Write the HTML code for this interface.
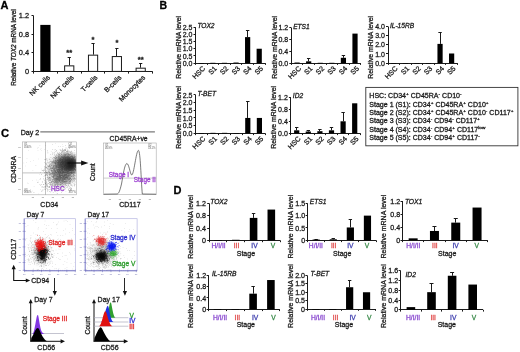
<!DOCTYPE html><html><head><meta charset="utf-8"><style>html,body{margin:0;padding:0;background:#fff;}svg{display:block;will-change:transform;filter:blur(0.3px);}</style></head><body><svg width="520" height="352" viewBox="0 0 520 352" font-family='"Liberation Sans", sans-serif'>
<style>text{stroke-width:0.28px;}</style>
<rect width="520" height="352" fill="#fff"/>
<text x="0.40" y="8.90" font-size="11.0" text-anchor="start" fill="#000" stroke="#000" font-weight="bold">A</text>
<text x="159.50" y="9.00" font-size="10.5" text-anchor="start" fill="#000" stroke="#000" font-weight="bold">B</text>
<text x="0.90" y="136.80" font-size="11.2" text-anchor="start" fill="#000" stroke="#000" font-weight="bold">C</text>
<text x="173.50" y="194.30" font-size="11.0" text-anchor="start" fill="#000" stroke="#000" font-weight="bold">D</text>
<line x1="33.50" y1="15.60" x2="33.50" y2="71.80" stroke="#1a1a1a" stroke-width="1.0"/>
<line x1="31.50" y1="15.50" x2="33.50" y2="15.50" stroke="#1a1a1a" stroke-width="1.0"/>
<text x="29.10" y="18.10" font-size="7.4" text-anchor="end" fill="#1a1a1a" stroke="#1a1a1a">1.2</text>
<line x1="31.50" y1="34.50" x2="33.50" y2="34.50" stroke="#1a1a1a" stroke-width="1.0"/>
<text x="29.10" y="36.70" font-size="7.4" text-anchor="end" fill="#1a1a1a" stroke="#1a1a1a">0.8</text>
<line x1="31.50" y1="52.50" x2="33.50" y2="52.50" stroke="#1a1a1a" stroke-width="1.0"/>
<text x="29.10" y="55.30" font-size="7.4" text-anchor="end" fill="#1a1a1a" stroke="#1a1a1a">0.4</text>
<line x1="31.50" y1="71.50" x2="33.50" y2="71.50" stroke="#1a1a1a" stroke-width="1.0"/>
<text x="29.10" y="73.90" font-size="7.4" text-anchor="end" fill="#1a1a1a" stroke="#1a1a1a">0</text>
<line x1="33.10" y1="71.50" x2="152.60" y2="71.50" stroke="#1a1a1a" stroke-width="1.0"/>
<line x1="33.50" y1="71.40" x2="33.50" y2="73.60" stroke="#1a1a1a" stroke-width="1.0"/>
<line x1="57.50" y1="71.40" x2="57.50" y2="73.60" stroke="#1a1a1a" stroke-width="1.0"/>
<line x1="81.50" y1="71.40" x2="81.50" y2="73.60" stroke="#1a1a1a" stroke-width="1.0"/>
<line x1="104.50" y1="71.40" x2="104.50" y2="73.60" stroke="#1a1a1a" stroke-width="1.0"/>
<line x1="128.50" y1="71.40" x2="128.50" y2="73.60" stroke="#1a1a1a" stroke-width="1.0"/>
<line x1="152.50" y1="71.40" x2="152.50" y2="73.60" stroke="#1a1a1a" stroke-width="1.0"/>
<rect x="40.31" y="24.90" width="10.20" height="46.50" fill="#000" stroke="none" stroke-width="0.8"/>
<line x1="69.50" y1="57.92" x2="69.50" y2="65.36" stroke="#1a1a1a" stroke-width="1.0"/>
<line x1="67.63" y1="57.50" x2="70.83" y2="57.50" stroke="#1a1a1a" stroke-width="1.0"/>
<rect x="64.63" y="65.86" width="9.20" height="5.55" fill="#fff" stroke="#1a1a1a" stroke-width="1.0"/>
<line x1="93.50" y1="43.50" x2="93.50" y2="54.66" stroke="#1a1a1a" stroke-width="1.0"/>
<line x1="91.45" y1="43.50" x2="94.65" y2="43.50" stroke="#1a1a1a" stroke-width="1.0"/>
<rect x="88.45" y="55.16" width="9.20" height="16.24" fill="#fff" stroke="#1a1a1a" stroke-width="1.0"/>
<line x1="116.50" y1="48.62" x2="116.50" y2="56.06" stroke="#1a1a1a" stroke-width="1.0"/>
<line x1="115.27" y1="48.50" x2="118.47" y2="48.50" stroke="#1a1a1a" stroke-width="1.0"/>
<rect x="112.27" y="56.56" width="9.20" height="14.85" fill="#fff" stroke="#1a1a1a" stroke-width="1.0"/>
<line x1="140.50" y1="63.03" x2="140.50" y2="67.68" stroke="#1a1a1a" stroke-width="1.0"/>
<line x1="139.09" y1="63.50" x2="142.29" y2="63.50" stroke="#1a1a1a" stroke-width="1.0"/>
<rect x="136.09" y="68.18" width="9.20" height="3.22" fill="#fff" stroke="#1a1a1a" stroke-width="1.0"/>
<text x="69.23" y="55.00" font-size="7.6" text-anchor="middle" fill="#1a1a1a" stroke="#1a1a1a" font-weight="bold">**</text>
<text x="93.05" y="42.30" font-size="7.6" text-anchor="middle" fill="#1a1a1a" stroke="#1a1a1a" font-weight="bold">*</text>
<text x="116.87" y="45.30" font-size="7.6" text-anchor="middle" fill="#1a1a1a" stroke="#1a1a1a" font-weight="bold">*</text>
<text x="140.69" y="61.60" font-size="7.6" text-anchor="middle" fill="#1a1a1a" stroke="#1a1a1a" font-weight="bold">**</text>
<text x="50.41" y="78.00" font-size="7.0" text-anchor="end" fill="#1a1a1a" stroke="#1a1a1a" transform="rotate(-45 50.41 78.00)">NK cells</text>
<text x="74.23" y="78.00" font-size="7.0" text-anchor="end" fill="#1a1a1a" stroke="#1a1a1a" transform="rotate(-45 74.23 78.00)">NKT cells</text>
<text x="98.05" y="78.00" font-size="7.0" text-anchor="end" fill="#1a1a1a" stroke="#1a1a1a" transform="rotate(-45 98.05 78.00)">T-cells</text>
<text x="121.87" y="78.00" font-size="7.0" text-anchor="end" fill="#1a1a1a" stroke="#1a1a1a" transform="rotate(-45 121.87 78.00)">B-cells</text>
<text x="145.69" y="78.00" font-size="7.0" text-anchor="end" fill="#1a1a1a" stroke="#1a1a1a" transform="rotate(-45 145.69 78.00)">Monocytes</text>
<text x="15.6" y="47.6" font-size="6.4" text-anchor="middle" fill="#1a1a1a" stroke="#1a1a1a" transform="translate(15.6 47.6) scale(1.15 1) rotate(-90) translate(-15.6 -47.6)">Relative <tspan font-style="italic">TOX2</tspan> mRNA level</text>
<line x1="195.50" y1="27.20" x2="195.50" y2="63.50" stroke="#1a1a1a" stroke-width="1.0"/>
<line x1="193.50" y1="27.50" x2="195.50" y2="27.50" stroke="#1a1a1a" stroke-width="1.0"/>
<text x="192.40" y="29.80" font-size="7.0" text-anchor="end" fill="#1a1a1a" stroke="#1a1a1a">2.5</text>
<line x1="193.50" y1="34.50" x2="195.50" y2="34.50" stroke="#1a1a1a" stroke-width="1.0"/>
<text x="192.40" y="36.98" font-size="7.0" text-anchor="end" fill="#1a1a1a" stroke="#1a1a1a">2.0</text>
<line x1="193.50" y1="41.50" x2="195.50" y2="41.50" stroke="#1a1a1a" stroke-width="1.0"/>
<text x="192.40" y="44.16" font-size="7.0" text-anchor="end" fill="#1a1a1a" stroke="#1a1a1a">1.5</text>
<line x1="193.50" y1="48.50" x2="195.50" y2="48.50" stroke="#1a1a1a" stroke-width="1.0"/>
<text x="192.40" y="51.34" font-size="7.0" text-anchor="end" fill="#1a1a1a" stroke="#1a1a1a">1.0</text>
<line x1="193.50" y1="55.50" x2="195.50" y2="55.50" stroke="#1a1a1a" stroke-width="1.0"/>
<text x="192.40" y="58.52" font-size="7.0" text-anchor="end" fill="#1a1a1a" stroke="#1a1a1a">0.5</text>
<line x1="193.50" y1="63.50" x2="195.50" y2="63.50" stroke="#1a1a1a" stroke-width="1.0"/>
<text x="192.40" y="65.70" font-size="7.0" text-anchor="end" fill="#1a1a1a" stroke="#1a1a1a">0.0</text>
<line x1="195.10" y1="63.50" x2="265.00" y2="63.50" stroke="#1a1a1a" stroke-width="1.0"/>
<line x1="195.50" y1="63.10" x2="195.50" y2="64.90" stroke="#1a1a1a" stroke-width="1.0"/>
<line x1="207.50" y1="63.10" x2="207.50" y2="64.90" stroke="#1a1a1a" stroke-width="1.0"/>
<line x1="218.50" y1="63.10" x2="218.50" y2="64.90" stroke="#1a1a1a" stroke-width="1.0"/>
<line x1="230.50" y1="63.10" x2="230.50" y2="64.90" stroke="#1a1a1a" stroke-width="1.0"/>
<line x1="241.50" y1="63.10" x2="241.50" y2="64.90" stroke="#1a1a1a" stroke-width="1.0"/>
<line x1="253.50" y1="63.10" x2="253.50" y2="64.90" stroke="#1a1a1a" stroke-width="1.0"/>
<line x1="265.50" y1="63.10" x2="265.50" y2="64.90" stroke="#1a1a1a" stroke-width="1.0"/>
<rect x="198.69" y="63.10" width="5.20" height="0.60" fill="#000" stroke="none" stroke-width="0.8"/>
<rect x="210.28" y="62.81" width="5.20" height="0.60" fill="#000" stroke="none" stroke-width="0.8"/>
<rect x="221.86" y="62.81" width="5.20" height="0.60" fill="#000" stroke="none" stroke-width="0.8"/>
<rect x="233.44" y="62.53" width="5.20" height="0.60" fill="#000" stroke="none" stroke-width="0.8"/>
<line x1="247.50" y1="30.22" x2="247.50" y2="37.11" stroke="#1a1a1a" stroke-width="1.0"/>
<line x1="245.93" y1="30.50" x2="249.32" y2="30.50" stroke="#1a1a1a" stroke-width="1.0"/>
<rect x="245.03" y="37.11" width="5.20" height="25.99" fill="#000" stroke="none" stroke-width="0.8"/>
<rect x="256.61" y="48.74" width="5.20" height="14.36" fill="#000" stroke="none" stroke-width="0.8"/>
<text x="197.40" y="28.30" font-size="6.6" text-anchor="start" fill="#1a1a1a" stroke="#1a1a1a" font-style="italic">TOX2</text>
<text x="205.69" y="69.00" font-size="7.0" text-anchor="end" fill="#1a1a1a" stroke="#1a1a1a" transform="rotate(-45 205.69 69.00)">HSC</text>
<text x="217.28" y="69.00" font-size="7.0" text-anchor="end" fill="#1a1a1a" stroke="#1a1a1a" transform="rotate(-45 217.28 69.00)">S1</text>
<text x="228.86" y="69.00" font-size="7.0" text-anchor="end" fill="#1a1a1a" stroke="#1a1a1a" transform="rotate(-45 228.86 69.00)">S2</text>
<text x="240.44" y="69.00" font-size="7.0" text-anchor="end" fill="#1a1a1a" stroke="#1a1a1a" transform="rotate(-45 240.44 69.00)">S3</text>
<text x="252.03" y="69.00" font-size="7.0" text-anchor="end" fill="#1a1a1a" stroke="#1a1a1a" transform="rotate(-45 252.03 69.00)">S4</text>
<text x="263.61" y="69.00" font-size="7.0" text-anchor="end" fill="#1a1a1a" stroke="#1a1a1a" transform="rotate(-45 263.61 69.00)">S5</text>
<text x="180.70" y="47.30" font-size="6.9" text-anchor="middle" fill="#1a1a1a" stroke="#1a1a1a" transform="rotate(-90 180.70 47.30)">Relative mRNA level</text>
<line x1="291.50" y1="27.70" x2="291.50" y2="63.50" stroke="#1a1a1a" stroke-width="1.0"/>
<line x1="289.30" y1="27.50" x2="291.30" y2="27.50" stroke="#1a1a1a" stroke-width="1.0"/>
<text x="288.20" y="30.30" font-size="7.0" text-anchor="end" fill="#1a1a1a" stroke="#1a1a1a">1.2</text>
<line x1="289.30" y1="39.50" x2="291.30" y2="39.50" stroke="#1a1a1a" stroke-width="1.0"/>
<text x="288.20" y="42.10" font-size="7.0" text-anchor="end" fill="#1a1a1a" stroke="#1a1a1a">0.8</text>
<line x1="289.30" y1="51.50" x2="291.30" y2="51.50" stroke="#1a1a1a" stroke-width="1.0"/>
<text x="288.20" y="53.90" font-size="7.0" text-anchor="end" fill="#1a1a1a" stroke="#1a1a1a">0.4</text>
<line x1="289.30" y1="63.50" x2="291.30" y2="63.50" stroke="#1a1a1a" stroke-width="1.0"/>
<text x="288.20" y="65.70" font-size="7.0" text-anchor="end" fill="#1a1a1a" stroke="#1a1a1a">0.0</text>
<line x1="290.90" y1="63.50" x2="360.80" y2="63.50" stroke="#1a1a1a" stroke-width="1.0"/>
<line x1="291.50" y1="63.10" x2="291.50" y2="64.90" stroke="#1a1a1a" stroke-width="1.0"/>
<line x1="302.50" y1="63.10" x2="302.50" y2="64.90" stroke="#1a1a1a" stroke-width="1.0"/>
<line x1="314.50" y1="63.10" x2="314.50" y2="64.90" stroke="#1a1a1a" stroke-width="1.0"/>
<line x1="326.50" y1="63.10" x2="326.50" y2="64.90" stroke="#1a1a1a" stroke-width="1.0"/>
<line x1="337.50" y1="63.10" x2="337.50" y2="64.90" stroke="#1a1a1a" stroke-width="1.0"/>
<line x1="349.50" y1="63.10" x2="349.50" y2="64.90" stroke="#1a1a1a" stroke-width="1.0"/>
<line x1="360.50" y1="63.10" x2="360.50" y2="64.90" stroke="#1a1a1a" stroke-width="1.0"/>
<rect x="294.49" y="62.51" width="5.20" height="0.60" fill="#000" stroke="none" stroke-width="0.8"/>
<line x1="308.50" y1="58.97" x2="308.50" y2="61.33" stroke="#1a1a1a" stroke-width="1.0"/>
<line x1="306.98" y1="58.50" x2="310.38" y2="58.50" stroke="#1a1a1a" stroke-width="1.0"/>
<rect x="306.07" y="61.33" width="5.20" height="1.77" fill="#000" stroke="none" stroke-width="0.8"/>
<rect x="317.66" y="62.80" width="5.20" height="0.60" fill="#000" stroke="none" stroke-width="0.8"/>
<rect x="329.24" y="62.80" width="5.20" height="0.60" fill="#000" stroke="none" stroke-width="0.8"/>
<line x1="343.50" y1="55.43" x2="343.50" y2="57.79" stroke="#1a1a1a" stroke-width="1.0"/>
<line x1="341.73" y1="55.50" x2="345.12" y2="55.50" stroke="#1a1a1a" stroke-width="1.0"/>
<rect x="340.82" y="57.79" width="5.20" height="5.31" fill="#000" stroke="none" stroke-width="0.8"/>
<rect x="352.41" y="33.60" width="5.20" height="29.50" fill="#000" stroke="none" stroke-width="0.8"/>
<text x="293.20" y="28.80" font-size="6.6" text-anchor="start" fill="#1a1a1a" stroke="#1a1a1a" font-style="italic">ETS1</text>
<text x="301.49" y="69.00" font-size="7.0" text-anchor="end" fill="#1a1a1a" stroke="#1a1a1a" transform="rotate(-45 301.49 69.00)">HSC</text>
<text x="313.07" y="69.00" font-size="7.0" text-anchor="end" fill="#1a1a1a" stroke="#1a1a1a" transform="rotate(-45 313.07 69.00)">S1</text>
<text x="324.66" y="69.00" font-size="7.0" text-anchor="end" fill="#1a1a1a" stroke="#1a1a1a" transform="rotate(-45 324.66 69.00)">S2</text>
<text x="336.24" y="69.00" font-size="7.0" text-anchor="end" fill="#1a1a1a" stroke="#1a1a1a" transform="rotate(-45 336.24 69.00)">S3</text>
<text x="347.82" y="69.00" font-size="7.0" text-anchor="end" fill="#1a1a1a" stroke="#1a1a1a" transform="rotate(-45 347.82 69.00)">S4</text>
<text x="359.41" y="69.00" font-size="7.0" text-anchor="end" fill="#1a1a1a" stroke="#1a1a1a" transform="rotate(-45 359.41 69.00)">S5</text>
<text x="276.60" y="47.30" font-size="6.9" text-anchor="middle" fill="#1a1a1a" stroke="#1a1a1a" transform="rotate(-90 276.60 47.30)">Relative mRNA level</text>
<line x1="388.50" y1="26.50" x2="388.50" y2="63.50" stroke="#1a1a1a" stroke-width="1.0"/>
<line x1="386.00" y1="26.50" x2="388.00" y2="26.50" stroke="#1a1a1a" stroke-width="1.0"/>
<text x="384.90" y="29.10" font-size="7.0" text-anchor="end" fill="#1a1a1a" stroke="#1a1a1a">4.0</text>
<line x1="386.00" y1="35.50" x2="388.00" y2="35.50" stroke="#1a1a1a" stroke-width="1.0"/>
<text x="384.90" y="38.25" font-size="7.0" text-anchor="end" fill="#1a1a1a" stroke="#1a1a1a">3.0</text>
<line x1="386.00" y1="44.50" x2="388.00" y2="44.50" stroke="#1a1a1a" stroke-width="1.0"/>
<text x="384.90" y="47.40" font-size="7.0" text-anchor="end" fill="#1a1a1a" stroke="#1a1a1a">2.0</text>
<line x1="386.00" y1="53.50" x2="388.00" y2="53.50" stroke="#1a1a1a" stroke-width="1.0"/>
<text x="384.90" y="56.55" font-size="7.0" text-anchor="end" fill="#1a1a1a" stroke="#1a1a1a">1.0</text>
<line x1="386.00" y1="63.50" x2="388.00" y2="63.50" stroke="#1a1a1a" stroke-width="1.0"/>
<text x="384.90" y="65.70" font-size="7.0" text-anchor="end" fill="#1a1a1a" stroke="#1a1a1a">0.0</text>
<line x1="387.60" y1="63.50" x2="457.40" y2="63.50" stroke="#1a1a1a" stroke-width="1.0"/>
<line x1="388.50" y1="63.10" x2="388.50" y2="64.90" stroke="#1a1a1a" stroke-width="1.0"/>
<line x1="399.50" y1="63.10" x2="399.50" y2="64.90" stroke="#1a1a1a" stroke-width="1.0"/>
<line x1="411.50" y1="63.10" x2="411.50" y2="64.90" stroke="#1a1a1a" stroke-width="1.0"/>
<line x1="422.50" y1="63.10" x2="422.50" y2="64.90" stroke="#1a1a1a" stroke-width="1.0"/>
<line x1="434.50" y1="63.10" x2="434.50" y2="64.90" stroke="#1a1a1a" stroke-width="1.0"/>
<line x1="445.50" y1="63.10" x2="445.50" y2="64.90" stroke="#1a1a1a" stroke-width="1.0"/>
<line x1="457.50" y1="63.10" x2="457.50" y2="64.90" stroke="#1a1a1a" stroke-width="1.0"/>
<rect x="391.18" y="63.10" width="5.20" height="0.60" fill="#000" stroke="none" stroke-width="0.8"/>
<rect x="402.75" y="63.10" width="5.20" height="0.60" fill="#000" stroke="none" stroke-width="0.8"/>
<rect x="414.32" y="63.10" width="5.20" height="0.60" fill="#000" stroke="none" stroke-width="0.8"/>
<rect x="425.88" y="63.10" width="5.20" height="0.60" fill="#000" stroke="none" stroke-width="0.8"/>
<line x1="440.50" y1="32.36" x2="440.50" y2="43.89" stroke="#1a1a1a" stroke-width="1.0"/>
<line x1="438.35" y1="32.50" x2="441.75" y2="32.50" stroke="#1a1a1a" stroke-width="1.0"/>
<rect x="437.45" y="43.89" width="5.20" height="19.21" fill="#000" stroke="none" stroke-width="0.8"/>
<rect x="449.02" y="53.49" width="5.20" height="9.61" fill="#000" stroke="none" stroke-width="0.8"/>
<text x="389.90" y="27.60" font-size="6.6" text-anchor="start" fill="#1a1a1a" stroke="#1a1a1a" font-style="italic">IL-15RB</text>
<text x="398.18" y="69.00" font-size="7.0" text-anchor="end" fill="#1a1a1a" stroke="#1a1a1a" transform="rotate(-45 398.18 69.00)">HSC</text>
<text x="409.75" y="69.00" font-size="7.0" text-anchor="end" fill="#1a1a1a" stroke="#1a1a1a" transform="rotate(-45 409.75 69.00)">S1</text>
<text x="421.32" y="69.00" font-size="7.0" text-anchor="end" fill="#1a1a1a" stroke="#1a1a1a" transform="rotate(-45 421.32 69.00)">S2</text>
<text x="432.88" y="69.00" font-size="7.0" text-anchor="end" fill="#1a1a1a" stroke="#1a1a1a" transform="rotate(-45 432.88 69.00)">S3</text>
<text x="444.45" y="69.00" font-size="7.0" text-anchor="end" fill="#1a1a1a" stroke="#1a1a1a" transform="rotate(-45 444.45 69.00)">S4</text>
<text x="456.02" y="69.00" font-size="7.0" text-anchor="end" fill="#1a1a1a" stroke="#1a1a1a" transform="rotate(-45 456.02 69.00)">S5</text>
<text x="373.30" y="47.30" font-size="6.9" text-anchor="middle" fill="#1a1a1a" stroke="#1a1a1a" transform="rotate(-90 373.30 47.30)">Relative mRNA level</text>
<line x1="195.50" y1="94.90" x2="195.50" y2="133.70" stroke="#1a1a1a" stroke-width="1.0"/>
<line x1="193.60" y1="94.50" x2="195.60" y2="94.50" stroke="#1a1a1a" stroke-width="1.0"/>
<text x="192.50" y="97.50" font-size="7.0" text-anchor="end" fill="#1a1a1a" stroke="#1a1a1a">2.5</text>
<line x1="193.60" y1="102.50" x2="195.60" y2="102.50" stroke="#1a1a1a" stroke-width="1.0"/>
<text x="192.50" y="105.18" font-size="7.0" text-anchor="end" fill="#1a1a1a" stroke="#1a1a1a">2.0</text>
<line x1="193.60" y1="110.50" x2="195.60" y2="110.50" stroke="#1a1a1a" stroke-width="1.0"/>
<text x="192.50" y="112.86" font-size="7.0" text-anchor="end" fill="#1a1a1a" stroke="#1a1a1a">1.5</text>
<line x1="193.60" y1="117.50" x2="195.60" y2="117.50" stroke="#1a1a1a" stroke-width="1.0"/>
<text x="192.50" y="120.54" font-size="7.0" text-anchor="end" fill="#1a1a1a" stroke="#1a1a1a">1.0</text>
<line x1="193.60" y1="125.50" x2="195.60" y2="125.50" stroke="#1a1a1a" stroke-width="1.0"/>
<text x="192.50" y="128.22" font-size="7.0" text-anchor="end" fill="#1a1a1a" stroke="#1a1a1a">0.5</text>
<line x1="193.60" y1="133.50" x2="195.60" y2="133.50" stroke="#1a1a1a" stroke-width="1.0"/>
<text x="192.50" y="135.90" font-size="7.0" text-anchor="end" fill="#1a1a1a" stroke="#1a1a1a">0.0</text>
<line x1="195.20" y1="133.50" x2="265.20" y2="133.50" stroke="#1a1a1a" stroke-width="1.0"/>
<line x1="195.50" y1="133.30" x2="195.50" y2="135.10" stroke="#1a1a1a" stroke-width="1.0"/>
<line x1="207.50" y1="133.30" x2="207.50" y2="135.10" stroke="#1a1a1a" stroke-width="1.0"/>
<line x1="218.50" y1="133.30" x2="218.50" y2="135.10" stroke="#1a1a1a" stroke-width="1.0"/>
<line x1="230.50" y1="133.30" x2="230.50" y2="135.10" stroke="#1a1a1a" stroke-width="1.0"/>
<line x1="242.50" y1="133.30" x2="242.50" y2="135.10" stroke="#1a1a1a" stroke-width="1.0"/>
<line x1="253.50" y1="133.30" x2="253.50" y2="135.10" stroke="#1a1a1a" stroke-width="1.0"/>
<line x1="265.50" y1="133.30" x2="265.50" y2="135.10" stroke="#1a1a1a" stroke-width="1.0"/>
<rect x="198.80" y="133.30" width="5.20" height="0.60" fill="#000" stroke="none" stroke-width="0.8"/>
<rect x="210.40" y="132.84" width="5.20" height="0.60" fill="#000" stroke="none" stroke-width="0.8"/>
<rect x="222.00" y="132.84" width="5.20" height="0.60" fill="#000" stroke="none" stroke-width="0.8"/>
<rect x="233.60" y="133.30" width="5.20" height="0.60" fill="#000" stroke="none" stroke-width="0.8"/>
<line x1="247.50" y1="101.04" x2="247.50" y2="117.94" stroke="#1a1a1a" stroke-width="1.0"/>
<line x1="246.10" y1="101.50" x2="249.50" y2="101.50" stroke="#1a1a1a" stroke-width="1.0"/>
<rect x="245.20" y="117.94" width="5.20" height="15.36" fill="#000" stroke="none" stroke-width="0.8"/>
<rect x="256.80" y="117.94" width="5.20" height="15.36" fill="#000" stroke="none" stroke-width="0.8"/>
<text x="197.50" y="96.00" font-size="6.6" text-anchor="start" fill="#1a1a1a" stroke="#1a1a1a" font-style="italic">T-BET</text>
<text x="205.80" y="139.20" font-size="7.0" text-anchor="end" fill="#1a1a1a" stroke="#1a1a1a" transform="rotate(-45 205.80 139.20)">HSC</text>
<text x="217.40" y="139.20" font-size="7.0" text-anchor="end" fill="#1a1a1a" stroke="#1a1a1a" transform="rotate(-45 217.40 139.20)">S1</text>
<text x="229.00" y="139.20" font-size="7.0" text-anchor="end" fill="#1a1a1a" stroke="#1a1a1a" transform="rotate(-45 229.00 139.20)">S2</text>
<text x="240.60" y="139.20" font-size="7.0" text-anchor="end" fill="#1a1a1a" stroke="#1a1a1a" transform="rotate(-45 240.60 139.20)">S3</text>
<text x="252.20" y="139.20" font-size="7.0" text-anchor="end" fill="#1a1a1a" stroke="#1a1a1a" transform="rotate(-45 252.20 139.20)">S4</text>
<text x="263.80" y="139.20" font-size="7.0" text-anchor="end" fill="#1a1a1a" stroke="#1a1a1a" transform="rotate(-45 263.80 139.20)">S5</text>
<text x="180.70" y="117.30" font-size="6.9" text-anchor="middle" fill="#1a1a1a" stroke="#1a1a1a" transform="rotate(-90 180.70 117.30)">Relative mRNA level</text>
<line x1="290.50" y1="97.30" x2="290.50" y2="133.70" stroke="#1a1a1a" stroke-width="1.0"/>
<line x1="288.90" y1="97.50" x2="290.90" y2="97.50" stroke="#1a1a1a" stroke-width="1.0"/>
<text x="287.80" y="99.90" font-size="7.0" text-anchor="end" fill="#1a1a1a" stroke="#1a1a1a">1.2</text>
<line x1="288.90" y1="109.50" x2="290.90" y2="109.50" stroke="#1a1a1a" stroke-width="1.0"/>
<text x="287.80" y="111.90" font-size="7.0" text-anchor="end" fill="#1a1a1a" stroke="#1a1a1a">0.8</text>
<line x1="288.90" y1="121.50" x2="290.90" y2="121.50" stroke="#1a1a1a" stroke-width="1.0"/>
<text x="287.80" y="123.90" font-size="7.0" text-anchor="end" fill="#1a1a1a" stroke="#1a1a1a">0.4</text>
<line x1="288.90" y1="133.50" x2="290.90" y2="133.50" stroke="#1a1a1a" stroke-width="1.0"/>
<text x="287.80" y="135.90" font-size="7.0" text-anchor="end" fill="#1a1a1a" stroke="#1a1a1a">0.0</text>
<line x1="290.50" y1="133.50" x2="360.50" y2="133.50" stroke="#1a1a1a" stroke-width="1.0"/>
<line x1="290.50" y1="133.30" x2="290.50" y2="135.10" stroke="#1a1a1a" stroke-width="1.0"/>
<line x1="302.50" y1="133.30" x2="302.50" y2="135.10" stroke="#1a1a1a" stroke-width="1.0"/>
<line x1="314.50" y1="133.30" x2="314.50" y2="135.10" stroke="#1a1a1a" stroke-width="1.0"/>
<line x1="325.50" y1="133.30" x2="325.50" y2="135.10" stroke="#1a1a1a" stroke-width="1.0"/>
<line x1="337.50" y1="133.30" x2="337.50" y2="135.10" stroke="#1a1a1a" stroke-width="1.0"/>
<line x1="348.50" y1="133.30" x2="348.50" y2="135.10" stroke="#1a1a1a" stroke-width="1.0"/>
<line x1="360.50" y1="133.30" x2="360.50" y2="135.10" stroke="#1a1a1a" stroke-width="1.0"/>
<line x1="296.50" y1="127.30" x2="296.50" y2="130.30" stroke="#1a1a1a" stroke-width="1.0"/>
<line x1="295.00" y1="127.50" x2="298.40" y2="127.50" stroke="#1a1a1a" stroke-width="1.0"/>
<rect x="294.10" y="130.30" width="5.20" height="3.00" fill="#000" stroke="none" stroke-width="0.8"/>
<line x1="308.50" y1="130.30" x2="308.50" y2="131.50" stroke="#1a1a1a" stroke-width="1.0"/>
<line x1="306.60" y1="130.50" x2="310.00" y2="130.50" stroke="#1a1a1a" stroke-width="1.0"/>
<rect x="305.70" y="131.50" width="5.20" height="1.80" fill="#000" stroke="none" stroke-width="0.8"/>
<line x1="319.50" y1="129.40" x2="319.50" y2="131.20" stroke="#1a1a1a" stroke-width="1.0"/>
<line x1="318.20" y1="129.50" x2="321.60" y2="129.50" stroke="#1a1a1a" stroke-width="1.0"/>
<rect x="317.30" y="131.20" width="5.20" height="2.10" fill="#000" stroke="none" stroke-width="0.8"/>
<line x1="331.50" y1="127.90" x2="331.50" y2="130.30" stroke="#1a1a1a" stroke-width="1.0"/>
<line x1="329.80" y1="127.50" x2="333.20" y2="127.50" stroke="#1a1a1a" stroke-width="1.0"/>
<rect x="328.90" y="130.30" width="5.20" height="3.00" fill="#000" stroke="none" stroke-width="0.8"/>
<line x1="343.50" y1="112.30" x2="343.50" y2="121.30" stroke="#1a1a1a" stroke-width="1.0"/>
<line x1="341.40" y1="112.50" x2="344.80" y2="112.50" stroke="#1a1a1a" stroke-width="1.0"/>
<rect x="340.50" y="121.30" width="5.20" height="12.00" fill="#000" stroke="none" stroke-width="0.8"/>
<rect x="352.10" y="103.30" width="5.20" height="30.00" fill="#000" stroke="none" stroke-width="0.8"/>
<text x="292.80" y="98.40" font-size="6.6" text-anchor="start" fill="#1a1a1a" stroke="#1a1a1a" font-style="italic">ID2</text>
<text x="301.10" y="139.20" font-size="7.0" text-anchor="end" fill="#1a1a1a" stroke="#1a1a1a" transform="rotate(-45 301.10 139.20)">HSC</text>
<text x="312.70" y="139.20" font-size="7.0" text-anchor="end" fill="#1a1a1a" stroke="#1a1a1a" transform="rotate(-45 312.70 139.20)">S1</text>
<text x="324.30" y="139.20" font-size="7.0" text-anchor="end" fill="#1a1a1a" stroke="#1a1a1a" transform="rotate(-45 324.30 139.20)">S2</text>
<text x="335.90" y="139.20" font-size="7.0" text-anchor="end" fill="#1a1a1a" stroke="#1a1a1a" transform="rotate(-45 335.90 139.20)">S3</text>
<text x="347.50" y="139.20" font-size="7.0" text-anchor="end" fill="#1a1a1a" stroke="#1a1a1a" transform="rotate(-45 347.50 139.20)">S4</text>
<text x="359.10" y="139.20" font-size="7.0" text-anchor="end" fill="#1a1a1a" stroke="#1a1a1a" transform="rotate(-45 359.10 139.20)">S5</text>
<text x="276.20" y="117.30" font-size="6.9" text-anchor="middle" fill="#1a1a1a" stroke="#1a1a1a" transform="rotate(-90 276.20 117.30)">Relative mRNA level</text>
<rect x="365.80" y="87.40" width="152.10" height="58.40" fill="none" stroke="#333" stroke-width="0.9"/>
<text x="369.3" y="98.00" font-size="6.41" fill="#1a1a1a" stroke="#1a1a1a" transform="translate(369.3 98.00) scale(1.1 1) translate(-369.3 -98.00)">HSC: CD34<tspan dy="-3" font-size="4.3">+</tspan><tspan dy="3"> CD45RA</tspan><tspan dy="-3" font-size="4.3">-</tspan><tspan dy="3"> CD10</tspan><tspan dy="-3" font-size="4.3">-</tspan></text>
<text x="369.3" y="107.00" font-size="6.41" fill="#1a1a1a" stroke="#1a1a1a" transform="translate(369.3 107.00) scale(1.1 1) translate(-369.3 -107.00)">Stage 1 (S1): CD34<tspan dy="-3" font-size="4.3">+</tspan><tspan dy="3"> CD45RA</tspan><tspan dy="-3" font-size="4.3">+</tspan><tspan dy="3"> CD10</tspan><tspan dy="-3" font-size="4.3">+</tspan></text>
<text x="369.3" y="115.00" font-size="6.41" fill="#1a1a1a" stroke="#1a1a1a" transform="translate(369.3 115.00) scale(1.1 1) translate(-369.3 -115.00)">Stage 2 (S2): CD34<tspan dy="-3" font-size="4.3">+</tspan><tspan dy="3"> CD45RA</tspan><tspan dy="-3" font-size="4.3">+</tspan><tspan dy="3"> CD10</tspan><tspan dy="-3" font-size="4.3">-</tspan><tspan dy="3"> CD117</tspan><tspan dy="-3" font-size="4.3">+</tspan></text>
<text x="369.3" y="123.00" font-size="6.41" fill="#1a1a1a" stroke="#1a1a1a" transform="translate(369.3 123.00) scale(1.1 1) translate(-369.3 -123.00)">Stage 3 (S3): CD34<tspan dy="-3" font-size="4.3">-</tspan><tspan dy="3"> CD94</tspan><tspan dy="-3" font-size="4.3">-</tspan><tspan dy="3"> CD117</tspan><tspan dy="-3" font-size="4.3">+</tspan></text>
<text x="369.3" y="132.00" font-size="6.41" fill="#1a1a1a" stroke="#1a1a1a" transform="translate(369.3 132.00) scale(1.1 1) translate(-369.3 -132.00)">Stage 4 (S4): CD34<tspan dy="-3" font-size="4.3">-</tspan><tspan dy="3"> CD94</tspan><tspan dy="-3" font-size="4.3">+</tspan><tspan dy="3"> CD117</tspan><tspan dy="-3" font-size="4.3">low</tspan></text>
<text x="369.3" y="140.00" font-size="6.41" fill="#1a1a1a" stroke="#1a1a1a" transform="translate(369.3 140.00) scale(1.1 1) translate(-369.3 -140.00)">Stage 5 (S5): CD34<tspan dy="-3" font-size="4.3">-</tspan><tspan dy="3"> CD94</tspan><tspan dy="-3" font-size="4.3">+</tspan><tspan dy="3"> CD117</tspan><tspan dy="-3" font-size="4.3">-</tspan></text>
<line x1="209.50" y1="203.40" x2="209.50" y2="240.80" stroke="#1a1a1a" stroke-width="1.0"/>
<line x1="207.20" y1="203.50" x2="209.20" y2="203.50" stroke="#1a1a1a" stroke-width="1.0"/>
<text x="205.90" y="206.00" font-size="7.1" text-anchor="end" fill="#1a1a1a" stroke="#1a1a1a">1.2</text>
<line x1="207.20" y1="215.50" x2="209.20" y2="215.50" stroke="#1a1a1a" stroke-width="1.0"/>
<text x="205.90" y="218.33" font-size="7.1" text-anchor="end" fill="#1a1a1a" stroke="#1a1a1a">0.8</text>
<line x1="207.20" y1="228.50" x2="209.20" y2="228.50" stroke="#1a1a1a" stroke-width="1.0"/>
<text x="205.90" y="230.67" font-size="7.1" text-anchor="end" fill="#1a1a1a" stroke="#1a1a1a">0.4</text>
<line x1="207.20" y1="240.50" x2="209.20" y2="240.50" stroke="#1a1a1a" stroke-width="1.0"/>
<text x="205.90" y="243.00" font-size="7.1" text-anchor="end" fill="#1a1a1a" stroke="#1a1a1a">0</text>
<line x1="208.80" y1="240.50" x2="280.20" y2="240.50" stroke="#1a1a1a" stroke-width="1.0"/>
<line x1="209.50" y1="240.40" x2="209.50" y2="242.20" stroke="#1a1a1a" stroke-width="1.0"/>
<line x1="226.50" y1="240.40" x2="226.50" y2="242.20" stroke="#1a1a1a" stroke-width="1.0"/>
<line x1="244.50" y1="240.40" x2="244.50" y2="242.20" stroke="#1a1a1a" stroke-width="1.0"/>
<line x1="262.50" y1="240.40" x2="262.50" y2="242.20" stroke="#1a1a1a" stroke-width="1.0"/>
<line x1="280.50" y1="240.40" x2="280.50" y2="242.20" stroke="#1a1a1a" stroke-width="1.0"/>
<rect x="214.27" y="240.40" width="7.60" height="0.60" fill="#000" stroke="none" stroke-width="0.8"/>
<rect x="232.02" y="239.78" width="7.60" height="0.62" fill="#000" stroke="none" stroke-width="0.8"/>
<line x1="253.50" y1="213.88" x2="253.50" y2="217.89" stroke="#1a1a1a" stroke-width="1.0"/>
<line x1="251.88" y1="213.50" x2="255.27" y2="213.50" stroke="#1a1a1a" stroke-width="1.0"/>
<rect x="249.77" y="217.89" width="7.60" height="22.51" fill="#000" stroke="none" stroke-width="0.8"/>
<rect x="267.52" y="209.57" width="7.60" height="30.83" fill="#000" stroke="none" stroke-width="0.8"/>
<text x="210.20" y="203.60" font-size="6.7" text-anchor="start" fill="#1a1a1a" stroke="#1a1a1a" font-style="italic">TOX2</text>
<text x="218.60" y="248.00" font-size="6.7" text-anchor="middle" fill="#8a4ad0" stroke="#8a4ad0">H/I/II</text>
<text x="236.55" y="248.00" font-size="6.7" text-anchor="middle" fill="#e04848" stroke="#e04848">III</text>
<text x="254.50" y="248.00" font-size="6.7" text-anchor="middle" fill="#4242b0" stroke="#4242b0">IV</text>
<text x="272.95" y="248.00" font-size="6.7" text-anchor="middle" fill="#3a8a4a" stroke="#3a8a4a">V</text>
<text x="245.90" y="256.20" font-size="7.0" text-anchor="middle" fill="#1a1a1a" stroke="#1a1a1a">Stage</text>
<text x="193.30" y="226.90" font-size="7.0" text-anchor="middle" fill="#1a1a1a" stroke="#1a1a1a" transform="rotate(-90 193.30 226.90)">Relative mRNA level</text>
<line x1="307.50" y1="203.30" x2="307.50" y2="240.70" stroke="#1a1a1a" stroke-width="1.0"/>
<line x1="305.60" y1="203.50" x2="307.60" y2="203.50" stroke="#1a1a1a" stroke-width="1.0"/>
<text x="305.20" y="205.90" font-size="7.1" text-anchor="end" fill="#1a1a1a" stroke="#1a1a1a">1.5</text>
<line x1="305.60" y1="215.50" x2="307.60" y2="215.50" stroke="#1a1a1a" stroke-width="1.0"/>
<text x="305.20" y="218.23" font-size="7.1" text-anchor="end" fill="#1a1a1a" stroke="#1a1a1a">1.0</text>
<line x1="305.60" y1="227.50" x2="307.60" y2="227.50" stroke="#1a1a1a" stroke-width="1.0"/>
<text x="305.20" y="230.57" font-size="7.1" text-anchor="end" fill="#1a1a1a" stroke="#1a1a1a">0.5</text>
<line x1="305.60" y1="240.50" x2="307.60" y2="240.50" stroke="#1a1a1a" stroke-width="1.0"/>
<text x="305.20" y="242.90" font-size="7.1" text-anchor="end" fill="#1a1a1a" stroke="#1a1a1a">0</text>
<line x1="307.20" y1="240.50" x2="376.00" y2="240.50" stroke="#1a1a1a" stroke-width="1.0"/>
<line x1="307.50" y1="240.30" x2="307.50" y2="242.10" stroke="#1a1a1a" stroke-width="1.0"/>
<line x1="324.50" y1="240.30" x2="324.50" y2="242.10" stroke="#1a1a1a" stroke-width="1.0"/>
<line x1="341.50" y1="240.30" x2="341.50" y2="242.10" stroke="#1a1a1a" stroke-width="1.0"/>
<line x1="358.50" y1="240.30" x2="358.50" y2="242.10" stroke="#1a1a1a" stroke-width="1.0"/>
<line x1="376.50" y1="240.30" x2="376.50" y2="242.10" stroke="#1a1a1a" stroke-width="1.0"/>
<line x1="316.50" y1="239.07" x2="316.50" y2="239.56" stroke="#1a1a1a" stroke-width="1.0"/>
<line x1="314.45" y1="239.50" x2="317.85" y2="239.50" stroke="#1a1a1a" stroke-width="1.0"/>
<rect x="312.55" y="239.56" width="7.20" height="0.74" fill="#000" stroke="none" stroke-width="0.8"/>
<line x1="333.50" y1="238.08" x2="333.50" y2="239.31" stroke="#1a1a1a" stroke-width="1.0"/>
<line x1="331.55" y1="238.50" x2="334.95" y2="238.50" stroke="#1a1a1a" stroke-width="1.0"/>
<rect x="329.65" y="239.31" width="7.20" height="0.99" fill="#000" stroke="none" stroke-width="0.8"/>
<line x1="350.50" y1="219.83" x2="350.50" y2="227.47" stroke="#1a1a1a" stroke-width="1.0"/>
<line x1="348.65" y1="219.50" x2="352.05" y2="219.50" stroke="#1a1a1a" stroke-width="1.0"/>
<rect x="346.75" y="227.47" width="7.20" height="12.83" fill="#000" stroke="none" stroke-width="0.8"/>
<rect x="363.85" y="215.63" width="7.20" height="24.67" fill="#000" stroke="none" stroke-width="0.8"/>
<text x="309.70" y="203.90" font-size="6.7" text-anchor="start" fill="#1a1a1a" stroke="#1a1a1a" font-style="italic">ETS1</text>
<text x="315.90" y="248.00" font-size="6.7" text-anchor="middle" fill="#8a4ad0" stroke="#8a4ad0">H/I/II</text>
<text x="333.70" y="248.00" font-size="6.7" text-anchor="middle" fill="#e04848" stroke="#e04848">III</text>
<text x="350.35" y="248.00" font-size="6.7" text-anchor="middle" fill="#4242b0" stroke="#4242b0">IV</text>
<text x="367.00" y="248.00" font-size="6.7" text-anchor="middle" fill="#3a8a4a" stroke="#3a8a4a">V</text>
<text x="342.20" y="256.20" font-size="7.0" text-anchor="middle" fill="#1a1a1a" stroke="#1a1a1a">Stage</text>
<text x="293.00" y="226.70" font-size="7.0" text-anchor="middle" fill="#1a1a1a" stroke="#1a1a1a" transform="rotate(-90 293.00 226.70)">Relative mRNA level</text>
<line x1="402.50" y1="201.00" x2="402.50" y2="240.70" stroke="#1a1a1a" stroke-width="1.0"/>
<line x1="400.50" y1="201.50" x2="402.50" y2="201.50" stroke="#1a1a1a" stroke-width="1.0"/>
<text x="400.10" y="203.60" font-size="7.1" text-anchor="end" fill="#1a1a1a" stroke="#1a1a1a">1.2</text>
<line x1="400.50" y1="214.50" x2="402.50" y2="214.50" stroke="#1a1a1a" stroke-width="1.0"/>
<text x="400.10" y="216.70" font-size="7.1" text-anchor="end" fill="#1a1a1a" stroke="#1a1a1a">0.8</text>
<line x1="400.50" y1="227.50" x2="402.50" y2="227.50" stroke="#1a1a1a" stroke-width="1.0"/>
<text x="400.10" y="229.80" font-size="7.1" text-anchor="end" fill="#1a1a1a" stroke="#1a1a1a">0.4</text>
<line x1="400.50" y1="240.50" x2="402.50" y2="240.50" stroke="#1a1a1a" stroke-width="1.0"/>
<text x="400.10" y="242.90" font-size="7.1" text-anchor="end" fill="#1a1a1a" stroke="#1a1a1a">0</text>
<line x1="402.10" y1="240.50" x2="487.70" y2="240.50" stroke="#1a1a1a" stroke-width="1.0"/>
<line x1="402.50" y1="240.30" x2="402.50" y2="242.10" stroke="#1a1a1a" stroke-width="1.0"/>
<line x1="423.50" y1="240.30" x2="423.50" y2="242.10" stroke="#1a1a1a" stroke-width="1.0"/>
<line x1="445.50" y1="240.30" x2="445.50" y2="242.10" stroke="#1a1a1a" stroke-width="1.0"/>
<line x1="466.50" y1="240.30" x2="466.50" y2="242.10" stroke="#1a1a1a" stroke-width="1.0"/>
<line x1="487.50" y1="240.30" x2="487.50" y2="242.10" stroke="#1a1a1a" stroke-width="1.0"/>
<rect x="408.65" y="238.34" width="9.00" height="1.97" fill="#000" stroke="none" stroke-width="0.8"/>
<line x1="434.50" y1="226.87" x2="434.50" y2="230.97" stroke="#1a1a1a" stroke-width="1.0"/>
<line x1="432.45" y1="226.50" x2="436.45" y2="226.50" stroke="#1a1a1a" stroke-width="1.0"/>
<rect x="429.95" y="230.97" width="9.00" height="9.33" fill="#000" stroke="none" stroke-width="0.8"/>
<line x1="455.50" y1="218.36" x2="455.50" y2="222.62" stroke="#1a1a1a" stroke-width="1.0"/>
<line x1="453.75" y1="218.50" x2="457.75" y2="218.50" stroke="#1a1a1a" stroke-width="1.0"/>
<rect x="451.25" y="222.62" width="9.00" height="17.69" fill="#000" stroke="none" stroke-width="0.8"/>
<rect x="472.55" y="207.55" width="9.00" height="32.75" fill="#000" stroke="none" stroke-width="0.8"/>
<text x="404.90" y="203.80" font-size="6.7" text-anchor="start" fill="#1a1a1a" stroke="#1a1a1a" font-style="italic">TOX1</text>
<text x="413.35" y="248.00" font-size="6.7" text-anchor="middle" fill="#8a4ad0" stroke="#8a4ad0">H/I/II</text>
<text x="434.85" y="248.00" font-size="6.7" text-anchor="middle" fill="#e04848" stroke="#e04848">III</text>
<text x="455.65" y="248.00" font-size="6.7" text-anchor="middle" fill="#4242b0" stroke="#4242b0">IV</text>
<text x="476.85" y="248.00" font-size="6.7" text-anchor="middle" fill="#3a8a4a" stroke="#3a8a4a">V</text>
<text x="447.20" y="256.20" font-size="7.0" text-anchor="middle" fill="#1a1a1a" stroke="#1a1a1a">Stage</text>
<text x="386.00" y="226.60" font-size="7.0" text-anchor="middle" fill="#1a1a1a" stroke="#1a1a1a" transform="rotate(-90 386.00 226.60)">Relative mRNA level</text>
<line x1="208.50" y1="275.20" x2="208.50" y2="309.70" stroke="#1a1a1a" stroke-width="1.0"/>
<line x1="206.60" y1="275.50" x2="208.60" y2="275.50" stroke="#1a1a1a" stroke-width="1.0"/>
<text x="206.20" y="277.80" font-size="7.1" text-anchor="end" fill="#1a1a1a" stroke="#1a1a1a">1.2</text>
<line x1="206.60" y1="286.50" x2="208.60" y2="286.50" stroke="#1a1a1a" stroke-width="1.0"/>
<text x="206.20" y="289.17" font-size="7.1" text-anchor="end" fill="#1a1a1a" stroke="#1a1a1a">0.8</text>
<line x1="206.60" y1="297.50" x2="208.60" y2="297.50" stroke="#1a1a1a" stroke-width="1.0"/>
<text x="206.20" y="300.53" font-size="7.1" text-anchor="end" fill="#1a1a1a" stroke="#1a1a1a">0.4</text>
<line x1="206.60" y1="309.50" x2="208.60" y2="309.50" stroke="#1a1a1a" stroke-width="1.0"/>
<text x="206.20" y="311.90" font-size="7.1" text-anchor="end" fill="#1a1a1a" stroke="#1a1a1a">0</text>
<line x1="208.20" y1="309.50" x2="279.80" y2="309.50" stroke="#1a1a1a" stroke-width="1.0"/>
<line x1="208.50" y1="309.30" x2="208.50" y2="311.10" stroke="#1a1a1a" stroke-width="1.0"/>
<line x1="226.50" y1="309.30" x2="226.50" y2="311.10" stroke="#1a1a1a" stroke-width="1.0"/>
<line x1="244.50" y1="309.30" x2="244.50" y2="311.10" stroke="#1a1a1a" stroke-width="1.0"/>
<line x1="262.50" y1="309.30" x2="262.50" y2="311.10" stroke="#1a1a1a" stroke-width="1.0"/>
<line x1="279.50" y1="309.30" x2="279.50" y2="311.10" stroke="#1a1a1a" stroke-width="1.0"/>
<rect x="213.70" y="309.30" width="7.60" height="0.60" fill="#000" stroke="none" stroke-width="0.8"/>
<rect x="231.50" y="309.30" width="7.60" height="0.60" fill="#000" stroke="none" stroke-width="0.8"/>
<line x1="253.50" y1="286.57" x2="253.50" y2="293.67" stroke="#1a1a1a" stroke-width="1.0"/>
<line x1="251.40" y1="286.50" x2="254.80" y2="286.50" stroke="#1a1a1a" stroke-width="1.0"/>
<rect x="249.30" y="293.67" width="7.60" height="15.63" fill="#000" stroke="none" stroke-width="0.8"/>
<rect x="267.10" y="280.03" width="7.60" height="29.27" fill="#000" stroke="none" stroke-width="0.8"/>
<text x="211.90" y="275.90" font-size="6.7" text-anchor="start" fill="#1a1a1a" stroke="#1a1a1a" font-style="italic">IL-15RB</text>
<text x="220.10" y="319.60" font-size="6.7" text-anchor="middle" fill="#8a4ad0" stroke="#8a4ad0">H/I/II</text>
<text x="237.40" y="319.60" font-size="6.7" text-anchor="middle" fill="#e04848" stroke="#e04848">III</text>
<text x="255.10" y="319.60" font-size="6.7" text-anchor="middle" fill="#4242b0" stroke="#4242b0">IV</text>
<text x="273.40" y="319.60" font-size="6.7" text-anchor="middle" fill="#3a8a4a" stroke="#3a8a4a">V</text>
<text x="245.80" y="327.40" font-size="7.0" text-anchor="middle" fill="#1a1a1a" stroke="#1a1a1a">Stage</text>
<text x="193.20" y="296.00" font-size="7.0" text-anchor="middle" fill="#1a1a1a" stroke="#1a1a1a" transform="rotate(-90 193.20 296.00)">Relative mRNA level</text>
<line x1="307.50" y1="275.50" x2="307.50" y2="309.40" stroke="#1a1a1a" stroke-width="1.0"/>
<line x1="305.40" y1="275.50" x2="307.40" y2="275.50" stroke="#1a1a1a" stroke-width="1.0"/>
<text x="305.00" y="278.10" font-size="7.1" text-anchor="end" fill="#1a1a1a" stroke="#1a1a1a">2.0</text>
<line x1="305.40" y1="283.50" x2="307.40" y2="283.50" stroke="#1a1a1a" stroke-width="1.0"/>
<text x="305.00" y="286.48" font-size="7.1" text-anchor="end" fill="#1a1a1a" stroke="#1a1a1a">1.5</text>
<line x1="305.40" y1="292.50" x2="307.40" y2="292.50" stroke="#1a1a1a" stroke-width="1.0"/>
<text x="305.00" y="294.85" font-size="7.1" text-anchor="end" fill="#1a1a1a" stroke="#1a1a1a">1.0</text>
<line x1="305.40" y1="300.50" x2="307.40" y2="300.50" stroke="#1a1a1a" stroke-width="1.0"/>
<text x="305.00" y="303.23" font-size="7.1" text-anchor="end" fill="#1a1a1a" stroke="#1a1a1a">0.5</text>
<line x1="305.40" y1="309.50" x2="307.40" y2="309.50" stroke="#1a1a1a" stroke-width="1.0"/>
<text x="305.00" y="311.60" font-size="7.1" text-anchor="end" fill="#1a1a1a" stroke="#1a1a1a">0</text>
<line x1="307.00" y1="309.50" x2="375.00" y2="309.50" stroke="#1a1a1a" stroke-width="1.0"/>
<line x1="307.50" y1="309.00" x2="307.50" y2="310.80" stroke="#1a1a1a" stroke-width="1.0"/>
<line x1="324.50" y1="309.00" x2="324.50" y2="310.80" stroke="#1a1a1a" stroke-width="1.0"/>
<line x1="341.50" y1="309.00" x2="341.50" y2="310.80" stroke="#1a1a1a" stroke-width="1.0"/>
<line x1="358.50" y1="309.00" x2="358.50" y2="310.80" stroke="#1a1a1a" stroke-width="1.0"/>
<line x1="375.50" y1="309.00" x2="375.50" y2="310.80" stroke="#1a1a1a" stroke-width="1.0"/>
<rect x="312.25" y="309.00" width="7.20" height="0.60" fill="#000" stroke="none" stroke-width="0.8"/>
<rect x="329.15" y="309.00" width="7.20" height="0.60" fill="#000" stroke="none" stroke-width="0.8"/>
<line x1="349.50" y1="280.52" x2="349.50" y2="287.23" stroke="#1a1a1a" stroke-width="1.0"/>
<line x1="347.95" y1="280.50" x2="351.35" y2="280.50" stroke="#1a1a1a" stroke-width="1.0"/>
<rect x="346.05" y="287.23" width="7.20" height="21.78" fill="#000" stroke="none" stroke-width="0.8"/>
<rect x="362.95" y="292.25" width="7.20" height="16.75" fill="#000" stroke="none" stroke-width="0.8"/>
<text x="310.50" y="275.90" font-size="6.7" text-anchor="start" fill="#1a1a1a" stroke="#1a1a1a" font-style="italic">T-BET</text>
<text x="317.95" y="319.60" font-size="6.7" text-anchor="middle" fill="#8a4ad0" stroke="#8a4ad0">H/I/II</text>
<text x="335.60" y="319.60" font-size="6.7" text-anchor="middle" fill="#e04848" stroke="#e04848">III</text>
<text x="352.55" y="319.60" font-size="6.7" text-anchor="middle" fill="#4242b0" stroke="#4242b0">IV</text>
<text x="369.35" y="319.60" font-size="6.7" text-anchor="middle" fill="#3a8a4a" stroke="#3a8a4a">V</text>
<text x="344.00" y="327.40" font-size="7.0" text-anchor="middle" fill="#1a1a1a" stroke="#1a1a1a">Stage</text>
<text x="292.60" y="296.00" font-size="7.0" text-anchor="middle" fill="#1a1a1a" stroke="#1a1a1a" transform="rotate(-90 292.60 296.00)">Relative mRNA level</text>
<line x1="400.50" y1="270.60" x2="400.50" y2="310.20" stroke="#1a1a1a" stroke-width="1.0"/>
<line x1="398.60" y1="270.50" x2="400.60" y2="270.50" stroke="#1a1a1a" stroke-width="1.0"/>
<text x="398.20" y="273.20" font-size="7.1" text-anchor="end" fill="#1a1a1a" stroke="#1a1a1a">1.6</text>
<line x1="398.60" y1="280.50" x2="400.60" y2="280.50" stroke="#1a1a1a" stroke-width="1.0"/>
<text x="398.20" y="283.00" font-size="7.1" text-anchor="end" fill="#1a1a1a" stroke="#1a1a1a">1.2</text>
<line x1="398.60" y1="290.50" x2="400.60" y2="290.50" stroke="#1a1a1a" stroke-width="1.0"/>
<text x="398.20" y="292.80" font-size="7.1" text-anchor="end" fill="#1a1a1a" stroke="#1a1a1a">0.8</text>
<line x1="398.60" y1="300.50" x2="400.60" y2="300.50" stroke="#1a1a1a" stroke-width="1.0"/>
<text x="398.20" y="302.60" font-size="7.1" text-anchor="end" fill="#1a1a1a" stroke="#1a1a1a">0.4</text>
<line x1="398.60" y1="309.50" x2="400.60" y2="309.50" stroke="#1a1a1a" stroke-width="1.0"/>
<text x="398.20" y="312.40" font-size="7.1" text-anchor="end" fill="#1a1a1a" stroke="#1a1a1a">0</text>
<line x1="400.20" y1="309.50" x2="483.00" y2="309.50" stroke="#1a1a1a" stroke-width="1.0"/>
<line x1="400.50" y1="309.80" x2="400.50" y2="311.60" stroke="#1a1a1a" stroke-width="1.0"/>
<line x1="421.50" y1="309.80" x2="421.50" y2="311.60" stroke="#1a1a1a" stroke-width="1.0"/>
<line x1="441.50" y1="309.80" x2="441.50" y2="311.60" stroke="#1a1a1a" stroke-width="1.0"/>
<line x1="462.50" y1="309.80" x2="462.50" y2="311.60" stroke="#1a1a1a" stroke-width="1.0"/>
<line x1="483.50" y1="309.80" x2="483.50" y2="311.60" stroke="#1a1a1a" stroke-width="1.0"/>
<rect x="406.60" y="307.11" width="8.60" height="2.69" fill="#000" stroke="none" stroke-width="0.8"/>
<line x1="431.50" y1="283.59" x2="431.50" y2="292.16" stroke="#1a1a1a" stroke-width="1.0"/>
<line x1="429.50" y1="283.50" x2="433.50" y2="283.50" stroke="#1a1a1a" stroke-width="1.0"/>
<rect x="427.20" y="292.16" width="8.60" height="17.64" fill="#000" stroke="none" stroke-width="0.8"/>
<line x1="452.50" y1="272.56" x2="452.50" y2="275.75" stroke="#1a1a1a" stroke-width="1.0"/>
<line x1="450.10" y1="272.50" x2="454.10" y2="272.50" stroke="#1a1a1a" stroke-width="1.0"/>
<rect x="447.80" y="275.75" width="8.60" height="34.05" fill="#000" stroke="none" stroke-width="0.8"/>
<rect x="468.40" y="284.56" width="8.60" height="25.23" fill="#000" stroke="none" stroke-width="0.8"/>
<text x="405.50" y="276.80" font-size="6.7" text-anchor="start" fill="#1a1a1a" stroke="#1a1a1a" font-style="italic">ID2</text>
<text x="413.10" y="319.60" font-size="6.7" text-anchor="middle" fill="#8a4ad0" stroke="#8a4ad0">H/I/II</text>
<text x="433.20" y="319.60" font-size="6.7" text-anchor="middle" fill="#e04848" stroke="#e04848">III</text>
<text x="453.20" y="319.60" font-size="6.7" text-anchor="middle" fill="#4242b0" stroke="#4242b0">IV</text>
<text x="473.90" y="319.60" font-size="6.7" text-anchor="middle" fill="#3a8a4a" stroke="#3a8a4a">V</text>
<text x="446.80" y="327.40" font-size="7.0" text-anchor="middle" fill="#1a1a1a" stroke="#1a1a1a">Stage</text>
<text x="386.20" y="296.10" font-size="7.0" text-anchor="middle" fill="#1a1a1a" stroke="#1a1a1a" transform="rotate(-90 386.20 296.10)">Relative mRNA level</text>
<defs><filter id="b0p5" x="-100%" y="-100%" width="300%" height="300%"><feGaussianBlur stdDeviation="0.5"/></filter><filter id="b1" x="-100%" y="-100%" width="300%" height="300%"><feGaussianBlur stdDeviation="1"/></filter><filter id="b1p2" x="-100%" y="-100%" width="300%" height="300%"><feGaussianBlur stdDeviation="1.2"/></filter><filter id="b1p5" x="-100%" y="-100%" width="300%" height="300%"><feGaussianBlur stdDeviation="1.5"/></filter><filter id="b2" x="-100%" y="-100%" width="300%" height="300%"><feGaussianBlur stdDeviation="2"/></filter><filter id="b2p5" x="-100%" y="-100%" width="300%" height="300%"><feGaussianBlur stdDeviation="2.5"/></filter><filter id="b3" x="-100%" y="-100%" width="300%" height="300%"><feGaussianBlur stdDeviation="3"/></filter><filter id="b4" x="-100%" y="-100%" width="300%" height="300%"><feGaussianBlur stdDeviation="4"/></filter><clipPath id="cp1"><rect x="22.9" y="142.2" width="53.1" height="52.3"/></clipPath><clipPath id="cp7"><rect x="24.3" y="219" width="50.5" height="52"/></clipPath><clipPath id="cp17"><rect x="85.4" y="219" width="51.5" height="52"/></clipPath></defs>
<text x="20.70" y="134.60" font-size="7.1" text-anchor="start" fill="#1a1a1a" stroke="#1a1a1a">Day 2</text>
<line x1="40.30" y1="131.80" x2="154.90" y2="131.80" stroke="#7a7a7a" stroke-width="1.3"/>
<rect x="22.60" y="141.90" width="53.70" height="52.90" fill="none" stroke="#aaa" stroke-width="0.6"/>
<line x1="45.50" y1="141.90" x2="45.50" y2="194.80" stroke="#999" stroke-width="0.6"/>
<line x1="22.60" y1="172.90" x2="76.30" y2="172.90" stroke="#999" stroke-width="0.6"/>
<g clip-path="url(#cp1)"><ellipse cx="63" cy="169" rx="12" ry="13" fill="#555" fill-opacity="0.5" filter="url(#b3)"/></g>
<g clip-path="url(#cp1)"><ellipse cx="67" cy="164" rx="10" ry="8" fill="#222" fill-opacity="0.6" filter="url(#b2p5)"/></g>
<g clip-path="url(#cp1)"><ellipse cx="71.5" cy="164" rx="5" ry="5.5" fill="#000" fill-opacity="0.6" filter="url(#b2)"/></g>
<g clip-path="url(#cp1)"><ellipse cx="62" cy="179" rx="9" ry="5" fill="#555" fill-opacity="0.35" filter="url(#b2p5)"/></g>
<path d="M67.0 164.8h0.56v0.56h-0.56zM65.2 157.7h0.56v0.56h-0.56zM64.0 157.1h0.56v0.56h-0.56zM67.4 171.0h0.56v0.56h-0.56zM63.8 159.3h0.56v0.56h-0.56zM70.2 165.1h0.56v0.56h-0.56zM67.7 157.4h0.56v0.56h-0.56zM66.8 167.2h0.56v0.56h-0.56zM58.3 160.3h0.56v0.56h-0.56zM54.6 155.3h0.56v0.56h-0.56zM55.0 161.6h0.56v0.56h-0.56zM58.8 164.6h0.56v0.56h-0.56zM68.0 161.9h0.56v0.56h-0.56zM50.6 159.8h0.56v0.56h-0.56zM66.7 163.7h0.56v0.56h-0.56zM57.1 160.1h0.56v0.56h-0.56zM60.6 158.1h0.56v0.56h-0.56zM73.9 158.2h0.56v0.56h-0.56zM66.8 168.3h0.56v0.56h-0.56zM63.2 162.3h0.56v0.56h-0.56zM67.7 163.4h0.56v0.56h-0.56zM59.0 163.5h0.56v0.56h-0.56zM75.8 153.7h0.56v0.56h-0.56zM72.6 163.7h0.56v0.56h-0.56zM62.8 175.0h0.56v0.56h-0.56zM72.0 155.8h0.56v0.56h-0.56zM67.5 166.5h0.56v0.56h-0.56zM65.8 167.1h0.56v0.56h-0.56zM66.6 167.0h0.56v0.56h-0.56zM76.4 158.9h0.56v0.56h-0.56zM68.3 160.2h0.56v0.56h-0.56zM67.8 155.9h0.56v0.56h-0.56zM63.2 161.8h0.56v0.56h-0.56zM72.8 169.9h0.56v0.56h-0.56zM58.4 158.2h0.56v0.56h-0.56zM71.2 151.0h0.56v0.56h-0.56zM64.0 162.4h0.56v0.56h-0.56zM75.2 167.1h0.56v0.56h-0.56zM64.9 160.8h0.56v0.56h-0.56zM65.4 172.1h0.56v0.56h-0.56zM64.2 161.2h0.56v0.56h-0.56zM69.3 162.3h0.56v0.56h-0.56zM65.7 156.3h0.56v0.56h-0.56zM66.9 160.3h0.56v0.56h-0.56zM74.6 166.9h0.56v0.56h-0.56zM66.8 167.0h0.56v0.56h-0.56zM64.8 169.3h0.56v0.56h-0.56zM67.0 166.5h0.56v0.56h-0.56zM58.6 165.1h0.56v0.56h-0.56zM56.0 150.8h0.56v0.56h-0.56zM65.0 157.6h0.56v0.56h-0.56zM68.1 176.5h0.56v0.56h-0.56zM61.6 159.3h0.56v0.56h-0.56zM68.3 166.0h0.56v0.56h-0.56zM65.9 161.8h0.56v0.56h-0.56zM71.6 166.1h0.56v0.56h-0.56zM60.3 162.5h0.56v0.56h-0.56zM67.2 156.7h0.56v0.56h-0.56zM68.7 157.9h0.56v0.56h-0.56zM73.3 164.2h0.56v0.56h-0.56zM67.6 159.5h0.56v0.56h-0.56zM66.2 151.0h0.56v0.56h-0.56zM59.6 165.2h0.56v0.56h-0.56zM53.2 168.1h0.56v0.56h-0.56zM55.7 167.5h0.56v0.56h-0.56zM61.5 167.7h0.56v0.56h-0.56zM67.9 153.8h0.56v0.56h-0.56zM75.1 171.7h0.56v0.56h-0.56zM66.6 161.4h0.56v0.56h-0.56zM66.0 157.1h0.56v0.56h-0.56zM74.1 159.7h0.56v0.56h-0.56zM66.7 158.2h0.56v0.56h-0.56zM62.9 155.3h0.56v0.56h-0.56zM75.2 162.1h0.56v0.56h-0.56zM73.3 163.1h0.56v0.56h-0.56zM62.5 161.0h0.56v0.56h-0.56zM63.4 163.0h0.56v0.56h-0.56zM64.6 161.2h0.56v0.56h-0.56zM58.0 158.2h0.56v0.56h-0.56zM77.8 159.0h0.56v0.56h-0.56zM60.1 165.0h0.56v0.56h-0.56zM76.1 154.3h0.56v0.56h-0.56zM65.6 159.2h0.56v0.56h-0.56zM55.6 167.4h0.56v0.56h-0.56zM66.8 163.4h0.56v0.56h-0.56zM62.1 165.7h0.56v0.56h-0.56zM63.5 162.1h0.56v0.56h-0.56zM59.8 155.7h0.56v0.56h-0.56zM75.7 160.0h0.56v0.56h-0.56zM68.9 162.8h0.56v0.56h-0.56zM64.1 160.0h0.56v0.56h-0.56zM71.1 161.2h0.56v0.56h-0.56zM66.0 163.1h0.56v0.56h-0.56zM74.6 167.1h0.56v0.56h-0.56zM69.5 159.6h0.56v0.56h-0.56zM58.0 168.7h0.56v0.56h-0.56zM73.3 162.2h0.56v0.56h-0.56zM70.5 167.7h0.56v0.56h-0.56zM72.4 168.5h0.56v0.56h-0.56zM64.0 172.1h0.56v0.56h-0.56zM58.9 168.2h0.56v0.56h-0.56zM70.2 168.2h0.56v0.56h-0.56zM79.2 171.9h0.56v0.56h-0.56zM59.6 152.9h0.56v0.56h-0.56zM72.3 156.9h0.56v0.56h-0.56zM66.9 168.0h0.56v0.56h-0.56zM56.3 150.3h0.56v0.56h-0.56zM68.7 163.3h0.56v0.56h-0.56zM65.4 163.2h0.56v0.56h-0.56zM61.4 153.9h0.56v0.56h-0.56zM65.9 157.2h0.56v0.56h-0.56zM56.3 166.0h0.56v0.56h-0.56zM66.6 165.4h0.56v0.56h-0.56zM60.6 159.1h0.56v0.56h-0.56zM60.5 157.7h0.56v0.56h-0.56zM68.3 158.3h0.56v0.56h-0.56zM69.3 165.0h0.56v0.56h-0.56zM80.2 154.6h0.56v0.56h-0.56zM72.8 162.5h0.56v0.56h-0.56zM66.9 154.3h0.56v0.56h-0.56zM64.0 167.5h0.56v0.56h-0.56zM66.5 163.5h0.56v0.56h-0.56zM65.1 169.9h0.56v0.56h-0.56zM66.9 149.8h0.56v0.56h-0.56zM62.5 151.2h0.56v0.56h-0.56zM45.9 159.8h0.56v0.56h-0.56zM75.7 163.3h0.56v0.56h-0.56zM59.4 157.4h0.56v0.56h-0.56zM74.3 163.9h0.56v0.56h-0.56zM67.3 162.7h0.56v0.56h-0.56zM67.2 167.8h0.56v0.56h-0.56zM70.6 164.3h0.56v0.56h-0.56zM60.2 166.1h0.56v0.56h-0.56zM62.6 169.6h0.56v0.56h-0.56zM58.7 162.2h0.56v0.56h-0.56zM67.0 155.1h0.56v0.56h-0.56zM78.2 171.8h0.56v0.56h-0.56zM64.0 167.6h0.56v0.56h-0.56zM69.5 147.3h0.56v0.56h-0.56zM68.6 162.6h0.56v0.56h-0.56zM67.5 156.5h0.56v0.56h-0.56zM65.2 161.9h0.56v0.56h-0.56zM74.7 165.0h0.56v0.56h-0.56zM67.0 172.2h0.56v0.56h-0.56zM63.4 160.7h0.56v0.56h-0.56zM55.2 172.4h0.56v0.56h-0.56zM73.3 168.5h0.56v0.56h-0.56zM71.3 163.7h0.56v0.56h-0.56zM68.4 161.5h0.56v0.56h-0.56zM65.7 163.3h0.56v0.56h-0.56zM76.8 166.3h0.56v0.56h-0.56zM66.6 159.5h0.56v0.56h-0.56zM62.9 172.6h0.56v0.56h-0.56zM70.3 163.4h0.56v0.56h-0.56zM64.7 156.3h0.56v0.56h-0.56zM66.6 168.2h0.56v0.56h-0.56zM64.4 161.6h0.56v0.56h-0.56zM65.6 163.7h0.56v0.56h-0.56zM56.6 161.6h0.56v0.56h-0.56zM61.4 168.3h0.56v0.56h-0.56zM62.0 166.5h0.56v0.56h-0.56zM76.9 161.1h0.56v0.56h-0.56zM63.1 164.1h0.56v0.56h-0.56zM67.0 157.0h0.56v0.56h-0.56zM70.0 175.1h0.56v0.56h-0.56zM65.3 161.8h0.56v0.56h-0.56zM60.2 164.9h0.56v0.56h-0.56zM58.9 156.4h0.56v0.56h-0.56zM75.3 157.6h0.56v0.56h-0.56zM74.0 172.1h0.56v0.56h-0.56zM68.7 166.3h0.56v0.56h-0.56zM79.7 161.8h0.56v0.56h-0.56zM63.1 154.9h0.56v0.56h-0.56zM67.3 171.9h0.56v0.56h-0.56zM73.2 157.3h0.56v0.56h-0.56zM61.4 160.0h0.56v0.56h-0.56zM68.9 161.8h0.56v0.56h-0.56zM68.4 164.8h0.56v0.56h-0.56zM65.1 162.8h0.56v0.56h-0.56zM68.3 162.5h0.56v0.56h-0.56zM70.3 174.2h0.56v0.56h-0.56zM70.8 163.3h0.56v0.56h-0.56zM56.0 165.3h0.56v0.56h-0.56zM54.3 154.5h0.56v0.56h-0.56zM72.6 167.2h0.56v0.56h-0.56zM66.0 152.7h0.56v0.56h-0.56zM64.6 158.9h0.56v0.56h-0.56zM71.1 176.5h0.56v0.56h-0.56zM68.4 158.3h0.56v0.56h-0.56zM59.4 162.7h0.56v0.56h-0.56zM65.9 156.1h0.56v0.56h-0.56zM67.8 156.1h0.56v0.56h-0.56zM74.2 169.4h0.56v0.56h-0.56zM74.1 160.2h0.56v0.56h-0.56zM70.3 162.2h0.56v0.56h-0.56zM64.5 161.0h0.56v0.56h-0.56zM58.6 154.3h0.56v0.56h-0.56zM72.2 161.9h0.56v0.56h-0.56zM68.4 169.0h0.56v0.56h-0.56zM55.7 158.3h0.56v0.56h-0.56zM68.1 165.4h0.56v0.56h-0.56zM64.5 169.2h0.56v0.56h-0.56zM68.4 155.7h0.56v0.56h-0.56zM61.0 167.8h0.56v0.56h-0.56zM70.0 151.6h0.56v0.56h-0.56zM75.8 166.6h0.56v0.56h-0.56zM75.7 160.7h0.56v0.56h-0.56zM65.1 156.2h0.56v0.56h-0.56zM83.5 161.9h0.56v0.56h-0.56zM77.3 159.1h0.56v0.56h-0.56zM68.1 153.0h0.56v0.56h-0.56zM64.5 168.9h0.56v0.56h-0.56zM58.9 169.4h0.56v0.56h-0.56zM69.2 156.7h0.56v0.56h-0.56zM63.7 160.2h0.56v0.56h-0.56zM66.7 159.8h0.56v0.56h-0.56zM61.6 161.2h0.56v0.56h-0.56zM60.3 155.3h0.56v0.56h-0.56zM66.7 168.3h0.56v0.56h-0.56zM57.1 163.0h0.56v0.56h-0.56zM62.8 157.1h0.56v0.56h-0.56zM72.5 159.9h0.56v0.56h-0.56zM76.7 158.3h0.56v0.56h-0.56zM69.5 161.6h0.56v0.56h-0.56zM62.1 166.5h0.56v0.56h-0.56zM66.0 166.6h0.56v0.56h-0.56zM66.7 156.5h0.56v0.56h-0.56zM66.3 163.3h0.56v0.56h-0.56zM73.2 157.6h0.56v0.56h-0.56zM66.7 152.7h0.56v0.56h-0.56zM71.2 156.5h0.56v0.56h-0.56zM55.3 162.6h0.56v0.56h-0.56zM74.2 153.9h0.56v0.56h-0.56zM59.9 158.5h0.56v0.56h-0.56zM59.7 165.3h0.56v0.56h-0.56zM61.8 158.7h0.56v0.56h-0.56zM70.8 158.5h0.56v0.56h-0.56zM69.8 157.2h0.56v0.56h-0.56zM59.1 152.0h0.56v0.56h-0.56zM79.1 161.1h0.56v0.56h-0.56zM68.6 162.8h0.56v0.56h-0.56zM68.0 163.3h0.56v0.56h-0.56zM79.4 156.8h0.56v0.56h-0.56zM56.9 156.9h0.56v0.56h-0.56zM58.3 167.5h0.56v0.56h-0.56zM72.3 157.2h0.56v0.56h-0.56zM58.0 160.9h0.56v0.56h-0.56zM76.0 146.1h0.56v0.56h-0.56zM70.4 156.5h0.56v0.56h-0.56zM73.8 156.5h0.56v0.56h-0.56zM65.1 154.0h0.56v0.56h-0.56zM60.6 171.3h0.56v0.56h-0.56zM72.3 160.6h0.56v0.56h-0.56zM61.3 151.6h0.56v0.56h-0.56zM64.4 162.8h0.56v0.56h-0.56zM66.5 162.4h0.56v0.56h-0.56zM59.7 162.6h0.56v0.56h-0.56zM66.7 170.7h0.56v0.56h-0.56zM79.1 162.2h0.56v0.56h-0.56zM62.0 162.6h0.56v0.56h-0.56zM63.1 158.5h0.56v0.56h-0.56zM66.6 156.7h0.56v0.56h-0.56zM70.9 162.4h0.56v0.56h-0.56zM68.6 161.9h0.56v0.56h-0.56zM62.3 157.3h0.56v0.56h-0.56zM65.5 159.7h0.56v0.56h-0.56zM68.5 163.0h0.56v0.56h-0.56zM58.1 163.4h0.56v0.56h-0.56zM58.3 159.3h0.56v0.56h-0.56zM65.1 150.5h0.56v0.56h-0.56zM67.6 163.9h0.56v0.56h-0.56zM66.0 160.5h0.56v0.56h-0.56zM64.6 157.1h0.56v0.56h-0.56zM65.2 159.7h0.56v0.56h-0.56zM67.6 155.8h0.56v0.56h-0.56zM68.5 163.9h0.56v0.56h-0.56zM66.1 160.4h0.56v0.56h-0.56zM70.6 153.0h0.56v0.56h-0.56zM70.0 164.5h0.56v0.56h-0.56zM68.8 165.3h0.56v0.56h-0.56zM62.8 161.4h0.56v0.56h-0.56zM71.1 165.6h0.56v0.56h-0.56zM68.3 153.9h0.56v0.56h-0.56zM70.5 170.0h0.56v0.56h-0.56zM73.6 164.4h0.56v0.56h-0.56zM56.9 168.7h0.56v0.56h-0.56zM66.0 147.8h0.56v0.56h-0.56zM69.5 154.0h0.56v0.56h-0.56zM58.6 159.2h0.56v0.56h-0.56zM75.3 160.8h0.56v0.56h-0.56zM68.8 173.5h0.56v0.56h-0.56zM77.4 162.4h0.56v0.56h-0.56zM65.4 155.4h0.56v0.56h-0.56zM62.5 165.6h0.56v0.56h-0.56zM69.6 163.7h0.56v0.56h-0.56zM73.5 158.4h0.56v0.56h-0.56zM66.6 167.4h0.56v0.56h-0.56zM70.8 169.4h0.56v0.56h-0.56zM69.6 161.1h0.56v0.56h-0.56zM69.4 157.0h0.56v0.56h-0.56zM56.3 166.5h0.56v0.56h-0.56zM66.6 164.9h0.56v0.56h-0.56zM56.0 160.8h0.56v0.56h-0.56zM63.1 157.8h0.56v0.56h-0.56zM52.3 161.0h0.56v0.56h-0.56zM72.8 165.3h0.56v0.56h-0.56zM63.1 162.9h0.56v0.56h-0.56zM71.9 146.4h0.56v0.56h-0.56zM66.2 166.3h0.56v0.56h-0.56zM71.4 173.2h0.56v0.56h-0.56zM74.4 164.9h0.56v0.56h-0.56zM69.0 167.7h0.56v0.56h-0.56zM63.5 162.8h0.56v0.56h-0.56zM72.9 174.7h0.56v0.56h-0.56zM66.0 162.7h0.56v0.56h-0.56zM68.3 171.1h0.56v0.56h-0.56zM66.8 171.8h0.56v0.56h-0.56zM60.7 161.9h0.56v0.56h-0.56zM65.7 167.7h0.56v0.56h-0.56zM73.8 153.9h0.56v0.56h-0.56zM61.1 165.0h0.56v0.56h-0.56zM62.7 153.9h0.56v0.56h-0.56zM73.8 166.0h0.56v0.56h-0.56zM70.2 160.1h0.56v0.56h-0.56zM73.7 161.6h0.56v0.56h-0.56zM74.1 157.5h0.56v0.56h-0.56zM61.4 164.2h0.56v0.56h-0.56zM62.4 167.1h0.56v0.56h-0.56zM68.7 157.5h0.56v0.56h-0.56zM67.5 160.9h0.56v0.56h-0.56zM73.0 159.2h0.56v0.56h-0.56zM64.1 170.3h0.56v0.56h-0.56zM81.6 175.0h0.56v0.56h-0.56zM67.4 164.3h0.56v0.56h-0.56zM77.0 162.3h0.56v0.56h-0.56zM60.7 163.7h0.56v0.56h-0.56zM69.9 158.0h0.56v0.56h-0.56zM56.3 154.4h0.56v0.56h-0.56zM71.3 158.4h0.56v0.56h-0.56zM66.1 164.3h0.56v0.56h-0.56zM71.0 161.0h0.56v0.56h-0.56zM70.2 157.7h0.56v0.56h-0.56zM64.6 156.9h0.56v0.56h-0.56zM74.4 162.8h0.56v0.56h-0.56zM62.2 160.9h0.56v0.56h-0.56zM65.6 167.2h0.56v0.56h-0.56zM56.6 156.8h0.56v0.56h-0.56zM64.5 178.2h0.56v0.56h-0.56zM73.2 162.3h0.56v0.56h-0.56zM71.6 175.3h0.56v0.56h-0.56zM65.5 160.8h0.56v0.56h-0.56zM74.9 166.0h0.56v0.56h-0.56zM71.4 160.0h0.56v0.56h-0.56zM79.5 173.3h0.56v0.56h-0.56zM70.7 167.1h0.56v0.56h-0.56zM53.8 166.8h0.56v0.56h-0.56zM65.7 165.6h0.56v0.56h-0.56zM71.4 161.0h0.56v0.56h-0.56zM56.0 165.2h0.56v0.56h-0.56zM62.2 161.0h0.56v0.56h-0.56zM63.1 161.0h0.56v0.56h-0.56zM52.0 170.3h0.56v0.56h-0.56zM68.6 169.7h0.56v0.56h-0.56zM79.9 163.1h0.56v0.56h-0.56zM55.3 157.6h0.56v0.56h-0.56zM59.2 160.0h0.56v0.56h-0.56zM67.5 151.0h0.56v0.56h-0.56zM69.2 153.9h0.56v0.56h-0.56zM68.9 162.3h0.56v0.56h-0.56zM65.0 162.6h0.56v0.56h-0.56zM63.5 159.3h0.56v0.56h-0.56zM56.1 162.8h0.56v0.56h-0.56zM79.0 174.9h0.56v0.56h-0.56zM75.6 167.2h0.56v0.56h-0.56zM62.6 171.7h0.56v0.56h-0.56zM66.6 162.6h0.56v0.56h-0.56zM65.1 163.6h0.56v0.56h-0.56zM64.2 162.5h0.56v0.56h-0.56zM60.0 160.8h0.56v0.56h-0.56zM81.8 162.6h0.56v0.56h-0.56zM65.4 166.2h0.56v0.56h-0.56zM71.6 156.3h0.56v0.56h-0.56zM65.7 168.5h0.56v0.56h-0.56zM68.8 163.7h0.56v0.56h-0.56zM77.1 158.9h0.56v0.56h-0.56zM67.5 159.9h0.56v0.56h-0.56zM76.7 151.3h0.56v0.56h-0.56zM62.6 159.8h0.56v0.56h-0.56zM71.3 166.6h0.56v0.56h-0.56zM76.1 153.6h0.56v0.56h-0.56zM71.9 161.2h0.56v0.56h-0.56zM62.7 166.2h0.56v0.56h-0.56zM61.0 150.5h0.56v0.56h-0.56zM64.6 154.0h0.56v0.56h-0.56zM62.8 165.2h0.56v0.56h-0.56zM69.0 172.5h0.56v0.56h-0.56zM65.7 153.8h0.56v0.56h-0.56zM62.1 157.5h0.56v0.56h-0.56zM59.1 165.6h0.56v0.56h-0.56zM62.8 151.1h0.56v0.56h-0.56zM71.5 162.3h0.56v0.56h-0.56zM69.3 163.6h0.56v0.56h-0.56zM71.1 163.2h0.56v0.56h-0.56zM75.0 165.5h0.56v0.56h-0.56zM69.5 165.5h0.56v0.56h-0.56zM57.5 162.0h0.56v0.56h-0.56zM65.3 164.2h0.56v0.56h-0.56zM58.2 172.8h0.56v0.56h-0.56zM67.7 155.7h0.56v0.56h-0.56zM55.9 161.3h0.56v0.56h-0.56zM66.4 158.7h0.56v0.56h-0.56zM67.6 159.2h0.56v0.56h-0.56zM70.6 158.7h0.56v0.56h-0.56zM66.7 168.9h0.56v0.56h-0.56zM83.7 157.0h0.56v0.56h-0.56zM64.0 158.0h0.56v0.56h-0.56zM72.1 156.1h0.56v0.56h-0.56zM63.9 162.8h0.56v0.56h-0.56zM60.6 157.3h0.56v0.56h-0.56zM63.9 150.4h0.56v0.56h-0.56zM57.6 160.5h0.56v0.56h-0.56zM68.0 161.9h0.56v0.56h-0.56zM55.5 160.2h0.56v0.56h-0.56zM72.2 166.3h0.56v0.56h-0.56zM66.5 157.7h0.56v0.56h-0.56zM71.1 159.5h0.56v0.56h-0.56zM59.4 158.2h0.56v0.56h-0.56zM76.4 164.3h0.56v0.56h-0.56zM74.5 160.1h0.56v0.56h-0.56zM73.1 159.4h0.56v0.56h-0.56zM66.0 177.9h0.56v0.56h-0.56zM72.0 160.0h0.56v0.56h-0.56zM66.4 165.0h0.56v0.56h-0.56zM74.9 160.1h0.56v0.56h-0.56zM55.7 161.3h0.56v0.56h-0.56zM67.1 163.7h0.56v0.56h-0.56zM75.6 164.9h0.56v0.56h-0.56zM72.3 156.4h0.56v0.56h-0.56zM72.6 175.6h0.56v0.56h-0.56zM72.0 164.5h0.56v0.56h-0.56zM68.0 173.7h0.56v0.56h-0.56zM61.0 162.3h0.56v0.56h-0.56zM70.0 167.5h0.56v0.56h-0.56zM64.2 164.8h0.56v0.56h-0.56zM65.2 163.7h0.56v0.56h-0.56zM66.1 156.2h0.56v0.56h-0.56zM66.9 168.3h0.56v0.56h-0.56zM60.7 161.6h0.56v0.56h-0.56zM71.3 156.6h0.56v0.56h-0.56zM68.2 156.6h0.56v0.56h-0.56zM74.4 176.9h0.56v0.56h-0.56zM80.1 161.7h0.56v0.56h-0.56zM71.8 163.7h0.56v0.56h-0.56zM67.7 172.3h0.56v0.56h-0.56zM58.4 169.3h0.56v0.56h-0.56zM66.7 171.5h0.56v0.56h-0.56zM68.2 159.0h0.56v0.56h-0.56zM68.8 167.4h0.56v0.56h-0.56zM67.2 165.9h0.56v0.56h-0.56zM63.6 150.2h0.56v0.56h-0.56zM72.9 167.2h0.56v0.56h-0.56zM68.0 163.4h0.56v0.56h-0.56zM73.7 160.3h0.56v0.56h-0.56zM62.4 161.9h0.56v0.56h-0.56zM74.7 154.7h0.56v0.56h-0.56zM74.7 159.2h0.56v0.56h-0.56zM59.8 170.6h0.56v0.56h-0.56zM66.4 155.2h0.56v0.56h-0.56zM64.7 168.6h0.56v0.56h-0.56zM74.7 160.4h0.56v0.56h-0.56zM69.6 167.3h0.56v0.56h-0.56zM62.8 165.1h0.56v0.56h-0.56zM66.8 159.8h0.56v0.56h-0.56zM63.8 163.4h0.56v0.56h-0.56zM67.2 159.6h0.56v0.56h-0.56zM64.2 169.7h0.56v0.56h-0.56zM68.4 168.3h0.56v0.56h-0.56zM74.8 166.5h0.56v0.56h-0.56zM81.8 158.0h0.56v0.56h-0.56zM72.3 161.1h0.56v0.56h-0.56zM79.1 173.2h0.56v0.56h-0.56zM54.3 157.2h0.56v0.56h-0.56zM71.3 167.7h0.56v0.56h-0.56zM71.8 162.6h0.56v0.56h-0.56zM70.0 166.9h0.56v0.56h-0.56zM66.5 169.2h0.56v0.56h-0.56zM52.3 166.8h0.56v0.56h-0.56zM60.3 168.8h0.56v0.56h-0.56zM65.5 157.7h0.56v0.56h-0.56zM69.4 157.5h0.56v0.56h-0.56zM61.1 153.6h0.56v0.56h-0.56zM66.8 166.0h0.56v0.56h-0.56zM73.6 162.1h0.56v0.56h-0.56zM73.8 163.1h0.56v0.56h-0.56zM66.4 166.4h0.56v0.56h-0.56zM73.9 161.0h0.56v0.56h-0.56zM65.4 162.0h0.56v0.56h-0.56zM67.5 157.6h0.56v0.56h-0.56zM73.7 160.6h0.56v0.56h-0.56zM70.0 158.0h0.56v0.56h-0.56zM69.3 165.3h0.56v0.56h-0.56zM64.3 175.1h0.56v0.56h-0.56zM69.4 173.7h0.56v0.56h-0.56zM73.2 159.0h0.56v0.56h-0.56zM64.5 165.6h0.56v0.56h-0.56zM67.4 163.3h0.56v0.56h-0.56zM65.1 152.1h0.56v0.56h-0.56zM65.5 149.7h0.56v0.56h-0.56zM69.4 158.6h0.56v0.56h-0.56zM62.3 161.7h0.56v0.56h-0.56zM68.8 154.4h0.56v0.56h-0.56zM55.6 156.6h0.56v0.56h-0.56zM53.7 157.2h0.56v0.56h-0.56zM77.3 156.7h0.56v0.56h-0.56zM71.2 154.8h0.56v0.56h-0.56zM68.9 161.1h0.56v0.56h-0.56zM66.6 166.4h0.56v0.56h-0.56zM78.4 164.2h0.56v0.56h-0.56zM67.8 157.2h0.56v0.56h-0.56zM70.8 161.5h0.56v0.56h-0.56zM72.4 162.7h0.56v0.56h-0.56zM78.3 151.1h0.56v0.56h-0.56zM65.1 168.3h0.56v0.56h-0.56zM64.7 158.2h0.56v0.56h-0.56zM65.3 154.7h0.56v0.56h-0.56zM67.8 177.6h0.56v0.56h-0.56zM74.4 156.3h0.56v0.56h-0.56zM61.3 160.6h0.56v0.56h-0.56zM73.5 158.1h0.56v0.56h-0.56zM62.5 168.3h0.56v0.56h-0.56zM72.6 160.8h0.56v0.56h-0.56zM59.7 153.7h0.56v0.56h-0.56zM62.5 149.6h0.56v0.56h-0.56zM71.9 159.2h0.56v0.56h-0.56zM70.1 174.2h0.56v0.56h-0.56zM74.6 156.1h0.56v0.56h-0.56zM72.7 169.9h0.56v0.56h-0.56zM62.1 157.3h0.56v0.56h-0.56zM66.3 153.4h0.56v0.56h-0.56zM76.6 148.6h0.56v0.56h-0.56zM59.8 161.4h0.56v0.56h-0.56zM65.5 164.0h0.56v0.56h-0.56zM68.8 161.7h0.56v0.56h-0.56zM74.4 150.2h0.56v0.56h-0.56zM67.0 158.7h0.56v0.56h-0.56zM67.9 164.3h0.56v0.56h-0.56zM61.1 159.2h0.56v0.56h-0.56zM72.2 165.1h0.56v0.56h-0.56zM62.6 175.2h0.56v0.56h-0.56zM82.0 154.2h0.56v0.56h-0.56zM69.0 178.1h0.56v0.56h-0.56zM72.1 164.3h0.56v0.56h-0.56zM65.6 159.8h0.56v0.56h-0.56zM65.6 159.7h0.56v0.56h-0.56zM71.8 160.6h0.56v0.56h-0.56zM64.1 155.8h0.56v0.56h-0.56zM66.7 157.6h0.56v0.56h-0.56zM65.8 169.3h0.56v0.56h-0.56zM69.4 166.0h0.56v0.56h-0.56zM69.3 163.4h0.56v0.56h-0.56zM66.2 161.2h0.56v0.56h-0.56zM71.9 156.5h0.56v0.56h-0.56zM75.7 163.2h0.56v0.56h-0.56zM62.1 160.1h0.56v0.56h-0.56zM62.6 164.0h0.56v0.56h-0.56zM62.3 169.9h0.56v0.56h-0.56zM61.9 149.4h0.56v0.56h-0.56zM62.2 150.9h0.56v0.56h-0.56zM66.7 169.4h0.56v0.56h-0.56zM71.2 155.0h0.56v0.56h-0.56zM62.0 173.7h0.56v0.56h-0.56zM69.1 163.0h0.56v0.56h-0.56zM73.9 177.7h0.56v0.56h-0.56zM75.4 163.8h0.56v0.56h-0.56zM69.3 166.7h0.56v0.56h-0.56zM63.0 156.6h0.56v0.56h-0.56zM67.3 157.3h0.56v0.56h-0.56zM66.6 163.6h0.56v0.56h-0.56zM82.2 157.9h0.56v0.56h-0.56zM66.2 162.0h0.56v0.56h-0.56zM69.8 169.3h0.56v0.56h-0.56zM63.8 158.1h0.56v0.56h-0.56zM56.3 157.4h0.56v0.56h-0.56zM70.5 163.3h0.56v0.56h-0.56zM60.4 160.8h0.56v0.56h-0.56zM67.2 166.0h0.56v0.56h-0.56zM63.1 161.5h0.56v0.56h-0.56zM55.2 156.1h0.56v0.56h-0.56zM77.5 149.9h0.56v0.56h-0.56zM64.8 164.3h0.56v0.56h-0.56zM64.6 158.2h0.56v0.56h-0.56zM66.6 163.0h0.56v0.56h-0.56zM66.5 151.7h0.56v0.56h-0.56zM66.0 157.9h0.56v0.56h-0.56zM63.4 164.4h0.56v0.56h-0.56zM71.2 168.4h0.56v0.56h-0.56zM63.8 168.5h0.56v0.56h-0.56zM74.6 169.8h0.56v0.56h-0.56zM76.0 162.1h0.56v0.56h-0.56zM65.9 168.0h0.56v0.56h-0.56zM58.1 164.3h0.56v0.56h-0.56zM63.6 160.8h0.56v0.56h-0.56zM55.7 157.7h0.56v0.56h-0.56zM66.9 168.3h0.56v0.56h-0.56zM73.4 162.5h0.56v0.56h-0.56zM65.8 158.0h0.56v0.56h-0.56zM69.6 161.5h0.56v0.56h-0.56zM70.9 173.5h0.56v0.56h-0.56zM66.8 154.0h0.56v0.56h-0.56zM61.4 154.3h0.56v0.56h-0.56zM59.2 170.8h0.56v0.56h-0.56zM68.5 153.9h0.56v0.56h-0.56zM71.2 170.6h0.56v0.56h-0.56zM64.7 158.9h0.56v0.56h-0.56zM64.8 164.7h0.56v0.56h-0.56zM71.2 170.1h0.56v0.56h-0.56zM74.9 170.1h0.56v0.56h-0.56zM75.9 167.0h0.56v0.56h-0.56zM57.0 162.2h0.56v0.56h-0.56zM69.0 160.7h0.56v0.56h-0.56zM72.9 160.8h0.56v0.56h-0.56zM61.0 171.7h0.56v0.56h-0.56zM71.3 164.3h0.56v0.56h-0.56zM73.0 169.4h0.56v0.56h-0.56zM69.2 148.3h0.56v0.56h-0.56zM62.6 160.3h0.56v0.56h-0.56zM60.6 164.2h0.56v0.56h-0.56zM74.7 160.1h0.56v0.56h-0.56zM59.6 175.2h0.56v0.56h-0.56zM64.1 155.6h0.56v0.56h-0.56zM68.5 165.6h0.56v0.56h-0.56zM62.4 167.7h0.56v0.56h-0.56zM63.8 157.5h0.56v0.56h-0.56zM68.2 167.6h0.56v0.56h-0.56zM62.9 165.0h0.56v0.56h-0.56zM66.4 179.9h0.56v0.56h-0.56zM62.4 171.3h0.56v0.56h-0.56zM66.7 162.2h0.56v0.56h-0.56zM71.7 168.4h0.56v0.56h-0.56zM75.2 165.0h0.56v0.56h-0.56zM63.1 159.8h0.56v0.56h-0.56zM70.3 166.5h0.56v0.56h-0.56zM76.1 165.5h0.56v0.56h-0.56zM73.9 172.1h0.56v0.56h-0.56zM68.1 154.1h0.56v0.56h-0.56zM59.3 154.4h0.56v0.56h-0.56zM77.3 157.9h0.56v0.56h-0.56zM75.0 166.5h0.56v0.56h-0.56zM78.1 169.0h0.56v0.56h-0.56zM66.3 161.8h0.56v0.56h-0.56zM67.6 164.1h0.56v0.56h-0.56zM63.6 162.8h0.56v0.56h-0.56zM77.5 152.8h0.56v0.56h-0.56zM68.7 157.6h0.56v0.56h-0.56zM68.2 168.0h0.56v0.56h-0.56zM66.6 167.6h0.56v0.56h-0.56zM56.7 169.6h0.56v0.56h-0.56zM63.1 166.7h0.56v0.56h-0.56zM68.2 147.5h0.56v0.56h-0.56zM62.1 164.3h0.56v0.56h-0.56zM77.1 164.7h0.56v0.56h-0.56zM68.7 154.5h0.56v0.56h-0.56zM76.3 173.8h0.56v0.56h-0.56zM67.2 161.7h0.56v0.56h-0.56zM56.5 168.3h0.56v0.56h-0.56zM84.6 167.3h0.56v0.56h-0.56zM75.2 166.3h0.56v0.56h-0.56zM60.6 171.0h0.56v0.56h-0.56zM59.0 161.7h0.56v0.56h-0.56zM68.8 168.3h0.56v0.56h-0.56zM69.7 165.3h0.56v0.56h-0.56zM62.1 155.3h0.56v0.56h-0.56zM67.4 158.7h0.56v0.56h-0.56zM58.5 155.4h0.56v0.56h-0.56zM63.8 151.9h0.56v0.56h-0.56zM58.2 153.2h0.56v0.56h-0.56zM68.2 165.4h0.56v0.56h-0.56zM80.0 154.0h0.56v0.56h-0.56zM62.6 168.5h0.56v0.56h-0.56zM65.6 161.0h0.56v0.56h-0.56zM78.1 161.0h0.56v0.56h-0.56zM59.5 155.1h0.56v0.56h-0.56zM69.2 164.8h0.56v0.56h-0.56zM58.1 157.1h0.56v0.56h-0.56zM70.5 166.5h0.56v0.56h-0.56zM62.8 166.7h0.56v0.56h-0.56zM70.7 152.3h0.56v0.56h-0.56zM65.0 165.5h0.56v0.56h-0.56zM63.3 150.2h0.56v0.56h-0.56zM65.2 167.5h0.56v0.56h-0.56zM77.3 149.9h0.56v0.56h-0.56zM84.0 156.2h0.56v0.56h-0.56zM73.2 170.4h0.56v0.56h-0.56zM73.4 163.9h0.56v0.56h-0.56zM59.5 166.8h0.56v0.56h-0.56zM62.4 147.9h0.56v0.56h-0.56zM85.4 167.2h0.56v0.56h-0.56zM78.8 157.5h0.56v0.56h-0.56zM76.5 172.5h0.56v0.56h-0.56zM77.1 162.9h0.56v0.56h-0.56zM59.2 161.9h0.56v0.56h-0.56zM52.7 152.8h0.56v0.56h-0.56zM67.6 157.1h0.56v0.56h-0.56zM65.9 162.3h0.56v0.56h-0.56zM79.5 170.8h0.56v0.56h-0.56zM66.7 170.3h0.56v0.56h-0.56zM61.9 161.0h0.56v0.56h-0.56zM72.9 155.6h0.56v0.56h-0.56zM65.2 155.1h0.56v0.56h-0.56zM67.8 172.8h0.56v0.56h-0.56zM62.1 164.4h0.56v0.56h-0.56zM61.2 156.1h0.56v0.56h-0.56zM59.0 171.7h0.56v0.56h-0.56zM82.4 165.9h0.56v0.56h-0.56zM62.3 167.2h0.56v0.56h-0.56zM64.8 167.8h0.56v0.56h-0.56zM68.9 164.7h0.56v0.56h-0.56zM70.9 159.5h0.56v0.56h-0.56zM64.4 152.7h0.56v0.56h-0.56zM64.1 154.5h0.56v0.56h-0.56zM66.1 157.3h0.56v0.56h-0.56zM67.7 165.7h0.56v0.56h-0.56zM57.8 158.1h0.56v0.56h-0.56zM60.9 167.5h0.56v0.56h-0.56zM78.1 168.1h0.56v0.56h-0.56zM64.7 171.8h0.56v0.56h-0.56zM57.2 172.0h0.56v0.56h-0.56zM62.7 146.3h0.56v0.56h-0.56zM84.2 172.5h0.56v0.56h-0.56zM60.3 164.0h0.56v0.56h-0.56zM65.6 163.6h0.56v0.56h-0.56zM57.4 158.9h0.56v0.56h-0.56zM70.0 164.3h0.56v0.56h-0.56zM74.8 163.5h0.56v0.56h-0.56zM82.3 158.7h0.56v0.56h-0.56zM68.7 151.5h0.56v0.56h-0.56zM58.9 171.0h0.56v0.56h-0.56zM60.9 166.2h0.56v0.56h-0.56zM66.6 156.7h0.56v0.56h-0.56zM64.7 159.9h0.56v0.56h-0.56zM63.8 167.5h0.56v0.56h-0.56zM71.2 159.5h0.56v0.56h-0.56zM61.1 164.7h0.56v0.56h-0.56zM66.3 169.2h0.56v0.56h-0.56zM84.3 168.1h0.56v0.56h-0.56zM66.8 162.0h0.56v0.56h-0.56zM61.4 157.6h0.56v0.56h-0.56zM60.5 160.6h0.56v0.56h-0.56zM64.2 167.5h0.56v0.56h-0.56zM64.4 161.8h0.56v0.56h-0.56zM59.1 172.9h0.56v0.56h-0.56zM70.3 173.7h0.56v0.56h-0.56zM72.2 171.9h0.56v0.56h-0.56zM65.4 167.3h0.56v0.56h-0.56zM84.6 155.7h0.56v0.56h-0.56zM74.6 173.2h0.56v0.56h-0.56zM69.7 167.6h0.56v0.56h-0.56zM75.3 159.0h0.56v0.56h-0.56zM69.7 157.7h0.56v0.56h-0.56zM62.5 159.2h0.56v0.56h-0.56zM66.0 163.9h0.56v0.56h-0.56zM70.0 154.3h0.56v0.56h-0.56zM80.2 170.1h0.56v0.56h-0.56zM71.8 160.8h0.56v0.56h-0.56zM66.4 166.4h0.56v0.56h-0.56zM69.7 152.7h0.56v0.56h-0.56zM71.9 180.9h0.56v0.56h-0.56zM54.7 169.1h0.56v0.56h-0.56zM69.5 162.3h0.56v0.56h-0.56zM76.1 155.7h0.56v0.56h-0.56zM68.1 172.0h0.56v0.56h-0.56zM65.7 160.4h0.56v0.56h-0.56zM67.8 160.3h0.56v0.56h-0.56zM77.3 157.4h0.56v0.56h-0.56zM72.8 155.3h0.56v0.56h-0.56zM71.5 162.4h0.56v0.56h-0.56zM49.7 163.0h0.56v0.56h-0.56zM59.9 160.3h0.56v0.56h-0.56zM77.3 156.1h0.56v0.56h-0.56zM59.9 171.9h0.56v0.56h-0.56zM67.8 172.5h0.56v0.56h-0.56zM69.2 157.6h0.56v0.56h-0.56zM66.6 170.6h0.56v0.56h-0.56zM73.3 163.0h0.56v0.56h-0.56zM67.3 162.3h0.56v0.56h-0.56zM63.1 174.9h0.56v0.56h-0.56zM67.0 156.0h0.56v0.56h-0.56zM63.8 167.5h0.56v0.56h-0.56zM71.3 162.2h0.56v0.56h-0.56zM62.5 163.1h0.56v0.56h-0.56zM55.8 155.0h0.56v0.56h-0.56zM72.3 160.0h0.56v0.56h-0.56zM69.5 170.5h0.56v0.56h-0.56zM71.3 163.1h0.56v0.56h-0.56zM81.2 167.1h0.56v0.56h-0.56zM64.6 167.5h0.56v0.56h-0.56zM69.7 157.7h0.56v0.56h-0.56zM67.5 162.0h0.56v0.56h-0.56zM53.9 161.9h0.56v0.56h-0.56zM65.1 160.3h0.56v0.56h-0.56zM56.0 160.8h0.56v0.56h-0.56zM66.7 163.6h0.56v0.56h-0.56zM59.4 166.9h0.56v0.56h-0.56zM58.9 161.6h0.56v0.56h-0.56zM75.7 158.7h0.56v0.56h-0.56zM63.6 169.6h0.56v0.56h-0.56zM64.4 161.2h0.56v0.56h-0.56zM68.5 169.5h0.56v0.56h-0.56zM52.3 157.9h0.56v0.56h-0.56zM60.3 156.3h0.56v0.56h-0.56zM61.3 157.8h0.56v0.56h-0.56zM69.0 157.5h0.56v0.56h-0.56zM67.8 165.5h0.56v0.56h-0.56zM62.1 163.8h0.56v0.56h-0.56zM77.9 165.0h0.56v0.56h-0.56zM62.8 162.6h0.56v0.56h-0.56zM60.9 164.7h0.56v0.56h-0.56zM72.7 158.0h0.56v0.56h-0.56zM65.6 169.8h0.56v0.56h-0.56zM63.7 164.2h0.56v0.56h-0.56zM60.2 158.0h0.56v0.56h-0.56zM63.6 176.1h0.56v0.56h-0.56zM64.3 159.8h0.56v0.56h-0.56zM63.3 162.0h0.56v0.56h-0.56zM71.3 164.1h0.56v0.56h-0.56zM80.4 164.3h0.56v0.56h-0.56zM76.4 164.7h0.56v0.56h-0.56zM70.9 154.3h0.56v0.56h-0.56zM66.2 162.6h0.56v0.56h-0.56zM65.4 150.1h0.56v0.56h-0.56zM72.7 160.7h0.56v0.56h-0.56zM64.2 161.5h0.56v0.56h-0.56zM65.5 165.4h0.56v0.56h-0.56zM58.7 157.4h0.56v0.56h-0.56zM68.9 163.9h0.56v0.56h-0.56zM64.6 159.6h0.56v0.56h-0.56zM61.6 162.6h0.56v0.56h-0.56zM74.7 156.7h0.56v0.56h-0.56zM76.9 168.1h0.56v0.56h-0.56zM64.1 167.7h0.56v0.56h-0.56zM57.5 152.6h0.56v0.56h-0.56zM58.6 160.5h0.56v0.56h-0.56zM64.9 159.9h0.56v0.56h-0.56zM67.6 150.2h0.56v0.56h-0.56zM70.2 154.5h0.56v0.56h-0.56zM62.7 160.5h0.56v0.56h-0.56zM59.5 154.8h0.56v0.56h-0.56zM60.5 162.9h0.56v0.56h-0.56zM70.8 166.4h0.56v0.56h-0.56zM60.5 158.3h0.56v0.56h-0.56zM61.0 165.7h0.56v0.56h-0.56zM53.8 170.4h0.56v0.56h-0.56zM63.8 158.3h0.56v0.56h-0.56zM69.2 169.2h0.56v0.56h-0.56zM69.2 169.3h0.56v0.56h-0.56zM67.9 170.4h0.56v0.56h-0.56zM75.1 162.4h0.56v0.56h-0.56zM76.4 164.0h0.56v0.56h-0.56zM67.6 157.5h0.56v0.56h-0.56zM65.1 167.7h0.56v0.56h-0.56zM58.5 166.9h0.56v0.56h-0.56zM69.3 164.7h0.56v0.56h-0.56zM52.7 162.4h0.56v0.56h-0.56zM71.2 158.4h0.56v0.56h-0.56zM67.6 148.7h0.56v0.56h-0.56zM71.4 159.0h0.56v0.56h-0.56zM72.7 151.9h0.56v0.56h-0.56zM71.5 161.6h0.56v0.56h-0.56zM72.2 157.4h0.56v0.56h-0.56zM63.0 176.5h0.56v0.56h-0.56zM61.6 158.8h0.56v0.56h-0.56zM65.2 156.9h0.56v0.56h-0.56zM74.7 173.4h0.56v0.56h-0.56zM62.4 152.6h0.56v0.56h-0.56zM74.6 169.7h0.56v0.56h-0.56zM72.3 169.9h0.56v0.56h-0.56zM61.4 162.0h0.56v0.56h-0.56zM58.0 154.5h0.56v0.56h-0.56zM73.4 159.0h0.56v0.56h-0.56zM81.8 163.4h0.56v0.56h-0.56zM62.8 167.8h0.56v0.56h-0.56zM78.7 165.9h0.56v0.56h-0.56zM59.1 165.2h0.56v0.56h-0.56zM75.9 160.0h0.56v0.56h-0.56zM62.0 169.1h0.56v0.56h-0.56zM67.9 156.4h0.56v0.56h-0.56zM64.5 158.5h0.56v0.56h-0.56zM68.9 163.7h0.56v0.56h-0.56zM74.5 167.3h0.56v0.56h-0.56zM56.8 165.4h0.56v0.56h-0.56zM72.8 165.7h0.56v0.56h-0.56zM73.7 159.7h0.56v0.56h-0.56zM60.8 168.6h0.56v0.56h-0.56zM60.1 150.0h0.56v0.56h-0.56zM73.7 158.7h0.56v0.56h-0.56zM65.0 154.6h0.56v0.56h-0.56zM58.4 156.1h0.56v0.56h-0.56zM64.7 165.2h0.56v0.56h-0.56zM52.1 167.5h0.56v0.56h-0.56zM59.3 156.6h0.56v0.56h-0.56zM71.4 162.6h0.56v0.56h-0.56zM57.0 174.1h0.56v0.56h-0.56zM61.4 164.5h0.56v0.56h-0.56zM68.3 171.5h0.56v0.56h-0.56zM64.0 169.0h0.56v0.56h-0.56zM62.2 169.7h0.56v0.56h-0.56zM62.0 160.8h0.56v0.56h-0.56zM79.3 164.9h0.56v0.56h-0.56zM67.7 176.5h0.56v0.56h-0.56zM69.3 158.1h0.56v0.56h-0.56zM71.8 155.9h0.56v0.56h-0.56zM74.3 170.2h0.56v0.56h-0.56zM63.3 159.2h0.56v0.56h-0.56zM68.1 163.1h0.56v0.56h-0.56zM60.6 166.4h0.56v0.56h-0.56zM53.7 160.4h0.56v0.56h-0.56zM64.4 161.4h0.56v0.56h-0.56zM69.0 155.6h0.56v0.56h-0.56zM70.8 161.9h0.56v0.56h-0.56zM62.8 154.8h0.56v0.56h-0.56zM59.3 165.2h0.56v0.56h-0.56zM60.7 163.4h0.56v0.56h-0.56zM73.9 169.2h0.56v0.56h-0.56zM77.1 161.2h0.56v0.56h-0.56zM59.9 169.1h0.56v0.56h-0.56zM69.0 169.7h0.56v0.56h-0.56zM67.1 170.2h0.56v0.56h-0.56zM72.5 167.3h0.56v0.56h-0.56zM70.3 165.4h0.56v0.56h-0.56zM68.5 164.4h0.56v0.56h-0.56zM73.4 159.9h0.56v0.56h-0.56zM78.3 162.4h0.56v0.56h-0.56zM73.4 162.5h0.56v0.56h-0.56zM65.4 175.2h0.56v0.56h-0.56zM65.0 155.3h0.56v0.56h-0.56zM62.4 161.1h0.56v0.56h-0.56zM81.0 164.2h0.56v0.56h-0.56zM73.1 157.0h0.56v0.56h-0.56zM69.3 167.0h0.56v0.56h-0.56zM78.7 158.8h0.56v0.56h-0.56zM70.9 164.8h0.56v0.56h-0.56zM60.4 162.9h0.56v0.56h-0.56zM65.3 149.0h0.56v0.56h-0.56zM70.9 166.2h0.56v0.56h-0.56zM64.1 155.0h0.56v0.56h-0.56zM76.6 164.6h0.56v0.56h-0.56zM73.6 171.5h0.56v0.56h-0.56zM63.6 167.9h0.56v0.56h-0.56zM65.4 162.6h0.56v0.56h-0.56zM66.4 163.0h0.56v0.56h-0.56zM74.2 163.7h0.56v0.56h-0.56zM66.0 161.3h0.56v0.56h-0.56zM69.2 157.6h0.56v0.56h-0.56zM63.7 162.7h0.56v0.56h-0.56zM63.3 162.3h0.56v0.56h-0.56zM63.0 175.0h0.56v0.56h-0.56zM75.6 165.7h0.56v0.56h-0.56zM66.7 176.1h0.56v0.56h-0.56zM69.1 162.5h0.56v0.56h-0.56zM69.0 164.8h0.56v0.56h-0.56zM76.2 162.9h0.56v0.56h-0.56zM80.6 157.7h0.56v0.56h-0.56zM71.5 157.0h0.56v0.56h-0.56zM78.8 161.0h0.56v0.56h-0.56zM66.6 168.5h0.56v0.56h-0.56zM75.2 156.3h0.56v0.56h-0.56zM64.7 154.6h0.56v0.56h-0.56zM67.9 162.4h0.56v0.56h-0.56zM64.7 158.9h0.56v0.56h-0.56zM64.5 158.5h0.56v0.56h-0.56zM70.4 172.1h0.56v0.56h-0.56zM54.5 162.3h0.56v0.56h-0.56zM64.3 166.0h0.56v0.56h-0.56zM60.8 162.1h0.56v0.56h-0.56zM60.2 167.2h0.56v0.56h-0.56zM67.6 162.0h0.56v0.56h-0.56zM69.4 161.5h0.56v0.56h-0.56zM56.9 166.6h0.56v0.56h-0.56zM68.9 162.1h0.56v0.56h-0.56zM73.4 170.3h0.56v0.56h-0.56zM59.9 158.3h0.56v0.56h-0.56zM77.1 171.5h0.56v0.56h-0.56zM62.2 155.9h0.56v0.56h-0.56zM62.9 160.0h0.56v0.56h-0.56zM56.7 163.2h0.56v0.56h-0.56zM58.7 155.7h0.56v0.56h-0.56zM73.0 158.9h0.56v0.56h-0.56zM66.5 166.8h0.56v0.56h-0.56zM72.3 161.0h0.56v0.56h-0.56zM67.3 158.0h0.56v0.56h-0.56zM78.4 166.9h0.56v0.56h-0.56zM59.8 163.0h0.56v0.56h-0.56zM71.6 165.9h0.56v0.56h-0.56zM78.9 171.2h0.56v0.56h-0.56zM63.5 162.5h0.56v0.56h-0.56zM58.7 164.5h0.56v0.56h-0.56zM68.0 179.2h0.56v0.56h-0.56zM67.6 150.4h0.56v0.56h-0.56zM62.6 163.7h0.56v0.56h-0.56zM58.8 157.8h0.56v0.56h-0.56zM64.6 165.1h0.56v0.56h-0.56zM65.9 157.7h0.56v0.56h-0.56zM72.1 159.8h0.56v0.56h-0.56zM63.8 154.7h0.56v0.56h-0.56zM61.9 166.9h0.56v0.56h-0.56zM56.5 162.6h0.56v0.56h-0.56zM71.7 160.7h0.56v0.56h-0.56zM68.6 156.3h0.56v0.56h-0.56zM75.5 169.6h0.56v0.56h-0.56zM68.5 152.5h0.56v0.56h-0.56zM60.2 168.9h0.56v0.56h-0.56zM78.1 164.8h0.56v0.56h-0.56zM75.1 159.4h0.56v0.56h-0.56zM65.8 163.0h0.56v0.56h-0.56zM69.8 153.8h0.56v0.56h-0.56zM73.1 170.9h0.56v0.56h-0.56zM59.5 154.9h0.56v0.56h-0.56zM69.3 159.1h0.56v0.56h-0.56zM51.6 167.9h0.56v0.56h-0.56zM68.0 160.1h0.56v0.56h-0.56zM80.7 163.8h0.56v0.56h-0.56zM62.1 163.6h0.56v0.56h-0.56zM60.2 158.4h0.56v0.56h-0.56zM69.5 159.7h0.56v0.56h-0.56zM64.1 173.0h0.56v0.56h-0.56zM72.6 167.8h0.56v0.56h-0.56zM70.4 165.9h0.56v0.56h-0.56zM76.5 162.9h0.56v0.56h-0.56zM79.1 157.3h0.56v0.56h-0.56zM65.3 154.7h0.56v0.56h-0.56zM64.8 166.1h0.56v0.56h-0.56zM76.4 159.0h0.56v0.56h-0.56zM67.0 160.8h0.56v0.56h-0.56zM62.2 155.9h0.56v0.56h-0.56zM67.4 152.6h0.56v0.56h-0.56zM67.7 163.1h0.56v0.56h-0.56zM62.7 156.9h0.56v0.56h-0.56zM58.0 174.2h0.56v0.56h-0.56zM58.3 172.3h0.56v0.56h-0.56zM70.9 160.8h0.56v0.56h-0.56zM59.5 169.3h0.56v0.56h-0.56zM78.2 157.4h0.56v0.56h-0.56zM65.1 169.3h0.56v0.56h-0.56zM69.2 175.0h0.56v0.56h-0.56zM63.3 166.3h0.56v0.56h-0.56zM58.9 175.6h0.56v0.56h-0.56zM62.3 149.8h0.56v0.56h-0.56zM66.2 162.2h0.56v0.56h-0.56zM79.5 161.0h0.56v0.56h-0.56zM66.9 166.6h0.56v0.56h-0.56zM77.3 162.6h0.56v0.56h-0.56zM73.8 166.1h0.56v0.56h-0.56zM65.1 163.5h0.56v0.56h-0.56zM67.2 157.5h0.56v0.56h-0.56zM74.9 154.7h0.56v0.56h-0.56zM74.6 168.7h0.56v0.56h-0.56zM66.4 158.4h0.56v0.56h-0.56zM65.5 165.8h0.56v0.56h-0.56zM71.8 164.7h0.56v0.56h-0.56zM73.4 159.7h0.56v0.56h-0.56zM68.5 153.6h0.56v0.56h-0.56zM72.0 163.9h0.56v0.56h-0.56zM64.3 170.0h0.56v0.56h-0.56zM71.5 146.1h0.56v0.56h-0.56zM67.3 154.3h0.56v0.56h-0.56zM73.9 177.9h0.56v0.56h-0.56zM63.6 163.4h0.56v0.56h-0.56zM65.4 165.1h0.56v0.56h-0.56zM71.2 170.7h0.56v0.56h-0.56zM60.6 172.4h0.56v0.56h-0.56zM60.9 164.7h0.56v0.56h-0.56zM74.5 167.3h0.56v0.56h-0.56zM60.9 158.8h0.56v0.56h-0.56zM64.0 162.7h0.56v0.56h-0.56zM74.5 155.2h0.56v0.56h-0.56zM70.0 166.7h0.56v0.56h-0.56zM70.6 165.8h0.56v0.56h-0.56zM76.9 165.9h0.56v0.56h-0.56zM72.6 166.4h0.56v0.56h-0.56zM78.7 151.6h0.56v0.56h-0.56zM75.3 161.4h0.56v0.56h-0.56zM65.2 157.2h0.56v0.56h-0.56zM54.9 160.7h0.56v0.56h-0.56zM62.5 166.0h0.56v0.56h-0.56zM57.4 171.6h0.56v0.56h-0.56zM68.8 161.5h0.56v0.56h-0.56zM62.4 158.3h0.56v0.56h-0.56zM59.7 159.7h0.56v0.56h-0.56zM67.0 161.9h0.56v0.56h-0.56zM57.8 161.4h0.56v0.56h-0.56zM61.2 164.0h0.56v0.56h-0.56zM79.1 166.8h0.56v0.56h-0.56zM65.0 153.3h0.56v0.56h-0.56zM57.8 152.9h0.56v0.56h-0.56zM71.7 158.4h0.56v0.56h-0.56zM67.4 159.3h0.56v0.56h-0.56zM67.6 171.4h0.56v0.56h-0.56zM62.5 161.0h0.56v0.56h-0.56zM61.8 168.2h0.56v0.56h-0.56zM60.3 156.2h0.56v0.56h-0.56zM58.0 154.5h0.56v0.56h-0.56zM70.1 178.4h0.56v0.56h-0.56zM60.5 168.7h0.56v0.56h-0.56zM68.6 156.4h0.56v0.56h-0.56zM65.2 161.6h0.56v0.56h-0.56zM62.5 174.6h0.56v0.56h-0.56zM54.6 165.3h0.56v0.56h-0.56zM69.2 159.5h0.56v0.56h-0.56zM68.0 168.3h0.56v0.56h-0.56zM68.0 165.5h0.56v0.56h-0.56zM71.5 150.8h0.56v0.56h-0.56zM76.6 176.7h0.56v0.56h-0.56zM73.4 169.1h0.56v0.56h-0.56zM57.8 162.3h0.56v0.56h-0.56zM61.7 159.5h0.56v0.56h-0.56zM73.3 158.2h0.56v0.56h-0.56zM66.2 151.5h0.56v0.56h-0.56zM66.0 163.5h0.56v0.56h-0.56zM62.4 158.7h0.56v0.56h-0.56zM79.3 155.7h0.56v0.56h-0.56zM60.2 158.1h0.56v0.56h-0.56zM74.8 175.6h0.56v0.56h-0.56zM69.2 158.7h0.56v0.56h-0.56zM64.2 169.4h0.56v0.56h-0.56zM61.1 171.7h0.56v0.56h-0.56zM76.2 163.4h0.56v0.56h-0.56zM71.2 167.5h0.56v0.56h-0.56zM77.1 156.7h0.56v0.56h-0.56zM74.7 160.7h0.56v0.56h-0.56zM62.0 163.6h0.56v0.56h-0.56zM65.6 157.1h0.56v0.56h-0.56zM56.6 157.3h0.56v0.56h-0.56zM76.4 174.8h0.56v0.56h-0.56zM71.2 170.1h0.56v0.56h-0.56zM63.6 162.5h0.56v0.56h-0.56zM68.8 156.5h0.56v0.56h-0.56zM60.6 163.6h0.56v0.56h-0.56zM64.9 156.6h0.56v0.56h-0.56zM69.5 161.4h0.56v0.56h-0.56zM73.6 163.0h0.56v0.56h-0.56zM65.0 163.8h0.56v0.56h-0.56zM65.9 159.0h0.56v0.56h-0.56zM64.4 167.5h0.56v0.56h-0.56zM71.2 170.7h0.56v0.56h-0.56zM56.0 160.6h0.56v0.56h-0.56zM64.3 164.0h0.56v0.56h-0.56zM64.1 159.9h0.56v0.56h-0.56zM72.1 164.1h0.56v0.56h-0.56zM59.4 171.0h0.56v0.56h-0.56zM73.5 159.6h0.56v0.56h-0.56zM72.4 158.6h0.56v0.56h-0.56zM74.3 161.7h0.56v0.56h-0.56zM61.8 160.8h0.56v0.56h-0.56zM62.0 164.2h0.56v0.56h-0.56zM68.1 163.2h0.56v0.56h-0.56zM63.4 141.0h0.56v0.56h-0.56zM67.6 151.6h0.56v0.56h-0.56zM68.6 169.8h0.56v0.56h-0.56zM68.8 160.7h0.56v0.56h-0.56zM65.8 162.2h0.56v0.56h-0.56zM63.4 159.5h0.56v0.56h-0.56zM61.0 170.1h0.56v0.56h-0.56zM66.9 168.7h0.56v0.56h-0.56zM65.4 163.4h0.56v0.56h-0.56zM65.9 165.8h0.56v0.56h-0.56zM72.4 164.4h0.56v0.56h-0.56zM62.6 158.3h0.56v0.56h-0.56zM77.8 161.3h0.56v0.56h-0.56zM65.1 171.8h0.56v0.56h-0.56zM74.1 166.2h0.56v0.56h-0.56zM64.4 177.1h0.56v0.56h-0.56zM69.6 166.3h0.56v0.56h-0.56zM65.9 154.5h0.56v0.56h-0.56zM58.3 165.4h0.56v0.56h-0.56zM69.5 161.6h0.56v0.56h-0.56zM59.4 154.4h0.56v0.56h-0.56zM64.9 154.3h0.56v0.56h-0.56zM72.8 169.9h0.56v0.56h-0.56zM85.4 168.3h0.56v0.56h-0.56zM63.1 157.8h0.56v0.56h-0.56zM44.6 159.4h0.56v0.56h-0.56zM65.8 168.8h0.56v0.56h-0.56zM71.0 166.5h0.56v0.56h-0.56zM68.4 167.0h0.56v0.56h-0.56zM76.4 156.6h0.56v0.56h-0.56zM64.0 154.7h0.56v0.56h-0.56zM77.5 170.8h0.56v0.56h-0.56zM71.9 155.8h0.56v0.56h-0.56zM68.1 161.6h0.56v0.56h-0.56zM67.5 161.9h0.56v0.56h-0.56zM70.4 160.6h0.56v0.56h-0.56zM72.6 164.4h0.56v0.56h-0.56zM65.1 162.3h0.56v0.56h-0.56zM64.1 167.9h0.56v0.56h-0.56zM65.2 164.8h0.56v0.56h-0.56zM64.4 154.1h0.56v0.56h-0.56zM72.9 156.7h0.56v0.56h-0.56zM71.4 165.5h0.56v0.56h-0.56zM56.2 157.3h0.56v0.56h-0.56zM63.7 158.1h0.56v0.56h-0.56zM59.3 167.4h0.56v0.56h-0.56zM65.4 165.3h0.56v0.56h-0.56zM64.2 164.8h0.56v0.56h-0.56zM62.1 162.8h0.56v0.56h-0.56zM70.8 163.3h0.56v0.56h-0.56zM64.0 156.5h0.56v0.56h-0.56zM68.1 165.1h0.56v0.56h-0.56zM65.3 158.4h0.56v0.56h-0.56zM70.5 177.9h0.56v0.56h-0.56zM65.0 165.0h0.56v0.56h-0.56zM69.5 147.6h0.56v0.56h-0.56zM67.8 158.8h0.56v0.56h-0.56zM76.0 161.5h0.56v0.56h-0.56zM61.9 161.7h0.56v0.56h-0.56zM68.1 159.6h0.56v0.56h-0.56zM66.7 154.9h0.56v0.56h-0.56zM65.5 167.7h0.56v0.56h-0.56zM79.8 167.2h0.56v0.56h-0.56zM68.8 170.1h0.56v0.56h-0.56zM73.6 173.0h0.56v0.56h-0.56zM74.0 162.3h0.56v0.56h-0.56zM68.7 164.1h0.56v0.56h-0.56zM69.0 164.2h0.56v0.56h-0.56zM61.9 150.4h0.56v0.56h-0.56zM62.6 150.8h0.56v0.56h-0.56zM67.4 163.0h0.56v0.56h-0.56zM56.1 167.1h0.56v0.56h-0.56zM72.6 163.6h0.56v0.56h-0.56zM77.8 174.2h0.56v0.56h-0.56zM59.2 169.2h0.56v0.56h-0.56zM69.9 165.5h0.56v0.56h-0.56zM73.1 158.7h0.56v0.56h-0.56zM63.1 158.0h0.56v0.56h-0.56zM62.1 162.4h0.56v0.56h-0.56zM57.6 156.7h0.56v0.56h-0.56zM70.8 162.6h0.56v0.56h-0.56zM69.5 151.7h0.56v0.56h-0.56zM61.9 159.7h0.56v0.56h-0.56zM67.2 159.5h0.56v0.56h-0.56zM73.1 162.7h0.56v0.56h-0.56zM67.1 163.1h0.56v0.56h-0.56zM71.6 160.2h0.56v0.56h-0.56zM74.3 165.8h0.56v0.56h-0.56zM68.0 163.3h0.56v0.56h-0.56zM70.4 169.1h0.56v0.56h-0.56zM73.1 165.3h0.56v0.56h-0.56zM72.7 163.7h0.56v0.56h-0.56zM75.1 162.8h0.56v0.56h-0.56zM53.5 171.0h0.56v0.56h-0.56zM67.7 156.0h0.56v0.56h-0.56zM65.7 157.7h0.56v0.56h-0.56zM80.7 166.0h0.56v0.56h-0.56zM56.8 166.3h0.56v0.56h-0.56zM64.4 174.5h0.56v0.56h-0.56zM60.2 149.5h0.56v0.56h-0.56zM67.4 160.9h0.56v0.56h-0.56zM64.3 150.2h0.56v0.56h-0.56zM69.8 173.0h0.56v0.56h-0.56zM54.6 170.0h0.56v0.56h-0.56zM63.3 177.1h0.56v0.56h-0.56zM69.8 161.9h0.56v0.56h-0.56zM74.2 166.2h0.56v0.56h-0.56zM63.1 167.3h0.56v0.56h-0.56zM63.7 152.3h0.56v0.56h-0.56zM80.2 160.9h0.56v0.56h-0.56zM63.0 165.0h0.56v0.56h-0.56zM56.9 154.9h0.56v0.56h-0.56zM63.8 159.9h0.56v0.56h-0.56zM67.5 169.7h0.56v0.56h-0.56zM63.9 166.0h0.56v0.56h-0.56zM70.9 156.5h0.56v0.56h-0.56zM68.5 157.3h0.56v0.56h-0.56zM73.9 165.7h0.56v0.56h-0.56zM67.1 155.0h0.56v0.56h-0.56zM67.8 158.4h0.56v0.56h-0.56zM71.6 162.3h0.56v0.56h-0.56zM61.7 168.6h0.56v0.56h-0.56zM71.7 159.4h0.56v0.56h-0.56zM74.6 161.2h0.56v0.56h-0.56zM65.0 163.7h0.56v0.56h-0.56zM62.1 160.4h0.56v0.56h-0.56zM66.0 172.2h0.56v0.56h-0.56zM76.7 161.4h0.56v0.56h-0.56zM77.5 162.7h0.56v0.56h-0.56zM69.5 168.3h0.56v0.56h-0.56zM68.9 177.5h0.56v0.56h-0.56zM68.6 155.8h0.56v0.56h-0.56zM75.5 160.5h0.56v0.56h-0.56zM65.0 145.0h0.56v0.56h-0.56zM73.5 167.9h0.56v0.56h-0.56zM72.2 168.9h0.56v0.56h-0.56zM78.0 162.7h0.56v0.56h-0.56zM73.1 158.5h0.56v0.56h-0.56zM64.7 169.3h0.56v0.56h-0.56zM69.5 155.0h0.56v0.56h-0.56zM69.3 161.9h0.56v0.56h-0.56zM61.7 165.6h0.56v0.56h-0.56zM64.4 153.6h0.56v0.56h-0.56zM59.8 173.6h0.56v0.56h-0.56zM57.2 164.3h0.56v0.56h-0.56zM71.0 166.8h0.56v0.56h-0.56zM59.0 161.1h0.56v0.56h-0.56zM67.9 167.8h0.56v0.56h-0.56zM62.8 156.0h0.56v0.56h-0.56zM73.5 169.6h0.56v0.56h-0.56zM69.4 159.3h0.56v0.56h-0.56zM69.6 163.7h0.56v0.56h-0.56zM72.4 155.5h0.56v0.56h-0.56zM67.8 162.0h0.56v0.56h-0.56zM59.8 164.3h0.56v0.56h-0.56zM67.2 160.5h0.56v0.56h-0.56zM69.6 154.5h0.56v0.56h-0.56zM66.7 165.6h0.56v0.56h-0.56zM68.8 169.5h0.56v0.56h-0.56zM59.2 154.0h0.56v0.56h-0.56zM68.6 165.7h0.56v0.56h-0.56zM80.8 166.7h0.56v0.56h-0.56zM61.3 167.8h0.56v0.56h-0.56zM61.5 154.1h0.56v0.56h-0.56zM84.0 165.0h0.56v0.56h-0.56zM71.6 166.4h0.56v0.56h-0.56zM78.8 164.7h0.56v0.56h-0.56zM74.9 156.8h0.56v0.56h-0.56zM58.0 171.6h0.56v0.56h-0.56zM76.6 166.1h0.56v0.56h-0.56zM68.5 164.0h0.56v0.56h-0.56zM62.5 172.2h0.56v0.56h-0.56zM71.3 166.0h0.56v0.56h-0.56zM69.4 169.3h0.56v0.56h-0.56zM70.3 167.5h0.56v0.56h-0.56zM59.4 166.1h0.56v0.56h-0.56zM81.2 159.9h0.56v0.56h-0.56zM66.2 168.4h0.56v0.56h-0.56zM73.2 166.7h0.56v0.56h-0.56zM56.5 166.0h0.56v0.56h-0.56zM59.3 158.1h0.56v0.56h-0.56zM70.6 161.2h0.56v0.56h-0.56zM72.3 181.9h0.56v0.56h-0.56zM72.1 167.3h0.56v0.56h-0.56zM61.2 159.1h0.56v0.56h-0.56zM60.1 159.8h0.56v0.56h-0.56zM59.9 159.0h0.56v0.56h-0.56zM65.6 157.0h0.56v0.56h-0.56zM57.8 154.8h0.56v0.56h-0.56zM70.0 163.4h0.56v0.56h-0.56zM73.7 169.3h0.56v0.56h-0.56zM64.8 167.0h0.56v0.56h-0.56zM57.6 176.7h0.56v0.56h-0.56zM74.8 161.7h0.56v0.56h-0.56zM59.4 165.3h0.56v0.56h-0.56zM54.8 158.3h0.56v0.56h-0.56zM71.9 163.5h0.56v0.56h-0.56zM63.8 168.7h0.56v0.56h-0.56zM60.2 164.7h0.56v0.56h-0.56zM63.8 157.9h0.56v0.56h-0.56zM70.0 157.0h0.56v0.56h-0.56zM79.4 159.5h0.56v0.56h-0.56zM79.9 156.4h0.56v0.56h-0.56zM70.9 155.8h0.56v0.56h-0.56zM58.3 164.0h0.56v0.56h-0.56zM71.4 155.4h0.56v0.56h-0.56zM74.7 158.2h0.56v0.56h-0.56zM67.9 165.3h0.56v0.56h-0.56zM70.9 152.2h0.56v0.56h-0.56zM77.5 166.4h0.56v0.56h-0.56zM64.2 156.9h0.56v0.56h-0.56zM56.0 154.8h0.56v0.56h-0.56zM70.5 161.0h0.56v0.56h-0.56zM59.6 159.8h0.56v0.56h-0.56zM77.2 161.0h0.56v0.56h-0.56zM63.2 171.1h0.56v0.56h-0.56zM70.0 163.3h0.56v0.56h-0.56zM63.0 153.7h0.56v0.56h-0.56zM59.4 160.1h0.56v0.56h-0.56zM65.6 165.1h0.56v0.56h-0.56zM70.6 164.3h0.56v0.56h-0.56zM68.4 157.0h0.56v0.56h-0.56zM53.0 159.9h0.56v0.56h-0.56zM60.8 159.1h0.56v0.56h-0.56zM65.2 155.5h0.56v0.56h-0.56zM59.8 162.4h0.56v0.56h-0.56zM67.8 159.1h0.56v0.56h-0.56zM70.2 161.7h0.56v0.56h-0.56zM60.4 163.2h0.56v0.56h-0.56zM79.2 159.0h0.56v0.56h-0.56zM74.6 171.3h0.56v0.56h-0.56zM76.7 158.1h0.56v0.56h-0.56zM80.1 163.7h0.56v0.56h-0.56zM65.4 161.6h0.56v0.56h-0.56zM70.9 163.3h0.56v0.56h-0.56zM65.9 170.7h0.56v0.56h-0.56zM62.3 156.7h0.56v0.56h-0.56zM72.2 167.2h0.56v0.56h-0.56zM74.1 156.6h0.56v0.56h-0.56zM74.0 165.9h0.56v0.56h-0.56zM78.5 155.5h0.56v0.56h-0.56zM68.4 161.3h0.56v0.56h-0.56zM56.7 158.7h0.56v0.56h-0.56zM74.3 160.2h0.56v0.56h-0.56zM62.3 168.2h0.56v0.56h-0.56zM73.4 168.9h0.56v0.56h-0.56zM61.9 162.7h0.56v0.56h-0.56zM73.7 159.1h0.56v0.56h-0.56zM62.1 168.0h0.56v0.56h-0.56zM77.2 156.1h0.56v0.56h-0.56zM50.1 154.3h0.56v0.56h-0.56zM60.4 162.2h0.56v0.56h-0.56zM71.0 162.1h0.56v0.56h-0.56zM62.4 163.9h0.56v0.56h-0.56zM60.7 162.7h0.56v0.56h-0.56zM62.8 179.1h0.56v0.56h-0.56zM72.3 158.0h0.56v0.56h-0.56zM60.5 160.4h0.56v0.56h-0.56zM56.3 158.6h0.56v0.56h-0.56zM62.2 168.3h0.56v0.56h-0.56zM64.2 158.3h0.56v0.56h-0.56zM58.3 155.9h0.56v0.56h-0.56zM66.6 161.7h0.56v0.56h-0.56zM74.4 159.2h0.56v0.56h-0.56zM73.9 164.5h0.56v0.56h-0.56zM67.0 151.0h0.56v0.56h-0.56zM58.6 167.4h0.56v0.56h-0.56zM76.1 164.2h0.56v0.56h-0.56zM72.0 160.6h0.56v0.56h-0.56zM64.6 159.0h0.56v0.56h-0.56zM73.3 165.1h0.56v0.56h-0.56zM65.5 161.0h0.56v0.56h-0.56zM70.6 164.9h0.56v0.56h-0.56zM61.6 173.3h0.56v0.56h-0.56zM68.7 163.1h0.56v0.56h-0.56zM76.6 169.1h0.56v0.56h-0.56zM66.4 166.2h0.56v0.56h-0.56zM60.0 159.2h0.56v0.56h-0.56zM52.3 170.3h0.56v0.56h-0.56zM54.7 167.1h0.56v0.56h-0.56zM61.6 157.1h0.56v0.56h-0.56zM65.7 164.6h0.56v0.56h-0.56zM71.0 173.6h0.56v0.56h-0.56zM69.3 168.3h0.56v0.56h-0.56zM63.1 167.3h0.56v0.56h-0.56zM68.0 160.2h0.56v0.56h-0.56zM66.4 162.6h0.56v0.56h-0.56zM68.2 165.4h0.56v0.56h-0.56zM63.7 158.6h0.56v0.56h-0.56zM71.9 152.8h0.56v0.56h-0.56zM63.0 172.3h0.56v0.56h-0.56zM49.4 158.8h0.56v0.56h-0.56zM71.5 153.1h0.56v0.56h-0.56zM83.9 147.5h0.56v0.56h-0.56zM76.3 172.3h0.56v0.56h-0.56zM73.0 161.7h0.56v0.56h-0.56zM69.3 157.6h0.56v0.56h-0.56zM72.3 156.3h0.56v0.56h-0.56zM65.2 169.0h0.56v0.56h-0.56zM59.8 160.8h0.56v0.56h-0.56zM68.1 154.9h0.56v0.56h-0.56zM74.6 165.0h0.56v0.56h-0.56zM57.1 162.7h0.56v0.56h-0.56zM62.0 159.1h0.56v0.56h-0.56zM67.5 158.7h0.56v0.56h-0.56zM73.3 158.8h0.56v0.56h-0.56zM73.4 162.7h0.56v0.56h-0.56zM72.6 159.8h0.56v0.56h-0.56zM63.7 156.1h0.56v0.56h-0.56zM70.8 168.6h0.56v0.56h-0.56zM80.8 170.7h0.56v0.56h-0.56zM68.6 161.7h0.56v0.56h-0.56zM69.5 162.8h0.56v0.56h-0.56zM76.5 168.7h0.56v0.56h-0.56zM61.6 158.9h0.56v0.56h-0.56zM75.9 164.8h0.56v0.56h-0.56zM65.5 170.1h0.56v0.56h-0.56zM64.5 161.3h0.56v0.56h-0.56zM64.0 151.2h0.56v0.56h-0.56zM72.6 155.7h0.56v0.56h-0.56zM63.3 158.5h0.56v0.56h-0.56zM71.7 162.6h0.56v0.56h-0.56zM67.1 152.9h0.56v0.56h-0.56zM66.4 154.1h0.56v0.56h-0.56zM69.0 165.2h0.56v0.56h-0.56zM66.9 175.3h0.56v0.56h-0.56zM70.4 166.6h0.56v0.56h-0.56zM67.9 161.8h0.56v0.56h-0.56zM73.3 169.6h0.56v0.56h-0.56zM58.5 169.3h0.56v0.56h-0.56zM70.3 168.8h0.56v0.56h-0.56zM70.0 155.5h0.56v0.56h-0.56zM59.4 173.9h0.56v0.56h-0.56zM68.6 154.5h0.56v0.56h-0.56zM69.3 160.8h0.56v0.56h-0.56zM55.0 149.3h0.56v0.56h-0.56zM56.6 164.6h0.56v0.56h-0.56zM66.7 161.5h0.56v0.56h-0.56zM68.9 166.6h0.56v0.56h-0.56zM53.3 161.2h0.56v0.56h-0.56zM61.6 155.6h0.56v0.56h-0.56zM63.4 162.3h0.56v0.56h-0.56zM65.3 154.3h0.56v0.56h-0.56zM63.9 175.1h0.56v0.56h-0.56zM60.1 152.9h0.56v0.56h-0.56zM68.8 166.6h0.56v0.56h-0.56zM70.0 156.3h0.56v0.56h-0.56zM73.5 158.3h0.56v0.56h-0.56zM59.6 159.3h0.56v0.56h-0.56zM66.3 167.3h0.56v0.56h-0.56zM71.1 162.9h0.56v0.56h-0.56zM73.1 163.5h0.56v0.56h-0.56zM72.8 154.6h0.56v0.56h-0.56zM56.8 167.7h0.56v0.56h-0.56zM58.0 161.2h0.56v0.56h-0.56zM66.4 160.1h0.56v0.56h-0.56zM64.1 171.4h0.56v0.56h-0.56zM50.6 168.3h0.56v0.56h-0.56zM81.9 163.1h0.56v0.56h-0.56zM66.9 167.4h0.56v0.56h-0.56zM78.9 155.9h0.56v0.56h-0.56zM67.6 161.9h0.56v0.56h-0.56zM70.6 164.0h0.56v0.56h-0.56zM71.3 160.5h0.56v0.56h-0.56zM67.3 159.0h0.56v0.56h-0.56zM62.7 162.2h0.56v0.56h-0.56zM66.1 156.0h0.56v0.56h-0.56zM77.2 162.2h0.56v0.56h-0.56zM58.0 169.6h0.56v0.56h-0.56zM62.1 166.0h0.56v0.56h-0.56zM66.9 164.5h0.56v0.56h-0.56zM68.1 159.5h0.56v0.56h-0.56zM67.3 175.2h0.56v0.56h-0.56zM52.5 163.4h0.56v0.56h-0.56zM69.8 156.7h0.56v0.56h-0.56zM58.1 176.0h0.56v0.56h-0.56zM64.6 175.5h0.56v0.56h-0.56zM70.5 163.5h0.56v0.56h-0.56zM70.1 166.8h0.56v0.56h-0.56zM74.7 165.6h0.56v0.56h-0.56zM67.9 164.1h0.56v0.56h-0.56zM75.8 167.9h0.56v0.56h-0.56zM60.5 159.2h0.56v0.56h-0.56zM69.1 159.3h0.56v0.56h-0.56zM64.6 157.3h0.56v0.56h-0.56zM65.3 165.5h0.56v0.56h-0.56zM73.5 163.1h0.56v0.56h-0.56zM80.5 162.5h0.56v0.56h-0.56zM87.8 169.0h0.56v0.56h-0.56zM70.2 160.0h0.56v0.56h-0.56zM48.6 162.1h0.56v0.56h-0.56zM68.2 174.5h0.56v0.56h-0.56zM58.0 174.4h0.56v0.56h-0.56zM65.4 167.3h0.56v0.56h-0.56zM50.5 163.8h0.56v0.56h-0.56zM64.8 167.1h0.56v0.56h-0.56zM67.6 156.1h0.56v0.56h-0.56zM73.2 167.2h0.56v0.56h-0.56zM70.9 169.1h0.56v0.56h-0.56zM74.2 162.9h0.56v0.56h-0.56zM58.2 154.7h0.56v0.56h-0.56zM75.8 167.3h0.56v0.56h-0.56zM67.7 160.4h0.56v0.56h-0.56zM67.2 163.1h0.56v0.56h-0.56zM64.8 158.8h0.56v0.56h-0.56zM81.1 164.4h0.56v0.56h-0.56zM63.1 155.2h0.56v0.56h-0.56zM62.3 167.3h0.56v0.56h-0.56zM71.9 161.7h0.56v0.56h-0.56zM67.3 161.2h0.56v0.56h-0.56zM59.8 170.8h0.56v0.56h-0.56zM69.4 177.9h0.56v0.56h-0.56zM62.1 162.2h0.56v0.56h-0.56zM72.7 161.5h0.56v0.56h-0.56zM58.0 157.3h0.56v0.56h-0.56zM67.7 165.1h0.56v0.56h-0.56zM66.4 169.0h0.56v0.56h-0.56zM73.5 164.9h0.56v0.56h-0.56zM67.2 161.5h0.56v0.56h-0.56zM70.6 168.5h0.56v0.56h-0.56zM67.4 165.7h0.56v0.56h-0.56zM64.9 154.5h0.56v0.56h-0.56zM60.5 167.6h0.56v0.56h-0.56zM69.9 172.5h0.56v0.56h-0.56zM67.4 168.2h0.56v0.56h-0.56zM75.6 169.0h0.56v0.56h-0.56zM63.0 161.9h0.56v0.56h-0.56zM67.8 157.1h0.56v0.56h-0.56zM70.1 169.1h0.56v0.56h-0.56zM63.9 174.8h0.56v0.56h-0.56zM65.1 161.8h0.56v0.56h-0.56zM65.5 158.8h0.56v0.56h-0.56zM69.7 163.1h0.56v0.56h-0.56zM77.8 166.6h0.56v0.56h-0.56zM70.5 161.7h0.56v0.56h-0.56zM57.8 162.5h0.56v0.56h-0.56zM61.5 168.7h0.56v0.56h-0.56zM66.8 173.0h0.56v0.56h-0.56zM71.8 168.0h0.56v0.56h-0.56zM68.5 164.3h0.56v0.56h-0.56zM71.2 168.5h0.56v0.56h-0.56zM62.4 166.0h0.56v0.56h-0.56zM84.0 162.5h0.56v0.56h-0.56zM65.3 158.8h0.56v0.56h-0.56zM57.6 170.1h0.56v0.56h-0.56zM67.4 164.8h0.56v0.56h-0.56zM79.0 178.1h0.56v0.56h-0.56zM61.2 169.3h0.56v0.56h-0.56zM71.1 165.4h0.56v0.56h-0.56zM70.1 162.9h0.56v0.56h-0.56zM77.3 166.7h0.56v0.56h-0.56zM69.3 170.5h0.56v0.56h-0.56zM72.8 165.8h0.56v0.56h-0.56zM69.1 173.6h0.56v0.56h-0.56zM70.3 162.5h0.56v0.56h-0.56zM61.4 161.0h0.56v0.56h-0.56zM60.2 163.7h0.56v0.56h-0.56zM68.7 150.7h0.56v0.56h-0.56zM67.1 166.9h0.56v0.56h-0.56zM68.1 157.3h0.56v0.56h-0.56zM75.3 158.8h0.56v0.56h-0.56zM59.0 156.5h0.56v0.56h-0.56zM66.9 168.9h0.56v0.56h-0.56zM74.6 164.3h0.56v0.56h-0.56zM59.3 159.1h0.56v0.56h-0.56zM61.2 161.9h0.56v0.56h-0.56zM55.5 163.7h0.56v0.56h-0.56zM71.2 162.1h0.56v0.56h-0.56zM70.0 157.4h0.56v0.56h-0.56zM57.6 159.2h0.56v0.56h-0.56zM74.5 169.2h0.56v0.56h-0.56zM64.0 170.2h0.56v0.56h-0.56zM64.9 172.1h0.56v0.56h-0.56zM70.1 160.3h0.56v0.56h-0.56zM72.2 158.4h0.56v0.56h-0.56zM60.9 154.3h0.56v0.56h-0.56zM68.7 162.7h0.56v0.56h-0.56zM66.5 160.5h0.56v0.56h-0.56zM76.3 160.5h0.56v0.56h-0.56zM62.3 170.5h0.56v0.56h-0.56zM76.2 165.0h0.56v0.56h-0.56zM55.7 159.4h0.56v0.56h-0.56zM71.0 163.1h0.56v0.56h-0.56zM77.1 154.8h0.56v0.56h-0.56zM71.4 159.2h0.56v0.56h-0.56zM75.6 162.5h0.56v0.56h-0.56zM73.7 159.1h0.56v0.56h-0.56zM57.8 156.3h0.56v0.56h-0.56zM63.1 156.9h0.56v0.56h-0.56zM74.8 171.0h0.56v0.56h-0.56zM68.8 156.8h0.56v0.56h-0.56zM66.2 158.9h0.56v0.56h-0.56zM76.5 164.9h0.56v0.56h-0.56zM70.2 160.6h0.56v0.56h-0.56zM53.9 158.4h0.56v0.56h-0.56zM59.7 165.2h0.56v0.56h-0.56zM67.6 158.2h0.56v0.56h-0.56zM64.5 172.4h0.56v0.56h-0.56zM60.8 157.5h0.56v0.56h-0.56zM65.5 158.8h0.56v0.56h-0.56zM64.2 166.2h0.56v0.56h-0.56zM78.3 152.3h0.56v0.56h-0.56zM66.9 163.2h0.56v0.56h-0.56zM66.5 161.9h0.56v0.56h-0.56zM64.8 169.0h0.56v0.56h-0.56zM64.0 162.2h0.56v0.56h-0.56zM67.0 163.6h0.56v0.56h-0.56zM65.9 169.0h0.56v0.56h-0.56zM66.9 164.0h0.56v0.56h-0.56zM66.7 157.0h0.56v0.56h-0.56zM61.6 156.7h0.56v0.56h-0.56zM68.3 158.7h0.56v0.56h-0.56zM60.1 164.4h0.56v0.56h-0.56zM70.4 152.4h0.56v0.56h-0.56zM78.0 163.2h0.56v0.56h-0.56zM66.3 169.4h0.56v0.56h-0.56zM67.5 159.4h0.56v0.56h-0.56zM81.3 156.6h0.56v0.56h-0.56zM66.4 168.1h0.56v0.56h-0.56zM60.0 162.4h0.56v0.56h-0.56zM69.5 177.4h0.56v0.56h-0.56zM61.2 162.7h0.56v0.56h-0.56zM71.3 163.5h0.56v0.56h-0.56zM59.2 165.4h0.56v0.56h-0.56zM67.7 165.7h0.56v0.56h-0.56zM74.4 169.1h0.56v0.56h-0.56zM69.7 164.9h0.56v0.56h-0.56zM59.9 162.2h0.56v0.56h-0.56zM68.4 160.6h0.56v0.56h-0.56zM67.6 158.0h0.56v0.56h-0.56zM77.0 175.9h0.56v0.56h-0.56zM64.5 165.4h0.56v0.56h-0.56zM65.5 170.6h0.56v0.56h-0.56zM69.8 163.5h0.56v0.56h-0.56zM65.5 163.8h0.56v0.56h-0.56zM60.5 167.1h0.56v0.56h-0.56zM62.4 166.2h0.56v0.56h-0.56zM67.8 169.6h0.56v0.56h-0.56zM66.9 169.1h0.56v0.56h-0.56zM61.0 166.7h0.56v0.56h-0.56zM65.5 164.2h0.56v0.56h-0.56zM67.5 168.6h0.56v0.56h-0.56zM53.9 164.9h0.56v0.56h-0.56zM57.3 170.2h0.56v0.56h-0.56zM54.2 157.0h0.56v0.56h-0.56zM56.1 172.8h0.56v0.56h-0.56zM58.6 163.7h0.56v0.56h-0.56zM63.5 152.2h0.56v0.56h-0.56zM64.8 167.0h0.56v0.56h-0.56zM65.8 168.6h0.56v0.56h-0.56zM64.6 163.0h0.56v0.56h-0.56zM64.5 165.1h0.56v0.56h-0.56zM79.3 165.2h0.56v0.56h-0.56zM68.3 159.3h0.56v0.56h-0.56zM62.1 171.8h0.56v0.56h-0.56zM59.8 157.5h0.56v0.56h-0.56zM66.4 160.4h0.56v0.56h-0.56zM79.7 148.8h0.56v0.56h-0.56zM69.3 167.3h0.56v0.56h-0.56zM59.7 159.1h0.56v0.56h-0.56zM69.8 172.8h0.56v0.56h-0.56zM61.0 153.5h0.56v0.56h-0.56zM73.3 172.1h0.56v0.56h-0.56zM64.8 149.7h0.56v0.56h-0.56zM76.4 161.8h0.56v0.56h-0.56zM74.3 162.7h0.56v0.56h-0.56zM64.6 160.3h0.56v0.56h-0.56zM76.6 171.6h0.56v0.56h-0.56zM53.1 157.4h0.56v0.56h-0.56zM78.6 160.8h0.56v0.56h-0.56zM58.2 163.0h0.56v0.56h-0.56zM66.3 162.4h0.56v0.56h-0.56zM63.9 161.1h0.56v0.56h-0.56zM64.0 165.0h0.56v0.56h-0.56zM61.7 161.3h0.56v0.56h-0.56zM66.1 170.8h0.56v0.56h-0.56zM69.4 162.3h0.56v0.56h-0.56zM70.5 165.4h0.56v0.56h-0.56zM74.1 166.0h0.56v0.56h-0.56zM78.7 171.1h0.56v0.56h-0.56zM66.7 160.5h0.56v0.56h-0.56zM72.7 166.1h0.56v0.56h-0.56zM66.4 154.1h0.56v0.56h-0.56zM55.1 165.1h0.56v0.56h-0.56zM72.0 167.8h0.56v0.56h-0.56zM58.6 169.2h0.56v0.56h-0.56zM63.5 165.3h0.56v0.56h-0.56zM69.7 158.2h0.56v0.56h-0.56zM63.2 150.6h0.56v0.56h-0.56zM61.0 152.2h0.56v0.56h-0.56zM69.8 163.4h0.56v0.56h-0.56zM72.9 165.1h0.56v0.56h-0.56zM62.9 165.1h0.56v0.56h-0.56zM64.5 166.7h0.56v0.56h-0.56zM69.0 157.1h0.56v0.56h-0.56zM67.0 163.3h0.56v0.56h-0.56zM65.0 168.4h0.56v0.56h-0.56zM78.1 160.8h0.56v0.56h-0.56zM64.7 149.5h0.56v0.56h-0.56zM66.2 160.4h0.56v0.56h-0.56zM53.0 164.7h0.56v0.56h-0.56zM70.8 158.6h0.56v0.56h-0.56zM64.6 157.2h0.56v0.56h-0.56zM72.0 153.9h0.56v0.56h-0.56zM65.0 174.7h0.56v0.56h-0.56zM67.3 165.8h0.56v0.56h-0.56zM66.0 156.0h0.56v0.56h-0.56zM66.8 165.4h0.56v0.56h-0.56zM60.4 165.0h0.56v0.56h-0.56zM75.1 169.4h0.56v0.56h-0.56zM56.7 157.1h0.56v0.56h-0.56zM56.5 169.4h0.56v0.56h-0.56zM71.0 167.2h0.56v0.56h-0.56zM61.3 156.0h0.56v0.56h-0.56zM67.5 163.6h0.56v0.56h-0.56zM61.4 163.9h0.56v0.56h-0.56zM71.2 164.4h0.56v0.56h-0.56zM60.2 150.3h0.56v0.56h-0.56zM65.3 164.0h0.56v0.56h-0.56zM65.3 160.4h0.56v0.56h-0.56zM62.5 167.3h0.56v0.56h-0.56zM66.7 163.7h0.56v0.56h-0.56zM60.7 159.3h0.56v0.56h-0.56zM68.1 157.0h0.56v0.56h-0.56zM58.8 161.0h0.56v0.56h-0.56zM74.8 164.1h0.56v0.56h-0.56zM76.5 162.2h0.56v0.56h-0.56zM65.0 154.6h0.56v0.56h-0.56zM63.3 171.6h0.56v0.56h-0.56zM69.1 167.4h0.56v0.56h-0.56zM71.6 162.9h0.56v0.56h-0.56zM65.7 163.7h0.56v0.56h-0.56zM71.4 165.7h0.56v0.56h-0.56zM70.2 163.9h0.56v0.56h-0.56zM62.0 161.4h0.56v0.56h-0.56zM60.9 169.0h0.56v0.56h-0.56zM53.3 161.7h0.56v0.56h-0.56zM82.5 161.0h0.56v0.56h-0.56zM59.6 162.9h0.56v0.56h-0.56zM75.4 162.0h0.56v0.56h-0.56zM71.0 163.6h0.56v0.56h-0.56zM64.6 181.9h0.56v0.56h-0.56zM67.5 159.8h0.56v0.56h-0.56zM63.8 165.3h0.56v0.56h-0.56zM69.7 167.6h0.56v0.56h-0.56zM67.9 154.4h0.56v0.56h-0.56zM70.5 161.1h0.56v0.56h-0.56zM65.1 154.1h0.56v0.56h-0.56zM63.3 158.6h0.56v0.56h-0.56zM66.8 154.3h0.56v0.56h-0.56zM67.3 163.7h0.56v0.56h-0.56zM59.7 159.3h0.56v0.56h-0.56zM61.4 168.4h0.56v0.56h-0.56zM50.6 160.9h0.56v0.56h-0.56zM56.2 160.4h0.56v0.56h-0.56zM72.5 159.2h0.56v0.56h-0.56zM67.9 157.9h0.56v0.56h-0.56zM79.6 168.5h0.56v0.56h-0.56zM74.3 155.0h0.56v0.56h-0.56zM59.8 169.5h0.56v0.56h-0.56zM65.7 161.5h0.56v0.56h-0.56zM69.2 155.5h0.56v0.56h-0.56zM72.0 163.1h0.56v0.56h-0.56zM70.1 159.0h0.56v0.56h-0.56zM70.3 158.8h0.56v0.56h-0.56zM73.2 169.8h0.56v0.56h-0.56zM72.9 166.1h0.56v0.56h-0.56zM71.1 146.8h0.56v0.56h-0.56zM72.4 161.4h0.56v0.56h-0.56zM67.6 161.3h0.56v0.56h-0.56zM58.0 159.8h0.56v0.56h-0.56zM71.3 171.5h0.56v0.56h-0.56zM63.0 157.6h0.56v0.56h-0.56zM76.4 157.7h0.56v0.56h-0.56zM80.5 163.3h0.56v0.56h-0.56zM61.3 168.9h0.56v0.56h-0.56zM78.0 154.4h0.56v0.56h-0.56zM77.1 161.3h0.56v0.56h-0.56zM76.7 160.7h0.56v0.56h-0.56zM56.7 166.0h0.56v0.56h-0.56zM73.0 175.6h0.56v0.56h-0.56zM78.2 167.2h0.56v0.56h-0.56zM65.5 159.9h0.56v0.56h-0.56zM65.1 158.0h0.56v0.56h-0.56zM65.2 147.7h0.56v0.56h-0.56zM68.2 162.8h0.56v0.56h-0.56zM83.7 167.6h0.56v0.56h-0.56zM63.9 166.4h0.56v0.56h-0.56zM59.0 159.4h0.56v0.56h-0.56zM54.9 171.6h0.56v0.56h-0.56zM70.9 155.9h0.56v0.56h-0.56zM66.6 168.7h0.56v0.56h-0.56zM70.2 165.3h0.56v0.56h-0.56zM61.4 159.2h0.56v0.56h-0.56zM67.6 168.5h0.56v0.56h-0.56zM61.6 156.3h0.56v0.56h-0.56zM74.4 157.4h0.56v0.56h-0.56zM74.0 164.5h0.56v0.56h-0.56zM72.7 173.5h0.56v0.56h-0.56zM71.5 167.7h0.56v0.56h-0.56zM61.0 158.8h0.56v0.56h-0.56zM71.2 172.2h0.56v0.56h-0.56zM76.0 176.9h0.56v0.56h-0.56zM69.0 164.2h0.56v0.56h-0.56zM73.5 163.1h0.56v0.56h-0.56zM66.6 156.7h0.56v0.56h-0.56zM73.4 156.6h0.56v0.56h-0.56zM70.3 154.5h0.56v0.56h-0.56zM74.1 156.8h0.56v0.56h-0.56zM72.5 153.5h0.56v0.56h-0.56zM64.1 170.1h0.56v0.56h-0.56zM61.8 163.4h0.56v0.56h-0.56zM63.9 149.1h0.56v0.56h-0.56zM69.0 165.6h0.56v0.56h-0.56zM59.8 166.4h0.56v0.56h-0.56zM61.8 157.0h0.56v0.56h-0.56zM67.0 158.9h0.56v0.56h-0.56zM81.9 153.7h0.56v0.56h-0.56zM71.8 168.9h0.56v0.56h-0.56zM54.1 152.6h0.56v0.56h-0.56zM70.7 160.1h0.56v0.56h-0.56zM69.5 169.8h0.56v0.56h-0.56zM64.6 156.6h0.56v0.56h-0.56zM49.3 164.2h0.56v0.56h-0.56zM61.0 164.9h0.56v0.56h-0.56zM68.5 154.7h0.56v0.56h-0.56zM78.2 169.5h0.56v0.56h-0.56zM72.5 155.9h0.56v0.56h-0.56zM64.4 159.7h0.56v0.56h-0.56zM64.3 156.3h0.56v0.56h-0.56zM69.8 164.4h0.56v0.56h-0.56zM69.4 160.0h0.56v0.56h-0.56zM75.4 164.1h0.56v0.56h-0.56zM49.2 159.2h0.56v0.56h-0.56zM66.6 168.8h0.56v0.56h-0.56zM65.0 161.5h0.56v0.56h-0.56zM62.7 167.0h0.56v0.56h-0.56zM64.1 159.4h0.56v0.56h-0.56zM62.2 166.3h0.56v0.56h-0.56zM63.5 152.9h0.56v0.56h-0.56zM71.0 158.8h0.56v0.56h-0.56zM69.3 165.2h0.56v0.56h-0.56zM74.8 169.3h0.56v0.56h-0.56zM63.3 162.0h0.56v0.56h-0.56zM58.6 173.1h0.56v0.56h-0.56zM72.5 168.9h0.56v0.56h-0.56zM69.9 156.8h0.56v0.56h-0.56zM76.4 164.3h0.56v0.56h-0.56zM71.5 164.2h0.56v0.56h-0.56zM73.3 165.9h0.56v0.56h-0.56zM65.4 167.8h0.56v0.56h-0.56zM69.1 162.4h0.56v0.56h-0.56zM77.0 167.2h0.56v0.56h-0.56zM69.8 157.5h0.56v0.56h-0.56zM71.6 165.9h0.56v0.56h-0.56zM70.7 159.6h0.56v0.56h-0.56zM68.2 159.6h0.56v0.56h-0.56zM71.8 166.9h0.56v0.56h-0.56zM74.6 161.4h0.56v0.56h-0.56zM71.8 165.9h0.56v0.56h-0.56zM69.2 163.5h0.56v0.56h-0.56zM78.4 164.7h0.56v0.56h-0.56zM74.1 162.5h0.56v0.56h-0.56zM71.1 158.0h0.56v0.56h-0.56zM70.9 168.2h0.56v0.56h-0.56zM78.3 168.2h0.56v0.56h-0.56zM73.4 164.2h0.56v0.56h-0.56zM68.9 163.4h0.56v0.56h-0.56zM73.1 161.3h0.56v0.56h-0.56zM74.3 160.6h0.56v0.56h-0.56zM64.8 160.5h0.56v0.56h-0.56zM65.2 159.2h0.56v0.56h-0.56zM75.0 163.3h0.56v0.56h-0.56zM71.8 168.1h0.56v0.56h-0.56zM75.4 162.2h0.56v0.56h-0.56zM75.6 165.3h0.56v0.56h-0.56zM71.0 165.5h0.56v0.56h-0.56zM66.0 161.2h0.56v0.56h-0.56zM70.6 166.1h0.56v0.56h-0.56zM69.7 163.6h0.56v0.56h-0.56zM74.4 168.9h0.56v0.56h-0.56zM73.7 168.4h0.56v0.56h-0.56zM69.6 162.9h0.56v0.56h-0.56zM72.1 162.9h0.56v0.56h-0.56zM69.2 169.8h0.56v0.56h-0.56zM70.3 160.6h0.56v0.56h-0.56zM72.7 170.4h0.56v0.56h-0.56zM71.3 168.3h0.56v0.56h-0.56zM69.5 162.3h0.56v0.56h-0.56zM68.6 163.5h0.56v0.56h-0.56zM77.4 160.0h0.56v0.56h-0.56zM76.7 160.5h0.56v0.56h-0.56zM70.2 166.9h0.56v0.56h-0.56zM73.2 165.0h0.56v0.56h-0.56zM65.2 165.3h0.56v0.56h-0.56zM67.4 173.0h0.56v0.56h-0.56zM70.3 164.7h0.56v0.56h-0.56zM67.0 162.3h0.56v0.56h-0.56zM66.5 167.4h0.56v0.56h-0.56zM70.1 166.0h0.56v0.56h-0.56zM68.6 162.2h0.56v0.56h-0.56zM75.5 160.6h0.56v0.56h-0.56zM64.7 165.4h0.56v0.56h-0.56zM67.0 162.5h0.56v0.56h-0.56zM74.2 161.1h0.56v0.56h-0.56zM74.1 161.6h0.56v0.56h-0.56zM76.2 168.6h0.56v0.56h-0.56zM69.4 163.3h0.56v0.56h-0.56zM68.1 164.7h0.56v0.56h-0.56zM75.0 158.9h0.56v0.56h-0.56zM74.2 159.4h0.56v0.56h-0.56zM68.0 157.7h0.56v0.56h-0.56zM78.4 164.2h0.56v0.56h-0.56zM71.9 161.6h0.56v0.56h-0.56zM74.7 156.6h0.56v0.56h-0.56zM71.1 171.7h0.56v0.56h-0.56zM69.7 164.1h0.56v0.56h-0.56zM73.4 161.2h0.56v0.56h-0.56zM71.1 167.4h0.56v0.56h-0.56zM71.7 165.3h0.56v0.56h-0.56zM69.8 165.1h0.56v0.56h-0.56zM71.2 169.1h0.56v0.56h-0.56zM73.5 163.1h0.56v0.56h-0.56zM62.4 166.5h0.56v0.56h-0.56zM73.6 160.8h0.56v0.56h-0.56zM64.0 160.0h0.56v0.56h-0.56zM74.2 160.3h0.56v0.56h-0.56zM69.4 164.8h0.56v0.56h-0.56zM75.3 163.9h0.56v0.56h-0.56zM70.6 162.1h0.56v0.56h-0.56zM76.7 167.7h0.56v0.56h-0.56zM70.7 159.1h0.56v0.56h-0.56zM68.2 166.0h0.56v0.56h-0.56zM68.5 167.1h0.56v0.56h-0.56zM72.3 165.0h0.56v0.56h-0.56zM73.3 165.7h0.56v0.56h-0.56zM68.0 162.9h0.56v0.56h-0.56zM79.2 159.8h0.56v0.56h-0.56zM69.3 167.7h0.56v0.56h-0.56zM70.4 161.2h0.56v0.56h-0.56zM66.4 165.9h0.56v0.56h-0.56zM74.6 168.9h0.56v0.56h-0.56zM71.2 167.7h0.56v0.56h-0.56zM67.4 164.6h0.56v0.56h-0.56zM68.6 164.6h0.56v0.56h-0.56zM73.6 167.7h0.56v0.56h-0.56zM67.5 168.4h0.56v0.56h-0.56zM69.3 160.4h0.56v0.56h-0.56zM70.4 158.9h0.56v0.56h-0.56zM71.0 165.0h0.56v0.56h-0.56zM70.3 165.9h0.56v0.56h-0.56zM69.9 164.0h0.56v0.56h-0.56zM66.0 164.1h0.56v0.56h-0.56zM68.0 162.4h0.56v0.56h-0.56zM70.7 164.7h0.56v0.56h-0.56zM65.2 158.5h0.56v0.56h-0.56zM69.9 165.7h0.56v0.56h-0.56zM72.3 167.1h0.56v0.56h-0.56zM75.6 165.7h0.56v0.56h-0.56zM70.9 160.4h0.56v0.56h-0.56zM67.7 162.4h0.56v0.56h-0.56zM71.9 164.8h0.56v0.56h-0.56zM71.0 163.5h0.56v0.56h-0.56zM73.2 164.7h0.56v0.56h-0.56zM72.0 165.1h0.56v0.56h-0.56zM69.1 160.4h0.56v0.56h-0.56zM72.7 165.5h0.56v0.56h-0.56zM70.2 162.5h0.56v0.56h-0.56zM79.0 161.3h0.56v0.56h-0.56zM70.2 164.9h0.56v0.56h-0.56zM67.0 164.4h0.56v0.56h-0.56zM77.3 167.3h0.56v0.56h-0.56zM73.2 166.1h0.56v0.56h-0.56zM71.4 167.4h0.56v0.56h-0.56zM70.5 162.5h0.56v0.56h-0.56zM71.4 167.2h0.56v0.56h-0.56zM72.2 166.4h0.56v0.56h-0.56zM63.9 168.2h0.56v0.56h-0.56zM79.2 168.7h0.56v0.56h-0.56zM69.9 161.0h0.56v0.56h-0.56zM72.0 160.5h0.56v0.56h-0.56zM73.5 162.2h0.56v0.56h-0.56zM74.4 168.8h0.56v0.56h-0.56zM63.9 165.0h0.56v0.56h-0.56zM68.6 159.1h0.56v0.56h-0.56zM68.8 163.2h0.56v0.56h-0.56zM74.6 158.7h0.56v0.56h-0.56zM74.7 171.1h0.56v0.56h-0.56zM73.1 165.9h0.56v0.56h-0.56zM71.0 159.9h0.56v0.56h-0.56zM72.9 165.3h0.56v0.56h-0.56zM73.6 173.0h0.56v0.56h-0.56zM73.5 165.5h0.56v0.56h-0.56zM76.5 159.3h0.56v0.56h-0.56zM67.0 162.7h0.56v0.56h-0.56zM68.7 166.4h0.56v0.56h-0.56zM69.9 170.1h0.56v0.56h-0.56zM76.3 166.7h0.56v0.56h-0.56zM69.6 166.2h0.56v0.56h-0.56zM73.8 160.3h0.56v0.56h-0.56zM72.2 166.5h0.56v0.56h-0.56zM71.8 169.5h0.56v0.56h-0.56zM75.2 161.1h0.56v0.56h-0.56zM71.4 161.1h0.56v0.56h-0.56zM73.0 161.0h0.56v0.56h-0.56zM74.2 165.4h0.56v0.56h-0.56zM74.4 163.5h0.56v0.56h-0.56zM65.9 170.2h0.56v0.56h-0.56zM70.4 168.8h0.56v0.56h-0.56zM72.5 166.4h0.56v0.56h-0.56zM77.4 165.2h0.56v0.56h-0.56zM75.9 158.8h0.56v0.56h-0.56zM74.0 163.2h0.56v0.56h-0.56zM70.5 164.0h0.56v0.56h-0.56zM72.2 169.8h0.56v0.56h-0.56zM64.5 164.2h0.56v0.56h-0.56zM68.5 168.1h0.56v0.56h-0.56zM69.5 165.6h0.56v0.56h-0.56zM69.6 166.3h0.56v0.56h-0.56zM74.6 162.6h0.56v0.56h-0.56zM71.2 159.0h0.56v0.56h-0.56zM72.1 167.0h0.56v0.56h-0.56zM69.1 167.9h0.56v0.56h-0.56zM63.7 157.5h0.56v0.56h-0.56zM66.1 162.3h0.56v0.56h-0.56zM71.1 163.7h0.56v0.56h-0.56zM70.8 166.5h0.56v0.56h-0.56zM69.3 159.6h0.56v0.56h-0.56zM66.6 171.4h0.56v0.56h-0.56zM62.8 163.4h0.56v0.56h-0.56zM76.1 165.7h0.56v0.56h-0.56zM68.1 164.0h0.56v0.56h-0.56zM74.0 168.2h0.56v0.56h-0.56zM67.9 166.7h0.56v0.56h-0.56zM71.9 167.9h0.56v0.56h-0.56zM75.9 162.8h0.56v0.56h-0.56zM65.9 165.4h0.56v0.56h-0.56zM77.2 166.4h0.56v0.56h-0.56zM71.8 172.4h0.56v0.56h-0.56zM67.4 167.2h0.56v0.56h-0.56zM69.0 164.2h0.56v0.56h-0.56zM71.3 169.3h0.56v0.56h-0.56zM67.7 162.1h0.56v0.56h-0.56zM65.4 165.7h0.56v0.56h-0.56zM69.4 165.5h0.56v0.56h-0.56zM67.2 162.7h0.56v0.56h-0.56zM74.6 163.4h0.56v0.56h-0.56zM73.2 165.8h0.56v0.56h-0.56zM69.8 158.5h0.56v0.56h-0.56zM74.4 164.6h0.56v0.56h-0.56zM74.4 157.0h0.56v0.56h-0.56zM65.2 156.5h0.56v0.56h-0.56zM67.9 167.6h0.56v0.56h-0.56zM73.0 163.9h0.56v0.56h-0.56zM71.5 166.7h0.56v0.56h-0.56zM69.9 165.4h0.56v0.56h-0.56zM71.5 156.3h0.56v0.56h-0.56zM69.7 168.8h0.56v0.56h-0.56zM69.6 163.5h0.56v0.56h-0.56zM68.9 162.3h0.56v0.56h-0.56zM74.9 163.1h0.56v0.56h-0.56zM67.4 153.1h0.56v0.56h-0.56zM69.0 157.1h0.56v0.56h-0.56zM64.6 166.8h0.56v0.56h-0.56zM73.5 157.3h0.56v0.56h-0.56zM74.0 165.6h0.56v0.56h-0.56zM68.3 166.6h0.56v0.56h-0.56zM65.3 159.8h0.56v0.56h-0.56zM66.0 160.1h0.56v0.56h-0.56zM74.1 159.3h0.56v0.56h-0.56zM67.0 160.7h0.56v0.56h-0.56zM71.7 162.8h0.56v0.56h-0.56zM74.0 161.5h0.56v0.56h-0.56zM66.5 162.2h0.56v0.56h-0.56zM71.1 160.7h0.56v0.56h-0.56zM72.0 170.3h0.56v0.56h-0.56zM68.9 164.1h0.56v0.56h-0.56zM75.7 161.7h0.56v0.56h-0.56zM68.0 160.1h0.56v0.56h-0.56zM72.3 165.8h0.56v0.56h-0.56zM70.4 164.1h0.56v0.56h-0.56zM75.4 167.0h0.56v0.56h-0.56zM66.0 163.9h0.56v0.56h-0.56zM71.3 166.4h0.56v0.56h-0.56zM70.1 161.7h0.56v0.56h-0.56zM69.3 157.7h0.56v0.56h-0.56zM70.8 161.8h0.56v0.56h-0.56zM72.5 160.3h0.56v0.56h-0.56zM69.4 160.5h0.56v0.56h-0.56zM67.2 166.3h0.56v0.56h-0.56zM69.3 165.4h0.56v0.56h-0.56zM67.0 164.2h0.56v0.56h-0.56zM65.0 162.2h0.56v0.56h-0.56zM69.1 165.9h0.56v0.56h-0.56zM71.5 163.2h0.56v0.56h-0.56zM73.8 164.5h0.56v0.56h-0.56zM72.7 166.5h0.56v0.56h-0.56zM70.6 162.8h0.56v0.56h-0.56zM72.0 162.4h0.56v0.56h-0.56zM72.2 167.7h0.56v0.56h-0.56zM73.8 162.5h0.56v0.56h-0.56zM66.4 163.6h0.56v0.56h-0.56zM70.4 167.7h0.56v0.56h-0.56zM69.5 163.1h0.56v0.56h-0.56zM73.4 162.2h0.56v0.56h-0.56zM70.3 169.8h0.56v0.56h-0.56zM76.0 166.0h0.56v0.56h-0.56zM71.8 160.5h0.56v0.56h-0.56zM72.8 164.0h0.56v0.56h-0.56zM71.6 162.0h0.56v0.56h-0.56zM70.8 163.2h0.56v0.56h-0.56zM71.9 168.8h0.56v0.56h-0.56zM72.1 158.0h0.56v0.56h-0.56zM67.4 158.3h0.56v0.56h-0.56zM68.1 165.8h0.56v0.56h-0.56zM72.2 161.7h0.56v0.56h-0.56zM71.8 161.2h0.56v0.56h-0.56zM65.9 158.9h0.56v0.56h-0.56zM67.8 168.8h0.56v0.56h-0.56zM66.1 168.2h0.56v0.56h-0.56zM75.5 163.2h0.56v0.56h-0.56zM70.7 161.7h0.56v0.56h-0.56zM70.7 166.1h0.56v0.56h-0.56zM70.9 167.3h0.56v0.56h-0.56zM75.0 165.0h0.56v0.56h-0.56zM72.0 163.6h0.56v0.56h-0.56zM72.0 159.9h0.56v0.56h-0.56zM72.2 164.5h0.56v0.56h-0.56zM67.8 171.3h0.56v0.56h-0.56zM67.4 160.8h0.56v0.56h-0.56zM71.8 157.1h0.56v0.56h-0.56zM68.1 158.5h0.56v0.56h-0.56zM67.4 163.4h0.56v0.56h-0.56zM71.9 167.7h0.56v0.56h-0.56zM73.6 168.0h0.56v0.56h-0.56zM72.9 162.2h0.56v0.56h-0.56zM74.7 162.1h0.56v0.56h-0.56zM68.7 169.2h0.56v0.56h-0.56zM73.6 164.6h0.56v0.56h-0.56zM73.4 166.9h0.56v0.56h-0.56zM66.0 163.5h0.56v0.56h-0.56zM66.7 164.2h0.56v0.56h-0.56zM68.5 168.6h0.56v0.56h-0.56zM72.6 161.0h0.56v0.56h-0.56zM70.7 159.6h0.56v0.56h-0.56zM70.9 165.7h0.56v0.56h-0.56zM71.7 157.1h0.56v0.56h-0.56zM69.6 165.6h0.56v0.56h-0.56zM71.9 167.9h0.56v0.56h-0.56zM66.3 165.6h0.56v0.56h-0.56zM68.5 164.5h0.56v0.56h-0.56zM72.2 166.2h0.56v0.56h-0.56zM68.8 164.4h0.56v0.56h-0.56zM66.7 158.9h0.56v0.56h-0.56zM72.7 163.6h0.56v0.56h-0.56zM65.1 160.8h0.56v0.56h-0.56zM70.9 169.2h0.56v0.56h-0.56zM74.5 166.6h0.56v0.56h-0.56zM64.6 163.5h0.56v0.56h-0.56zM72.5 165.2h0.56v0.56h-0.56zM72.3 163.0h0.56v0.56h-0.56zM76.9 169.0h0.56v0.56h-0.56zM70.5 160.4h0.56v0.56h-0.56zM78.0 161.9h0.56v0.56h-0.56zM75.0 170.5h0.56v0.56h-0.56zM67.5 164.8h0.56v0.56h-0.56zM69.6 165.6h0.56v0.56h-0.56zM71.9 170.6h0.56v0.56h-0.56zM72.9 163.8h0.56v0.56h-0.56zM74.7 162.8h0.56v0.56h-0.56zM69.5 171.6h0.56v0.56h-0.56zM67.9 162.1h0.56v0.56h-0.56zM70.9 160.1h0.56v0.56h-0.56zM63.4 167.5h0.56v0.56h-0.56zM68.0 161.9h0.56v0.56h-0.56zM69.5 160.4h0.56v0.56h-0.56zM67.0 164.4h0.56v0.56h-0.56zM79.2 166.4h0.56v0.56h-0.56zM73.4 158.5h0.56v0.56h-0.56zM70.7 159.7h0.56v0.56h-0.56zM73.5 163.0h0.56v0.56h-0.56zM70.9 163.5h0.56v0.56h-0.56zM68.8 158.5h0.56v0.56h-0.56zM72.8 159.0h0.56v0.56h-0.56zM66.7 162.8h0.56v0.56h-0.56zM68.3 164.7h0.56v0.56h-0.56zM74.3 164.7h0.56v0.56h-0.56zM71.5 163.9h0.56v0.56h-0.56zM73.8 157.3h0.56v0.56h-0.56zM72.1 160.5h0.56v0.56h-0.56zM66.5 163.8h0.56v0.56h-0.56zM69.4 165.8h0.56v0.56h-0.56zM74.6 155.7h0.56v0.56h-0.56zM70.5 170.6h0.56v0.56h-0.56zM73.8 168.9h0.56v0.56h-0.56zM71.1 158.8h0.56v0.56h-0.56zM66.9 166.3h0.56v0.56h-0.56zM74.1 161.2h0.56v0.56h-0.56zM69.9 164.7h0.56v0.56h-0.56zM64.7 162.6h0.56v0.56h-0.56zM76.5 171.4h0.56v0.56h-0.56zM70.4 170.2h0.56v0.56h-0.56zM69.0 161.0h0.56v0.56h-0.56zM63.0 167.1h0.56v0.56h-0.56zM69.5 172.0h0.56v0.56h-0.56zM72.0 164.5h0.56v0.56h-0.56zM64.5 169.0h0.56v0.56h-0.56zM69.5 163.2h0.56v0.56h-0.56zM63.1 167.0h0.56v0.56h-0.56zM74.3 161.7h0.56v0.56h-0.56zM71.1 165.2h0.56v0.56h-0.56zM74.2 164.2h0.56v0.56h-0.56zM76.8 163.0h0.56v0.56h-0.56zM68.7 162.2h0.56v0.56h-0.56zM61.9 161.0h0.56v0.56h-0.56zM74.3 164.7h0.56v0.56h-0.56zM67.9 165.0h0.56v0.56h-0.56zM63.7 162.8h0.56v0.56h-0.56zM72.6 166.3h0.56v0.56h-0.56zM68.1 167.0h0.56v0.56h-0.56zM77.4 162.3h0.56v0.56h-0.56zM73.4 158.4h0.56v0.56h-0.56zM63.9 166.0h0.56v0.56h-0.56zM71.0 164.5h0.56v0.56h-0.56zM68.8 162.8h0.56v0.56h-0.56zM73.7 169.8h0.56v0.56h-0.56zM70.1 158.0h0.56v0.56h-0.56zM75.3 165.9h0.56v0.56h-0.56zM73.2 164.5h0.56v0.56h-0.56zM79.0 164.1h0.56v0.56h-0.56zM72.6 157.3h0.56v0.56h-0.56zM68.8 161.4h0.56v0.56h-0.56zM70.7 165.0h0.56v0.56h-0.56zM68.2 169.9h0.56v0.56h-0.56zM67.1 162.2h0.56v0.56h-0.56zM71.7 159.4h0.56v0.56h-0.56zM72.8 166.0h0.56v0.56h-0.56zM69.8 170.5h0.56v0.56h-0.56zM71.1 164.8h0.56v0.56h-0.56zM67.5 158.0h0.56v0.56h-0.56zM68.6 162.7h0.56v0.56h-0.56zM69.2 166.5h0.56v0.56h-0.56zM62.5 159.8h0.56v0.56h-0.56zM64.4 168.5h0.56v0.56h-0.56zM68.8 162.0h0.56v0.56h-0.56zM67.0 167.0h0.56v0.56h-0.56zM69.4 164.6h0.56v0.56h-0.56zM63.7 167.9h0.56v0.56h-0.56zM72.2 165.8h0.56v0.56h-0.56zM75.2 163.1h0.56v0.56h-0.56zM70.2 166.3h0.56v0.56h-0.56zM72.3 163.0h0.56v0.56h-0.56zM71.0 162.1h0.56v0.56h-0.56zM73.3 167.1h0.56v0.56h-0.56zM70.8 170.4h0.56v0.56h-0.56zM65.4 163.0h0.56v0.56h-0.56zM76.8 162.4h0.56v0.56h-0.56zM65.2 168.7h0.56v0.56h-0.56zM72.7 159.6h0.56v0.56h-0.56zM73.5 160.2h0.56v0.56h-0.56zM66.1 163.3h0.56v0.56h-0.56zM69.1 160.0h0.56v0.56h-0.56zM69.6 160.3h0.56v0.56h-0.56zM71.0 163.8h0.56v0.56h-0.56zM73.4 162.2h0.56v0.56h-0.56zM66.2 159.2h0.56v0.56h-0.56zM70.0 169.2h0.56v0.56h-0.56zM73.8 161.6h0.56v0.56h-0.56zM74.1 159.8h0.56v0.56h-0.56zM74.4 162.5h0.56v0.56h-0.56zM73.5 166.0h0.56v0.56h-0.56zM69.9 165.0h0.56v0.56h-0.56zM67.1 163.6h0.56v0.56h-0.56zM74.6 178.2h0.56v0.56h-0.56zM73.3 164.1h0.56v0.56h-0.56zM67.3 167.6h0.56v0.56h-0.56zM65.0 161.0h0.56v0.56h-0.56zM72.1 159.6h0.56v0.56h-0.56zM76.2 167.7h0.56v0.56h-0.56zM68.8 161.9h0.56v0.56h-0.56zM66.2 158.9h0.56v0.56h-0.56zM72.4 166.0h0.56v0.56h-0.56zM72.1 164.8h0.56v0.56h-0.56zM68.9 165.1h0.56v0.56h-0.56zM65.7 163.9h0.56v0.56h-0.56zM76.0 168.5h0.56v0.56h-0.56zM69.2 162.7h0.56v0.56h-0.56zM75.7 170.1h0.56v0.56h-0.56zM65.6 162.3h0.56v0.56h-0.56zM71.7 168.1h0.56v0.56h-0.56zM67.9 166.1h0.56v0.56h-0.56zM69.8 172.2h0.56v0.56h-0.56zM72.4 163.4h0.56v0.56h-0.56zM69.7 167.6h0.56v0.56h-0.56zM73.2 160.0h0.56v0.56h-0.56zM71.6 159.1h0.56v0.56h-0.56zM68.2 159.3h0.56v0.56h-0.56zM66.2 161.4h0.56v0.56h-0.56zM67.4 165.7h0.56v0.56h-0.56zM73.6 163.0h0.56v0.56h-0.56zM66.9 166.7h0.56v0.56h-0.56zM63.7 157.1h0.56v0.56h-0.56zM73.4 166.1h0.56v0.56h-0.56zM74.3 163.1h0.56v0.56h-0.56zM66.4 162.1h0.56v0.56h-0.56zM72.8 161.1h0.56v0.56h-0.56zM68.4 158.9h0.56v0.56h-0.56zM66.8 166.8h0.56v0.56h-0.56zM72.4 159.8h0.56v0.56h-0.56zM67.0 161.9h0.56v0.56h-0.56zM72.8 159.7h0.56v0.56h-0.56zM70.3 156.3h0.56v0.56h-0.56zM66.4 165.3h0.56v0.56h-0.56zM74.0 159.8h0.56v0.56h-0.56zM68.1 166.6h0.56v0.56h-0.56zM69.5 161.9h0.56v0.56h-0.56zM72.7 164.5h0.56v0.56h-0.56zM74.8 166.6h0.56v0.56h-0.56zM68.8 163.4h0.56v0.56h-0.56zM70.6 159.1h0.56v0.56h-0.56zM67.4 167.3h0.56v0.56h-0.56zM65.3 167.3h0.56v0.56h-0.56zM71.9 163.4h0.56v0.56h-0.56zM72.7 165.5h0.56v0.56h-0.56zM75.1 162.4h0.56v0.56h-0.56zM70.0 163.0h0.56v0.56h-0.56zM77.5 167.2h0.56v0.56h-0.56zM67.6 162.7h0.56v0.56h-0.56zM68.4 163.9h0.56v0.56h-0.56zM71.6 171.9h0.56v0.56h-0.56zM64.4 167.5h0.56v0.56h-0.56zM72.4 161.4h0.56v0.56h-0.56zM70.3 162.1h0.56v0.56h-0.56zM71.0 167.4h0.56v0.56h-0.56zM65.5 168.5h0.56v0.56h-0.56zM69.6 169.1h0.56v0.56h-0.56zM72.3 168.2h0.56v0.56h-0.56zM72.9 167.7h0.56v0.56h-0.56zM71.1 161.0h0.56v0.56h-0.56zM73.2 166.4h0.56v0.56h-0.56zM78.2 156.8h0.56v0.56h-0.56zM70.2 167.6h0.56v0.56h-0.56zM66.5 163.1h0.56v0.56h-0.56zM78.3 168.9h0.56v0.56h-0.56zM67.8 168.9h0.56v0.56h-0.56zM70.1 180.7h0.56v0.56h-0.56zM64.4 178.0h0.56v0.56h-0.56zM55.7 174.3h0.56v0.56h-0.56zM66.9 177.5h0.56v0.56h-0.56zM74.8 175.2h0.56v0.56h-0.56zM45.0 175.2h0.56v0.56h-0.56zM63.7 178.8h0.56v0.56h-0.56zM62.3 172.7h0.56v0.56h-0.56zM72.3 173.5h0.56v0.56h-0.56zM66.8 175.4h0.56v0.56h-0.56zM53.4 183.9h0.56v0.56h-0.56zM44.2 172.6h0.56v0.56h-0.56zM64.8 175.1h0.56v0.56h-0.56zM67.1 176.4h0.56v0.56h-0.56zM58.7 187.7h0.56v0.56h-0.56zM60.3 176.1h0.56v0.56h-0.56zM54.2 173.1h0.56v0.56h-0.56zM66.4 179.7h0.56v0.56h-0.56zM61.9 173.4h0.56v0.56h-0.56zM66.7 168.4h0.56v0.56h-0.56zM59.5 175.6h0.56v0.56h-0.56zM55.9 177.7h0.56v0.56h-0.56zM57.2 172.9h0.56v0.56h-0.56zM74.5 180.6h0.56v0.56h-0.56zM70.3 177.2h0.56v0.56h-0.56zM68.7 180.8h0.56v0.56h-0.56zM70.4 188.8h0.56v0.56h-0.56zM60.3 178.2h0.56v0.56h-0.56zM61.6 159.4h0.56v0.56h-0.56zM52.2 177.0h0.56v0.56h-0.56zM66.4 174.1h0.56v0.56h-0.56zM69.9 183.4h0.56v0.56h-0.56zM59.1 184.1h0.56v0.56h-0.56zM74.2 179.3h0.56v0.56h-0.56zM55.1 184.3h0.56v0.56h-0.56zM60.8 175.1h0.56v0.56h-0.56zM62.8 174.3h0.56v0.56h-0.56zM69.5 180.9h0.56v0.56h-0.56zM70.5 179.9h0.56v0.56h-0.56zM56.4 176.2h0.56v0.56h-0.56zM68.1 175.0h0.56v0.56h-0.56zM82.4 175.8h0.56v0.56h-0.56zM57.9 182.7h0.56v0.56h-0.56zM67.2 176.9h0.56v0.56h-0.56zM60.4 179.1h0.56v0.56h-0.56zM67.8 180.8h0.56v0.56h-0.56zM59.9 179.2h0.56v0.56h-0.56zM67.9 180.8h0.56v0.56h-0.56zM40.4 172.5h0.56v0.56h-0.56zM56.6 175.8h0.56v0.56h-0.56zM63.3 181.6h0.56v0.56h-0.56zM66.3 176.4h0.56v0.56h-0.56zM62.2 185.8h0.56v0.56h-0.56zM57.7 178.5h0.56v0.56h-0.56zM73.0 178.7h0.56v0.56h-0.56zM47.7 178.9h0.56v0.56h-0.56zM59.3 176.4h0.56v0.56h-0.56zM69.4 179.3h0.56v0.56h-0.56zM60.2 181.5h0.56v0.56h-0.56zM65.0 177.5h0.56v0.56h-0.56zM64.1 178.3h0.56v0.56h-0.56zM59.6 174.7h0.56v0.56h-0.56zM62.2 172.2h0.56v0.56h-0.56zM53.2 183.5h0.56v0.56h-0.56zM60.3 176.9h0.56v0.56h-0.56zM61.1 177.1h0.56v0.56h-0.56zM62.2 177.3h0.56v0.56h-0.56zM56.4 181.7h0.56v0.56h-0.56zM57.2 182.2h0.56v0.56h-0.56zM48.6 171.7h0.56v0.56h-0.56zM68.9 176.3h0.56v0.56h-0.56zM57.3 178.9h0.56v0.56h-0.56zM54.7 177.4h0.56v0.56h-0.56zM46.5 174.7h0.56v0.56h-0.56zM57.5 179.7h0.56v0.56h-0.56zM68.1 172.7h0.56v0.56h-0.56zM73.3 174.0h0.56v0.56h-0.56zM47.6 165.1h0.56v0.56h-0.56zM72.8 176.6h0.56v0.56h-0.56zM57.5 173.3h0.56v0.56h-0.56zM54.4 183.8h0.56v0.56h-0.56zM61.4 186.0h0.56v0.56h-0.56zM60.6 165.2h0.56v0.56h-0.56zM67.9 175.2h0.56v0.56h-0.56zM60.3 184.8h0.56v0.56h-0.56zM60.2 182.8h0.56v0.56h-0.56zM62.0 173.2h0.56v0.56h-0.56zM65.6 174.0h0.56v0.56h-0.56zM70.6 181.8h0.56v0.56h-0.56zM62.4 180.0h0.56v0.56h-0.56zM66.0 175.6h0.56v0.56h-0.56zM68.3 175.9h0.56v0.56h-0.56zM66.3 172.2h0.56v0.56h-0.56zM62.7 179.1h0.56v0.56h-0.56zM56.5 174.9h0.56v0.56h-0.56zM58.3 180.7h0.56v0.56h-0.56zM57.0 179.2h0.56v0.56h-0.56zM72.7 178.8h0.56v0.56h-0.56zM50.8 177.7h0.56v0.56h-0.56zM69.3 175.6h0.56v0.56h-0.56zM69.8 180.1h0.56v0.56h-0.56zM65.0 175.7h0.56v0.56h-0.56zM58.5 175.8h0.56v0.56h-0.56zM62.5 179.7h0.56v0.56h-0.56zM65.0 175.5h0.56v0.56h-0.56zM62.5 179.0h0.56v0.56h-0.56zM50.7 173.2h0.56v0.56h-0.56zM56.5 176.0h0.56v0.56h-0.56zM60.2 175.8h0.56v0.56h-0.56zM56.0 180.4h0.56v0.56h-0.56zM64.0 168.9h0.56v0.56h-0.56zM62.2 171.4h0.56v0.56h-0.56zM74.0 174.8h0.56v0.56h-0.56zM59.3 177.5h0.56v0.56h-0.56zM60.7 176.8h0.56v0.56h-0.56zM72.9 178.2h0.56v0.56h-0.56zM68.0 182.7h0.56v0.56h-0.56zM55.3 185.5h0.56v0.56h-0.56zM66.9 181.9h0.56v0.56h-0.56zM56.1 181.2h0.56v0.56h-0.56zM65.0 174.4h0.56v0.56h-0.56zM78.1 179.9h0.56v0.56h-0.56zM60.5 178.1h0.56v0.56h-0.56zM68.5 182.7h0.56v0.56h-0.56zM66.2 183.2h0.56v0.56h-0.56zM72.4 170.9h0.56v0.56h-0.56zM58.7 172.4h0.56v0.56h-0.56zM62.8 184.3h0.56v0.56h-0.56zM66.7 171.9h0.56v0.56h-0.56zM60.1 182.2h0.56v0.56h-0.56zM58.4 176.6h0.56v0.56h-0.56zM64.3 168.0h0.56v0.56h-0.56zM67.6 178.8h0.56v0.56h-0.56zM66.1 172.2h0.56v0.56h-0.56zM56.8 174.1h0.56v0.56h-0.56zM63.9 177.5h0.56v0.56h-0.56zM63.0 186.1h0.56v0.56h-0.56zM71.3 173.5h0.56v0.56h-0.56zM57.6 185.7h0.56v0.56h-0.56zM59.9 184.0h0.56v0.56h-0.56zM73.3 174.4h0.56v0.56h-0.56zM60.3 177.5h0.56v0.56h-0.56zM56.1 172.2h0.56v0.56h-0.56zM59.3 181.4h0.56v0.56h-0.56zM59.0 176.1h0.56v0.56h-0.56zM58.9 170.3h0.56v0.56h-0.56zM72.5 165.4h0.56v0.56h-0.56zM57.6 179.9h0.56v0.56h-0.56zM52.4 180.1h0.56v0.56h-0.56zM70.9 172.8h0.56v0.56h-0.56zM63.6 171.5h0.56v0.56h-0.56zM65.7 177.5h0.56v0.56h-0.56zM63.6 183.9h0.56v0.56h-0.56zM65.4 183.8h0.56v0.56h-0.56zM66.6 171.1h0.56v0.56h-0.56zM64.0 179.5h0.56v0.56h-0.56zM52.0 183.8h0.56v0.56h-0.56zM62.6 178.9h0.56v0.56h-0.56zM55.9 177.5h0.56v0.56h-0.56zM64.2 175.5h0.56v0.56h-0.56zM62.7 166.5h0.56v0.56h-0.56zM71.7 171.5h0.56v0.56h-0.56zM46.9 172.3h0.56v0.56h-0.56zM56.3 179.8h0.56v0.56h-0.56zM55.7 178.5h0.56v0.56h-0.56zM55.4 188.1h0.56v0.56h-0.56zM65.9 186.9h0.56v0.56h-0.56zM55.0 180.4h0.56v0.56h-0.56zM55.4 180.0h0.56v0.56h-0.56zM66.9 169.1h0.56v0.56h-0.56zM54.2 171.3h0.56v0.56h-0.56zM51.6 173.4h0.56v0.56h-0.56zM55.4 169.9h0.56v0.56h-0.56zM62.8 179.8h0.56v0.56h-0.56zM52.9 174.3h0.56v0.56h-0.56zM62.2 175.9h0.56v0.56h-0.56zM57.2 181.1h0.56v0.56h-0.56zM68.0 180.5h0.56v0.56h-0.56zM60.6 187.0h0.56v0.56h-0.56zM74.3 175.1h0.56v0.56h-0.56zM61.2 183.0h0.56v0.56h-0.56zM56.5 179.0h0.56v0.56h-0.56zM62.4 173.5h0.56v0.56h-0.56zM60.5 169.2h0.56v0.56h-0.56zM58.3 167.1h0.56v0.56h-0.56zM78.0 184.6h0.56v0.56h-0.56zM70.7 178.6h0.56v0.56h-0.56zM69.1 183.4h0.56v0.56h-0.56zM69.2 181.6h0.56v0.56h-0.56zM55.7 179.2h0.56v0.56h-0.56zM58.3 171.1h0.56v0.56h-0.56zM54.1 179.2h0.56v0.56h-0.56zM69.4 170.2h0.56v0.56h-0.56zM74.3 184.4h0.56v0.56h-0.56zM59.4 174.7h0.56v0.56h-0.56zM61.5 181.9h0.56v0.56h-0.56zM59.3 171.5h0.56v0.56h-0.56zM64.4 166.7h0.56v0.56h-0.56zM63.0 182.8h0.56v0.56h-0.56zM64.1 180.9h0.56v0.56h-0.56zM65.5 180.6h0.56v0.56h-0.56zM63.0 172.9h0.56v0.56h-0.56zM60.4 176.6h0.56v0.56h-0.56zM70.8 185.1h0.56v0.56h-0.56zM64.9 173.2h0.56v0.56h-0.56zM56.9 176.1h0.56v0.56h-0.56zM71.7 178.7h0.56v0.56h-0.56zM61.6 173.2h0.56v0.56h-0.56zM68.2 178.4h0.56v0.56h-0.56zM61.6 177.5h0.56v0.56h-0.56zM73.8 176.2h0.56v0.56h-0.56zM73.8 183.2h0.56v0.56h-0.56zM62.4 181.4h0.56v0.56h-0.56zM61.1 172.9h0.56v0.56h-0.56zM60.1 172.5h0.56v0.56h-0.56zM65.6 177.1h0.56v0.56h-0.56zM66.0 181.1h0.56v0.56h-0.56zM40.2 178.6h0.56v0.56h-0.56zM49.4 177.8h0.56v0.56h-0.56zM55.9 177.5h0.56v0.56h-0.56zM71.6 168.5h0.56v0.56h-0.56zM63.3 176.6h0.56v0.56h-0.56zM48.8 180.2h0.56v0.56h-0.56zM62.2 174.5h0.56v0.56h-0.56zM56.9 193.1h0.56v0.56h-0.56zM59.2 168.0h0.56v0.56h-0.56zM55.5 175.2h0.56v0.56h-0.56zM59.3 176.6h0.56v0.56h-0.56zM54.7 179.7h0.56v0.56h-0.56zM58.6 170.2h0.56v0.56h-0.56zM56.3 175.1h0.56v0.56h-0.56zM67.9 179.4h0.56v0.56h-0.56zM59.6 177.1h0.56v0.56h-0.56zM63.5 187.2h0.56v0.56h-0.56zM57.7 179.3h0.56v0.56h-0.56zM67.1 172.2h0.56v0.56h-0.56zM63.3 177.8h0.56v0.56h-0.56zM58.7 179.8h0.56v0.56h-0.56zM69.2 182.7h0.56v0.56h-0.56zM60.7 177.9h0.56v0.56h-0.56zM78.5 171.5h0.56v0.56h-0.56zM63.6 181.4h0.56v0.56h-0.56zM63.1 180.3h0.56v0.56h-0.56zM63.2 180.8h0.56v0.56h-0.56zM71.0 175.9h0.56v0.56h-0.56zM63.4 176.7h0.56v0.56h-0.56zM59.2 176.9h0.56v0.56h-0.56zM54.1 180.7h0.56v0.56h-0.56zM73.9 185.5h0.56v0.56h-0.56zM70.9 172.2h0.56v0.56h-0.56zM72.6 173.4h0.56v0.56h-0.56zM61.6 186.2h0.56v0.56h-0.56zM54.5 181.2h0.56v0.56h-0.56zM64.0 176.2h0.56v0.56h-0.56zM55.9 179.1h0.56v0.56h-0.56zM58.8 182.2h0.56v0.56h-0.56zM70.6 170.1h0.56v0.56h-0.56zM58.5 175.4h0.56v0.56h-0.56zM53.7 171.4h0.56v0.56h-0.56zM62.6 176.0h0.56v0.56h-0.56zM50.4 174.3h0.56v0.56h-0.56zM65.6 171.0h0.56v0.56h-0.56zM55.5 184.9h0.56v0.56h-0.56zM71.2 168.9h0.56v0.56h-0.56zM52.5 178.9h0.56v0.56h-0.56zM53.7 175.7h0.56v0.56h-0.56zM58.8 179.8h0.56v0.56h-0.56zM44.3 166.0h0.56v0.56h-0.56zM53.4 182.1h0.56v0.56h-0.56zM60.9 168.5h0.56v0.56h-0.56zM65.5 180.5h0.56v0.56h-0.56zM60.3 175.3h0.56v0.56h-0.56zM65.1 183.0h0.56v0.56h-0.56zM63.1 179.7h0.56v0.56h-0.56zM61.7 175.1h0.56v0.56h-0.56zM55.6 178.3h0.56v0.56h-0.56zM59.9 175.8h0.56v0.56h-0.56zM68.5 179.4h0.56v0.56h-0.56zM68.1 169.1h0.56v0.56h-0.56zM65.9 174.1h0.56v0.56h-0.56zM56.3 172.7h0.56v0.56h-0.56zM70.5 181.1h0.56v0.56h-0.56zM57.0 171.3h0.56v0.56h-0.56zM62.1 174.7h0.56v0.56h-0.56zM73.6 169.7h0.56v0.56h-0.56zM49.2 175.7h0.56v0.56h-0.56zM62.1 177.7h0.56v0.56h-0.56zM67.3 187.4h0.56v0.56h-0.56zM59.6 174.3h0.56v0.56h-0.56zM49.7 178.2h0.56v0.56h-0.56zM68.0 175.7h0.56v0.56h-0.56zM70.3 177.2h0.56v0.56h-0.56zM72.6 178.7h0.56v0.56h-0.56zM54.6 173.8h0.56v0.56h-0.56zM51.3 168.3h0.56v0.56h-0.56zM63.9 181.3h0.56v0.56h-0.56zM75.7 176.7h0.56v0.56h-0.56zM60.3 171.5h0.56v0.56h-0.56zM68.9 178.9h0.56v0.56h-0.56zM57.8 180.4h0.56v0.56h-0.56zM65.9 167.7h0.56v0.56h-0.56zM67.2 177.7h0.56v0.56h-0.56zM59.3 174.9h0.56v0.56h-0.56zM74.2 184.7h0.56v0.56h-0.56zM74.8 171.3h0.56v0.56h-0.56zM57.4 181.5h0.56v0.56h-0.56zM53.5 173.4h0.56v0.56h-0.56zM49.4 186.3h0.56v0.56h-0.56zM69.4 179.3h0.56v0.56h-0.56zM63.5 174.9h0.56v0.56h-0.56zM59.2 180.1h0.56v0.56h-0.56zM57.0 183.1h0.56v0.56h-0.56zM58.6 172.6h0.56v0.56h-0.56zM71.1 176.3h0.56v0.56h-0.56zM65.9 174.9h0.56v0.56h-0.56zM46.2 179.7h0.56v0.56h-0.56zM52.6 182.4h0.56v0.56h-0.56zM51.1 167.7h0.56v0.56h-0.56zM64.2 179.1h0.56v0.56h-0.56zM62.7 170.9h0.56v0.56h-0.56zM68.2 169.7h0.56v0.56h-0.56zM58.8 173.1h0.56v0.56h-0.56zM59.4 181.3h0.56v0.56h-0.56zM57.6 179.8h0.56v0.56h-0.56zM66.9 168.4h0.56v0.56h-0.56zM53.8 175.1h0.56v0.56h-0.56zM57.9 178.5h0.56v0.56h-0.56zM48.5 180.6h0.56v0.56h-0.56zM67.2 176.2h0.56v0.56h-0.56zM52.3 177.0h0.56v0.56h-0.56zM58.2 179.8h0.56v0.56h-0.56zM61.4 180.6h0.56v0.56h-0.56zM59.0 184.2h0.56v0.56h-0.56zM45.9 171.9h0.56v0.56h-0.56zM65.4 169.4h0.56v0.56h-0.56zM67.2 170.9h0.56v0.56h-0.56zM62.7 172.4h0.56v0.56h-0.56zM58.9 177.9h0.56v0.56h-0.56zM61.3 175.1h0.56v0.56h-0.56zM77.1 177.0h0.56v0.56h-0.56zM55.2 181.6h0.56v0.56h-0.56zM67.7 183.1h0.56v0.56h-0.56zM74.5 172.3h0.56v0.56h-0.56zM69.4 182.7h0.56v0.56h-0.56zM62.0 178.2h0.56v0.56h-0.56zM41.0 174.1h0.56v0.56h-0.56zM74.5 168.1h0.56v0.56h-0.56zM58.3 178.4h0.56v0.56h-0.56zM66.0 185.2h0.56v0.56h-0.56zM49.7 177.2h0.56v0.56h-0.56zM68.0 170.4h0.56v0.56h-0.56zM61.7 186.4h0.56v0.56h-0.56zM71.2 179.7h0.56v0.56h-0.56zM43.7 176.3h0.56v0.56h-0.56zM64.7 175.5h0.56v0.56h-0.56zM61.5 192.4h0.56v0.56h-0.56zM60.5 172.2h0.56v0.56h-0.56zM63.7 175.4h0.56v0.56h-0.56zM59.8 176.6h0.56v0.56h-0.56zM67.4 178.2h0.56v0.56h-0.56zM53.6 176.3h0.56v0.56h-0.56zM65.3 174.7h0.56v0.56h-0.56zM70.0 180.9h0.56v0.56h-0.56zM55.1 178.6h0.56v0.56h-0.56zM75.9 184.8h0.56v0.56h-0.56zM61.6 181.5h0.56v0.56h-0.56zM57.3 169.8h0.56v0.56h-0.56zM65.9 178.2h0.56v0.56h-0.56zM65.6 176.9h0.56v0.56h-0.56zM64.3 174.4h0.56v0.56h-0.56zM65.3 181.2h0.56v0.56h-0.56zM61.6 181.1h0.56v0.56h-0.56zM49.6 173.1h0.56v0.56h-0.56zM72.1 185.8h0.56v0.56h-0.56zM63.8 176.5h0.56v0.56h-0.56zM53.1 178.8h0.56v0.56h-0.56zM67.4 169.6h0.56v0.56h-0.56zM65.9 179.5h0.56v0.56h-0.56zM65.1 171.4h0.56v0.56h-0.56zM65.8 169.5h0.56v0.56h-0.56zM72.4 177.7h0.56v0.56h-0.56zM53.9 183.7h0.56v0.56h-0.56zM70.1 173.7h0.56v0.56h-0.56zM77.4 172.0h0.56v0.56h-0.56zM64.2 182.9h0.56v0.56h-0.56zM46.1 182.0h0.56v0.56h-0.56zM61.5 176.9h0.56v0.56h-0.56zM54.5 178.7h0.56v0.56h-0.56zM54.2 172.2h0.56v0.56h-0.56zM58.9 170.9h0.56v0.56h-0.56zM73.0 170.4h0.56v0.56h-0.56zM56.7 175.4h0.56v0.56h-0.56zM62.0 181.0h0.56v0.56h-0.56zM67.7 175.5h0.56v0.56h-0.56zM59.3 177.2h0.56v0.56h-0.56zM67.8 180.5h0.56v0.56h-0.56zM58.4 166.7h0.56v0.56h-0.56zM77.0 181.8h0.56v0.56h-0.56zM63.8 178.7h0.56v0.56h-0.56zM58.3 172.0h0.56v0.56h-0.56zM59.7 175.9h0.56v0.56h-0.56zM57.6 169.7h0.56v0.56h-0.56zM59.8 179.9h0.56v0.56h-0.56zM58.5 177.1h0.56v0.56h-0.56zM47.5 176.0h0.56v0.56h-0.56zM61.1 170.9h0.56v0.56h-0.56zM49.9 179.1h0.56v0.56h-0.56zM56.3 179.4h0.56v0.56h-0.56zM59.1 180.1h0.56v0.56h-0.56zM59.6 169.5h0.56v0.56h-0.56zM61.4 175.4h0.56v0.56h-0.56zM66.6 174.7h0.56v0.56h-0.56zM59.2 181.3h0.56v0.56h-0.56zM70.2 180.8h0.56v0.56h-0.56zM69.3 179.3h0.56v0.56h-0.56zM67.4 181.4h0.56v0.56h-0.56zM64.8 177.3h0.56v0.56h-0.56zM63.0 189.0h0.56v0.56h-0.56zM62.1 175.8h0.56v0.56h-0.56zM59.5 176.8h0.56v0.56h-0.56zM63.7 171.3h0.56v0.56h-0.56zM48.1 178.5h0.56v0.56h-0.56zM50.8 178.3h0.56v0.56h-0.56zM63.0 182.8h0.56v0.56h-0.56zM73.7 178.8h0.56v0.56h-0.56zM58.1 171.1h0.56v0.56h-0.56zM56.5 177.2h0.56v0.56h-0.56zM47.5 177.4h0.56v0.56h-0.56zM61.9 180.2h0.56v0.56h-0.56zM59.7 177.5h0.56v0.56h-0.56zM56.8 174.7h0.56v0.56h-0.56zM49.6 177.6h0.56v0.56h-0.56zM72.8 177.8h0.56v0.56h-0.56zM64.6 172.1h0.56v0.56h-0.56zM72.0 173.2h0.56v0.56h-0.56zM67.6 177.5h0.56v0.56h-0.56zM55.3 182.1h0.56v0.56h-0.56zM62.1 177.9h0.56v0.56h-0.56zM65.2 176.9h0.56v0.56h-0.56zM59.3 179.3h0.56v0.56h-0.56zM59.2 177.3h0.56v0.56h-0.56zM57.3 169.5h0.56v0.56h-0.56zM57.3 174.5h0.56v0.56h-0.56zM62.1 182.9h0.56v0.56h-0.56zM50.2 177.6h0.56v0.56h-0.56zM46.5 171.8h0.56v0.56h-0.56zM58.5 165.7h0.56v0.56h-0.56zM49.0 177.8h0.56v0.56h-0.56zM62.5 176.4h0.56v0.56h-0.56zM56.4 187.8h0.56v0.56h-0.56zM60.9 172.7h0.56v0.56h-0.56zM73.7 180.1h0.56v0.56h-0.56zM59.4 183.0h0.56v0.56h-0.56zM63.1 180.2h0.56v0.56h-0.56zM63.6 171.9h0.56v0.56h-0.56zM68.8 177.8h0.56v0.56h-0.56zM54.9 173.2h0.56v0.56h-0.56zM68.7 175.2h0.56v0.56h-0.56zM62.3 180.3h0.56v0.56h-0.56zM62.9 169.4h0.56v0.56h-0.56zM66.5 181.7h0.56v0.56h-0.56zM68.1 185.1h0.56v0.56h-0.56zM64.5 180.9h0.56v0.56h-0.56zM73.1 175.5h0.56v0.56h-0.56zM74.2 185.7h0.56v0.56h-0.56zM67.5 186.2h0.56v0.56h-0.56zM68.0 172.6h0.56v0.56h-0.56zM70.0 178.6h0.56v0.56h-0.56zM64.9 177.8h0.56v0.56h-0.56zM71.5 179.8h0.56v0.56h-0.56zM57.1 179.4h0.56v0.56h-0.56zM67.1 173.4h0.56v0.56h-0.56zM59.0 175.1h0.56v0.56h-0.56zM57.7 178.7h0.56v0.56h-0.56zM69.1 186.5h0.56v0.56h-0.56zM70.4 182.1h0.56v0.56h-0.56zM70.0 183.7h0.56v0.56h-0.56zM59.4 180.5h0.56v0.56h-0.56zM64.3 176.4h0.56v0.56h-0.56zM58.8 174.5h0.56v0.56h-0.56zM60.1 170.8h0.56v0.56h-0.56zM65.7 176.9h0.56v0.56h-0.56zM62.7 178.7h0.56v0.56h-0.56zM67.1 174.0h0.56v0.56h-0.56zM61.3 169.0h0.56v0.56h-0.56zM46.5 167.3h0.56v0.56h-0.56zM72.8 167.9h0.56v0.56h-0.56zM65.3 184.4h0.56v0.56h-0.56zM58.8 185.1h0.56v0.56h-0.56zM74.9 181.7h0.56v0.56h-0.56zM78.6 180.1h0.56v0.56h-0.56zM56.9 179.6h0.56v0.56h-0.56zM58.9 170.5h0.56v0.56h-0.56zM53.1 188.6h0.56v0.56h-0.56zM58.2 176.9h0.56v0.56h-0.56zM57.4 177.7h0.56v0.56h-0.56zM60.4 175.0h0.56v0.56h-0.56zM53.6 170.0h0.56v0.56h-0.56zM56.9 178.5h0.56v0.56h-0.56zM76.6 182.3h0.56v0.56h-0.56zM74.9 179.5h0.56v0.56h-0.56zM61.5 170.5h0.56v0.56h-0.56zM62.1 166.4h0.56v0.56h-0.56zM60.0 185.2h0.56v0.56h-0.56zM64.4 182.7h0.56v0.56h-0.56zM59.5 170.2h0.56v0.56h-0.56zM58.8 175.1h0.56v0.56h-0.56zM70.6 187.0h0.56v0.56h-0.56zM57.0 175.3h0.56v0.56h-0.56zM61.1 175.4h0.56v0.56h-0.56zM53.5 177.6h0.56v0.56h-0.56zM64.7 179.1h0.56v0.56h-0.56zM53.7 176.6h0.56v0.56h-0.56zM50.0 181.7h0.56v0.56h-0.56zM55.0 175.8h0.56v0.56h-0.56zM59.0 174.2h0.56v0.56h-0.56zM54.8 168.3h0.56v0.56h-0.56zM74.3 178.4h0.56v0.56h-0.56zM64.1 187.6h0.56v0.56h-0.56zM61.5 179.9h0.56v0.56h-0.56zM62.4 183.1h0.56v0.56h-0.56zM65.7 178.7h0.56v0.56h-0.56zM60.4 178.6h0.56v0.56h-0.56zM70.4 166.8h0.56v0.56h-0.56zM61.3 175.1h0.56v0.56h-0.56zM60.1 167.3h0.56v0.56h-0.56zM67.3 172.9h0.56v0.56h-0.56zM60.6 174.6h0.56v0.56h-0.56zM50.5 174.9h0.56v0.56h-0.56zM49.3 172.5h0.56v0.56h-0.56zM60.0 177.1h0.56v0.56h-0.56zM62.6 176.5h0.56v0.56h-0.56zM77.2 179.3h0.56v0.56h-0.56zM53.7 174.1h0.56v0.56h-0.56zM57.6 176.3h0.56v0.56h-0.56zM58.0 172.9h0.56v0.56h-0.56zM73.8 177.4h0.56v0.56h-0.56zM59.9 175.9h0.56v0.56h-0.56zM60.7 184.1h0.56v0.56h-0.56zM65.6 182.8h0.56v0.56h-0.56zM40.4 178.8h0.56v0.56h-0.56zM69.7 187.0h0.56v0.56h-0.56zM62.4 168.6h0.56v0.56h-0.56zM66.4 174.2h0.56v0.56h-0.56zM49.7 174.1h0.56v0.56h-0.56zM69.6 183.2h0.56v0.56h-0.56zM67.3 171.9h0.56v0.56h-0.56zM79.9 171.3h0.56v0.56h-0.56zM61.7 170.0h0.56v0.56h-0.56zM71.5 179.4h0.56v0.56h-0.56zM68.5 177.6h0.56v0.56h-0.56zM61.8 178.1h0.56v0.56h-0.56zM49.1 182.2h0.56v0.56h-0.56zM68.7 175.2h0.56v0.56h-0.56zM62.2 178.7h0.56v0.56h-0.56zM73.3 179.4h0.56v0.56h-0.56zM62.6 174.7h0.56v0.56h-0.56zM51.8 174.2h0.56v0.56h-0.56zM62.8 176.0h0.56v0.56h-0.56zM62.8 180.9h0.56v0.56h-0.56zM65.4 178.6h0.56v0.56h-0.56zM66.9 178.2h0.56v0.56h-0.56zM62.1 179.6h0.56v0.56h-0.56zM50.2 183.5h0.56v0.56h-0.56zM53.3 181.4h0.56v0.56h-0.56zM62.4 182.8h0.56v0.56h-0.56zM62.6 172.5h0.56v0.56h-0.56zM69.9 178.2h0.56v0.56h-0.56zM63.2 177.7h0.56v0.56h-0.56zM69.4 181.3h0.56v0.56h-0.56zM64.0 169.5h0.56v0.56h-0.56zM59.5 177.8h0.56v0.56h-0.56zM74.9 179.2h0.56v0.56h-0.56zM61.7 183.2h0.56v0.56h-0.56zM61.6 177.1h0.56v0.56h-0.56zM63.5 169.8h0.56v0.56h-0.56zM69.1 179.4h0.56v0.56h-0.56zM60.4 171.6h0.56v0.56h-0.56zM63.9 184.3h0.56v0.56h-0.56zM57.9 172.0h0.56v0.56h-0.56zM65.3 169.3h0.56v0.56h-0.56zM46.8 175.1h0.56v0.56h-0.56zM57.6 175.9h0.56v0.56h-0.56zM58.5 178.9h0.56v0.56h-0.56zM60.9 174.3h0.56v0.56h-0.56zM59.2 180.4h0.56v0.56h-0.56zM69.1 181.8h0.56v0.56h-0.56zM67.3 160.8h0.56v0.56h-0.56zM55.4 175.7h0.56v0.56h-0.56zM63.8 169.2h0.56v0.56h-0.56zM72.4 178.8h0.56v0.56h-0.56zM58.1 178.1h0.56v0.56h-0.56zM60.0 173.5h0.56v0.56h-0.56zM66.0 175.0h0.56v0.56h-0.56zM52.5 174.1h0.56v0.56h-0.56zM61.6 171.9h0.56v0.56h-0.56zM71.3 171.9h0.56v0.56h-0.56zM74.7 181.8h0.56v0.56h-0.56zM55.8 178.0h0.56v0.56h-0.56zM70.7 176.4h0.56v0.56h-0.56zM54.1 177.9h0.56v0.56h-0.56zM76.4 169.9h0.56v0.56h-0.56zM66.3 177.4h0.56v0.56h-0.56zM61.6 175.4h0.56v0.56h-0.56zM60.2 182.5h0.56v0.56h-0.56zM66.6 172.3h0.56v0.56h-0.56zM73.4 170.9h0.56v0.56h-0.56zM67.1 178.3h0.56v0.56h-0.56zM70.9 179.1h0.56v0.56h-0.56zM69.9 177.2h0.56v0.56h-0.56zM69.3 179.1h0.56v0.56h-0.56zM77.5 173.9h0.56v0.56h-0.56zM70.9 179.7h0.56v0.56h-0.56zM63.7 174.5h0.56v0.56h-0.56zM65.6 170.0h0.56v0.56h-0.56zM52.9 180.9h0.56v0.56h-0.56zM51.6 184.6h0.56v0.56h-0.56zM60.6 178.6h0.56v0.56h-0.56zM63.0 179.5h0.56v0.56h-0.56zM60.6 175.5h0.56v0.56h-0.56zM61.6 182.6h0.56v0.56h-0.56zM70.5 183.7h0.56v0.56h-0.56zM65.1 176.4h0.56v0.56h-0.56zM50.8 180.6h0.56v0.56h-0.56zM68.4 175.4h0.56v0.56h-0.56zM68.2 183.8h0.56v0.56h-0.56zM63.2 182.7h0.56v0.56h-0.56zM64.7 168.7h0.56v0.56h-0.56zM59.2 175.3h0.56v0.56h-0.56zM66.2 173.1h0.56v0.56h-0.56zM59.5 172.6h0.56v0.56h-0.56zM62.3 177.7h0.56v0.56h-0.56zM69.4 181.4h0.56v0.56h-0.56zM63.7 178.6h0.56v0.56h-0.56zM63.3 177.9h0.56v0.56h-0.56zM73.4 165.0h0.56v0.56h-0.56zM61.3 178.9h0.56v0.56h-0.56zM70.4 171.9h0.56v0.56h-0.56zM65.0 181.7h0.56v0.56h-0.56zM59.4 167.8h0.56v0.56h-0.56zM60.0 171.4h0.56v0.56h-0.56zM67.1 173.1h0.56v0.56h-0.56zM75.0 178.1h0.56v0.56h-0.56zM56.9 174.9h0.56v0.56h-0.56zM54.9 179.3h0.56v0.56h-0.56zM73.0 176.3h0.56v0.56h-0.56zM69.0 172.7h0.56v0.56h-0.56zM64.7 188.9h0.56v0.56h-0.56zM52.7 183.5h0.56v0.56h-0.56zM70.8 168.0h0.56v0.56h-0.56zM52.5 172.5h0.56v0.56h-0.56zM69.3 175.2h0.56v0.56h-0.56zM61.4 180.9h0.56v0.56h-0.56zM63.4 178.5h0.56v0.56h-0.56zM60.3 183.0h0.56v0.56h-0.56zM57.1 185.8h0.56v0.56h-0.56zM60.2 173.4h0.56v0.56h-0.56zM67.1 179.6h0.56v0.56h-0.56zM48.7 178.5h0.56v0.56h-0.56zM53.1 173.2h0.56v0.56h-0.56zM68.0 173.1h0.56v0.56h-0.56zM65.0 175.5h0.56v0.56h-0.56zM76.0 176.9h0.56v0.56h-0.56zM54.3 171.8h0.56v0.56h-0.56zM56.2 178.0h0.56v0.56h-0.56zM62.5 182.2h0.56v0.56h-0.56zM63.7 178.0h0.56v0.56h-0.56zM64.7 176.7h0.56v0.56h-0.56zM64.5 181.3h0.56v0.56h-0.56zM68.0 174.6h0.56v0.56h-0.56zM50.1 173.3h0.56v0.56h-0.56zM64.4 164.9h0.56v0.56h-0.56zM59.1 179.6h0.56v0.56h-0.56zM58.5 171.7h0.56v0.56h-0.56zM74.7 184.2h0.56v0.56h-0.56zM60.6 183.9h0.56v0.56h-0.56zM71.5 171.7h0.56v0.56h-0.56zM81.2 172.6h0.56v0.56h-0.56zM60.6 171.8h0.56v0.56h-0.56zM63.0 170.7h0.56v0.56h-0.56zM62.4 182.7h0.56v0.56h-0.56zM63.9 176.0h0.56v0.56h-0.56zM73.2 172.8h0.56v0.56h-0.56zM69.2 175.8h0.56v0.56h-0.56zM63.9 177.4h0.56v0.56h-0.56zM63.3 177.0h0.56v0.56h-0.56zM56.9 174.4h0.56v0.56h-0.56zM65.4 176.7h0.56v0.56h-0.56zM54.2 173.7h0.56v0.56h-0.56zM57.5 177.0h0.56v0.56h-0.56zM63.6 177.7h0.56v0.56h-0.56zM57.7 177.3h0.56v0.56h-0.56zM52.7 162.8h0.56v0.56h-0.56zM61.9 168.9h0.56v0.56h-0.56zM55.7 171.2h0.56v0.56h-0.56zM66.7 171.1h0.56v0.56h-0.56zM64.2 174.7h0.56v0.56h-0.56zM53.6 169.3h0.56v0.56h-0.56zM65.4 179.1h0.56v0.56h-0.56zM67.6 186.3h0.56v0.56h-0.56zM64.1 178.5h0.56v0.56h-0.56zM61.3 177.6h0.56v0.56h-0.56zM59.7 172.6h0.56v0.56h-0.56zM76.1 167.8h0.56v0.56h-0.56zM63.9 179.3h0.56v0.56h-0.56zM63.2 172.3h0.56v0.56h-0.56zM60.8 174.8h0.56v0.56h-0.56zM54.6 176.8h0.56v0.56h-0.56zM59.2 174.3h0.56v0.56h-0.56zM66.8 171.7h0.56v0.56h-0.56zM65.1 174.0h0.56v0.56h-0.56zM65.0 177.4h0.56v0.56h-0.56zM63.7 172.1h0.56v0.56h-0.56zM56.6 172.7h0.56v0.56h-0.56zM63.2 180.7h0.56v0.56h-0.56zM69.5 174.5h0.56v0.56h-0.56zM62.6 168.9h0.56v0.56h-0.56zM46.5 172.6h0.56v0.56h-0.56zM57.3 169.2h0.56v0.56h-0.56zM49.5 179.6h0.56v0.56h-0.56zM56.3 168.6h0.56v0.56h-0.56zM78.1 177.8h0.56v0.56h-0.56zM59.7 180.3h0.56v0.56h-0.56zM56.6 184.8h0.56v0.56h-0.56zM51.1 170.4h0.56v0.56h-0.56zM60.9 173.1h0.56v0.56h-0.56zM71.7 168.9h0.56v0.56h-0.56zM56.7 178.1h0.56v0.56h-0.56zM65.8 181.9h0.56v0.56h-0.56zM64.2 187.8h0.56v0.56h-0.56zM58.5 177.7h0.56v0.56h-0.56zM67.8 175.3h0.56v0.56h-0.56zM59.7 174.5h0.56v0.56h-0.56zM57.3 171.2h0.56v0.56h-0.56zM57.9 169.1h0.56v0.56h-0.56zM64.4 168.9h0.56v0.56h-0.56zM76.1 185.3h0.56v0.56h-0.56zM69.4 175.7h0.56v0.56h-0.56zM57.6 182.9h0.56v0.56h-0.56zM63.0 179.6h0.56v0.56h-0.56zM56.7 182.1h0.56v0.56h-0.56zM56.1 177.3h0.56v0.56h-0.56zM49.6 173.5h0.56v0.56h-0.56zM65.2 174.5h0.56v0.56h-0.56zM58.6 180.7h0.56v0.56h-0.56zM61.2 182.9h0.56v0.56h-0.56zM44.8 179.6h0.56v0.56h-0.56zM65.2 169.1h0.56v0.56h-0.56zM52.6 181.1h0.56v0.56h-0.56zM54.2 173.6h0.56v0.56h-0.56zM65.8 175.1h0.56v0.56h-0.56zM65.0 172.4h0.56v0.56h-0.56zM63.7 182.1h0.56v0.56h-0.56zM63.9 165.8h0.56v0.56h-0.56zM66.2 177.0h0.56v0.56h-0.56zM55.3 183.7h0.56v0.56h-0.56zM49.5 186.1h0.56v0.56h-0.56zM57.2 184.6h0.56v0.56h-0.56zM61.3 170.1h0.56v0.56h-0.56zM62.3 178.4h0.56v0.56h-0.56zM65.4 182.0h0.56v0.56h-0.56zM55.4 179.2h0.56v0.56h-0.56zM66.8 175.4h0.56v0.56h-0.56zM55.1 172.0h0.56v0.56h-0.56zM66.8 180.7h0.56v0.56h-0.56zM55.8 170.1h0.56v0.56h-0.56zM70.3 169.0h0.56v0.56h-0.56zM62.7 172.7h0.56v0.56h-0.56zM49.4 177.3h0.56v0.56h-0.56zM60.3 183.9h0.56v0.56h-0.56zM77.4 175.8h0.56v0.56h-0.56zM68.8 181.9h0.56v0.56h-0.56zM58.0 172.4h0.56v0.56h-0.56zM72.8 174.9h0.56v0.56h-0.56zM61.4 175.3h0.56v0.56h-0.56zM60.7 173.7h0.56v0.56h-0.56zM66.8 183.0h0.56v0.56h-0.56zM59.0 169.9h0.56v0.56h-0.56zM62.0 169.3h0.56v0.56h-0.56zM57.2 182.8h0.56v0.56h-0.56zM77.8 178.6h0.56v0.56h-0.56zM54.2 180.6h0.56v0.56h-0.56zM46.0 173.3h0.56v0.56h-0.56zM72.2 180.4h0.56v0.56h-0.56zM52.0 168.4h0.56v0.56h-0.56zM67.6 176.5h0.56v0.56h-0.56zM57.5 178.8h0.56v0.56h-0.56zM57.6 167.2h0.56v0.56h-0.56zM67.2 173.5h0.56v0.56h-0.56zM54.6 170.1h0.56v0.56h-0.56zM63.3 172.7h0.56v0.56h-0.56zM66.0 175.4h0.56v0.56h-0.56zM69.1 174.8h0.56v0.56h-0.56zM57.1 166.9h0.56v0.56h-0.56zM54.0 180.3h0.56v0.56h-0.56zM82.9 170.5h0.56v0.56h-0.56zM54.4 178.4h0.56v0.56h-0.56zM64.9 173.4h0.56v0.56h-0.56zM62.2 168.7h0.56v0.56h-0.56zM59.5 181.2h0.56v0.56h-0.56zM73.0 175.9h0.56v0.56h-0.56zM59.8 179.0h0.56v0.56h-0.56zM69.3 179.1h0.56v0.56h-0.56zM56.4 178.5h0.56v0.56h-0.56zM68.4 173.2h0.56v0.56h-0.56zM52.3 179.3h0.56v0.56h-0.56zM64.2 181.5h0.56v0.56h-0.56zM62.2 173.5h0.56v0.56h-0.56zM58.6 171.6h0.56v0.56h-0.56zM55.0 173.9h0.56v0.56h-0.56zM58.3 182.3h0.56v0.56h-0.56zM53.1 176.5h0.56v0.56h-0.56zM57.5 184.1h0.56v0.56h-0.56zM63.5 174.9h0.56v0.56h-0.56zM67.3 177.1h0.56v0.56h-0.56zM58.3 184.4h0.56v0.56h-0.56zM66.6 185.4h0.56v0.56h-0.56zM69.7 180.6h0.56v0.56h-0.56zM62.6 171.4h0.56v0.56h-0.56zM66.6 177.1h0.56v0.56h-0.56zM66.4 176.7h0.56v0.56h-0.56zM56.9 171.8h0.56v0.56h-0.56zM66.6 183.2h0.56v0.56h-0.56zM59.7 179.0h0.56v0.56h-0.56zM71.3 172.6h0.56v0.56h-0.56zM59.3 171.2h0.56v0.56h-0.56zM69.9 178.1h0.56v0.56h-0.56zM58.5 168.6h0.56v0.56h-0.56zM60.5 181.7h0.56v0.56h-0.56zM59.7 174.7h0.56v0.56h-0.56zM66.2 170.7h0.56v0.56h-0.56zM62.1 179.8h0.56v0.56h-0.56zM56.3 172.7h0.56v0.56h-0.56zM63.4 176.3h0.56v0.56h-0.56zM60.1 177.8h0.56v0.56h-0.56zM63.3 172.2h0.56v0.56h-0.56zM57.1 179.0h0.56v0.56h-0.56zM69.5 183.5h0.56v0.56h-0.56zM55.9 182.2h0.56v0.56h-0.56zM67.0 176.7h0.56v0.56h-0.56zM65.1 180.9h0.56v0.56h-0.56zM74.2 171.6h0.56v0.56h-0.56zM65.9 176.1h0.56v0.56h-0.56zM60.3 182.5h0.56v0.56h-0.56zM67.4 171.8h0.56v0.56h-0.56zM59.8 178.0h0.56v0.56h-0.56zM52.0 181.1h0.56v0.56h-0.56zM61.3 177.6h0.56v0.56h-0.56zM64.1 185.8h0.56v0.56h-0.56zM62.0 175.1h0.56v0.56h-0.56zM73.8 174.4h0.56v0.56h-0.56zM58.1 170.0h0.56v0.56h-0.56zM69.3 178.2h0.56v0.56h-0.56zM65.1 177.7h0.56v0.56h-0.56zM60.9 173.0h0.56v0.56h-0.56zM56.4 179.0h0.56v0.56h-0.56zM62.7 184.9h0.56v0.56h-0.56zM56.5 174.4h0.56v0.56h-0.56zM54.7 183.7h0.56v0.56h-0.56zM53.3 180.7h0.56v0.56h-0.56zM71.8 176.2h0.56v0.56h-0.56zM66.8 166.3h0.56v0.56h-0.56zM59.1 168.7h0.56v0.56h-0.56zM63.0 176.9h0.56v0.56h-0.56zM56.5 181.5h0.56v0.56h-0.56zM64.3 174.3h0.56v0.56h-0.56zM58.3 169.6h0.56v0.56h-0.56zM60.5 187.3h0.56v0.56h-0.56zM56.9 178.9h0.56v0.56h-0.56zM58.0 180.8h0.56v0.56h-0.56zM64.9 175.7h0.56v0.56h-0.56zM49.5 174.3h0.56v0.56h-0.56zM70.1 175.7h0.56v0.56h-0.56zM66.2 174.5h0.56v0.56h-0.56zM48.9 179.0h0.56v0.56h-0.56zM64.0 174.0h0.56v0.56h-0.56zM59.3 178.3h0.56v0.56h-0.56zM57.7 178.6h0.56v0.56h-0.56zM60.4 165.2h0.56v0.56h-0.56zM60.8 173.9h0.56v0.56h-0.56zM56.0 178.9h0.56v0.56h-0.56zM58.5 179.5h0.56v0.56h-0.56zM69.4 177.6h0.56v0.56h-0.56zM51.1 173.3h0.56v0.56h-0.56zM68.2 175.6h0.56v0.56h-0.56zM56.3 176.4h0.56v0.56h-0.56zM65.3 178.2h0.56v0.56h-0.56zM66.3 172.8h0.56v0.56h-0.56zM59.9 175.6h0.56v0.56h-0.56zM61.7 166.5h0.56v0.56h-0.56zM60.2 170.3h0.56v0.56h-0.56zM71.5 184.6h0.56v0.56h-0.56zM73.5 180.9h0.56v0.56h-0.56zM58.5 181.6h0.56v0.56h-0.56zM60.5 179.9h0.56v0.56h-0.56zM55.6 174.0h0.56v0.56h-0.56zM65.1 185.7h0.56v0.56h-0.56zM61.7 188.0h0.56v0.56h-0.56zM80.9 170.6h0.56v0.56h-0.56zM61.7 172.2h0.56v0.56h-0.56zM53.2 166.2h0.56v0.56h-0.56zM53.6 176.6h0.56v0.56h-0.56zM58.6 171.7h0.56v0.56h-0.56zM53.9 170.7h0.56v0.56h-0.56zM54.5 173.9h0.56v0.56h-0.56zM53.9 173.4h0.56v0.56h-0.56zM47.4 175.4h0.56v0.56h-0.56zM62.6 171.2h0.56v0.56h-0.56zM46.9 179.2h0.56v0.56h-0.56zM52.3 149.2h0.56v0.56h-0.56zM52.8 174.1h0.56v0.56h-0.56zM55.8 178.5h0.56v0.56h-0.56zM57.0 170.8h0.56v0.56h-0.56zM44.2 162.2h0.56v0.56h-0.56zM54.8 174.6h0.56v0.56h-0.56zM48.9 165.7h0.56v0.56h-0.56zM56.3 156.7h0.56v0.56h-0.56zM44.3 168.3h0.56v0.56h-0.56zM55.2 166.6h0.56v0.56h-0.56zM42.6 170.1h0.56v0.56h-0.56zM47.4 174.4h0.56v0.56h-0.56zM53.4 171.7h0.56v0.56h-0.56zM57.1 166.3h0.56v0.56h-0.56zM58.0 178.5h0.56v0.56h-0.56zM55.9 179.1h0.56v0.56h-0.56zM50.8 176.3h0.56v0.56h-0.56zM55.3 163.1h0.56v0.56h-0.56zM53.6 166.2h0.56v0.56h-0.56zM51.2 170.5h0.56v0.56h-0.56zM59.2 167.7h0.56v0.56h-0.56zM54.6 159.7h0.56v0.56h-0.56zM54.5 177.9h0.56v0.56h-0.56zM58.0 173.2h0.56v0.56h-0.56zM51.3 163.2h0.56v0.56h-0.56zM53.5 160.6h0.56v0.56h-0.56zM47.8 176.5h0.56v0.56h-0.56zM49.4 182.4h0.56v0.56h-0.56zM46.9 172.9h0.56v0.56h-0.56zM48.1 171.1h0.56v0.56h-0.56zM48.8 170.2h0.56v0.56h-0.56zM53.2 166.8h0.56v0.56h-0.56zM56.5 180.4h0.56v0.56h-0.56zM51.0 176.1h0.56v0.56h-0.56zM54.4 169.7h0.56v0.56h-0.56zM64.8 154.9h0.56v0.56h-0.56zM50.6 157.4h0.56v0.56h-0.56zM52.4 168.3h0.56v0.56h-0.56zM72.8 172.3h0.56v0.56h-0.56zM62.8 178.9h0.56v0.56h-0.56zM51.8 173.2h0.56v0.56h-0.56zM62.2 171.1h0.56v0.56h-0.56zM55.0 173.4h0.56v0.56h-0.56zM46.5 164.3h0.56v0.56h-0.56zM55.6 173.7h0.56v0.56h-0.56zM49.4 167.7h0.56v0.56h-0.56zM53.3 168.9h0.56v0.56h-0.56zM57.4 170.7h0.56v0.56h-0.56zM54.8 160.1h0.56v0.56h-0.56zM48.7 172.1h0.56v0.56h-0.56zM46.0 171.8h0.56v0.56h-0.56zM50.7 164.3h0.56v0.56h-0.56zM57.1 165.2h0.56v0.56h-0.56zM49.7 165.2h0.56v0.56h-0.56zM54.2 189.0h0.56v0.56h-0.56zM43.4 169.7h0.56v0.56h-0.56zM52.7 176.5h0.56v0.56h-0.56zM52.1 152.7h0.56v0.56h-0.56zM60.5 162.3h0.56v0.56h-0.56zM53.6 160.4h0.56v0.56h-0.56zM48.5 166.4h0.56v0.56h-0.56zM58.2 175.7h0.56v0.56h-0.56zM50.9 173.3h0.56v0.56h-0.56zM52.0 170.6h0.56v0.56h-0.56zM54.6 174.1h0.56v0.56h-0.56zM50.8 168.9h0.56v0.56h-0.56zM55.0 170.4h0.56v0.56h-0.56zM49.9 181.8h0.56v0.56h-0.56zM51.6 175.1h0.56v0.56h-0.56zM54.9 178.3h0.56v0.56h-0.56zM43.0 184.1h0.56v0.56h-0.56zM52.8 161.2h0.56v0.56h-0.56zM54.5 185.5h0.56v0.56h-0.56zM56.4 161.2h0.56v0.56h-0.56zM51.6 179.1h0.56v0.56h-0.56zM46.9 168.5h0.56v0.56h-0.56zM52.4 184.9h0.56v0.56h-0.56zM52.4 178.9h0.56v0.56h-0.56zM50.5 164.2h0.56v0.56h-0.56zM58.8 174.1h0.56v0.56h-0.56zM45.3 174.2h0.56v0.56h-0.56zM57.0 165.5h0.56v0.56h-0.56zM54.9 171.7h0.56v0.56h-0.56zM51.4 165.7h0.56v0.56h-0.56zM50.5 167.9h0.56v0.56h-0.56zM47.2 169.5h0.56v0.56h-0.56zM46.4 170.3h0.56v0.56h-0.56zM53.4 162.6h0.56v0.56h-0.56zM58.1 183.2h0.56v0.56h-0.56zM60.4 160.3h0.56v0.56h-0.56zM60.2 171.3h0.56v0.56h-0.56zM53.6 165.6h0.56v0.56h-0.56zM53.8 179.4h0.56v0.56h-0.56zM56.5 166.9h0.56v0.56h-0.56zM50.5 166.9h0.56v0.56h-0.56zM56.7 182.7h0.56v0.56h-0.56zM48.6 169.7h0.56v0.56h-0.56zM51.9 164.5h0.56v0.56h-0.56zM55.8 173.6h0.56v0.56h-0.56zM46.8 162.6h0.56v0.56h-0.56zM59.8 172.0h0.56v0.56h-0.56zM56.4 166.3h0.56v0.56h-0.56zM51.9 172.9h0.56v0.56h-0.56zM51.4 162.1h0.56v0.56h-0.56zM53.8 176.0h0.56v0.56h-0.56zM48.7 177.1h0.56v0.56h-0.56zM57.3 163.8h0.56v0.56h-0.56zM53.9 169.5h0.56v0.56h-0.56zM57.0 174.4h0.56v0.56h-0.56zM47.4 160.4h0.56v0.56h-0.56zM58.9 170.5h0.56v0.56h-0.56zM55.9 172.1h0.56v0.56h-0.56zM61.4 161.4h0.56v0.56h-0.56zM59.2 164.1h0.56v0.56h-0.56zM57.4 179.1h0.56v0.56h-0.56zM47.0 172.6h0.56v0.56h-0.56zM52.5 167.7h0.56v0.56h-0.56zM54.0 162.5h0.56v0.56h-0.56zM49.1 174.3h0.56v0.56h-0.56zM58.0 165.8h0.56v0.56h-0.56zM46.6 185.8h0.56v0.56h-0.56zM59.3 172.3h0.56v0.56h-0.56zM48.7 165.7h0.56v0.56h-0.56zM55.0 163.1h0.56v0.56h-0.56zM61.7 170.7h0.56v0.56h-0.56zM55.8 162.6h0.56v0.56h-0.56zM49.3 164.3h0.56v0.56h-0.56zM55.2 167.9h0.56v0.56h-0.56zM52.4 171.9h0.56v0.56h-0.56zM54.9 180.0h0.56v0.56h-0.56zM52.9 162.8h0.56v0.56h-0.56zM53.8 179.9h0.56v0.56h-0.56zM51.1 170.1h0.56v0.56h-0.56zM52.1 172.6h0.56v0.56h-0.56zM55.1 164.2h0.56v0.56h-0.56zM52.7 176.3h0.56v0.56h-0.56zM59.2 176.1h0.56v0.56h-0.56zM58.1 167.5h0.56v0.56h-0.56zM52.0 176.2h0.56v0.56h-0.56zM48.1 169.4h0.56v0.56h-0.56zM44.7 167.2h0.56v0.56h-0.56zM50.4 161.5h0.56v0.56h-0.56zM56.7 164.7h0.56v0.56h-0.56zM52.0 168.0h0.56v0.56h-0.56zM50.2 179.6h0.56v0.56h-0.56zM51.4 171.1h0.56v0.56h-0.56zM47.4 166.5h0.56v0.56h-0.56zM52.2 167.7h0.56v0.56h-0.56zM51.0 170.8h0.56v0.56h-0.56zM61.5 168.9h0.56v0.56h-0.56zM53.2 167.1h0.56v0.56h-0.56zM66.3 180.9h0.56v0.56h-0.56zM56.6 174.6h0.56v0.56h-0.56zM50.4 168.7h0.56v0.56h-0.56zM54.9 170.6h0.56v0.56h-0.56zM49.6 164.4h0.56v0.56h-0.56zM56.4 171.9h0.56v0.56h-0.56zM43.5 170.4h0.56v0.56h-0.56zM60.1 165.3h0.56v0.56h-0.56zM55.0 159.8h0.56v0.56h-0.56zM57.9 162.1h0.56v0.56h-0.56zM47.7 167.6h0.56v0.56h-0.56zM65.5 165.6h0.56v0.56h-0.56zM47.7 173.0h0.56v0.56h-0.56zM55.0 181.2h0.56v0.56h-0.56zM47.6 158.8h0.56v0.56h-0.56zM52.3 172.4h0.56v0.56h-0.56zM55.6 177.2h0.56v0.56h-0.56zM46.5 164.1h0.56v0.56h-0.56zM53.2 175.6h0.56v0.56h-0.56zM56.2 166.9h0.56v0.56h-0.56zM48.8 175.8h0.56v0.56h-0.56zM58.5 188.4h0.56v0.56h-0.56zM53.0 180.9h0.56v0.56h-0.56zM47.9 166.1h0.56v0.56h-0.56zM50.5 166.6h0.56v0.56h-0.56zM49.6 166.1h0.56v0.56h-0.56zM53.6 166.7h0.56v0.56h-0.56zM57.1 169.2h0.56v0.56h-0.56zM53.8 179.9h0.56v0.56h-0.56zM55.4 170.9h0.56v0.56h-0.56zM53.8 170.2h0.56v0.56h-0.56zM56.7 164.3h0.56v0.56h-0.56zM59.5 180.6h0.56v0.56h-0.56zM59.5 166.4h0.56v0.56h-0.56zM46.1 166.8h0.56v0.56h-0.56zM54.6 175.5h0.56v0.56h-0.56zM53.0 167.7h0.56v0.56h-0.56zM61.3 165.2h0.56v0.56h-0.56zM59.1 176.0h0.56v0.56h-0.56zM47.3 171.7h0.56v0.56h-0.56zM51.1 163.3h0.56v0.56h-0.56zM44.8 159.1h0.56v0.56h-0.56zM55.9 167.1h0.56v0.56h-0.56zM55.2 162.5h0.56v0.56h-0.56zM52.3 167.9h0.56v0.56h-0.56zM46.3 158.4h0.56v0.56h-0.56zM56.0 170.8h0.56v0.56h-0.56zM49.3 169.1h0.56v0.56h-0.56zM57.1 182.4h0.56v0.56h-0.56zM49.5 174.0h0.56v0.56h-0.56zM64.2 170.2h0.56v0.56h-0.56zM61.0 152.1h0.56v0.56h-0.56zM61.0 169.7h0.56v0.56h-0.56zM44.7 175.1h0.56v0.56h-0.56zM59.0 178.1h0.56v0.56h-0.56zM59.7 169.6h0.56v0.56h-0.56zM50.2 166.6h0.56v0.56h-0.56zM53.7 172.6h0.56v0.56h-0.56zM51.5 170.1h0.56v0.56h-0.56zM58.2 172.0h0.56v0.56h-0.56zM65.1 184.6h0.56v0.56h-0.56zM48.2 165.9h0.56v0.56h-0.56zM47.4 161.8h0.56v0.56h-0.56zM56.5 163.0h0.56v0.56h-0.56zM48.7 167.9h0.56v0.56h-0.56zM57.8 167.4h0.56v0.56h-0.56zM52.1 176.1h0.56v0.56h-0.56zM56.2 172.9h0.56v0.56h-0.56zM58.5 162.8h0.56v0.56h-0.56zM54.9 165.4h0.56v0.56h-0.56zM58.9 175.4h0.56v0.56h-0.56zM48.7 179.0h0.56v0.56h-0.56zM48.1 177.8h0.56v0.56h-0.56zM54.9 163.8h0.56v0.56h-0.56zM48.4 167.7h0.56v0.56h-0.56zM53.7 164.9h0.56v0.56h-0.56zM56.6 160.2h0.56v0.56h-0.56zM53.8 169.8h0.56v0.56h-0.56zM44.6 171.9h0.56v0.56h-0.56zM47.6 152.6h0.56v0.56h-0.56zM50.8 168.2h0.56v0.56h-0.56zM58.3 166.4h0.56v0.56h-0.56zM61.1 179.7h0.56v0.56h-0.56zM59.2 178.9h0.56v0.56h-0.56zM55.6 166.0h0.56v0.56h-0.56zM57.0 176.5h0.56v0.56h-0.56zM55.0 168.1h0.56v0.56h-0.56zM46.1 174.5h0.56v0.56h-0.56zM55.6 160.8h0.56v0.56h-0.56zM54.3 174.8h0.56v0.56h-0.56zM53.3 175.2h0.56v0.56h-0.56zM57.6 159.6h0.56v0.56h-0.56zM52.4 173.1h0.56v0.56h-0.56zM58.4 179.5h0.56v0.56h-0.56zM44.4 169.3h0.56v0.56h-0.56zM57.4 178.2h0.56v0.56h-0.56zM62.2 163.3h0.56v0.56h-0.56zM52.0 162.5h0.56v0.56h-0.56zM57.9 160.6h0.56v0.56h-0.56zM59.7 176.3h0.56v0.56h-0.56zM56.3 154.8h0.56v0.56h-0.56zM50.5 175.0h0.56v0.56h-0.56zM46.9 168.1h0.56v0.56h-0.56zM53.3 175.9h0.56v0.56h-0.56zM55.2 171.7h0.56v0.56h-0.56zM51.7 169.8h0.56v0.56h-0.56zM53.2 174.8h0.56v0.56h-0.56zM53.0 176.9h0.56v0.56h-0.56zM45.5 178.1h0.56v0.56h-0.56zM53.0 177.6h0.56v0.56h-0.56zM54.3 175.7h0.56v0.56h-0.56zM61.2 165.9h0.56v0.56h-0.56zM54.2 168.6h0.56v0.56h-0.56zM54.9 158.6h0.56v0.56h-0.56zM53.0 168.1h0.56v0.56h-0.56zM50.0 168.4h0.56v0.56h-0.56zM46.2 179.4h0.56v0.56h-0.56zM56.0 182.8h0.56v0.56h-0.56zM49.5 161.7h0.56v0.56h-0.56zM55.2 158.2h0.56v0.56h-0.56zM55.0 164.9h0.56v0.56h-0.56zM52.2 171.5h0.56v0.56h-0.56zM54.1 182.6h0.56v0.56h-0.56zM57.0 160.8h0.56v0.56h-0.56zM58.7 160.5h0.56v0.56h-0.56zM54.3 161.1h0.56v0.56h-0.56zM49.7 178.8h0.56v0.56h-0.56zM51.1 165.3h0.56v0.56h-0.56zM51.0 167.6h0.56v0.56h-0.56zM60.9 161.6h0.56v0.56h-0.56zM47.7 173.8h0.56v0.56h-0.56zM45.9 167.2h0.56v0.56h-0.56zM59.4 169.7h0.56v0.56h-0.56zM51.4 164.8h0.56v0.56h-0.56zM49.3 165.6h0.56v0.56h-0.56zM54.5 178.3h0.56v0.56h-0.56zM58.6 165.8h0.56v0.56h-0.56zM50.2 174.5h0.56v0.56h-0.56zM44.8 166.7h0.56v0.56h-0.56zM52.2 162.0h0.56v0.56h-0.56zM48.9 172.1h0.56v0.56h-0.56zM45.6 163.3h0.56v0.56h-0.56zM50.5 170.2h0.56v0.56h-0.56zM47.0 177.1h0.56v0.56h-0.56zM52.2 167.8h0.56v0.56h-0.56zM51.9 165.0h0.56v0.56h-0.56zM48.9 177.5h0.56v0.56h-0.56zM54.7 168.8h0.56v0.56h-0.56zM58.6 164.7h0.56v0.56h-0.56zM56.8 169.7h0.56v0.56h-0.56zM49.3 174.8h0.56v0.56h-0.56zM46.3 174.0h0.56v0.56h-0.56zM49.3 172.4h0.56v0.56h-0.56zM60.5 173.4h0.56v0.56h-0.56zM50.7 169.3h0.56v0.56h-0.56zM51.8 161.4h0.56v0.56h-0.56zM48.2 169.8h0.56v0.56h-0.56zM56.3 157.3h0.56v0.56h-0.56zM53.3 173.0h0.56v0.56h-0.56zM54.2 162.5h0.56v0.56h-0.56zM58.7 161.1h0.56v0.56h-0.56zM56.8 180.5h0.56v0.56h-0.56zM43.5 171.2h0.56v0.56h-0.56zM55.1 171.0h0.56v0.56h-0.56zM49.8 167.3h0.56v0.56h-0.56zM46.7 170.3h0.56v0.56h-0.56zM56.2 164.8h0.56v0.56h-0.56zM49.0 166.1h0.56v0.56h-0.56zM53.5 169.8h0.56v0.56h-0.56zM53.0 169.8h0.56v0.56h-0.56zM47.1 150.6h0.56v0.56h-0.56zM56.6 179.1h0.56v0.56h-0.56zM46.6 164.8h0.56v0.56h-0.56zM55.0 175.9h0.56v0.56h-0.56zM56.7 178.1h0.56v0.56h-0.56zM53.3 172.2h0.56v0.56h-0.56zM55.5 166.4h0.56v0.56h-0.56zM59.4 173.6h0.56v0.56h-0.56zM58.3 166.6h0.56v0.56h-0.56zM58.6 162.1h0.56v0.56h-0.56zM55.4 151.4h0.56v0.56h-0.56zM48.6 174.4h0.56v0.56h-0.56zM51.3 170.5h0.56v0.56h-0.56zM45.6 179.9h0.56v0.56h-0.56zM56.4 169.1h0.56v0.56h-0.56zM55.5 171.6h0.56v0.56h-0.56zM60.4 170.8h0.56v0.56h-0.56zM46.3 167.6h0.56v0.56h-0.56zM59.8 173.2h0.56v0.56h-0.56zM51.4 173.5h0.56v0.56h-0.56zM54.1 173.5h0.56v0.56h-0.56zM45.7 163.2h0.56v0.56h-0.56zM56.8 167.8h0.56v0.56h-0.56zM55.2 182.7h0.56v0.56h-0.56zM52.0 171.0h0.56v0.56h-0.56zM50.8 165.0h0.56v0.56h-0.56zM53.1 159.4h0.56v0.56h-0.56zM43.2 178.6h0.56v0.56h-0.56zM53.0 177.0h0.56v0.56h-0.56zM54.1 170.3h0.56v0.56h-0.56zM56.8 174.2h0.56v0.56h-0.56zM47.6 177.6h0.56v0.56h-0.56zM48.8 170.7h0.56v0.56h-0.56zM66.0 169.9h0.56v0.56h-0.56zM61.6 166.9h0.56v0.56h-0.56zM56.5 169.7h0.56v0.56h-0.56zM55.5 163.5h0.56v0.56h-0.56zM49.0 171.6h0.56v0.56h-0.56zM45.9 163.5h0.56v0.56h-0.56zM56.6 165.1h0.56v0.56h-0.56zM49.2 161.7h0.56v0.56h-0.56zM54.2 166.8h0.56v0.56h-0.56zM54.2 168.0h0.56v0.56h-0.56zM62.5 166.3h0.56v0.56h-0.56zM44.0 170.1h0.56v0.56h-0.56zM53.5 170.4h0.56v0.56h-0.56zM45.7 177.0h0.56v0.56h-0.56zM53.4 169.0h0.56v0.56h-0.56zM45.8 172.5h0.56v0.56h-0.56zM53.2 178.5h0.56v0.56h-0.56zM51.5 160.9h0.56v0.56h-0.56zM54.1 163.1h0.56v0.56h-0.56zM55.5 161.9h0.56v0.56h-0.56zM52.9 167.8h0.56v0.56h-0.56zM53.3 165.8h0.56v0.56h-0.56zM49.6 168.9h0.56v0.56h-0.56zM50.7 170.4h0.56v0.56h-0.56zM52.2 154.0h0.56v0.56h-0.56zM53.2 178.8h0.56v0.56h-0.56zM55.0 173.4h0.56v0.56h-0.56zM55.7 166.1h0.56v0.56h-0.56zM47.0 174.8h0.56v0.56h-0.56zM58.6 173.2h0.56v0.56h-0.56zM55.6 172.0h0.56v0.56h-0.56zM53.4 171.2h0.56v0.56h-0.56zM53.6 171.5h0.56v0.56h-0.56zM48.9 165.1h0.56v0.56h-0.56zM56.3 167.0h0.56v0.56h-0.56zM41.8 170.2h0.56v0.56h-0.56zM42.5 182.2h0.56v0.56h-0.56zM55.6 186.2h0.56v0.56h-0.56zM47.6 179.3h0.56v0.56h-0.56zM50.2 183.7h0.56v0.56h-0.56zM47.0 184.2h0.56v0.56h-0.56zM55.4 185.9h0.56v0.56h-0.56zM45.4 175.3h0.56v0.56h-0.56zM51.5 181.1h0.56v0.56h-0.56zM54.0 189.9h0.56v0.56h-0.56zM60.9 184.7h0.56v0.56h-0.56zM57.8 189.9h0.56v0.56h-0.56zM51.7 184.7h0.56v0.56h-0.56zM56.4 183.5h0.56v0.56h-0.56zM48.6 180.8h0.56v0.56h-0.56zM51.5 181.3h0.56v0.56h-0.56zM56.1 182.4h0.56v0.56h-0.56zM59.9 188.3h0.56v0.56h-0.56zM44.4 187.8h0.56v0.56h-0.56zM49.2 188.9h0.56v0.56h-0.56zM54.5 183.5h0.56v0.56h-0.56zM55.4 181.6h0.56v0.56h-0.56zM53.4 185.2h0.56v0.56h-0.56zM50.7 185.2h0.56v0.56h-0.56zM45.8 185.8h0.56v0.56h-0.56zM44.6 186.1h0.56v0.56h-0.56zM54.3 186.4h0.56v0.56h-0.56zM48.4 195.3h0.56v0.56h-0.56zM50.3 184.3h0.56v0.56h-0.56zM47.3 189.2h0.56v0.56h-0.56zM48.9 187.5h0.56v0.56h-0.56zM46.2 184.9h0.56v0.56h-0.56zM49.5 187.3h0.56v0.56h-0.56zM50.0 180.5h0.56v0.56h-0.56zM54.2 179.2h0.56v0.56h-0.56zM46.2 186.7h0.56v0.56h-0.56zM41.0 186.7h0.56v0.56h-0.56zM49.4 180.3h0.56v0.56h-0.56zM53.1 186.2h0.56v0.56h-0.56zM48.4 183.1h0.56v0.56h-0.56zM56.3 186.7h0.56v0.56h-0.56zM51.4 180.9h0.56v0.56h-0.56zM46.3 181.6h0.56v0.56h-0.56zM55.6 186.0h0.56v0.56h-0.56zM53.5 189.1h0.56v0.56h-0.56zM50.1 182.4h0.56v0.56h-0.56zM49.6 191.1h0.56v0.56h-0.56zM40.1 185.0h0.56v0.56h-0.56zM54.3 184.1h0.56v0.56h-0.56zM65.0 188.3h0.56v0.56h-0.56zM56.2 180.5h0.56v0.56h-0.56zM54.6 182.5h0.56v0.56h-0.56zM52.1 184.6h0.56v0.56h-0.56zM49.1 186.3h0.56v0.56h-0.56zM61.1 187.8h0.56v0.56h-0.56zM53.1 176.6h0.56v0.56h-0.56zM58.0 188.0h0.56v0.56h-0.56zM50.8 182.1h0.56v0.56h-0.56zM55.6 180.9h0.56v0.56h-0.56zM56.4 179.9h0.56v0.56h-0.56zM46.7 184.0h0.56v0.56h-0.56zM43.7 183.9h0.56v0.56h-0.56zM54.9 179.0h0.56v0.56h-0.56zM57.1 181.8h0.56v0.56h-0.56zM55.0 184.8h0.56v0.56h-0.56zM49.4 182.0h0.56v0.56h-0.56zM42.3 181.3h0.56v0.56h-0.56zM47.6 190.1h0.56v0.56h-0.56zM57.7 178.8h0.56v0.56h-0.56zM56.5 184.8h0.56v0.56h-0.56zM49.8 185.7h0.56v0.56h-0.56zM56.4 181.8h0.56v0.56h-0.56zM50.4 184.6h0.56v0.56h-0.56zM46.4 184.7h0.56v0.56h-0.56zM51.5 181.4h0.56v0.56h-0.56zM47.2 185.1h0.56v0.56h-0.56zM56.9 185.2h0.56v0.56h-0.56zM47.2 186.8h0.56v0.56h-0.56zM52.9 186.2h0.56v0.56h-0.56zM58.5 180.6h0.56v0.56h-0.56zM51.2 181.7h0.56v0.56h-0.56zM47.1 191.5h0.56v0.56h-0.56zM57.3 177.4h0.56v0.56h-0.56zM54.4 181.9h0.56v0.56h-0.56zM58.4 184.3h0.56v0.56h-0.56zM51.0 184.5h0.56v0.56h-0.56zM54.1 184.1h0.56v0.56h-0.56zM50.8 183.5h0.56v0.56h-0.56zM54.9 179.8h0.56v0.56h-0.56zM52.0 183.5h0.56v0.56h-0.56zM49.3 186.7h0.56v0.56h-0.56zM44.8 182.6h0.56v0.56h-0.56zM47.2 186.0h0.56v0.56h-0.56zM49.4 184.2h0.56v0.56h-0.56zM54.2 178.0h0.56v0.56h-0.56zM54.5 181.2h0.56v0.56h-0.56zM50.6 183.6h0.56v0.56h-0.56zM56.5 186.8h0.56v0.56h-0.56zM61.9 184.7h0.56v0.56h-0.56zM49.3 182.1h0.56v0.56h-0.56zM55.7 190.0h0.56v0.56h-0.56zM53.9 181.8h0.56v0.56h-0.56zM53.5 185.0h0.56v0.56h-0.56zM52.2 181.2h0.56v0.56h-0.56zM37.8 182.0h0.56v0.56h-0.56zM57.9 184.8h0.56v0.56h-0.56zM39.6 184.0h0.56v0.56h-0.56zM41.6 191.4h0.56v0.56h-0.56zM53.1 179.5h0.56v0.56h-0.56zM56.5 181.1h0.56v0.56h-0.56zM55.1 184.1h0.56v0.56h-0.56zM45.4 186.5h0.56v0.56h-0.56zM44.5 189.0h0.56v0.56h-0.56zM52.3 180.2h0.56v0.56h-0.56zM41.8 190.0h0.56v0.56h-0.56zM60.1 179.3h0.56v0.56h-0.56zM61.2 184.6h0.56v0.56h-0.56zM50.8 183.7h0.56v0.56h-0.56zM50.5 189.3h0.56v0.56h-0.56zM52.8 177.1h0.56v0.56h-0.56zM63.7 187.3h0.56v0.56h-0.56zM45.9 182.7h0.56v0.56h-0.56zM46.9 184.2h0.56v0.56h-0.56zM54.2 184.9h0.56v0.56h-0.56zM48.6 181.0h0.56v0.56h-0.56zM56.7 183.6h0.56v0.56h-0.56zM64.6 181.0h0.56v0.56h-0.56zM56.4 184.2h0.56v0.56h-0.56zM47.7 189.1h0.56v0.56h-0.56zM52.7 180.7h0.56v0.56h-0.56zM50.2 187.8h0.56v0.56h-0.56zM45.1 189.2h0.56v0.56h-0.56zM55.8 183.0h0.56v0.56h-0.56zM59.6 190.5h0.56v0.56h-0.56zM55.4 184.6h0.56v0.56h-0.56zM62.4 189.6h0.56v0.56h-0.56zM46.8 183.2h0.56v0.56h-0.56zM50.8 182.5h0.56v0.56h-0.56zM43.6 187.4h0.56v0.56h-0.56zM52.5 184.4h0.56v0.56h-0.56zM59.9 181.9h0.56v0.56h-0.56zM51.7 185.0h0.56v0.56h-0.56zM49.6 183.6h0.56v0.56h-0.56zM56.3 184.0h0.56v0.56h-0.56zM59.5 181.2h0.56v0.56h-0.56zM53.1 178.6h0.56v0.56h-0.56zM51.3 181.4h0.56v0.56h-0.56zM59.7 186.8h0.56v0.56h-0.56zM54.9 190.9h0.56v0.56h-0.56zM60.1 186.7h0.56v0.56h-0.56zM48.1 178.6h0.56v0.56h-0.56zM51.8 182.7h0.56v0.56h-0.56zM48.3 182.9h0.56v0.56h-0.56zM42.7 189.6h0.56v0.56h-0.56zM45.6 181.5h0.56v0.56h-0.56zM55.2 177.9h0.56v0.56h-0.56zM57.2 187.5h0.56v0.56h-0.56zM50.2 179.9h0.56v0.56h-0.56zM49.3 177.0h0.56v0.56h-0.56zM59.9 184.2h0.56v0.56h-0.56zM47.8 180.6h0.56v0.56h-0.56zM55.2 189.7h0.56v0.56h-0.56zM44.8 181.8h0.56v0.56h-0.56zM42.0 186.6h0.56v0.56h-0.56zM52.9 192.5h0.56v0.56h-0.56zM51.3 182.4h0.56v0.56h-0.56zM48.0 187.2h0.56v0.56h-0.56zM42.8 186.8h0.56v0.56h-0.56zM53.4 182.1h0.56v0.56h-0.56zM46.9 188.0h0.56v0.56h-0.56zM62.6 182.3h0.56v0.56h-0.56zM55.0 190.6h0.56v0.56h-0.56zM48.5 183.0h0.56v0.56h-0.56zM45.1 183.4h0.56v0.56h-0.56zM51.5 182.4h0.56v0.56h-0.56zM47.8 178.0h0.56v0.56h-0.56zM44.3 180.3h0.56v0.56h-0.56zM55.7 182.1h0.56v0.56h-0.56zM47.1 186.5h0.56v0.56h-0.56zM55.2 181.1h0.56v0.56h-0.56zM48.4 186.5h0.56v0.56h-0.56zM54.1 180.8h0.56v0.56h-0.56zM53.4 183.9h0.56v0.56h-0.56zM58.4 180.7h0.56v0.56h-0.56zM57.0 185.6h0.56v0.56h-0.56zM46.2 188.0h0.56v0.56h-0.56zM57.2 179.0h0.56v0.56h-0.56zM63.3 179.6h0.56v0.56h-0.56zM46.7 182.8h0.56v0.56h-0.56zM56.4 186.2h0.56v0.56h-0.56zM51.5 189.2h0.56v0.56h-0.56zM54.3 189.3h0.56v0.56h-0.56zM68.2 184.7h0.56v0.56h-0.56zM37.2 182.3h0.56v0.56h-0.56zM45.8 184.4h0.56v0.56h-0.56zM52.6 179.3h0.56v0.56h-0.56zM45.4 183.0h0.56v0.56h-0.56zM50.9 174.0h0.56v0.56h-0.56zM57.6 184.1h0.56v0.56h-0.56zM51.9 185.1h0.56v0.56h-0.56zM46.1 183.8h0.56v0.56h-0.56zM58.0 188.2h0.56v0.56h-0.56z" fill="#111" fill-opacity="0.45" clip-path="url(#cp1)"/>
<path d="M38.3 158.8h0.56v0.56h-0.56zM24.9 165.7h0.56v0.56h-0.56zM71.4 160.2h0.56v0.56h-0.56zM26.3 162.3h0.56v0.56h-0.56zM51.7 176.2h0.56v0.56h-0.56zM58.7 160.1h0.56v0.56h-0.56zM33.8 186.4h0.56v0.56h-0.56zM74.9 161.4h0.56v0.56h-0.56zM75.0 165.2h0.56v0.56h-0.56zM35.6 165.1h0.56v0.56h-0.56zM30.4 189.1h0.56v0.56h-0.56zM57.4 173.8h0.56v0.56h-0.56zM50.3 192.2h0.56v0.56h-0.56zM55.0 143.2h0.56v0.56h-0.56zM55.8 191.7h0.56v0.56h-0.56zM73.7 152.9h0.56v0.56h-0.56zM63.7 188.8h0.56v0.56h-0.56zM39.6 145.2h0.56v0.56h-0.56zM62.6 186.7h0.56v0.56h-0.56zM46.8 175.3h0.56v0.56h-0.56zM74.7 178.0h0.56v0.56h-0.56zM48.3 163.0h0.56v0.56h-0.56zM23.6 162.8h0.56v0.56h-0.56zM71.6 151.0h0.56v0.56h-0.56zM37.7 150.2h0.56v0.56h-0.56zM66.5 174.8h0.56v0.56h-0.56zM55.4 160.4h0.56v0.56h-0.56zM62.4 144.5h0.56v0.56h-0.56zM62.2 151.6h0.56v0.56h-0.56zM71.0 151.7h0.56v0.56h-0.56zM67.2 152.9h0.56v0.56h-0.56zM57.2 166.2h0.56v0.56h-0.56zM40.3 189.4h0.56v0.56h-0.56zM49.2 172.7h0.56v0.56h-0.56zM37.8 180.8h0.56v0.56h-0.56zM40.8 148.4h0.56v0.56h-0.56zM47.4 178.3h0.56v0.56h-0.56zM45.4 187.1h0.56v0.56h-0.56zM38.3 193.7h0.56v0.56h-0.56zM39.1 179.3h0.56v0.56h-0.56zM39.5 174.0h0.56v0.56h-0.56zM33.1 192.1h0.56v0.56h-0.56zM53.9 149.6h0.56v0.56h-0.56zM27.9 183.4h0.56v0.56h-0.56zM36.2 179.7h0.56v0.56h-0.56zM32.0 180.0h0.56v0.56h-0.56zM60.5 161.1h0.56v0.56h-0.56zM37.8 147.1h0.56v0.56h-0.56zM28.3 150.2h0.56v0.56h-0.56zM66.5 177.5h0.56v0.56h-0.56zM46.2 158.9h0.56v0.56h-0.56zM65.6 191.4h0.56v0.56h-0.56zM40.0 149.2h0.56v0.56h-0.56zM41.4 184.5h0.56v0.56h-0.56zM52.6 167.3h0.56v0.56h-0.56zM26.7 158.0h0.56v0.56h-0.56zM74.8 156.0h0.56v0.56h-0.56zM30.1 161.0h0.56v0.56h-0.56zM71.4 161.8h0.56v0.56h-0.56zM57.9 154.5h0.56v0.56h-0.56zM63.5 154.2h0.56v0.56h-0.56zM34.1 192.5h0.56v0.56h-0.56zM70.3 164.5h0.56v0.56h-0.56zM51.4 174.8h0.56v0.56h-0.56zM44.9 178.8h0.56v0.56h-0.56zM33.2 159.9h0.56v0.56h-0.56zM32.1 190.7h0.56v0.56h-0.56zM68.7 158.0h0.56v0.56h-0.56zM74.4 152.8h0.56v0.56h-0.56zM45.2 145.3h0.56v0.56h-0.56zM61.3 156.4h0.56v0.56h-0.56zM60.0 146.1h0.56v0.56h-0.56zM49.2 175.0h0.56v0.56h-0.56zM48.5 172.3h0.56v0.56h-0.56zM52.3 144.1h0.56v0.56h-0.56zM41.4 191.4h0.56v0.56h-0.56zM62.5 180.2h0.56v0.56h-0.56zM45.2 171.1h0.56v0.56h-0.56zM49.7 191.2h0.56v0.56h-0.56zM32.6 170.0h0.56v0.56h-0.56zM74.7 152.0h0.56v0.56h-0.56zM27.1 182.8h0.56v0.56h-0.56zM61.0 191.7h0.56v0.56h-0.56zM58.0 146.1h0.56v0.56h-0.56zM41.3 168.7h0.56v0.56h-0.56zM74.8 154.5h0.56v0.56h-0.56zM24.9 189.1h0.56v0.56h-0.56zM37.5 147.9h0.56v0.56h-0.56zM40.9 184.1h0.56v0.56h-0.56zM57.0 153.5h0.56v0.56h-0.56zM54.3 175.7h0.56v0.56h-0.56zM60.7 178.3h0.56v0.56h-0.56zM68.6 181.8h0.56v0.56h-0.56zM24.0 145.7h0.56v0.56h-0.56zM52.7 167.6h0.56v0.56h-0.56zM44.3 149.4h0.56v0.56h-0.56zM59.5 149.5h0.56v0.56h-0.56zM50.9 151.3h0.56v0.56h-0.56zM41.5 150.5h0.56v0.56h-0.56zM23.4 190.7h0.56v0.56h-0.56z" fill="#555" fill-opacity="0.35" clip-path="url(#cp1)"/>
<text x="24.0" y="145.0" font-size="2.6" fill="#555" stroke="none">Q1</text>
<text x="24.0" y="147.8" font-size="2.6" fill="#555" stroke="none">0.00%</text>
<text x="68.5" y="145.0" font-size="2.6" fill="#555" stroke="none">Q2</text>
<text x="68.5" y="147.8" font-size="2.6" fill="#555" stroke="none">86.0%</text>
<text x="24.0" y="190.5" font-size="2.6" fill="#555" stroke="none">Q3</text>
<text x="24.0" y="193.3" font-size="2.6" fill="#555" stroke="none">0.00%</text>
<text x="68.5" y="190.5" font-size="2.6" fill="#555" stroke="none">Q4</text>
<text x="68.5" y="193.3" font-size="2.6" fill="#555" stroke="none">13.7%</text>
<text x="18.2" y="147.5" font-size="2.4" fill="#666" stroke="none">10</text>
<text x="18.2" y="158.0" font-size="2.4" fill="#666" stroke="none">10</text>
<text x="18.2" y="168.5" font-size="2.4" fill="#666" stroke="none">10</text>
<text x="18.2" y="179.0" font-size="2.4" fill="#666" stroke="none">10</text>
<text x="18.2" y="189.5" font-size="2.4" fill="#666" stroke="none">10</text>
<text x="31.5" y="198.2" font-size="2.4" fill="#666" stroke="none">10</text>
<text x="41.5" y="198.2" font-size="2.4" fill="#666" stroke="none">10</text>
<text x="51.5" y="198.2" font-size="2.4" fill="#666" stroke="none">10</text>
<text x="61.5" y="198.2" font-size="2.4" fill="#666" stroke="none">10</text>
<text x="71.5" y="198.2" font-size="2.4" fill="#666" stroke="none">10</text>
<text x="51.00" y="191.20" font-size="6.4" text-anchor="start" fill="#9b3fd0" stroke="#9b3fd0">HSC</text>
<text x="15.80" y="169.40" font-size="6.8" text-anchor="middle" fill="#1a1a1a" stroke="#1a1a1a" transform="rotate(-90 15.80 169.40)">CD45RA</text>
<text x="49.30" y="206.80" font-size="7.0" text-anchor="middle" fill="#1a1a1a" stroke="#1a1a1a">CD34</text>
<line x1="67.50" y1="163.00" x2="82.50" y2="163.00" stroke="#111" stroke-width="1.2"/>
<path d="M88.4 163.0 L81.1 160.6 L81.1 165.4 Z" fill="#111"/>
<text x="128.60" y="140.80" font-size="6.8" text-anchor="middle" fill="#1a1a1a" stroke="#1a1a1a">CD45RA+ve</text>
<rect x="103.50" y="143.00" width="52.70" height="51.70" fill="none" stroke="#aaa" stroke-width="0.6"/>
<line x1="103.50" y1="178.10" x2="156.20" y2="178.10" stroke="#aaa" stroke-width="0.6"/>
<path d="M104 194.2 L117 194 C119 193.8 120 190 121.5 184 C123 176 124.5 164 126.8 163.5 C129 163.5 130 174 131.7 175 C134 175 136 151 138.4 150.3 C140.5 151 141 180 142.3 194 L156 194.2" fill="none" stroke="#444" stroke-width="0.7"/>
<text x="105.0" y="146.0" font-size="2.6" fill="#555" stroke="none">Q1</text>
<text x="105.0" y="148.8" font-size="2.6" fill="#555" stroke="none">46.9%</text>
<text x="148.0" y="146.0" font-size="2.6" fill="#555" stroke="none">Q2</text>
<text x="148.0" y="148.8" font-size="2.6" fill="#555" stroke="none">53.1%</text>
<text x="100.2" y="152.0" font-size="2.4" fill="#666" stroke="none">-</text>
<text x="100.2" y="162.0" font-size="2.4" fill="#666" stroke="none">-</text>
<text x="100.2" y="172.0" font-size="2.4" fill="#666" stroke="none">-</text>
<text x="100.2" y="182.0" font-size="2.4" fill="#666" stroke="none">-</text>
<text x="100.2" y="192.0" font-size="2.4" fill="#666" stroke="none">-</text>
<text x="108.5" y="199.5" font-size="2.4" fill="#666" stroke="none">10</text>
<text x="118.5" y="199.5" font-size="2.4" fill="#666" stroke="none">10</text>
<text x="128.5" y="199.5" font-size="2.4" fill="#666" stroke="none">10</text>
<text x="138.5" y="199.5" font-size="2.4" fill="#666" stroke="none">10</text>
<text x="148.5" y="199.5" font-size="2.4" fill="#666" stroke="none">10</text>
<text x="108.80" y="176.60" font-size="6.4" text-anchor="start" fill="#9b3fd0" stroke="#9b3fd0">Stage I</text>
<text x="133.80" y="182.30" font-size="6.4" text-anchor="start" fill="#9b3fd0" stroke="#9b3fd0">Stage II</text>
<text x="95.40" y="172.10" font-size="6.6" text-anchor="middle" fill="#1a1a1a" stroke="#1a1a1a" transform="rotate(-90 95.40 172.10)">Count</text>
<text x="129.90" y="207.40" font-size="7.0" text-anchor="middle" fill="#1a1a1a" stroke="#1a1a1a">CD117</text>
<rect x="24.20" y="218.70" width="51.40" height="52.10" fill="none" stroke="#b4b4e0" stroke-width="0.7"/>
<text x="26.50" y="217.00" font-size="6.8" text-anchor="start" fill="#1a1a1a" stroke="#1a1a1a">Day 7</text>
<line x1="24.20" y1="270.80" x2="75.60" y2="270.80" stroke="#8080c8" stroke-width="1.1"/>
<line x1="24.20" y1="218.70" x2="24.20" y2="270.80" stroke="#8c8cd0" stroke-width="1.0"/>
<line x1="24.60" y1="269.60" x2="24.60" y2="272.20" stroke="#6a6ab8" stroke-width="0.5"/>
<text x="23.0" y="274.8" font-size="2.3" fill="#7070b0" stroke="none">10</text>
<line x1="26.70" y1="269.90" x2="26.70" y2="270.80" stroke="#7a7ac0" stroke-width="0.35"/>
<line x1="28.80" y1="269.90" x2="28.80" y2="270.80" stroke="#7a7ac0" stroke-width="0.35"/>
<line x1="30.90" y1="269.90" x2="30.90" y2="270.80" stroke="#7a7ac0" stroke-width="0.35"/>
<line x1="33.05" y1="269.60" x2="33.05" y2="272.20" stroke="#6a6ab8" stroke-width="0.5"/>
<text x="31.4" y="274.8" font-size="2.3" fill="#7070b0" stroke="none">10</text>
<line x1="35.15" y1="269.90" x2="35.15" y2="270.80" stroke="#7a7ac0" stroke-width="0.35"/>
<line x1="37.25" y1="269.90" x2="37.25" y2="270.80" stroke="#7a7ac0" stroke-width="0.35"/>
<line x1="39.35" y1="269.90" x2="39.35" y2="270.80" stroke="#7a7ac0" stroke-width="0.35"/>
<line x1="41.50" y1="269.60" x2="41.50" y2="272.20" stroke="#6a6ab8" stroke-width="0.5"/>
<text x="39.9" y="274.8" font-size="2.3" fill="#7070b0" stroke="none">10</text>
<line x1="43.60" y1="269.90" x2="43.60" y2="270.80" stroke="#7a7ac0" stroke-width="0.35"/>
<line x1="45.70" y1="269.90" x2="45.70" y2="270.80" stroke="#7a7ac0" stroke-width="0.35"/>
<line x1="47.80" y1="269.90" x2="47.80" y2="270.80" stroke="#7a7ac0" stroke-width="0.35"/>
<line x1="49.95" y1="269.60" x2="49.95" y2="272.20" stroke="#6a6ab8" stroke-width="0.5"/>
<text x="48.3" y="274.8" font-size="2.3" fill="#7070b0" stroke="none">10</text>
<line x1="52.05" y1="269.90" x2="52.05" y2="270.80" stroke="#7a7ac0" stroke-width="0.35"/>
<line x1="54.15" y1="269.90" x2="54.15" y2="270.80" stroke="#7a7ac0" stroke-width="0.35"/>
<line x1="56.25" y1="269.90" x2="56.25" y2="270.80" stroke="#7a7ac0" stroke-width="0.35"/>
<line x1="58.40" y1="269.60" x2="58.40" y2="272.20" stroke="#6a6ab8" stroke-width="0.5"/>
<text x="56.8" y="274.8" font-size="2.3" fill="#7070b0" stroke="none">10</text>
<line x1="60.50" y1="269.90" x2="60.50" y2="270.80" stroke="#7a7ac0" stroke-width="0.35"/>
<line x1="62.60" y1="269.90" x2="62.60" y2="270.80" stroke="#7a7ac0" stroke-width="0.35"/>
<line x1="64.70" y1="269.90" x2="64.70" y2="270.80" stroke="#7a7ac0" stroke-width="0.35"/>
<line x1="66.85" y1="269.60" x2="66.85" y2="272.20" stroke="#6a6ab8" stroke-width="0.5"/>
<text x="65.2" y="274.8" font-size="2.3" fill="#7070b0" stroke="none">10</text>
<line x1="68.95" y1="269.90" x2="68.95" y2="270.80" stroke="#7a7ac0" stroke-width="0.35"/>
<line x1="71.05" y1="269.90" x2="71.05" y2="270.80" stroke="#7a7ac0" stroke-width="0.35"/>
<line x1="73.15" y1="269.90" x2="73.15" y2="270.80" stroke="#7a7ac0" stroke-width="0.35"/>
<line x1="75.30" y1="269.60" x2="75.30" y2="272.20" stroke="#6a6ab8" stroke-width="0.5"/>
<text x="73.7" y="274.8" font-size="2.3" fill="#7070b0" stroke="none">10</text>
<line x1="22.60" y1="270.30" x2="25.40" y2="270.30" stroke="#6a6ab8" stroke-width="0.5"/>
<text x="18.6" y="271.2" font-size="2.3" fill="#7070b0" stroke="none">10</text>
<line x1="22.60" y1="262.50" x2="25.40" y2="262.50" stroke="#6a6ab8" stroke-width="0.5"/>
<text x="18.6" y="263.4" font-size="2.3" fill="#7070b0" stroke="none">10</text>
<line x1="22.60" y1="254.70" x2="25.40" y2="254.70" stroke="#6a6ab8" stroke-width="0.5"/>
<text x="18.6" y="255.6" font-size="2.3" fill="#7070b0" stroke="none">10</text>
<line x1="22.60" y1="246.90" x2="25.40" y2="246.90" stroke="#6a6ab8" stroke-width="0.5"/>
<text x="18.6" y="247.8" font-size="2.3" fill="#7070b0" stroke="none">10</text>
<line x1="22.60" y1="239.10" x2="25.40" y2="239.10" stroke="#6a6ab8" stroke-width="0.5"/>
<text x="18.6" y="240.0" font-size="2.3" fill="#7070b0" stroke="none">10</text>
<line x1="22.60" y1="231.30" x2="25.40" y2="231.30" stroke="#6a6ab8" stroke-width="0.5"/>
<text x="18.6" y="232.2" font-size="2.3" fill="#7070b0" stroke="none">10</text>
<line x1="22.60" y1="223.50" x2="25.40" y2="223.50" stroke="#6a6ab8" stroke-width="0.5"/>
<text x="18.6" y="224.4" font-size="2.3" fill="#7070b0" stroke="none">10</text>
<rect x="85.20" y="218.70" width="51.90" height="52.10" fill="none" stroke="#b4b4e0" stroke-width="0.7"/>
<text x="87.50" y="217.00" font-size="6.8" text-anchor="start" fill="#1a1a1a" stroke="#1a1a1a">Day 17</text>
<line x1="85.20" y1="270.80" x2="137.10" y2="270.80" stroke="#8080c8" stroke-width="1.1"/>
<line x1="85.20" y1="218.70" x2="85.20" y2="270.80" stroke="#8c8cd0" stroke-width="1.0"/>
<line x1="85.60" y1="269.60" x2="85.60" y2="272.20" stroke="#6a6ab8" stroke-width="0.5"/>
<text x="84.0" y="274.8" font-size="2.3" fill="#7070b0" stroke="none">10</text>
<line x1="87.70" y1="269.90" x2="87.70" y2="270.80" stroke="#7a7ac0" stroke-width="0.35"/>
<line x1="89.80" y1="269.90" x2="89.80" y2="270.80" stroke="#7a7ac0" stroke-width="0.35"/>
<line x1="91.90" y1="269.90" x2="91.90" y2="270.80" stroke="#7a7ac0" stroke-width="0.35"/>
<line x1="94.05" y1="269.60" x2="94.05" y2="272.20" stroke="#6a6ab8" stroke-width="0.5"/>
<text x="92.5" y="274.8" font-size="2.3" fill="#7070b0" stroke="none">10</text>
<line x1="96.15" y1="269.90" x2="96.15" y2="270.80" stroke="#7a7ac0" stroke-width="0.35"/>
<line x1="98.25" y1="269.90" x2="98.25" y2="270.80" stroke="#7a7ac0" stroke-width="0.35"/>
<line x1="100.35" y1="269.90" x2="100.35" y2="270.80" stroke="#7a7ac0" stroke-width="0.35"/>
<line x1="102.50" y1="269.60" x2="102.50" y2="272.20" stroke="#6a6ab8" stroke-width="0.5"/>
<text x="100.9" y="274.8" font-size="2.3" fill="#7070b0" stroke="none">10</text>
<line x1="104.60" y1="269.90" x2="104.60" y2="270.80" stroke="#7a7ac0" stroke-width="0.35"/>
<line x1="106.70" y1="269.90" x2="106.70" y2="270.80" stroke="#7a7ac0" stroke-width="0.35"/>
<line x1="108.80" y1="269.90" x2="108.80" y2="270.80" stroke="#7a7ac0" stroke-width="0.35"/>
<line x1="110.95" y1="269.60" x2="110.95" y2="272.20" stroke="#6a6ab8" stroke-width="0.5"/>
<text x="109.4" y="274.8" font-size="2.3" fill="#7070b0" stroke="none">10</text>
<line x1="113.05" y1="269.90" x2="113.05" y2="270.80" stroke="#7a7ac0" stroke-width="0.35"/>
<line x1="115.15" y1="269.90" x2="115.15" y2="270.80" stroke="#7a7ac0" stroke-width="0.35"/>
<line x1="117.25" y1="269.90" x2="117.25" y2="270.80" stroke="#7a7ac0" stroke-width="0.35"/>
<line x1="119.40" y1="269.60" x2="119.40" y2="272.20" stroke="#6a6ab8" stroke-width="0.5"/>
<text x="117.8" y="274.8" font-size="2.3" fill="#7070b0" stroke="none">10</text>
<line x1="121.50" y1="269.90" x2="121.50" y2="270.80" stroke="#7a7ac0" stroke-width="0.35"/>
<line x1="123.60" y1="269.90" x2="123.60" y2="270.80" stroke="#7a7ac0" stroke-width="0.35"/>
<line x1="125.70" y1="269.90" x2="125.70" y2="270.80" stroke="#7a7ac0" stroke-width="0.35"/>
<line x1="127.85" y1="269.60" x2="127.85" y2="272.20" stroke="#6a6ab8" stroke-width="0.5"/>
<text x="126.3" y="274.8" font-size="2.3" fill="#7070b0" stroke="none">10</text>
<line x1="129.95" y1="269.90" x2="129.95" y2="270.80" stroke="#7a7ac0" stroke-width="0.35"/>
<line x1="132.05" y1="269.90" x2="132.05" y2="270.80" stroke="#7a7ac0" stroke-width="0.35"/>
<line x1="134.15" y1="269.90" x2="134.15" y2="270.80" stroke="#7a7ac0" stroke-width="0.35"/>
<line x1="136.30" y1="269.60" x2="136.30" y2="272.20" stroke="#6a6ab8" stroke-width="0.5"/>
<text x="134.7" y="274.8" font-size="2.3" fill="#7070b0" stroke="none">10</text>
<line x1="83.60" y1="270.30" x2="86.40" y2="270.30" stroke="#6a6ab8" stroke-width="0.5"/>
<text x="79.6" y="271.2" font-size="2.3" fill="#7070b0" stroke="none">10</text>
<line x1="83.60" y1="262.50" x2="86.40" y2="262.50" stroke="#6a6ab8" stroke-width="0.5"/>
<text x="79.6" y="263.4" font-size="2.3" fill="#7070b0" stroke="none">10</text>
<line x1="83.60" y1="254.70" x2="86.40" y2="254.70" stroke="#6a6ab8" stroke-width="0.5"/>
<text x="79.6" y="255.6" font-size="2.3" fill="#7070b0" stroke="none">10</text>
<line x1="83.60" y1="246.90" x2="86.40" y2="246.90" stroke="#6a6ab8" stroke-width="0.5"/>
<text x="79.6" y="247.8" font-size="2.3" fill="#7070b0" stroke="none">10</text>
<line x1="83.60" y1="239.10" x2="86.40" y2="239.10" stroke="#6a6ab8" stroke-width="0.5"/>
<text x="79.6" y="240.0" font-size="2.3" fill="#7070b0" stroke="none">10</text>
<line x1="83.60" y1="231.30" x2="86.40" y2="231.30" stroke="#6a6ab8" stroke-width="0.5"/>
<text x="79.6" y="232.2" font-size="2.3" fill="#7070b0" stroke="none">10</text>
<line x1="83.60" y1="223.50" x2="86.40" y2="223.50" stroke="#6a6ab8" stroke-width="0.5"/>
<text x="79.6" y="224.4" font-size="2.3" fill="#7070b0" stroke="none">10</text>
<g clip-path="url(#cp7)"><ellipse cx="41" cy="252" rx="7" ry="11" fill="#777" fill-opacity="0.35" filter="url(#b2p5)"/></g>
<path d="M53.0 222.5h0.5v0.5h-0.5zM37.7 250.3h0.5v0.5h-0.5zM49.3 241.0h0.5v0.5h-0.5zM27.7 225.4h0.5v0.5h-0.5zM35.8 240.5h0.5v0.5h-0.5zM56.4 257.1h0.5v0.5h-0.5zM59.7 249.1h0.5v0.5h-0.5zM55.8 249.7h0.5v0.5h-0.5zM74.2 234.0h0.5v0.5h-0.5zM74.0 245.4h0.5v0.5h-0.5zM66.7 242.3h0.5v0.5h-0.5zM48.3 265.5h0.5v0.5h-0.5zM62.9 263.9h0.5v0.5h-0.5zM37.5 241.9h0.5v0.5h-0.5zM68.2 245.2h0.5v0.5h-0.5zM37.2 234.6h0.5v0.5h-0.5zM74.5 248.3h0.5v0.5h-0.5zM25.7 226.5h0.5v0.5h-0.5zM64.8 268.3h0.5v0.5h-0.5zM50.0 240.7h0.5v0.5h-0.5zM65.8 220.5h0.5v0.5h-0.5zM51.1 234.8h0.5v0.5h-0.5zM66.7 267.4h0.5v0.5h-0.5zM60.4 235.5h0.5v0.5h-0.5zM57.0 239.3h0.5v0.5h-0.5zM72.6 268.7h0.5v0.5h-0.5zM30.9 259.2h0.5v0.5h-0.5zM71.3 238.0h0.5v0.5h-0.5zM51.1 228.2h0.5v0.5h-0.5zM60.4 239.5h0.5v0.5h-0.5zM58.4 238.7h0.5v0.5h-0.5zM44.6 264.7h0.5v0.5h-0.5zM51.3 247.0h0.5v0.5h-0.5zM73.6 266.2h0.5v0.5h-0.5zM49.4 269.3h0.5v0.5h-0.5zM70.8 263.5h0.5v0.5h-0.5zM25.4 240.3h0.5v0.5h-0.5zM53.7 239.5h0.5v0.5h-0.5zM59.5 247.4h0.5v0.5h-0.5zM44.8 254.0h0.5v0.5h-0.5zM29.1 262.4h0.5v0.5h-0.5zM64.6 260.9h0.5v0.5h-0.5zM62.6 235.6h0.5v0.5h-0.5zM44.1 256.8h0.5v0.5h-0.5zM29.9 238.8h0.5v0.5h-0.5zM67.0 258.8h0.5v0.5h-0.5zM63.8 220.7h0.5v0.5h-0.5zM66.7 262.4h0.5v0.5h-0.5zM65.9 254.9h0.5v0.5h-0.5zM38.2 227.3h0.5v0.5h-0.5zM56.2 232.5h0.5v0.5h-0.5zM48.3 235.6h0.5v0.5h-0.5zM44.5 245.7h0.5v0.5h-0.5zM45.5 265.3h0.5v0.5h-0.5zM58.7 268.5h0.5v0.5h-0.5zM74.9 250.1h0.5v0.5h-0.5zM48.6 225.5h0.5v0.5h-0.5zM43.3 268.9h0.5v0.5h-0.5zM56.4 268.0h0.5v0.5h-0.5zM56.5 224.4h0.5v0.5h-0.5zM45.4 253.3h0.5v0.5h-0.5zM57.3 253.3h0.5v0.5h-0.5zM57.8 253.0h0.5v0.5h-0.5zM62.3 256.3h0.5v0.5h-0.5zM33.4 220.3h0.5v0.5h-0.5zM57.6 235.4h0.5v0.5h-0.5zM45.9 236.9h0.5v0.5h-0.5zM69.0 252.5h0.5v0.5h-0.5zM55.9 224.8h0.5v0.5h-0.5zM65.5 233.8h0.5v0.5h-0.5zM65.5 228.8h0.5v0.5h-0.5zM35.6 222.4h0.5v0.5h-0.5zM28.9 243.7h0.5v0.5h-0.5zM63.0 230.2h0.5v0.5h-0.5zM27.8 244.1h0.5v0.5h-0.5zM72.4 230.3h0.5v0.5h-0.5zM59.5 259.6h0.5v0.5h-0.5zM46.2 225.6h0.5v0.5h-0.5zM58.5 258.6h0.5v0.5h-0.5zM31.6 252.9h0.5v0.5h-0.5zM56.9 227.9h0.5v0.5h-0.5zM71.0 238.9h0.5v0.5h-0.5zM25.0 239.1h0.5v0.5h-0.5zM71.9 242.7h0.5v0.5h-0.5zM40.5 253.7h0.5v0.5h-0.5zM44.8 220.7h0.5v0.5h-0.5zM72.0 228.3h0.5v0.5h-0.5zM64.8 254.9h0.5v0.5h-0.5zM44.2 224.6h0.5v0.5h-0.5zM74.0 262.2h0.5v0.5h-0.5zM26.6 238.5h0.5v0.5h-0.5zM58.0 221.8h0.5v0.5h-0.5zM50.5 258.4h0.5v0.5h-0.5zM69.4 232.3h0.5v0.5h-0.5zM25.9 269.9h0.5v0.5h-0.5zM41.1 266.1h0.5v0.5h-0.5zM48.9 264.3h0.5v0.5h-0.5zM28.7 264.2h0.5v0.5h-0.5zM57.3 223.7h0.5v0.5h-0.5zM67.4 221.3h0.5v0.5h-0.5zM70.3 240.0h0.5v0.5h-0.5zM32.2 241.0h0.5v0.5h-0.5zM50.3 240.4h0.5v0.5h-0.5zM74.3 249.8h0.5v0.5h-0.5zM28.6 259.2h0.5v0.5h-0.5zM60.2 259.4h0.5v0.5h-0.5zM39.3 266.5h0.5v0.5h-0.5zM70.4 253.8h0.5v0.5h-0.5zM55.4 263.9h0.5v0.5h-0.5zM69.8 224.6h0.5v0.5h-0.5z" fill="#444" fill-opacity="0.4" clip-path="url(#cp7)"/>
<path d="M42.9 261.7h0.5v0.5h-0.5zM40.7 252.5h0.5v0.5h-0.5zM47.5 253.9h0.5v0.5h-0.5zM46.8 271.0h0.5v0.5h-0.5zM45.0 261.4h0.5v0.5h-0.5zM43.5 256.1h0.5v0.5h-0.5zM42.0 254.7h0.5v0.5h-0.5zM47.4 241.9h0.5v0.5h-0.5zM38.4 259.2h0.5v0.5h-0.5zM34.5 253.4h0.5v0.5h-0.5zM35.5 257.6h0.5v0.5h-0.5zM46.0 265.3h0.5v0.5h-0.5zM43.5 248.7h0.5v0.5h-0.5zM41.9 258.6h0.5v0.5h-0.5zM49.6 237.8h0.5v0.5h-0.5zM42.7 240.2h0.5v0.5h-0.5zM45.0 257.6h0.5v0.5h-0.5zM43.5 261.0h0.5v0.5h-0.5zM42.8 249.3h0.5v0.5h-0.5zM42.5 263.4h0.5v0.5h-0.5zM39.4 254.4h0.5v0.5h-0.5zM32.1 263.1h0.5v0.5h-0.5zM36.8 248.5h0.5v0.5h-0.5zM37.2 247.6h0.5v0.5h-0.5zM38.5 264.0h0.5v0.5h-0.5zM45.5 265.1h0.5v0.5h-0.5zM50.1 247.4h0.5v0.5h-0.5zM43.4 265.7h0.5v0.5h-0.5zM55.5 243.4h0.5v0.5h-0.5zM30.7 257.8h0.5v0.5h-0.5zM37.9 246.6h0.5v0.5h-0.5zM42.7 248.2h0.5v0.5h-0.5zM25.0 254.0h0.5v0.5h-0.5zM41.0 259.1h0.5v0.5h-0.5zM46.5 255.6h0.5v0.5h-0.5zM38.6 249.1h0.5v0.5h-0.5zM29.2 250.8h0.5v0.5h-0.5zM46.8 259.2h0.5v0.5h-0.5zM53.9 253.0h0.5v0.5h-0.5zM28.2 260.5h0.5v0.5h-0.5zM47.1 245.3h0.5v0.5h-0.5zM29.4 255.3h0.5v0.5h-0.5zM44.9 245.6h0.5v0.5h-0.5zM37.9 248.2h0.5v0.5h-0.5zM32.2 244.1h0.5v0.5h-0.5zM41.1 251.3h0.5v0.5h-0.5zM35.7 234.2h0.5v0.5h-0.5zM51.8 246.9h0.5v0.5h-0.5zM39.2 245.5h0.5v0.5h-0.5zM42.7 242.6h0.5v0.5h-0.5zM40.7 252.7h0.5v0.5h-0.5zM46.2 245.8h0.5v0.5h-0.5zM35.8 252.3h0.5v0.5h-0.5zM54.1 242.9h0.5v0.5h-0.5zM42.0 249.1h0.5v0.5h-0.5zM42.2 259.1h0.5v0.5h-0.5zM41.0 256.1h0.5v0.5h-0.5zM42.0 249.6h0.5v0.5h-0.5zM38.6 241.4h0.5v0.5h-0.5zM37.7 248.2h0.5v0.5h-0.5zM38.4 259.7h0.5v0.5h-0.5zM42.6 257.7h0.5v0.5h-0.5zM47.4 235.9h0.5v0.5h-0.5zM42.9 253.9h0.5v0.5h-0.5zM39.4 244.1h0.5v0.5h-0.5zM43.7 262.8h0.5v0.5h-0.5zM46.9 253.4h0.5v0.5h-0.5zM44.3 261.1h0.5v0.5h-0.5zM52.2 263.4h0.5v0.5h-0.5zM41.0 254.8h0.5v0.5h-0.5zM41.2 255.8h0.5v0.5h-0.5zM36.7 259.9h0.5v0.5h-0.5zM35.4 247.9h0.5v0.5h-0.5zM42.4 249.7h0.5v0.5h-0.5zM38.4 238.2h0.5v0.5h-0.5zM45.3 254.0h0.5v0.5h-0.5zM39.2 257.6h0.5v0.5h-0.5zM41.4 248.7h0.5v0.5h-0.5zM53.4 250.6h0.5v0.5h-0.5zM46.5 268.0h0.5v0.5h-0.5zM35.9 254.7h0.5v0.5h-0.5zM34.6 262.0h0.5v0.5h-0.5zM37.8 245.6h0.5v0.5h-0.5zM48.8 261.0h0.5v0.5h-0.5zM34.1 263.1h0.5v0.5h-0.5zM41.3 274.7h0.5v0.5h-0.5zM51.5 249.8h0.5v0.5h-0.5zM38.2 247.3h0.5v0.5h-0.5zM40.9 254.4h0.5v0.5h-0.5zM44.9 254.7h0.5v0.5h-0.5zM30.2 247.8h0.5v0.5h-0.5zM49.5 262.8h0.5v0.5h-0.5zM38.9 253.0h0.5v0.5h-0.5zM38.9 254.2h0.5v0.5h-0.5zM28.8 260.8h0.5v0.5h-0.5zM35.6 255.1h0.5v0.5h-0.5zM23.1 255.8h0.5v0.5h-0.5zM48.9 236.9h0.5v0.5h-0.5zM50.2 257.6h0.5v0.5h-0.5zM35.1 241.9h0.5v0.5h-0.5zM47.8 256.0h0.5v0.5h-0.5zM44.0 251.9h0.5v0.5h-0.5zM34.7 260.7h0.5v0.5h-0.5zM33.6 260.9h0.5v0.5h-0.5zM28.8 246.9h0.5v0.5h-0.5zM30.3 264.0h0.5v0.5h-0.5zM28.3 245.3h0.5v0.5h-0.5zM44.4 255.8h0.5v0.5h-0.5zM54.7 268.1h0.5v0.5h-0.5zM44.1 259.3h0.5v0.5h-0.5zM27.8 247.3h0.5v0.5h-0.5zM37.8 252.6h0.5v0.5h-0.5zM30.8 246.9h0.5v0.5h-0.5zM34.3 262.1h0.5v0.5h-0.5zM42.8 251.5h0.5v0.5h-0.5zM38.2 256.2h0.5v0.5h-0.5zM35.3 252.0h0.5v0.5h-0.5zM28.5 259.1h0.5v0.5h-0.5zM46.4 256.8h0.5v0.5h-0.5zM43.2 256.8h0.5v0.5h-0.5zM53.7 255.6h0.5v0.5h-0.5zM31.1 246.0h0.5v0.5h-0.5zM44.8 262.2h0.5v0.5h-0.5zM45.2 260.4h0.5v0.5h-0.5zM41.2 242.6h0.5v0.5h-0.5zM35.2 240.1h0.5v0.5h-0.5zM37.4 243.5h0.5v0.5h-0.5zM40.6 252.7h0.5v0.5h-0.5zM26.9 259.6h0.5v0.5h-0.5zM45.1 243.3h0.5v0.5h-0.5zM40.9 259.5h0.5v0.5h-0.5zM38.0 260.5h0.5v0.5h-0.5zM41.2 262.2h0.5v0.5h-0.5zM41.2 252.7h0.5v0.5h-0.5zM43.4 260.0h0.5v0.5h-0.5zM41.6 250.5h0.5v0.5h-0.5zM34.6 251.1h0.5v0.5h-0.5zM36.1 255.5h0.5v0.5h-0.5zM41.1 253.3h0.5v0.5h-0.5zM39.9 255.2h0.5v0.5h-0.5zM50.5 263.2h0.5v0.5h-0.5zM36.0 257.1h0.5v0.5h-0.5zM37.7 253.1h0.5v0.5h-0.5zM38.3 249.1h0.5v0.5h-0.5zM30.7 234.9h0.5v0.5h-0.5zM41.2 263.0h0.5v0.5h-0.5zM33.8 257.8h0.5v0.5h-0.5zM37.3 256.0h0.5v0.5h-0.5zM34.4 252.1h0.5v0.5h-0.5zM39.1 235.5h0.5v0.5h-0.5zM41.3 252.8h0.5v0.5h-0.5zM23.1 258.9h0.5v0.5h-0.5zM39.6 255.4h0.5v0.5h-0.5zM42.3 250.6h0.5v0.5h-0.5zM32.6 250.4h0.5v0.5h-0.5zM37.0 271.0h0.5v0.5h-0.5zM52.3 250.1h0.5v0.5h-0.5zM37.0 256.3h0.5v0.5h-0.5zM43.7 248.5h0.5v0.5h-0.5zM33.1 268.8h0.5v0.5h-0.5zM47.0 241.8h0.5v0.5h-0.5zM27.9 247.4h0.5v0.5h-0.5zM41.3 258.0h0.5v0.5h-0.5zM37.5 241.3h0.5v0.5h-0.5zM41.3 258.5h0.5v0.5h-0.5zM39.8 249.9h0.5v0.5h-0.5zM43.7 253.3h0.5v0.5h-0.5zM32.2 254.5h0.5v0.5h-0.5zM31.0 261.3h0.5v0.5h-0.5zM43.0 246.0h0.5v0.5h-0.5zM41.2 263.5h0.5v0.5h-0.5zM25.2 252.7h0.5v0.5h-0.5zM51.0 241.7h0.5v0.5h-0.5zM38.7 242.7h0.5v0.5h-0.5zM39.3 235.1h0.5v0.5h-0.5zM28.7 249.6h0.5v0.5h-0.5zM40.7 256.7h0.5v0.5h-0.5zM42.7 262.7h0.5v0.5h-0.5zM44.6 259.5h0.5v0.5h-0.5zM33.1 252.5h0.5v0.5h-0.5zM61.6 271.5h0.5v0.5h-0.5zM45.5 259.5h0.5v0.5h-0.5zM46.6 250.6h0.5v0.5h-0.5zM53.2 250.8h0.5v0.5h-0.5zM39.2 270.8h0.5v0.5h-0.5zM25.5 256.6h0.5v0.5h-0.5zM28.0 248.6h0.5v0.5h-0.5zM39.2 251.0h0.5v0.5h-0.5zM41.0 247.7h0.5v0.5h-0.5zM39.1 244.4h0.5v0.5h-0.5zM37.1 242.8h0.5v0.5h-0.5zM44.3 243.6h0.5v0.5h-0.5zM44.6 250.5h0.5v0.5h-0.5zM37.7 263.1h0.5v0.5h-0.5zM40.5 238.8h0.5v0.5h-0.5zM43.2 230.9h0.5v0.5h-0.5zM41.6 250.6h0.5v0.5h-0.5zM30.1 254.4h0.5v0.5h-0.5zM37.7 269.6h0.5v0.5h-0.5zM36.8 269.1h0.5v0.5h-0.5zM49.4 248.9h0.5v0.5h-0.5zM34.1 264.2h0.5v0.5h-0.5zM38.8 255.0h0.5v0.5h-0.5zM38.0 244.2h0.5v0.5h-0.5zM37.2 246.2h0.5v0.5h-0.5zM29.2 251.4h0.5v0.5h-0.5zM52.2 266.6h0.5v0.5h-0.5zM39.4 254.8h0.5v0.5h-0.5zM43.4 264.6h0.5v0.5h-0.5zM42.0 250.0h0.5v0.5h-0.5zM37.1 262.8h0.5v0.5h-0.5zM57.9 248.8h0.5v0.5h-0.5zM25.5 260.2h0.5v0.5h-0.5zM39.3 254.9h0.5v0.5h-0.5zM48.4 254.3h0.5v0.5h-0.5zM30.6 238.1h0.5v0.5h-0.5zM39.5 244.5h0.5v0.5h-0.5zM41.8 243.6h0.5v0.5h-0.5zM37.3 242.1h0.5v0.5h-0.5zM37.3 250.2h0.5v0.5h-0.5zM43.9 264.5h0.5v0.5h-0.5zM38.5 246.9h0.5v0.5h-0.5zM53.4 256.7h0.5v0.5h-0.5zM44.1 258.6h0.5v0.5h-0.5zM50.0 261.8h0.5v0.5h-0.5zM44.5 259.9h0.5v0.5h-0.5zM33.8 248.9h0.5v0.5h-0.5zM39.1 254.5h0.5v0.5h-0.5zM39.9 256.3h0.5v0.5h-0.5zM40.0 250.4h0.5v0.5h-0.5zM28.5 260.5h0.5v0.5h-0.5zM43.9 246.8h0.5v0.5h-0.5zM43.3 256.9h0.5v0.5h-0.5zM40.3 239.1h0.5v0.5h-0.5zM31.4 249.0h0.5v0.5h-0.5zM51.1 246.9h0.5v0.5h-0.5zM37.4 244.9h0.5v0.5h-0.5zM36.4 256.5h0.5v0.5h-0.5zM25.3 231.1h0.5v0.5h-0.5zM44.4 254.1h0.5v0.5h-0.5zM35.6 261.5h0.5v0.5h-0.5zM46.6 237.1h0.5v0.5h-0.5zM38.6 262.6h0.5v0.5h-0.5zM35.1 251.3h0.5v0.5h-0.5zM46.5 251.7h0.5v0.5h-0.5zM31.5 248.3h0.5v0.5h-0.5zM30.5 258.2h0.5v0.5h-0.5zM27.8 261.8h0.5v0.5h-0.5zM28.3 254.2h0.5v0.5h-0.5zM29.6 251.3h0.5v0.5h-0.5zM47.0 262.8h0.5v0.5h-0.5zM48.9 253.1h0.5v0.5h-0.5zM40.6 255.6h0.5v0.5h-0.5zM44.1 250.6h0.5v0.5h-0.5zM47.5 256.4h0.5v0.5h-0.5zM47.8 257.6h0.5v0.5h-0.5zM44.6 248.0h0.5v0.5h-0.5zM36.9 243.5h0.5v0.5h-0.5zM37.7 252.4h0.5v0.5h-0.5zM45.7 243.7h0.5v0.5h-0.5zM62.5 252.8h0.5v0.5h-0.5zM48.6 262.1h0.5v0.5h-0.5zM22.2 251.7h0.5v0.5h-0.5zM50.1 234.4h0.5v0.5h-0.5zM45.2 246.5h0.5v0.5h-0.5zM36.5 255.6h0.5v0.5h-0.5zM26.8 255.3h0.5v0.5h-0.5zM35.3 247.8h0.5v0.5h-0.5zM44.7 281.8h0.5v0.5h-0.5zM42.2 258.2h0.5v0.5h-0.5zM39.5 248.0h0.5v0.5h-0.5zM41.6 265.9h0.5v0.5h-0.5zM41.1 260.9h0.5v0.5h-0.5zM38.2 273.9h0.5v0.5h-0.5zM28.3 258.4h0.5v0.5h-0.5zM43.6 255.9h0.5v0.5h-0.5zM32.0 244.7h0.5v0.5h-0.5zM38.1 254.5h0.5v0.5h-0.5zM31.3 245.2h0.5v0.5h-0.5zM43.7 262.0h0.5v0.5h-0.5zM35.8 248.1h0.5v0.5h-0.5zM34.7 273.6h0.5v0.5h-0.5zM43.2 253.2h0.5v0.5h-0.5zM46.8 272.1h0.5v0.5h-0.5zM48.0 242.3h0.5v0.5h-0.5zM39.2 250.5h0.5v0.5h-0.5zM37.3 244.0h0.5v0.5h-0.5zM37.0 245.0h0.5v0.5h-0.5zM42.1 254.1h0.5v0.5h-0.5zM29.8 240.0h0.5v0.5h-0.5zM36.4 258.9h0.5v0.5h-0.5zM43.2 253.2h0.5v0.5h-0.5zM16.6 249.7h0.5v0.5h-0.5zM34.5 251.0h0.5v0.5h-0.5zM31.2 250.2h0.5v0.5h-0.5zM35.1 275.5h0.5v0.5h-0.5zM44.7 252.1h0.5v0.5h-0.5zM39.4 252.7h0.5v0.5h-0.5zM41.0 250.4h0.5v0.5h-0.5zM39.6 261.9h0.5v0.5h-0.5z" fill="#333" fill-opacity="0.4" clip-path="url(#cp7)"/>
<path d="M44.6 252.8h0.56v0.56h-0.56zM46.8 252.2h0.56v0.56h-0.56zM36.4 239.3h0.56v0.56h-0.56zM37.7 250.3h0.56v0.56h-0.56zM42.6 257.8h0.56v0.56h-0.56zM38.2 245.5h0.56v0.56h-0.56zM44.3 258.4h0.56v0.56h-0.56zM38.7 252.9h0.56v0.56h-0.56zM47.0 252.8h0.56v0.56h-0.56zM40.6 237.2h0.56v0.56h-0.56zM46.8 254.9h0.56v0.56h-0.56zM41.4 247.7h0.56v0.56h-0.56zM35.2 250.1h0.56v0.56h-0.56zM40.3 257.9h0.56v0.56h-0.56zM35.4 260.1h0.56v0.56h-0.56zM41.0 258.5h0.56v0.56h-0.56zM36.4 253.0h0.56v0.56h-0.56zM46.3 251.5h0.56v0.56h-0.56zM34.2 248.6h0.56v0.56h-0.56zM43.2 241.6h0.56v0.56h-0.56zM34.3 252.3h0.56v0.56h-0.56zM36.5 255.2h0.56v0.56h-0.56zM35.5 238.8h0.56v0.56h-0.56zM37.3 260.5h0.56v0.56h-0.56zM36.9 250.7h0.56v0.56h-0.56zM41.9 244.6h0.56v0.56h-0.56zM45.7 251.9h0.56v0.56h-0.56zM42.8 239.8h0.56v0.56h-0.56zM32.9 232.8h0.56v0.56h-0.56zM40.0 249.3h0.56v0.56h-0.56zM44.1 260.4h0.56v0.56h-0.56zM39.7 249.0h0.56v0.56h-0.56zM42.9 260.7h0.56v0.56h-0.56zM37.1 254.8h0.56v0.56h-0.56zM39.7 248.6h0.56v0.56h-0.56zM44.5 245.6h0.56v0.56h-0.56zM36.0 255.1h0.56v0.56h-0.56zM40.7 249.0h0.56v0.56h-0.56zM40.2 254.0h0.56v0.56h-0.56zM39.2 255.7h0.56v0.56h-0.56zM42.7 260.4h0.56v0.56h-0.56zM46.5 256.3h0.56v0.56h-0.56zM39.9 251.5h0.56v0.56h-0.56zM38.2 269.3h0.56v0.56h-0.56zM39.8 254.4h0.56v0.56h-0.56zM47.0 241.9h0.56v0.56h-0.56zM37.1 248.2h0.56v0.56h-0.56zM36.4 242.5h0.56v0.56h-0.56zM38.5 259.2h0.56v0.56h-0.56zM44.1 251.0h0.56v0.56h-0.56zM41.0 240.0h0.56v0.56h-0.56zM44.0 253.6h0.56v0.56h-0.56zM36.0 252.1h0.56v0.56h-0.56zM40.0 247.4h0.56v0.56h-0.56zM36.4 246.4h0.56v0.56h-0.56zM36.6 253.8h0.56v0.56h-0.56zM42.5 252.9h0.56v0.56h-0.56zM40.0 248.1h0.56v0.56h-0.56zM50.1 238.7h0.56v0.56h-0.56zM46.2 253.1h0.56v0.56h-0.56zM41.2 247.5h0.56v0.56h-0.56zM39.9 243.1h0.56v0.56h-0.56zM34.6 250.1h0.56v0.56h-0.56zM33.4 256.3h0.56v0.56h-0.56zM45.9 228.4h0.56v0.56h-0.56zM33.9 252.6h0.56v0.56h-0.56zM41.8 251.5h0.56v0.56h-0.56zM42.8 255.7h0.56v0.56h-0.56zM44.8 262.5h0.56v0.56h-0.56zM41.0 256.4h0.56v0.56h-0.56zM33.6 250.0h0.56v0.56h-0.56zM35.4 259.9h0.56v0.56h-0.56zM51.4 254.3h0.56v0.56h-0.56zM35.0 250.1h0.56v0.56h-0.56zM41.0 252.1h0.56v0.56h-0.56zM45.8 257.0h0.56v0.56h-0.56zM29.0 259.7h0.56v0.56h-0.56zM38.7 247.2h0.56v0.56h-0.56zM47.3 249.1h0.56v0.56h-0.56zM34.7 242.2h0.56v0.56h-0.56zM41.2 256.7h0.56v0.56h-0.56zM47.6 249.7h0.56v0.56h-0.56zM38.8 261.4h0.56v0.56h-0.56zM38.8 260.3h0.56v0.56h-0.56zM42.0 252.4h0.56v0.56h-0.56zM39.8 252.8h0.56v0.56h-0.56zM38.8 246.4h0.56v0.56h-0.56zM40.3 246.6h0.56v0.56h-0.56zM42.3 251.4h0.56v0.56h-0.56zM39.7 249.6h0.56v0.56h-0.56zM39.9 262.2h0.56v0.56h-0.56zM40.9 247.0h0.56v0.56h-0.56zM39.6 255.2h0.56v0.56h-0.56zM40.0 249.9h0.56v0.56h-0.56zM39.7 251.9h0.56v0.56h-0.56zM42.7 253.7h0.56v0.56h-0.56zM33.5 243.9h0.56v0.56h-0.56zM29.1 256.1h0.56v0.56h-0.56zM45.9 259.3h0.56v0.56h-0.56zM41.5 258.3h0.56v0.56h-0.56zM40.7 250.1h0.56v0.56h-0.56zM34.0 245.8h0.56v0.56h-0.56zM38.2 256.8h0.56v0.56h-0.56zM48.4 247.8h0.56v0.56h-0.56zM42.6 252.6h0.56v0.56h-0.56zM37.4 239.7h0.56v0.56h-0.56zM37.5 241.5h0.56v0.56h-0.56zM39.5 249.9h0.56v0.56h-0.56zM40.1 249.7h0.56v0.56h-0.56zM43.1 244.8h0.56v0.56h-0.56zM44.9 240.0h0.56v0.56h-0.56zM41.2 253.4h0.56v0.56h-0.56zM37.3 240.5h0.56v0.56h-0.56zM43.7 246.5h0.56v0.56h-0.56zM44.4 255.8h0.56v0.56h-0.56zM40.9 250.8h0.56v0.56h-0.56zM45.3 253.3h0.56v0.56h-0.56zM36.7 251.9h0.56v0.56h-0.56zM43.4 252.1h0.56v0.56h-0.56zM41.7 249.9h0.56v0.56h-0.56zM40.3 244.8h0.56v0.56h-0.56zM34.5 258.1h0.56v0.56h-0.56zM38.0 252.3h0.56v0.56h-0.56zM34.1 251.8h0.56v0.56h-0.56zM37.2 270.0h0.56v0.56h-0.56zM36.3 244.6h0.56v0.56h-0.56zM45.1 258.2h0.56v0.56h-0.56zM31.4 252.5h0.56v0.56h-0.56zM44.8 242.9h0.56v0.56h-0.56zM43.9 247.4h0.56v0.56h-0.56zM36.4 248.5h0.56v0.56h-0.56zM38.8 241.8h0.56v0.56h-0.56zM50.9 247.9h0.56v0.56h-0.56zM37.5 256.3h0.56v0.56h-0.56zM40.5 259.4h0.56v0.56h-0.56zM39.7 253.1h0.56v0.56h-0.56zM41.3 251.9h0.56v0.56h-0.56zM39.9 250.1h0.56v0.56h-0.56zM48.4 246.4h0.56v0.56h-0.56zM38.4 248.6h0.56v0.56h-0.56zM43.4 253.4h0.56v0.56h-0.56zM45.0 242.2h0.56v0.56h-0.56zM42.0 249.7h0.56v0.56h-0.56zM39.6 251.9h0.56v0.56h-0.56zM32.1 252.6h0.56v0.56h-0.56zM41.5 241.6h0.56v0.56h-0.56zM40.4 260.8h0.56v0.56h-0.56zM39.1 254.6h0.56v0.56h-0.56zM39.9 245.6h0.56v0.56h-0.56zM36.8 248.3h0.56v0.56h-0.56zM46.7 256.1h0.56v0.56h-0.56zM37.7 257.2h0.56v0.56h-0.56zM40.3 246.4h0.56v0.56h-0.56zM42.8 244.9h0.56v0.56h-0.56zM33.9 259.1h0.56v0.56h-0.56zM32.7 254.3h0.56v0.56h-0.56zM34.1 250.6h0.56v0.56h-0.56zM40.0 248.0h0.56v0.56h-0.56zM31.1 250.1h0.56v0.56h-0.56zM40.7 245.0h0.56v0.56h-0.56zM40.6 257.2h0.56v0.56h-0.56zM37.7 252.5h0.56v0.56h-0.56zM35.8 253.3h0.56v0.56h-0.56zM43.7 266.8h0.56v0.56h-0.56zM44.9 253.6h0.56v0.56h-0.56zM47.1 244.4h0.56v0.56h-0.56zM45.6 247.3h0.56v0.56h-0.56zM38.1 257.9h0.56v0.56h-0.56zM41.9 259.3h0.56v0.56h-0.56zM34.5 252.6h0.56v0.56h-0.56zM38.6 249.1h0.56v0.56h-0.56zM32.4 256.9h0.56v0.56h-0.56zM41.8 244.5h0.56v0.56h-0.56zM34.9 245.3h0.56v0.56h-0.56zM47.1 250.2h0.56v0.56h-0.56zM39.4 254.0h0.56v0.56h-0.56zM41.0 252.4h0.56v0.56h-0.56zM44.2 253.0h0.56v0.56h-0.56zM44.8 243.3h0.56v0.56h-0.56zM41.2 248.6h0.56v0.56h-0.56zM41.4 250.7h0.56v0.56h-0.56zM38.1 248.7h0.56v0.56h-0.56zM45.1 247.4h0.56v0.56h-0.56zM35.4 254.7h0.56v0.56h-0.56zM45.2 249.2h0.56v0.56h-0.56zM41.5 245.6h0.56v0.56h-0.56zM40.1 258.0h0.56v0.56h-0.56zM44.5 251.9h0.56v0.56h-0.56zM39.8 240.6h0.56v0.56h-0.56zM42.4 253.9h0.56v0.56h-0.56zM45.6 263.8h0.56v0.56h-0.56zM42.6 257.1h0.56v0.56h-0.56zM36.1 258.7h0.56v0.56h-0.56zM44.8 259.7h0.56v0.56h-0.56zM44.0 253.9h0.56v0.56h-0.56zM47.5 246.8h0.56v0.56h-0.56zM43.8 257.9h0.56v0.56h-0.56zM37.6 243.7h0.56v0.56h-0.56zM42.9 251.8h0.56v0.56h-0.56zM43.7 255.1h0.56v0.56h-0.56zM37.7 253.2h0.56v0.56h-0.56zM46.0 248.8h0.56v0.56h-0.56zM39.8 243.9h0.56v0.56h-0.56zM44.6 263.4h0.56v0.56h-0.56zM35.0 255.9h0.56v0.56h-0.56zM45.0 247.5h0.56v0.56h-0.56zM39.4 244.5h0.56v0.56h-0.56zM37.6 252.1h0.56v0.56h-0.56zM43.9 251.8h0.56v0.56h-0.56zM44.8 252.4h0.56v0.56h-0.56zM35.9 260.3h0.56v0.56h-0.56zM46.3 246.6h0.56v0.56h-0.56zM48.9 254.1h0.56v0.56h-0.56zM41.7 263.3h0.56v0.56h-0.56zM30.1 241.0h0.56v0.56h-0.56zM44.2 249.6h0.56v0.56h-0.56zM36.9 260.7h0.56v0.56h-0.56zM43.2 243.1h0.56v0.56h-0.56zM38.2 256.5h0.56v0.56h-0.56zM48.9 238.5h0.56v0.56h-0.56zM42.2 248.7h0.56v0.56h-0.56zM33.4 250.1h0.56v0.56h-0.56zM34.1 247.8h0.56v0.56h-0.56zM48.2 254.4h0.56v0.56h-0.56zM44.6 255.0h0.56v0.56h-0.56zM42.7 257.4h0.56v0.56h-0.56zM36.0 248.9h0.56v0.56h-0.56zM44.9 246.6h0.56v0.56h-0.56zM39.2 258.9h0.56v0.56h-0.56zM47.9 247.4h0.56v0.56h-0.56zM37.6 254.9h0.56v0.56h-0.56zM42.3 247.0h0.56v0.56h-0.56zM43.8 254.8h0.56v0.56h-0.56zM41.5 269.9h0.56v0.56h-0.56zM47.1 256.4h0.56v0.56h-0.56zM45.7 270.0h0.56v0.56h-0.56zM46.0 246.7h0.56v0.56h-0.56zM42.6 251.7h0.56v0.56h-0.56zM38.7 252.9h0.56v0.56h-0.56zM42.3 250.9h0.56v0.56h-0.56zM39.0 256.5h0.56v0.56h-0.56zM34.2 256.5h0.56v0.56h-0.56zM41.2 253.0h0.56v0.56h-0.56zM30.7 261.9h0.56v0.56h-0.56zM33.6 245.8h0.56v0.56h-0.56zM44.0 247.4h0.56v0.56h-0.56zM39.4 237.1h0.56v0.56h-0.56zM39.3 252.6h0.56v0.56h-0.56zM44.2 249.5h0.56v0.56h-0.56zM42.2 254.1h0.56v0.56h-0.56zM38.2 246.5h0.56v0.56h-0.56zM49.8 245.9h0.56v0.56h-0.56zM46.6 251.7h0.56v0.56h-0.56zM47.7 247.2h0.56v0.56h-0.56zM43.5 253.4h0.56v0.56h-0.56zM40.2 253.3h0.56v0.56h-0.56zM37.8 250.8h0.56v0.56h-0.56zM39.4 256.1h0.56v0.56h-0.56zM40.8 242.4h0.56v0.56h-0.56zM39.6 250.7h0.56v0.56h-0.56zM37.2 259.8h0.56v0.56h-0.56zM43.0 256.7h0.56v0.56h-0.56zM37.8 248.8h0.56v0.56h-0.56zM45.7 242.2h0.56v0.56h-0.56zM42.8 251.9h0.56v0.56h-0.56zM39.0 251.9h0.56v0.56h-0.56zM36.5 252.7h0.56v0.56h-0.56zM35.8 243.2h0.56v0.56h-0.56zM47.4 246.8h0.56v0.56h-0.56zM31.9 257.5h0.56v0.56h-0.56zM37.8 228.8h0.56v0.56h-0.56zM40.9 257.2h0.56v0.56h-0.56zM42.8 262.3h0.56v0.56h-0.56zM40.7 255.1h0.56v0.56h-0.56zM36.8 252.3h0.56v0.56h-0.56zM48.0 254.5h0.56v0.56h-0.56zM41.9 238.7h0.56v0.56h-0.56zM39.5 243.1h0.56v0.56h-0.56zM44.6 246.6h0.56v0.56h-0.56zM42.8 244.9h0.56v0.56h-0.56zM49.6 243.8h0.56v0.56h-0.56zM41.8 268.1h0.56v0.56h-0.56zM42.2 245.7h0.56v0.56h-0.56zM43.9 257.6h0.56v0.56h-0.56zM45.1 238.7h0.56v0.56h-0.56zM42.2 237.7h0.56v0.56h-0.56zM49.6 251.8h0.56v0.56h-0.56zM39.2 255.6h0.56v0.56h-0.56zM43.4 243.7h0.56v0.56h-0.56zM48.4 249.8h0.56v0.56h-0.56zM33.4 260.3h0.56v0.56h-0.56zM48.0 259.4h0.56v0.56h-0.56zM43.7 245.6h0.56v0.56h-0.56zM45.4 263.3h0.56v0.56h-0.56zM44.8 261.6h0.56v0.56h-0.56zM37.8 257.9h0.56v0.56h-0.56zM45.4 241.7h0.56v0.56h-0.56zM34.0 246.7h0.56v0.56h-0.56zM41.6 254.2h0.56v0.56h-0.56zM40.2 250.9h0.56v0.56h-0.56zM40.7 251.9h0.56v0.56h-0.56zM43.8 254.5h0.56v0.56h-0.56zM41.0 253.0h0.56v0.56h-0.56zM39.2 256.5h0.56v0.56h-0.56zM39.0 261.9h0.56v0.56h-0.56zM41.1 253.1h0.56v0.56h-0.56zM37.8 249.1h0.56v0.56h-0.56zM42.0 251.5h0.56v0.56h-0.56zM38.5 243.9h0.56v0.56h-0.56zM41.4 252.3h0.56v0.56h-0.56zM43.7 259.4h0.56v0.56h-0.56zM39.8 238.5h0.56v0.56h-0.56zM40.6 239.4h0.56v0.56h-0.56zM35.5 258.0h0.56v0.56h-0.56zM43.8 247.2h0.56v0.56h-0.56zM38.4 250.8h0.56v0.56h-0.56zM33.4 254.5h0.56v0.56h-0.56zM39.7 263.2h0.56v0.56h-0.56zM36.5 257.8h0.56v0.56h-0.56zM38.2 258.0h0.56v0.56h-0.56zM36.9 256.1h0.56v0.56h-0.56zM39.3 246.0h0.56v0.56h-0.56zM40.6 254.4h0.56v0.56h-0.56zM43.1 261.6h0.56v0.56h-0.56zM44.9 234.3h0.56v0.56h-0.56zM39.5 238.5h0.56v0.56h-0.56zM39.5 255.4h0.56v0.56h-0.56zM35.3 243.7h0.56v0.56h-0.56zM41.9 249.5h0.56v0.56h-0.56zM48.3 253.5h0.56v0.56h-0.56zM43.6 262.7h0.56v0.56h-0.56zM39.0 251.4h0.56v0.56h-0.56zM36.8 253.0h0.56v0.56h-0.56zM45.9 260.2h0.56v0.56h-0.56zM41.1 246.8h0.56v0.56h-0.56zM37.8 242.3h0.56v0.56h-0.56zM41.8 260.2h0.56v0.56h-0.56zM30.6 237.3h0.56v0.56h-0.56zM47.6 240.9h0.56v0.56h-0.56zM42.8 243.2h0.56v0.56h-0.56zM44.8 256.5h0.56v0.56h-0.56zM42.0 256.8h0.56v0.56h-0.56zM41.5 255.1h0.56v0.56h-0.56zM49.5 258.5h0.56v0.56h-0.56zM38.3 246.2h0.56v0.56h-0.56zM40.2 249.9h0.56v0.56h-0.56zM41.6 247.5h0.56v0.56h-0.56zM44.2 251.7h0.56v0.56h-0.56zM42.9 251.5h0.56v0.56h-0.56zM44.1 243.7h0.56v0.56h-0.56zM48.4 253.7h0.56v0.56h-0.56zM43.3 255.4h0.56v0.56h-0.56zM46.2 256.2h0.56v0.56h-0.56zM42.4 250.3h0.56v0.56h-0.56zM33.9 252.9h0.56v0.56h-0.56zM39.9 249.4h0.56v0.56h-0.56zM52.1 239.4h0.56v0.56h-0.56zM41.6 259.4h0.56v0.56h-0.56zM45.7 259.5h0.56v0.56h-0.56zM35.6 245.2h0.56v0.56h-0.56zM44.1 249.6h0.56v0.56h-0.56zM49.0 253.0h0.56v0.56h-0.56zM42.2 254.4h0.56v0.56h-0.56zM40.1 252.3h0.56v0.56h-0.56zM38.3 251.3h0.56v0.56h-0.56zM39.2 253.2h0.56v0.56h-0.56zM35.0 241.8h0.56v0.56h-0.56zM43.4 253.0h0.56v0.56h-0.56zM37.0 250.1h0.56v0.56h-0.56zM36.7 264.8h0.56v0.56h-0.56zM34.3 262.7h0.56v0.56h-0.56zM37.7 254.3h0.56v0.56h-0.56zM40.2 249.1h0.56v0.56h-0.56zM45.6 256.9h0.56v0.56h-0.56zM40.1 245.7h0.56v0.56h-0.56zM50.7 260.7h0.56v0.56h-0.56zM42.0 249.6h0.56v0.56h-0.56zM42.7 252.1h0.56v0.56h-0.56zM46.8 245.3h0.56v0.56h-0.56zM41.5 246.5h0.56v0.56h-0.56zM47.3 263.3h0.56v0.56h-0.56zM41.0 255.1h0.56v0.56h-0.56zM47.7 249.6h0.56v0.56h-0.56zM37.2 258.3h0.56v0.56h-0.56zM43.7 250.2h0.56v0.56h-0.56zM48.0 253.1h0.56v0.56h-0.56zM33.4 253.8h0.56v0.56h-0.56zM41.1 263.8h0.56v0.56h-0.56zM41.3 250.3h0.56v0.56h-0.56zM43.4 253.2h0.56v0.56h-0.56zM35.1 252.4h0.56v0.56h-0.56zM39.9 260.7h0.56v0.56h-0.56zM52.2 244.3h0.56v0.56h-0.56zM37.1 246.1h0.56v0.56h-0.56zM38.5 247.1h0.56v0.56h-0.56zM41.7 258.7h0.56v0.56h-0.56zM35.6 241.6h0.56v0.56h-0.56zM33.1 258.8h0.56v0.56h-0.56zM47.4 241.6h0.56v0.56h-0.56zM34.1 252.5h0.56v0.56h-0.56zM46.3 258.2h0.56v0.56h-0.56zM42.3 256.0h0.56v0.56h-0.56zM42.9 248.0h0.56v0.56h-0.56zM50.0 251.6h0.56v0.56h-0.56zM36.4 248.6h0.56v0.56h-0.56zM34.5 251.7h0.56v0.56h-0.56zM46.4 243.4h0.56v0.56h-0.56zM46.5 265.2h0.56v0.56h-0.56zM43.1 244.1h0.56v0.56h-0.56zM37.6 249.4h0.56v0.56h-0.56zM35.7 243.5h0.56v0.56h-0.56zM40.3 250.4h0.56v0.56h-0.56zM44.2 243.8h0.56v0.56h-0.56zM49.9 258.5h0.56v0.56h-0.56zM45.4 247.4h0.56v0.56h-0.56zM49.3 249.4h0.56v0.56h-0.56zM49.6 258.6h0.56v0.56h-0.56zM37.4 248.7h0.56v0.56h-0.56zM49.9 258.1h0.56v0.56h-0.56zM40.7 252.9h0.56v0.56h-0.56zM42.3 246.6h0.56v0.56h-0.56zM40.5 247.3h0.56v0.56h-0.56zM39.5 254.7h0.56v0.56h-0.56zM37.1 256.3h0.56v0.56h-0.56zM41.9 256.6h0.56v0.56h-0.56zM45.4 259.7h0.56v0.56h-0.56zM44.3 256.2h0.56v0.56h-0.56zM40.6 255.3h0.56v0.56h-0.56zM37.4 250.0h0.56v0.56h-0.56zM44.8 251.3h0.56v0.56h-0.56zM43.4 244.7h0.56v0.56h-0.56zM47.6 247.9h0.56v0.56h-0.56zM43.2 251.5h0.56v0.56h-0.56zM45.6 249.1h0.56v0.56h-0.56zM36.9 239.3h0.56v0.56h-0.56zM40.0 243.8h0.56v0.56h-0.56zM43.8 261.0h0.56v0.56h-0.56zM31.4 243.2h0.56v0.56h-0.56zM42.8 259.7h0.56v0.56h-0.56zM42.8 253.7h0.56v0.56h-0.56zM43.7 255.4h0.56v0.56h-0.56zM48.8 255.6h0.56v0.56h-0.56zM35.8 248.5h0.56v0.56h-0.56zM42.4 246.3h0.56v0.56h-0.56zM40.2 248.2h0.56v0.56h-0.56zM38.3 256.1h0.56v0.56h-0.56zM39.7 244.5h0.56v0.56h-0.56zM38.2 251.9h0.56v0.56h-0.56zM51.0 253.3h0.56v0.56h-0.56zM48.1 254.8h0.56v0.56h-0.56zM31.7 254.1h0.56v0.56h-0.56zM37.6 242.8h0.56v0.56h-0.56zM36.6 263.3h0.56v0.56h-0.56zM34.3 247.6h0.56v0.56h-0.56zM46.7 256.0h0.56v0.56h-0.56zM33.7 250.9h0.56v0.56h-0.56zM39.1 250.3h0.56v0.56h-0.56zM44.8 247.8h0.56v0.56h-0.56zM40.0 261.2h0.56v0.56h-0.56zM33.1 249.2h0.56v0.56h-0.56zM43.5 243.4h0.56v0.56h-0.56zM38.6 243.0h0.56v0.56h-0.56zM42.1 247.5h0.56v0.56h-0.56zM45.0 258.3h0.56v0.56h-0.56zM41.6 249.1h0.56v0.56h-0.56zM42.6 252.0h0.56v0.56h-0.56zM35.9 258.6h0.56v0.56h-0.56zM42.4 256.8h0.56v0.56h-0.56zM35.2 257.3h0.56v0.56h-0.56zM51.0 255.6h0.56v0.56h-0.56zM34.8 251.8h0.56v0.56h-0.56zM41.1 253.0h0.56v0.56h-0.56zM40.3 254.8h0.56v0.56h-0.56zM39.3 253.1h0.56v0.56h-0.56zM38.3 252.2h0.56v0.56h-0.56zM45.9 248.4h0.56v0.56h-0.56zM44.4 245.8h0.56v0.56h-0.56zM39.7 250.0h0.56v0.56h-0.56zM47.1 246.5h0.56v0.56h-0.56zM46.9 242.0h0.56v0.56h-0.56zM40.7 257.6h0.56v0.56h-0.56zM44.5 244.9h0.56v0.56h-0.56zM35.8 257.3h0.56v0.56h-0.56zM35.7 255.4h0.56v0.56h-0.56zM39.0 251.5h0.56v0.56h-0.56zM51.9 261.7h0.56v0.56h-0.56zM45.2 242.5h0.56v0.56h-0.56zM42.8 251.9h0.56v0.56h-0.56zM40.9 260.3h0.56v0.56h-0.56zM33.6 253.6h0.56v0.56h-0.56zM42.0 246.6h0.56v0.56h-0.56zM49.2 243.2h0.56v0.56h-0.56zM41.5 252.1h0.56v0.56h-0.56zM31.4 242.1h0.56v0.56h-0.56zM37.0 256.7h0.56v0.56h-0.56zM45.7 255.4h0.56v0.56h-0.56zM42.5 237.1h0.56v0.56h-0.56zM42.3 248.1h0.56v0.56h-0.56zM46.7 260.4h0.56v0.56h-0.56zM51.6 256.2h0.56v0.56h-0.56z" fill="#222" fill-opacity="0.4" clip-path="url(#cp7)"/>
<g clip-path="url(#cp7)"><path d="M36.5 249 L48 248.5 L42.5 262 Z" fill="#000" fill-opacity="0.85" filter="url(#b1)"/></g>
<path d="M44.7 250.9h0.7v0.7h-0.7zM42.7 250.3h0.7v0.7h-0.7zM44.9 250.4h0.7v0.7h-0.7zM41.9 251.6h0.7v0.7h-0.7zM41.3 255.7h0.7v0.7h-0.7zM41.0 255.0h0.7v0.7h-0.7zM39.9 258.8h0.7v0.7h-0.7zM40.8 257.5h0.7v0.7h-0.7zM48.1 246.3h0.7v0.7h-0.7zM39.9 253.6h0.7v0.7h-0.7zM45.6 252.7h0.7v0.7h-0.7zM43.5 251.9h0.7v0.7h-0.7zM44.0 250.3h0.7v0.7h-0.7zM44.7 244.5h0.7v0.7h-0.7zM37.5 260.1h0.7v0.7h-0.7zM42.9 251.3h0.7v0.7h-0.7zM48.3 257.7h0.7v0.7h-0.7zM45.5 252.9h0.7v0.7h-0.7zM44.1 255.9h0.7v0.7h-0.7zM38.1 256.2h0.7v0.7h-0.7zM42.0 258.4h0.7v0.7h-0.7zM45.9 252.1h0.7v0.7h-0.7zM40.9 254.9h0.7v0.7h-0.7zM44.2 252.9h0.7v0.7h-0.7zM42.2 256.2h0.7v0.7h-0.7zM43.6 258.0h0.7v0.7h-0.7zM43.1 251.3h0.7v0.7h-0.7zM37.8 256.9h0.7v0.7h-0.7zM41.6 253.1h0.7v0.7h-0.7zM41.7 249.1h0.7v0.7h-0.7zM41.4 245.7h0.7v0.7h-0.7zM41.4 251.3h0.7v0.7h-0.7zM47.4 255.7h0.7v0.7h-0.7zM41.9 254.7h0.7v0.7h-0.7zM44.4 251.7h0.7v0.7h-0.7zM41.9 253.1h0.7v0.7h-0.7zM49.1 254.5h0.7v0.7h-0.7zM37.2 256.8h0.7v0.7h-0.7zM49.4 251.1h0.7v0.7h-0.7zM51.7 254.0h0.7v0.7h-0.7zM45.1 252.4h0.7v0.7h-0.7zM41.8 250.2h0.7v0.7h-0.7zM39.6 247.2h0.7v0.7h-0.7zM45.5 250.4h0.7v0.7h-0.7zM43.5 255.3h0.7v0.7h-0.7zM40.7 254.4h0.7v0.7h-0.7zM42.2 252.6h0.7v0.7h-0.7zM42.6 254.4h0.7v0.7h-0.7zM39.7 249.9h0.7v0.7h-0.7zM40.2 254.6h0.7v0.7h-0.7zM46.2 259.0h0.7v0.7h-0.7zM43.3 257.3h0.7v0.7h-0.7zM42.8 257.8h0.7v0.7h-0.7zM42.8 255.5h0.7v0.7h-0.7zM41.7 254.2h0.7v0.7h-0.7zM47.5 250.2h0.7v0.7h-0.7zM42.5 252.2h0.7v0.7h-0.7zM45.0 260.2h0.7v0.7h-0.7zM41.6 245.0h0.7v0.7h-0.7zM44.1 256.2h0.7v0.7h-0.7zM37.9 253.4h0.7v0.7h-0.7zM42.3 246.5h0.7v0.7h-0.7zM44.3 255.6h0.7v0.7h-0.7zM43.1 250.7h0.7v0.7h-0.7zM40.5 252.1h0.7v0.7h-0.7zM43.7 250.9h0.7v0.7h-0.7zM46.4 255.4h0.7v0.7h-0.7zM36.6 259.8h0.7v0.7h-0.7zM42.9 252.3h0.7v0.7h-0.7zM42.7 248.1h0.7v0.7h-0.7zM42.9 246.0h0.7v0.7h-0.7zM39.7 258.7h0.7v0.7h-0.7zM45.8 253.0h0.7v0.7h-0.7zM39.8 257.3h0.7v0.7h-0.7zM42.3 254.9h0.7v0.7h-0.7zM44.1 250.6h0.7v0.7h-0.7zM44.6 247.1h0.7v0.7h-0.7zM46.4 248.9h0.7v0.7h-0.7zM40.7 251.9h0.7v0.7h-0.7zM44.4 256.6h0.7v0.7h-0.7zM43.4 255.9h0.7v0.7h-0.7zM43.7 253.9h0.7v0.7h-0.7zM37.2 246.5h0.7v0.7h-0.7zM36.2 254.0h0.7v0.7h-0.7zM41.8 253.7h0.7v0.7h-0.7zM43.0 253.3h0.7v0.7h-0.7zM39.7 249.1h0.7v0.7h-0.7zM37.3 258.2h0.7v0.7h-0.7zM44.9 249.6h0.7v0.7h-0.7zM41.7 255.6h0.7v0.7h-0.7zM46.7 252.1h0.7v0.7h-0.7zM42.9 258.0h0.7v0.7h-0.7zM37.7 251.7h0.7v0.7h-0.7zM42.3 251.7h0.7v0.7h-0.7zM48.1 257.0h0.7v0.7h-0.7zM42.9 250.9h0.7v0.7h-0.7zM44.7 256.2h0.7v0.7h-0.7zM41.0 252.7h0.7v0.7h-0.7zM38.4 253.8h0.7v0.7h-0.7zM44.7 257.4h0.7v0.7h-0.7zM44.0 256.9h0.7v0.7h-0.7zM40.8 252.5h0.7v0.7h-0.7zM45.6 255.6h0.7v0.7h-0.7zM40.2 255.8h0.7v0.7h-0.7zM44.6 256.5h0.7v0.7h-0.7zM42.7 252.4h0.7v0.7h-0.7zM43.5 259.8h0.7v0.7h-0.7zM42.8 251.9h0.7v0.7h-0.7zM43.3 250.0h0.7v0.7h-0.7zM43.0 253.1h0.7v0.7h-0.7zM45.0 254.4h0.7v0.7h-0.7zM45.2 261.8h0.7v0.7h-0.7zM41.8 251.3h0.7v0.7h-0.7zM43.6 253.8h0.7v0.7h-0.7zM42.7 252.1h0.7v0.7h-0.7zM43.9 254.3h0.7v0.7h-0.7zM36.5 253.3h0.7v0.7h-0.7zM43.3 258.0h0.7v0.7h-0.7zM40.8 251.4h0.7v0.7h-0.7zM45.5 252.0h0.7v0.7h-0.7zM42.6 255.6h0.7v0.7h-0.7zM44.4 254.1h0.7v0.7h-0.7zM39.4 257.4h0.7v0.7h-0.7zM41.2 252.3h0.7v0.7h-0.7zM47.8 257.0h0.7v0.7h-0.7zM39.5 252.5h0.7v0.7h-0.7zM41.7 251.6h0.7v0.7h-0.7zM37.2 256.7h0.7v0.7h-0.7zM44.5 254.9h0.7v0.7h-0.7zM41.3 254.8h0.7v0.7h-0.7zM44.1 250.6h0.7v0.7h-0.7zM41.5 252.2h0.7v0.7h-0.7zM44.2 254.9h0.7v0.7h-0.7zM38.8 252.0h0.7v0.7h-0.7zM47.1 250.8h0.7v0.7h-0.7zM42.8 252.0h0.7v0.7h-0.7zM45.7 253.8h0.7v0.7h-0.7zM41.2 250.2h0.7v0.7h-0.7zM41.7 256.8h0.7v0.7h-0.7zM44.2 249.7h0.7v0.7h-0.7zM46.5 253.2h0.7v0.7h-0.7zM39.5 254.5h0.7v0.7h-0.7zM40.7 252.1h0.7v0.7h-0.7zM40.6 253.7h0.7v0.7h-0.7zM41.0 248.4h0.7v0.7h-0.7zM43.7 252.3h0.7v0.7h-0.7zM45.6 255.8h0.7v0.7h-0.7zM44.0 254.6h0.7v0.7h-0.7zM45.8 253.0h0.7v0.7h-0.7zM39.7 255.2h0.7v0.7h-0.7zM35.0 252.8h0.7v0.7h-0.7zM42.9 252.7h0.7v0.7h-0.7zM45.7 256.4h0.7v0.7h-0.7zM42.6 252.7h0.7v0.7h-0.7zM45.3 251.8h0.7v0.7h-0.7zM41.2 256.5h0.7v0.7h-0.7zM43.9 260.8h0.7v0.7h-0.7zM41.7 247.8h0.7v0.7h-0.7zM44.1 258.2h0.7v0.7h-0.7zM41.9 259.2h0.7v0.7h-0.7zM47.1 251.8h0.7v0.7h-0.7zM41.0 249.9h0.7v0.7h-0.7zM43.8 256.4h0.7v0.7h-0.7zM43.9 249.9h0.7v0.7h-0.7zM40.3 249.3h0.7v0.7h-0.7zM38.0 249.6h0.7v0.7h-0.7zM38.1 253.4h0.7v0.7h-0.7zM43.4 256.1h0.7v0.7h-0.7zM42.3 251.8h0.7v0.7h-0.7zM42.3 255.9h0.7v0.7h-0.7zM41.5 254.2h0.7v0.7h-0.7zM41.5 252.3h0.7v0.7h-0.7zM42.4 250.3h0.7v0.7h-0.7zM45.1 248.9h0.7v0.7h-0.7zM43.5 249.5h0.7v0.7h-0.7zM46.4 256.9h0.7v0.7h-0.7zM40.1 252.5h0.7v0.7h-0.7zM39.3 253.8h0.7v0.7h-0.7zM43.4 262.4h0.7v0.7h-0.7zM38.6 258.1h0.7v0.7h-0.7zM40.7 254.9h0.7v0.7h-0.7zM44.7 255.8h0.7v0.7h-0.7zM43.4 253.4h0.7v0.7h-0.7zM42.3 254.5h0.7v0.7h-0.7zM45.5 249.2h0.7v0.7h-0.7zM41.0 249.9h0.7v0.7h-0.7zM39.7 251.4h0.7v0.7h-0.7zM45.2 261.1h0.7v0.7h-0.7zM45.9 250.1h0.7v0.7h-0.7zM42.5 250.3h0.7v0.7h-0.7zM43.5 258.2h0.7v0.7h-0.7zM43.9 256.9h0.7v0.7h-0.7zM41.9 247.5h0.7v0.7h-0.7zM37.0 253.7h0.7v0.7h-0.7zM43.8 258.2h0.7v0.7h-0.7zM41.4 254.2h0.7v0.7h-0.7zM43.0 257.5h0.7v0.7h-0.7zM42.1 250.4h0.7v0.7h-0.7zM45.2 255.4h0.7v0.7h-0.7zM43.3 249.8h0.7v0.7h-0.7zM42.3 248.3h0.7v0.7h-0.7zM36.9 253.2h0.7v0.7h-0.7zM41.1 255.9h0.7v0.7h-0.7zM46.1 253.9h0.7v0.7h-0.7zM47.1 252.1h0.7v0.7h-0.7zM44.3 249.8h0.7v0.7h-0.7zM42.6 253.0h0.7v0.7h-0.7zM41.7 255.9h0.7v0.7h-0.7zM37.3 254.4h0.7v0.7h-0.7zM40.1 254.4h0.7v0.7h-0.7zM43.3 252.8h0.7v0.7h-0.7zM41.3 250.2h0.7v0.7h-0.7zM43.8 251.8h0.7v0.7h-0.7zM43.5 249.3h0.7v0.7h-0.7zM45.9 250.6h0.7v0.7h-0.7zM45.4 252.5h0.7v0.7h-0.7zM43.8 253.5h0.7v0.7h-0.7zM44.1 254.0h0.7v0.7h-0.7zM45.7 256.2h0.7v0.7h-0.7zM44.1 259.5h0.7v0.7h-0.7zM40.4 258.3h0.7v0.7h-0.7zM42.5 249.1h0.7v0.7h-0.7zM43.6 253.3h0.7v0.7h-0.7zM46.8 252.4h0.7v0.7h-0.7zM42.4 254.8h0.7v0.7h-0.7zM37.2 255.7h0.7v0.7h-0.7zM39.6 258.6h0.7v0.7h-0.7zM46.7 254.0h0.7v0.7h-0.7zM38.1 254.6h0.7v0.7h-0.7zM42.8 256.4h0.7v0.7h-0.7zM41.5 250.1h0.7v0.7h-0.7zM41.9 251.0h0.7v0.7h-0.7zM47.0 251.7h0.7v0.7h-0.7zM40.6 253.8h0.7v0.7h-0.7zM39.0 252.5h0.7v0.7h-0.7zM41.9 252.4h0.7v0.7h-0.7zM41.6 258.1h0.7v0.7h-0.7zM43.5 249.6h0.7v0.7h-0.7zM41.2 256.4h0.7v0.7h-0.7zM40.6 254.3h0.7v0.7h-0.7zM42.2 255.7h0.7v0.7h-0.7zM41.8 253.5h0.7v0.7h-0.7zM40.0 255.2h0.7v0.7h-0.7zM39.8 259.7h0.7v0.7h-0.7zM42.2 253.3h0.7v0.7h-0.7zM44.4 253.7h0.7v0.7h-0.7zM42.5 253.8h0.7v0.7h-0.7zM40.4 251.0h0.7v0.7h-0.7zM40.4 257.7h0.7v0.7h-0.7zM40.6 252.7h0.7v0.7h-0.7zM41.1 256.3h0.7v0.7h-0.7zM47.6 251.0h0.7v0.7h-0.7zM43.8 254.4h0.7v0.7h-0.7zM41.5 255.7h0.7v0.7h-0.7zM38.9 256.7h0.7v0.7h-0.7zM42.9 250.7h0.7v0.7h-0.7zM46.5 256.8h0.7v0.7h-0.7zM45.4 249.2h0.7v0.7h-0.7zM41.6 252.3h0.7v0.7h-0.7zM44.0 258.4h0.7v0.7h-0.7zM37.2 254.1h0.7v0.7h-0.7zM42.0 257.3h0.7v0.7h-0.7zM42.2 249.8h0.7v0.7h-0.7zM41.8 250.6h0.7v0.7h-0.7zM40.2 254.1h0.7v0.7h-0.7zM41.0 254.9h0.7v0.7h-0.7zM38.3 261.6h0.7v0.7h-0.7zM45.7 256.3h0.7v0.7h-0.7zM38.9 246.9h0.7v0.7h-0.7zM40.0 253.2h0.7v0.7h-0.7zM48.2 258.3h0.7v0.7h-0.7zM40.9 258.0h0.7v0.7h-0.7zM45.6 254.1h0.7v0.7h-0.7zM45.5 255.1h0.7v0.7h-0.7zM40.6 250.2h0.7v0.7h-0.7zM42.0 257.3h0.7v0.7h-0.7zM38.7 248.7h0.7v0.7h-0.7zM43.8 245.1h0.7v0.7h-0.7zM47.1 252.6h0.7v0.7h-0.7zM44.2 260.1h0.7v0.7h-0.7zM38.4 250.6h0.7v0.7h-0.7zM48.3 253.1h0.7v0.7h-0.7zM42.0 254.7h0.7v0.7h-0.7zM45.1 258.3h0.7v0.7h-0.7zM42.6 252.9h0.7v0.7h-0.7zM42.2 255.0h0.7v0.7h-0.7zM45.8 254.4h0.7v0.7h-0.7zM47.1 251.2h0.7v0.7h-0.7zM43.7 259.7h0.7v0.7h-0.7zM45.7 255.1h0.7v0.7h-0.7zM40.0 251.7h0.7v0.7h-0.7zM41.9 255.0h0.7v0.7h-0.7zM41.6 249.2h0.7v0.7h-0.7zM40.3 255.7h0.7v0.7h-0.7zM44.5 249.4h0.7v0.7h-0.7zM41.3 248.5h0.7v0.7h-0.7zM40.8 265.6h0.7v0.7h-0.7zM42.5 252.9h0.7v0.7h-0.7zM40.7 250.0h0.7v0.7h-0.7zM37.4 253.9h0.7v0.7h-0.7zM41.6 258.8h0.7v0.7h-0.7zM37.9 255.4h0.7v0.7h-0.7zM45.9 247.6h0.7v0.7h-0.7zM44.0 248.7h0.7v0.7h-0.7zM43.7 258.8h0.7v0.7h-0.7zM42.3 254.9h0.7v0.7h-0.7zM40.5 254.9h0.7v0.7h-0.7zM45.3 253.4h0.7v0.7h-0.7zM41.9 255.3h0.7v0.7h-0.7zM44.5 248.6h0.7v0.7h-0.7zM42.5 251.8h0.7v0.7h-0.7zM43.6 257.4h0.7v0.7h-0.7zM43.1 258.2h0.7v0.7h-0.7zM39.7 252.7h0.7v0.7h-0.7zM39.7 254.2h0.7v0.7h-0.7zM42.6 253.4h0.7v0.7h-0.7zM39.1 253.8h0.7v0.7h-0.7zM41.1 256.0h0.7v0.7h-0.7zM41.6 257.8h0.7v0.7h-0.7zM42.9 247.9h0.7v0.7h-0.7zM41.8 249.3h0.7v0.7h-0.7zM44.9 258.7h0.7v0.7h-0.7zM42.2 255.5h0.7v0.7h-0.7zM38.5 246.6h0.7v0.7h-0.7zM40.8 253.2h0.7v0.7h-0.7zM38.3 254.3h0.7v0.7h-0.7zM43.1 256.1h0.7v0.7h-0.7zM46.4 256.7h0.7v0.7h-0.7zM41.3 254.3h0.7v0.7h-0.7zM43.9 250.6h0.7v0.7h-0.7zM45.8 257.0h0.7v0.7h-0.7zM41.7 251.9h0.7v0.7h-0.7zM52.4 256.8h0.7v0.7h-0.7zM44.8 259.9h0.7v0.7h-0.7zM44.9 254.7h0.7v0.7h-0.7zM44.2 251.0h0.7v0.7h-0.7zM44.2 249.0h0.7v0.7h-0.7zM43.4 255.8h0.7v0.7h-0.7zM38.2 260.3h0.7v0.7h-0.7zM39.3 257.4h0.7v0.7h-0.7zM40.9 255.0h0.7v0.7h-0.7zM40.6 262.2h0.7v0.7h-0.7zM45.1 260.0h0.7v0.7h-0.7zM44.4 256.3h0.7v0.7h-0.7zM42.7 253.3h0.7v0.7h-0.7zM44.0 254.6h0.7v0.7h-0.7zM41.9 249.5h0.7v0.7h-0.7zM41.5 256.0h0.7v0.7h-0.7zM41.1 255.2h0.7v0.7h-0.7zM42.0 250.7h0.7v0.7h-0.7zM39.9 251.6h0.7v0.7h-0.7zM41.6 253.2h0.7v0.7h-0.7zM45.3 250.5h0.7v0.7h-0.7zM36.9 256.3h0.7v0.7h-0.7zM41.1 253.7h0.7v0.7h-0.7zM49.2 258.9h0.7v0.7h-0.7zM43.9 257.2h0.7v0.7h-0.7zM42.7 257.2h0.7v0.7h-0.7zM40.7 251.7h0.7v0.7h-0.7zM41.1 259.3h0.7v0.7h-0.7zM46.5 252.1h0.7v0.7h-0.7zM45.5 253.6h0.7v0.7h-0.7zM45.2 253.1h0.7v0.7h-0.7zM44.9 253.7h0.7v0.7h-0.7zM41.6 254.0h0.7v0.7h-0.7zM42.8 252.2h0.7v0.7h-0.7zM38.7 259.7h0.7v0.7h-0.7zM41.3 248.1h0.7v0.7h-0.7zM36.3 244.9h0.7v0.7h-0.7zM40.8 258.6h0.7v0.7h-0.7zM38.0 253.1h0.7v0.7h-0.7zM37.5 257.7h0.7v0.7h-0.7zM43.4 255.2h0.7v0.7h-0.7zM46.0 259.5h0.7v0.7h-0.7zM45.1 252.2h0.7v0.7h-0.7zM38.9 250.7h0.7v0.7h-0.7zM37.7 260.1h0.7v0.7h-0.7zM41.9 254.5h0.7v0.7h-0.7zM42.9 260.8h0.7v0.7h-0.7zM40.9 258.0h0.7v0.7h-0.7zM43.2 253.6h0.7v0.7h-0.7zM37.3 257.2h0.7v0.7h-0.7zM40.4 252.6h0.7v0.7h-0.7zM43.0 254.4h0.7v0.7h-0.7zM45.4 251.9h0.7v0.7h-0.7zM42.8 255.1h0.7v0.7h-0.7zM42.5 256.4h0.7v0.7h-0.7zM41.7 258.1h0.7v0.7h-0.7zM40.5 249.4h0.7v0.7h-0.7zM42.3 258.0h0.7v0.7h-0.7zM41.0 252.1h0.7v0.7h-0.7zM41.5 254.7h0.7v0.7h-0.7zM41.9 255.2h0.7v0.7h-0.7zM37.8 259.1h0.7v0.7h-0.7zM44.0 251.3h0.7v0.7h-0.7zM46.1 255.6h0.7v0.7h-0.7zM46.4 250.3h0.7v0.7h-0.7zM46.9 254.3h0.7v0.7h-0.7zM36.9 256.6h0.7v0.7h-0.7zM41.6 250.8h0.7v0.7h-0.7zM41.8 247.7h0.7v0.7h-0.7zM44.0 253.4h0.7v0.7h-0.7zM41.7 258.8h0.7v0.7h-0.7zM42.5 252.0h0.7v0.7h-0.7zM39.9 253.9h0.7v0.7h-0.7zM45.3 252.2h0.7v0.7h-0.7zM39.6 257.2h0.7v0.7h-0.7zM42.6 254.1h0.7v0.7h-0.7zM48.0 250.1h0.7v0.7h-0.7zM42.9 248.3h0.7v0.7h-0.7zM41.6 256.1h0.7v0.7h-0.7zM45.4 249.9h0.7v0.7h-0.7zM44.6 256.7h0.7v0.7h-0.7zM42.1 262.2h0.7v0.7h-0.7zM42.4 251.2h0.7v0.7h-0.7zM43.5 248.0h0.7v0.7h-0.7zM46.6 257.4h0.7v0.7h-0.7zM41.3 256.2h0.7v0.7h-0.7zM43.8 260.5h0.7v0.7h-0.7zM40.8 249.9h0.7v0.7h-0.7zM37.0 253.2h0.7v0.7h-0.7zM38.2 253.6h0.7v0.7h-0.7zM43.5 252.7h0.7v0.7h-0.7zM39.9 258.1h0.7v0.7h-0.7zM41.9 254.9h0.7v0.7h-0.7zM45.0 249.8h0.7v0.7h-0.7zM39.9 262.4h0.7v0.7h-0.7zM42.0 250.7h0.7v0.7h-0.7zM41.7 252.2h0.7v0.7h-0.7zM39.1 252.8h0.7v0.7h-0.7zM42.4 254.1h0.7v0.7h-0.7zM43.8 248.4h0.7v0.7h-0.7zM38.4 256.7h0.7v0.7h-0.7zM41.2 258.1h0.7v0.7h-0.7zM43.2 249.5h0.7v0.7h-0.7zM43.8 250.8h0.7v0.7h-0.7zM43.1 258.2h0.7v0.7h-0.7zM48.1 253.9h0.7v0.7h-0.7zM44.3 255.1h0.7v0.7h-0.7zM44.5 245.7h0.7v0.7h-0.7zM41.4 255.1h0.7v0.7h-0.7zM43.7 251.7h0.7v0.7h-0.7zM44.6 257.8h0.7v0.7h-0.7zM42.6 253.4h0.7v0.7h-0.7zM41.5 254.6h0.7v0.7h-0.7zM45.6 259.1h0.7v0.7h-0.7zM41.2 251.1h0.7v0.7h-0.7zM40.3 257.4h0.7v0.7h-0.7zM43.0 255.1h0.7v0.7h-0.7zM43.7 255.4h0.7v0.7h-0.7z" fill="#000" fill-opacity="0.7" clip-path="url(#cp7)"/>
<g clip-path="url(#cp7)"><ellipse cx="40.3" cy="244.8" rx="4.0" ry="4.6" fill="#f00" fill-opacity="0.6" filter="url(#b1p2)"/></g>
<path d="M40.1 241.7h0.7v0.7h-0.7zM38.8 245.3h0.7v0.7h-0.7zM41.5 243.8h0.7v0.7h-0.7zM39.3 249.1h0.7v0.7h-0.7zM39.2 245.6h0.7v0.7h-0.7zM39.6 242.3h0.7v0.7h-0.7zM36.4 243.3h0.7v0.7h-0.7zM38.2 247.5h0.7v0.7h-0.7zM37.3 243.7h0.7v0.7h-0.7zM42.2 244.6h0.7v0.7h-0.7zM41.7 247.5h0.7v0.7h-0.7zM36.0 243.7h0.7v0.7h-0.7zM37.9 249.1h0.7v0.7h-0.7zM40.1 246.4h0.7v0.7h-0.7zM44.9 243.8h0.7v0.7h-0.7zM40.6 246.2h0.7v0.7h-0.7zM39.7 248.8h0.7v0.7h-0.7zM42.6 248.0h0.7v0.7h-0.7zM40.5 243.9h0.7v0.7h-0.7zM39.5 243.8h0.7v0.7h-0.7zM36.0 246.0h0.7v0.7h-0.7zM42.6 244.9h0.7v0.7h-0.7zM39.1 245.0h0.7v0.7h-0.7zM41.0 245.9h0.7v0.7h-0.7zM45.2 242.3h0.7v0.7h-0.7zM41.4 247.0h0.7v0.7h-0.7zM40.6 244.2h0.7v0.7h-0.7zM37.7 243.1h0.7v0.7h-0.7zM42.3 249.3h0.7v0.7h-0.7zM38.7 246.4h0.7v0.7h-0.7zM41.8 248.0h0.7v0.7h-0.7zM41.0 246.3h0.7v0.7h-0.7zM42.8 241.4h0.7v0.7h-0.7zM40.5 239.5h0.7v0.7h-0.7zM35.2 242.4h0.7v0.7h-0.7zM36.3 246.5h0.7v0.7h-0.7zM43.0 244.0h0.7v0.7h-0.7zM40.0 244.2h0.7v0.7h-0.7zM39.7 245.3h0.7v0.7h-0.7zM41.3 243.5h0.7v0.7h-0.7zM38.3 243.3h0.7v0.7h-0.7zM42.5 243.6h0.7v0.7h-0.7zM44.2 244.2h0.7v0.7h-0.7zM44.0 241.3h0.7v0.7h-0.7zM38.6 246.4h0.7v0.7h-0.7zM41.7 244.4h0.7v0.7h-0.7zM45.7 245.1h0.7v0.7h-0.7zM41.1 243.2h0.7v0.7h-0.7zM44.7 247.5h0.7v0.7h-0.7zM41.5 240.0h0.7v0.7h-0.7zM41.3 243.5h0.7v0.7h-0.7zM41.4 247.7h0.7v0.7h-0.7zM38.4 245.6h0.7v0.7h-0.7zM42.7 245.4h0.7v0.7h-0.7zM39.5 241.7h0.7v0.7h-0.7zM38.6 241.1h0.7v0.7h-0.7zM43.0 245.2h0.7v0.7h-0.7zM37.2 244.9h0.7v0.7h-0.7zM37.0 235.0h0.7v0.7h-0.7zM43.5 248.4h0.7v0.7h-0.7zM36.5 242.7h0.7v0.7h-0.7zM40.9 243.7h0.7v0.7h-0.7zM38.2 243.3h0.7v0.7h-0.7zM39.8 243.2h0.7v0.7h-0.7zM40.9 244.2h0.7v0.7h-0.7zM38.4 245.0h0.7v0.7h-0.7zM36.0 249.2h0.7v0.7h-0.7zM35.8 244.6h0.7v0.7h-0.7zM41.3 246.1h0.7v0.7h-0.7zM41.1 248.7h0.7v0.7h-0.7zM37.4 244.7h0.7v0.7h-0.7zM40.8 243.4h0.7v0.7h-0.7zM38.8 248.8h0.7v0.7h-0.7zM38.5 243.4h0.7v0.7h-0.7zM39.7 244.2h0.7v0.7h-0.7zM40.8 244.3h0.7v0.7h-0.7zM41.3 245.3h0.7v0.7h-0.7zM41.6 249.0h0.7v0.7h-0.7zM38.2 249.8h0.7v0.7h-0.7zM39.2 246.9h0.7v0.7h-0.7zM40.8 244.0h0.7v0.7h-0.7zM35.3 249.7h0.7v0.7h-0.7zM38.4 242.5h0.7v0.7h-0.7zM43.1 245.1h0.7v0.7h-0.7zM45.3 249.9h0.7v0.7h-0.7zM42.2 245.6h0.7v0.7h-0.7zM42.3 240.9h0.7v0.7h-0.7zM40.8 245.3h0.7v0.7h-0.7zM39.1 245.6h0.7v0.7h-0.7zM36.6 247.6h0.7v0.7h-0.7zM43.7 241.0h0.7v0.7h-0.7zM40.7 249.5h0.7v0.7h-0.7zM41.4 241.8h0.7v0.7h-0.7zM37.8 247.4h0.7v0.7h-0.7zM45.1 241.6h0.7v0.7h-0.7zM40.5 242.5h0.7v0.7h-0.7zM39.6 245.8h0.7v0.7h-0.7zM40.2 242.8h0.7v0.7h-0.7zM45.8 244.4h0.7v0.7h-0.7zM39.9 248.2h0.7v0.7h-0.7zM40.4 244.3h0.7v0.7h-0.7zM42.8 241.8h0.7v0.7h-0.7zM42.3 247.9h0.7v0.7h-0.7zM42.1 244.3h0.7v0.7h-0.7zM40.3 239.7h0.7v0.7h-0.7zM40.0 245.7h0.7v0.7h-0.7zM42.6 245.3h0.7v0.7h-0.7zM39.3 242.4h0.7v0.7h-0.7zM40.2 245.3h0.7v0.7h-0.7zM43.5 244.9h0.7v0.7h-0.7zM39.1 244.5h0.7v0.7h-0.7zM39.1 244.2h0.7v0.7h-0.7zM34.7 240.1h0.7v0.7h-0.7zM37.3 246.2h0.7v0.7h-0.7zM40.1 245.3h0.7v0.7h-0.7zM43.3 241.8h0.7v0.7h-0.7zM43.3 246.0h0.7v0.7h-0.7zM38.5 249.3h0.7v0.7h-0.7zM36.7 241.5h0.7v0.7h-0.7zM39.8 246.1h0.7v0.7h-0.7zM39.9 238.5h0.7v0.7h-0.7zM39.6 244.6h0.7v0.7h-0.7zM46.9 248.9h0.7v0.7h-0.7zM40.7 241.6h0.7v0.7h-0.7zM41.2 241.4h0.7v0.7h-0.7zM40.9 245.9h0.7v0.7h-0.7zM39.3 245.6h0.7v0.7h-0.7zM39.5 243.2h0.7v0.7h-0.7zM44.3 246.6h0.7v0.7h-0.7zM39.6 242.6h0.7v0.7h-0.7zM40.8 246.5h0.7v0.7h-0.7zM42.5 249.2h0.7v0.7h-0.7zM41.5 241.5h0.7v0.7h-0.7zM45.6 248.3h0.7v0.7h-0.7zM42.5 248.8h0.7v0.7h-0.7zM36.5 243.7h0.7v0.7h-0.7zM39.0 248.4h0.7v0.7h-0.7zM37.3 243.9h0.7v0.7h-0.7zM44.2 246.8h0.7v0.7h-0.7zM39.4 250.4h0.7v0.7h-0.7zM36.9 246.2h0.7v0.7h-0.7zM39.8 246.4h0.7v0.7h-0.7zM39.6 242.4h0.7v0.7h-0.7zM40.9 240.9h0.7v0.7h-0.7zM41.7 243.9h0.7v0.7h-0.7zM42.7 243.5h0.7v0.7h-0.7zM38.6 246.0h0.7v0.7h-0.7zM43.5 238.7h0.7v0.7h-0.7zM40.6 246.7h0.7v0.7h-0.7zM36.7 242.2h0.7v0.7h-0.7zM42.0 242.4h0.7v0.7h-0.7zM38.7 249.9h0.7v0.7h-0.7zM37.9 242.3h0.7v0.7h-0.7zM34.4 241.6h0.7v0.7h-0.7zM37.2 249.9h0.7v0.7h-0.7zM43.4 241.1h0.7v0.7h-0.7zM45.4 247.1h0.7v0.7h-0.7zM39.9 247.2h0.7v0.7h-0.7zM41.3 242.6h0.7v0.7h-0.7zM35.8 242.1h0.7v0.7h-0.7zM40.3 243.8h0.7v0.7h-0.7zM38.4 247.7h0.7v0.7h-0.7zM37.6 247.5h0.7v0.7h-0.7zM39.1 245.1h0.7v0.7h-0.7zM37.5 244.8h0.7v0.7h-0.7zM38.3 239.7h0.7v0.7h-0.7zM40.3 244.7h0.7v0.7h-0.7zM42.4 245.7h0.7v0.7h-0.7zM37.7 243.0h0.7v0.7h-0.7zM34.0 241.5h0.7v0.7h-0.7zM43.6 249.3h0.7v0.7h-0.7zM42.3 245.7h0.7v0.7h-0.7zM41.8 246.3h0.7v0.7h-0.7zM35.9 242.2h0.7v0.7h-0.7zM43.4 248.3h0.7v0.7h-0.7zM40.9 243.9h0.7v0.7h-0.7zM39.3 243.2h0.7v0.7h-0.7zM37.9 239.1h0.7v0.7h-0.7zM40.7 243.5h0.7v0.7h-0.7zM39.8 249.9h0.7v0.7h-0.7zM41.8 242.7h0.7v0.7h-0.7zM41.8 240.4h0.7v0.7h-0.7zM43.0 245.6h0.7v0.7h-0.7zM39.8 246.5h0.7v0.7h-0.7zM44.1 243.4h0.7v0.7h-0.7zM37.8 251.1h0.7v0.7h-0.7zM40.4 249.2h0.7v0.7h-0.7zM38.6 245.9h0.7v0.7h-0.7zM38.7 246.7h0.7v0.7h-0.7zM39.6 242.8h0.7v0.7h-0.7zM44.3 245.8h0.7v0.7h-0.7zM35.1 244.1h0.7v0.7h-0.7zM38.0 241.2h0.7v0.7h-0.7zM38.8 243.4h0.7v0.7h-0.7zM40.4 242.5h0.7v0.7h-0.7zM35.5 243.2h0.7v0.7h-0.7zM42.6 240.8h0.7v0.7h-0.7zM41.9 246.2h0.7v0.7h-0.7zM39.2 245.7h0.7v0.7h-0.7zM38.4 243.6h0.7v0.7h-0.7zM37.7 246.2h0.7v0.7h-0.7zM43.8 242.8h0.7v0.7h-0.7zM43.4 238.5h0.7v0.7h-0.7zM38.0 241.8h0.7v0.7h-0.7zM44.7 243.0h0.7v0.7h-0.7zM42.3 238.7h0.7v0.7h-0.7zM40.6 246.5h0.7v0.7h-0.7zM40.2 236.7h0.7v0.7h-0.7zM40.8 247.2h0.7v0.7h-0.7zM43.7 246.0h0.7v0.7h-0.7zM35.9 244.2h0.7v0.7h-0.7zM42.6 242.4h0.7v0.7h-0.7zM41.8 243.4h0.7v0.7h-0.7zM40.5 247.1h0.7v0.7h-0.7zM38.5 253.4h0.7v0.7h-0.7zM40.7 245.8h0.7v0.7h-0.7zM38.4 245.0h0.7v0.7h-0.7zM39.6 240.4h0.7v0.7h-0.7zM36.3 245.7h0.7v0.7h-0.7zM40.1 236.9h0.7v0.7h-0.7zM34.7 243.9h0.7v0.7h-0.7zM40.1 246.6h0.7v0.7h-0.7zM37.1 246.6h0.7v0.7h-0.7zM39.5 243.3h0.7v0.7h-0.7zM39.9 247.8h0.7v0.7h-0.7zM41.7 247.5h0.7v0.7h-0.7zM38.5 243.9h0.7v0.7h-0.7zM37.3 243.1h0.7v0.7h-0.7zM39.3 243.4h0.7v0.7h-0.7zM42.2 246.1h0.7v0.7h-0.7zM42.3 245.2h0.7v0.7h-0.7zM43.1 245.1h0.7v0.7h-0.7zM42.8 246.3h0.7v0.7h-0.7zM42.2 244.6h0.7v0.7h-0.7zM37.1 240.5h0.7v0.7h-0.7zM45.4 246.0h0.7v0.7h-0.7zM41.5 244.3h0.7v0.7h-0.7zM39.1 253.4h0.7v0.7h-0.7zM37.4 244.6h0.7v0.7h-0.7zM40.2 241.4h0.7v0.7h-0.7zM37.0 242.7h0.7v0.7h-0.7zM39.4 243.3h0.7v0.7h-0.7zM42.4 241.3h0.7v0.7h-0.7zM41.4 249.2h0.7v0.7h-0.7zM42.6 241.4h0.7v0.7h-0.7zM32.6 247.3h0.7v0.7h-0.7zM41.6 243.0h0.7v0.7h-0.7zM43.6 243.6h0.7v0.7h-0.7zM40.6 241.7h0.7v0.7h-0.7zM41.1 243.5h0.7v0.7h-0.7zM39.0 248.0h0.7v0.7h-0.7zM40.9 240.3h0.7v0.7h-0.7zM42.1 247.3h0.7v0.7h-0.7zM38.1 243.6h0.7v0.7h-0.7zM40.4 244.1h0.7v0.7h-0.7zM40.6 246.7h0.7v0.7h-0.7zM39.0 251.0h0.7v0.7h-0.7zM38.4 243.2h0.7v0.7h-0.7zM45.4 252.0h0.7v0.7h-0.7zM40.4 244.2h0.7v0.7h-0.7zM37.5 248.2h0.7v0.7h-0.7zM40.8 242.3h0.7v0.7h-0.7zM41.4 248.9h0.7v0.7h-0.7zM42.1 251.4h0.7v0.7h-0.7zM43.3 246.1h0.7v0.7h-0.7zM40.2 246.5h0.7v0.7h-0.7zM43.5 247.4h0.7v0.7h-0.7zM43.0 245.5h0.7v0.7h-0.7zM42.3 248.4h0.7v0.7h-0.7zM39.9 240.9h0.7v0.7h-0.7zM44.8 246.5h0.7v0.7h-0.7zM39.2 245.5h0.7v0.7h-0.7zM39.7 239.7h0.7v0.7h-0.7zM39.8 240.5h0.7v0.7h-0.7zM40.8 244.5h0.7v0.7h-0.7zM43.2 244.4h0.7v0.7h-0.7zM41.3 243.9h0.7v0.7h-0.7zM39.3 240.6h0.7v0.7h-0.7zM42.9 245.3h0.7v0.7h-0.7zM38.8 245.4h0.7v0.7h-0.7zM39.2 242.6h0.7v0.7h-0.7zM40.9 248.4h0.7v0.7h-0.7zM39.6 240.5h0.7v0.7h-0.7zM38.7 250.2h0.7v0.7h-0.7zM38.2 248.4h0.7v0.7h-0.7zM39.7 247.0h0.7v0.7h-0.7zM40.0 240.1h0.7v0.7h-0.7zM39.2 251.1h0.7v0.7h-0.7zM40.0 246.5h0.7v0.7h-0.7zM39.4 244.4h0.7v0.7h-0.7zM41.1 246.2h0.7v0.7h-0.7zM46.1 244.8h0.7v0.7h-0.7zM39.8 242.8h0.7v0.7h-0.7zM36.9 240.0h0.7v0.7h-0.7zM42.0 239.2h0.7v0.7h-0.7zM44.0 247.4h0.7v0.7h-0.7zM39.5 241.3h0.7v0.7h-0.7zM40.4 244.9h0.7v0.7h-0.7zM43.2 242.6h0.7v0.7h-0.7zM39.3 244.6h0.7v0.7h-0.7z" fill="#ee0000" fill-opacity="0.7" clip-path="url(#cp7)"/>
<text x="48.20" y="244.50" font-size="6.6" text-anchor="start" fill="#e02020" stroke="#e02020">Stage III</text>
<g clip-path="url(#cp17)"><ellipse cx="103" cy="253" rx="10" ry="10" fill="#777" fill-opacity="0.35" filter="url(#b3)"/></g>
<path d="M112.2 260.2h0.5v0.5h-0.5zM134.3 255.5h0.5v0.5h-0.5zM136.2 260.4h0.5v0.5h-0.5zM92.3 235.9h0.5v0.5h-0.5zM120.3 246.3h0.5v0.5h-0.5zM87.2 264.3h0.5v0.5h-0.5zM91.5 221.0h0.5v0.5h-0.5zM104.9 260.0h0.5v0.5h-0.5zM90.9 258.4h0.5v0.5h-0.5zM119.2 241.7h0.5v0.5h-0.5zM111.4 258.7h0.5v0.5h-0.5zM105.7 257.9h0.5v0.5h-0.5zM129.4 229.0h0.5v0.5h-0.5zM104.2 268.4h0.5v0.5h-0.5zM98.6 267.0h0.5v0.5h-0.5zM100.5 232.8h0.5v0.5h-0.5zM87.1 267.7h0.5v0.5h-0.5zM122.8 247.3h0.5v0.5h-0.5zM118.9 245.5h0.5v0.5h-0.5zM107.2 258.7h0.5v0.5h-0.5zM127.7 265.8h0.5v0.5h-0.5zM102.9 232.8h0.5v0.5h-0.5zM96.9 226.1h0.5v0.5h-0.5zM87.7 261.9h0.5v0.5h-0.5zM95.1 242.1h0.5v0.5h-0.5zM108.9 247.6h0.5v0.5h-0.5zM102.9 244.0h0.5v0.5h-0.5zM108.7 263.9h0.5v0.5h-0.5zM88.7 248.4h0.5v0.5h-0.5zM87.3 255.2h0.5v0.5h-0.5zM120.5 258.4h0.5v0.5h-0.5zM107.2 220.1h0.5v0.5h-0.5zM126.1 248.0h0.5v0.5h-0.5zM129.1 250.2h0.5v0.5h-0.5zM104.4 225.2h0.5v0.5h-0.5zM109.4 228.4h0.5v0.5h-0.5zM125.0 223.4h0.5v0.5h-0.5zM92.8 240.7h0.5v0.5h-0.5zM127.1 258.8h0.5v0.5h-0.5zM104.7 232.3h0.5v0.5h-0.5zM98.7 263.6h0.5v0.5h-0.5zM109.9 223.4h0.5v0.5h-0.5zM119.0 237.2h0.5v0.5h-0.5zM128.7 231.6h0.5v0.5h-0.5zM127.9 267.9h0.5v0.5h-0.5zM87.8 228.3h0.5v0.5h-0.5zM94.4 262.6h0.5v0.5h-0.5zM103.2 245.9h0.5v0.5h-0.5zM89.1 233.5h0.5v0.5h-0.5zM108.8 240.9h0.5v0.5h-0.5zM109.1 226.6h0.5v0.5h-0.5zM112.7 250.4h0.5v0.5h-0.5zM103.8 253.3h0.5v0.5h-0.5zM98.2 242.1h0.5v0.5h-0.5zM116.0 259.6h0.5v0.5h-0.5zM88.9 258.3h0.5v0.5h-0.5zM88.0 253.7h0.5v0.5h-0.5zM124.0 257.6h0.5v0.5h-0.5zM95.7 241.4h0.5v0.5h-0.5zM94.1 227.8h0.5v0.5h-0.5zM98.6 246.4h0.5v0.5h-0.5zM115.3 243.1h0.5v0.5h-0.5zM98.2 227.4h0.5v0.5h-0.5zM119.8 254.8h0.5v0.5h-0.5zM118.6 242.2h0.5v0.5h-0.5zM106.6 253.8h0.5v0.5h-0.5zM133.3 229.6h0.5v0.5h-0.5zM124.5 231.7h0.5v0.5h-0.5zM93.1 224.7h0.5v0.5h-0.5zM97.7 265.4h0.5v0.5h-0.5zM91.6 254.5h0.5v0.5h-0.5zM122.3 235.4h0.5v0.5h-0.5zM95.8 222.6h0.5v0.5h-0.5zM109.1 236.8h0.5v0.5h-0.5zM90.7 259.0h0.5v0.5h-0.5zM130.7 265.0h0.5v0.5h-0.5zM124.0 228.3h0.5v0.5h-0.5zM119.9 266.2h0.5v0.5h-0.5zM121.6 230.1h0.5v0.5h-0.5zM104.5 221.8h0.5v0.5h-0.5zM95.7 226.6h0.5v0.5h-0.5zM86.9 220.9h0.5v0.5h-0.5zM106.9 232.1h0.5v0.5h-0.5zM132.3 258.5h0.5v0.5h-0.5zM87.4 243.9h0.5v0.5h-0.5zM95.9 259.6h0.5v0.5h-0.5zM112.9 224.6h0.5v0.5h-0.5zM89.8 257.4h0.5v0.5h-0.5zM101.1 226.8h0.5v0.5h-0.5zM124.3 236.1h0.5v0.5h-0.5zM96.9 266.7h0.5v0.5h-0.5zM101.5 256.5h0.5v0.5h-0.5zM100.4 256.5h0.5v0.5h-0.5zM96.5 252.3h0.5v0.5h-0.5zM127.1 238.4h0.5v0.5h-0.5zM134.4 251.4h0.5v0.5h-0.5zM116.1 241.5h0.5v0.5h-0.5zM99.0 259.5h0.5v0.5h-0.5zM98.4 253.7h0.5v0.5h-0.5zM121.2 264.5h0.5v0.5h-0.5zM122.7 261.8h0.5v0.5h-0.5zM127.6 262.0h0.5v0.5h-0.5zM93.0 224.7h0.5v0.5h-0.5zM96.1 221.0h0.5v0.5h-0.5zM103.4 239.1h0.5v0.5h-0.5zM107.9 267.2h0.5v0.5h-0.5zM127.5 250.3h0.5v0.5h-0.5zM90.5 248.9h0.5v0.5h-0.5zM101.2 261.3h0.5v0.5h-0.5zM91.9 251.7h0.5v0.5h-0.5z" fill="#444" fill-opacity="0.4" clip-path="url(#cp17)"/>
<path d="M122.2 267.2h0.5v0.5h-0.5zM121.2 258.1h0.5v0.5h-0.5zM103.3 263.4h0.5v0.5h-0.5zM101.5 257.5h0.5v0.5h-0.5zM92.1 262.5h0.5v0.5h-0.5zM101.1 261.5h0.5v0.5h-0.5zM98.3 240.8h0.5v0.5h-0.5zM104.0 264.3h0.5v0.5h-0.5zM89.8 247.3h0.5v0.5h-0.5zM97.6 253.0h0.5v0.5h-0.5zM86.4 269.1h0.5v0.5h-0.5zM108.1 250.1h0.5v0.5h-0.5zM85.5 257.9h0.5v0.5h-0.5zM115.9 261.6h0.5v0.5h-0.5zM109.2 247.5h0.5v0.5h-0.5zM101.9 243.0h0.5v0.5h-0.5zM115.8 259.6h0.5v0.5h-0.5zM83.2 240.2h0.5v0.5h-0.5zM103.8 256.1h0.5v0.5h-0.5zM97.5 259.9h0.5v0.5h-0.5zM116.1 257.9h0.5v0.5h-0.5zM85.6 253.7h0.5v0.5h-0.5zM89.5 248.6h0.5v0.5h-0.5zM102.6 253.6h0.5v0.5h-0.5zM91.5 254.8h0.5v0.5h-0.5zM93.4 259.2h0.5v0.5h-0.5zM98.0 258.1h0.5v0.5h-0.5zM97.8 260.9h0.5v0.5h-0.5zM98.9 254.8h0.5v0.5h-0.5zM95.4 256.1h0.5v0.5h-0.5zM85.7 276.3h0.5v0.5h-0.5zM94.5 255.7h0.5v0.5h-0.5zM96.1 251.0h0.5v0.5h-0.5zM103.1 250.8h0.5v0.5h-0.5zM96.5 243.9h0.5v0.5h-0.5zM92.5 245.6h0.5v0.5h-0.5zM114.3 244.2h0.5v0.5h-0.5zM91.3 256.4h0.5v0.5h-0.5zM111.3 241.3h0.5v0.5h-0.5zM87.5 255.9h0.5v0.5h-0.5zM102.6 243.6h0.5v0.5h-0.5zM85.5 247.2h0.5v0.5h-0.5zM105.9 254.5h0.5v0.5h-0.5zM105.8 254.0h0.5v0.5h-0.5zM99.6 259.8h0.5v0.5h-0.5zM98.9 256.7h0.5v0.5h-0.5zM92.6 250.1h0.5v0.5h-0.5zM103.6 252.9h0.5v0.5h-0.5zM93.9 260.1h0.5v0.5h-0.5zM104.2 254.8h0.5v0.5h-0.5zM93.8 262.0h0.5v0.5h-0.5zM119.8 248.3h0.5v0.5h-0.5zM87.5 248.6h0.5v0.5h-0.5zM92.4 244.7h0.5v0.5h-0.5zM90.4 261.6h0.5v0.5h-0.5zM106.7 266.7h0.5v0.5h-0.5zM105.8 251.0h0.5v0.5h-0.5zM108.5 249.9h0.5v0.5h-0.5zM97.0 245.4h0.5v0.5h-0.5zM109.6 262.9h0.5v0.5h-0.5zM96.1 252.3h0.5v0.5h-0.5zM100.1 256.4h0.5v0.5h-0.5zM106.6 255.3h0.5v0.5h-0.5zM103.0 242.8h0.5v0.5h-0.5zM97.4 240.4h0.5v0.5h-0.5zM114.0 265.9h0.5v0.5h-0.5zM105.5 263.7h0.5v0.5h-0.5zM115.8 262.3h0.5v0.5h-0.5zM87.0 253.1h0.5v0.5h-0.5zM80.9 248.3h0.5v0.5h-0.5zM89.8 254.7h0.5v0.5h-0.5zM102.9 247.3h0.5v0.5h-0.5zM97.5 257.0h0.5v0.5h-0.5zM98.5 253.3h0.5v0.5h-0.5zM80.5 251.2h0.5v0.5h-0.5zM106.1 256.8h0.5v0.5h-0.5zM87.9 252.5h0.5v0.5h-0.5zM101.9 246.9h0.5v0.5h-0.5zM105.1 248.3h0.5v0.5h-0.5zM97.1 253.8h0.5v0.5h-0.5zM117.5 252.1h0.5v0.5h-0.5zM95.1 260.4h0.5v0.5h-0.5zM95.9 256.3h0.5v0.5h-0.5zM81.7 257.1h0.5v0.5h-0.5zM99.6 244.4h0.5v0.5h-0.5zM110.6 252.8h0.5v0.5h-0.5zM98.1 244.2h0.5v0.5h-0.5zM86.7 250.2h0.5v0.5h-0.5zM87.5 258.6h0.5v0.5h-0.5zM106.7 249.6h0.5v0.5h-0.5zM86.8 251.5h0.5v0.5h-0.5zM91.2 256.0h0.5v0.5h-0.5zM101.1 251.3h0.5v0.5h-0.5zM100.3 263.0h0.5v0.5h-0.5zM113.3 250.5h0.5v0.5h-0.5zM105.5 252.8h0.5v0.5h-0.5zM91.2 264.9h0.5v0.5h-0.5zM102.8 255.8h0.5v0.5h-0.5zM102.5 253.4h0.5v0.5h-0.5zM91.3 268.9h0.5v0.5h-0.5zM106.9 256.8h0.5v0.5h-0.5zM107.4 265.0h0.5v0.5h-0.5zM98.1 259.4h0.5v0.5h-0.5zM97.1 259.8h0.5v0.5h-0.5zM97.6 274.1h0.5v0.5h-0.5zM96.8 258.8h0.5v0.5h-0.5zM103.4 252.0h0.5v0.5h-0.5zM107.2 254.0h0.5v0.5h-0.5zM96.4 254.7h0.5v0.5h-0.5zM93.7 264.2h0.5v0.5h-0.5zM104.7 262.5h0.5v0.5h-0.5zM88.9 256.8h0.5v0.5h-0.5zM93.5 255.4h0.5v0.5h-0.5zM109.9 256.7h0.5v0.5h-0.5zM98.3 263.6h0.5v0.5h-0.5zM107.8 269.5h0.5v0.5h-0.5zM84.8 257.3h0.5v0.5h-0.5zM96.3 247.7h0.5v0.5h-0.5zM100.6 245.4h0.5v0.5h-0.5zM81.8 247.4h0.5v0.5h-0.5zM97.6 269.6h0.5v0.5h-0.5zM93.9 245.3h0.5v0.5h-0.5zM83.8 251.9h0.5v0.5h-0.5zM97.7 255.9h0.5v0.5h-0.5zM88.1 248.6h0.5v0.5h-0.5zM81.5 256.0h0.5v0.5h-0.5zM87.1 232.7h0.5v0.5h-0.5zM109.0 258.7h0.5v0.5h-0.5zM102.5 257.5h0.5v0.5h-0.5zM91.4 263.3h0.5v0.5h-0.5zM91.3 270.0h0.5v0.5h-0.5zM101.5 239.9h0.5v0.5h-0.5zM106.6 270.5h0.5v0.5h-0.5zM97.6 263.2h0.5v0.5h-0.5zM98.0 249.7h0.5v0.5h-0.5zM79.0 264.6h0.5v0.5h-0.5zM96.1 257.7h0.5v0.5h-0.5zM90.6 247.4h0.5v0.5h-0.5zM108.6 251.6h0.5v0.5h-0.5zM96.5 244.6h0.5v0.5h-0.5zM101.4 260.9h0.5v0.5h-0.5zM96.0 253.2h0.5v0.5h-0.5zM89.9 265.9h0.5v0.5h-0.5zM94.7 253.5h0.5v0.5h-0.5zM113.2 252.9h0.5v0.5h-0.5zM87.3 247.3h0.5v0.5h-0.5zM96.8 269.0h0.5v0.5h-0.5zM101.5 252.9h0.5v0.5h-0.5zM106.4 265.2h0.5v0.5h-0.5zM93.6 266.2h0.5v0.5h-0.5zM106.6 258.3h0.5v0.5h-0.5zM80.7 256.3h0.5v0.5h-0.5zM110.9 252.5h0.5v0.5h-0.5zM118.3 255.3h0.5v0.5h-0.5zM91.6 259.5h0.5v0.5h-0.5zM102.1 261.5h0.5v0.5h-0.5zM98.0 265.3h0.5v0.5h-0.5zM95.3 255.8h0.5v0.5h-0.5zM89.7 248.3h0.5v0.5h-0.5zM101.4 249.5h0.5v0.5h-0.5zM96.2 253.1h0.5v0.5h-0.5zM101.8 261.0h0.5v0.5h-0.5zM106.0 263.1h0.5v0.5h-0.5zM101.5 250.4h0.5v0.5h-0.5zM87.0 252.0h0.5v0.5h-0.5zM93.4 240.1h0.5v0.5h-0.5zM113.1 240.0h0.5v0.5h-0.5zM102.7 259.3h0.5v0.5h-0.5zM97.9 275.7h0.5v0.5h-0.5zM100.0 248.6h0.5v0.5h-0.5zM114.1 248.3h0.5v0.5h-0.5zM88.2 246.7h0.5v0.5h-0.5zM94.6 255.2h0.5v0.5h-0.5zM102.6 242.5h0.5v0.5h-0.5zM102.7 272.9h0.5v0.5h-0.5zM94.0 253.8h0.5v0.5h-0.5zM105.5 264.6h0.5v0.5h-0.5zM94.4 247.0h0.5v0.5h-0.5zM91.6 263.7h0.5v0.5h-0.5zM107.1 237.3h0.5v0.5h-0.5zM82.5 244.8h0.5v0.5h-0.5zM87.6 258.1h0.5v0.5h-0.5zM101.6 270.7h0.5v0.5h-0.5zM106.3 255.8h0.5v0.5h-0.5zM109.4 247.6h0.5v0.5h-0.5zM88.5 255.1h0.5v0.5h-0.5zM107.4 241.7h0.5v0.5h-0.5zM107.1 261.8h0.5v0.5h-0.5zM95.8 256.2h0.5v0.5h-0.5zM97.6 255.5h0.5v0.5h-0.5zM106.4 248.3h0.5v0.5h-0.5zM108.3 261.9h0.5v0.5h-0.5zM107.2 238.8h0.5v0.5h-0.5zM84.7 260.4h0.5v0.5h-0.5zM95.1 249.2h0.5v0.5h-0.5zM93.6 243.9h0.5v0.5h-0.5zM97.5 249.0h0.5v0.5h-0.5zM94.5 258.7h0.5v0.5h-0.5zM90.2 264.0h0.5v0.5h-0.5zM81.8 275.2h0.5v0.5h-0.5zM88.8 259.6h0.5v0.5h-0.5zM107.2 254.8h0.5v0.5h-0.5zM105.9 253.9h0.5v0.5h-0.5zM85.5 257.6h0.5v0.5h-0.5zM109.1 250.3h0.5v0.5h-0.5zM86.0 249.9h0.5v0.5h-0.5zM102.5 257.3h0.5v0.5h-0.5zM108.8 259.4h0.5v0.5h-0.5zM103.9 238.5h0.5v0.5h-0.5zM118.0 255.2h0.5v0.5h-0.5zM106.8 252.0h0.5v0.5h-0.5zM98.6 255.3h0.5v0.5h-0.5zM112.7 267.2h0.5v0.5h-0.5zM104.9 271.0h0.5v0.5h-0.5zM96.6 259.1h0.5v0.5h-0.5zM96.1 265.4h0.5v0.5h-0.5zM100.1 262.8h0.5v0.5h-0.5zM113.9 238.0h0.5v0.5h-0.5zM117.6 257.5h0.5v0.5h-0.5zM97.3 239.2h0.5v0.5h-0.5zM97.4 236.1h0.5v0.5h-0.5zM100.6 253.5h0.5v0.5h-0.5zM114.8 252.2h0.5v0.5h-0.5zM108.7 264.4h0.5v0.5h-0.5zM116.8 252.9h0.5v0.5h-0.5zM106.1 242.5h0.5v0.5h-0.5zM90.8 252.7h0.5v0.5h-0.5zM99.7 245.0h0.5v0.5h-0.5zM96.5 260.7h0.5v0.5h-0.5zM96.2 253.7h0.5v0.5h-0.5zM92.6 266.2h0.5v0.5h-0.5zM114.5 256.6h0.5v0.5h-0.5zM99.0 268.6h0.5v0.5h-0.5zM103.9 249.4h0.5v0.5h-0.5zM88.9 250.1h0.5v0.5h-0.5zM117.9 250.1h0.5v0.5h-0.5zM123.6 254.9h0.5v0.5h-0.5zM98.2 265.8h0.5v0.5h-0.5zM97.9 258.1h0.5v0.5h-0.5zM91.4 244.7h0.5v0.5h-0.5zM93.9 256.8h0.5v0.5h-0.5zM94.5 238.9h0.5v0.5h-0.5zM103.9 253.6h0.5v0.5h-0.5zM97.7 249.9h0.5v0.5h-0.5zM81.5 268.0h0.5v0.5h-0.5zM96.0 259.3h0.5v0.5h-0.5zM111.4 264.2h0.5v0.5h-0.5zM101.6 255.1h0.5v0.5h-0.5zM102.5 262.4h0.5v0.5h-0.5zM104.7 251.3h0.5v0.5h-0.5zM103.7 258.1h0.5v0.5h-0.5zM105.7 256.7h0.5v0.5h-0.5zM111.2 256.6h0.5v0.5h-0.5zM107.3 255.3h0.5v0.5h-0.5zM95.3 247.2h0.5v0.5h-0.5zM98.7 259.4h0.5v0.5h-0.5zM110.4 254.3h0.5v0.5h-0.5zM95.7 250.8h0.5v0.5h-0.5zM110.6 255.9h0.5v0.5h-0.5zM95.9 261.1h0.5v0.5h-0.5zM89.1 255.9h0.5v0.5h-0.5zM99.6 253.9h0.5v0.5h-0.5zM90.5 263.0h0.5v0.5h-0.5zM113.8 244.1h0.5v0.5h-0.5zM101.0 260.3h0.5v0.5h-0.5zM118.5 251.6h0.5v0.5h-0.5zM92.2 255.0h0.5v0.5h-0.5zM116.5 255.6h0.5v0.5h-0.5zM102.2 269.6h0.5v0.5h-0.5zM82.5 237.2h0.5v0.5h-0.5zM107.4 261.4h0.5v0.5h-0.5zM88.6 259.2h0.5v0.5h-0.5zM100.3 256.8h0.5v0.5h-0.5zM93.4 251.3h0.5v0.5h-0.5zM92.8 255.4h0.5v0.5h-0.5zM98.1 268.8h0.5v0.5h-0.5zM105.2 242.1h0.5v0.5h-0.5zM103.4 266.7h0.5v0.5h-0.5zM102.3 263.9h0.5v0.5h-0.5zM99.7 260.8h0.5v0.5h-0.5zM92.3 261.5h0.5v0.5h-0.5zM88.7 265.6h0.5v0.5h-0.5zM87.6 237.6h0.5v0.5h-0.5zM104.4 253.6h0.5v0.5h-0.5zM100.9 258.5h0.5v0.5h-0.5zM99.8 247.7h0.5v0.5h-0.5zM101.7 257.8h0.5v0.5h-0.5zM104.0 271.3h0.5v0.5h-0.5zM94.0 255.6h0.5v0.5h-0.5zM104.6 251.3h0.5v0.5h-0.5zM90.2 250.3h0.5v0.5h-0.5zM108.7 252.8h0.5v0.5h-0.5zM105.0 249.0h0.5v0.5h-0.5zM103.7 249.5h0.5v0.5h-0.5zM93.1 255.9h0.5v0.5h-0.5zM100.4 267.1h0.5v0.5h-0.5zM86.7 259.2h0.5v0.5h-0.5zM113.2 266.2h0.5v0.5h-0.5zM96.8 249.4h0.5v0.5h-0.5zM95.9 257.5h0.5v0.5h-0.5zM101.6 257.9h0.5v0.5h-0.5zM104.9 246.2h0.5v0.5h-0.5zM90.7 244.9h0.5v0.5h-0.5zM89.0 254.2h0.5v0.5h-0.5zM102.6 275.8h0.5v0.5h-0.5zM104.4 255.1h0.5v0.5h-0.5zM111.6 249.0h0.5v0.5h-0.5zM102.8 263.0h0.5v0.5h-0.5zM106.5 258.3h0.5v0.5h-0.5zM97.1 244.8h0.5v0.5h-0.5zM98.7 250.1h0.5v0.5h-0.5zM105.7 253.9h0.5v0.5h-0.5zM104.6 241.8h0.5v0.5h-0.5zM108.0 248.0h0.5v0.5h-0.5zM87.2 243.7h0.5v0.5h-0.5zM94.8 264.2h0.5v0.5h-0.5zM105.9 245.4h0.5v0.5h-0.5zM100.7 254.1h0.5v0.5h-0.5zM87.1 246.9h0.5v0.5h-0.5zM83.3 247.9h0.5v0.5h-0.5zM78.3 248.5h0.5v0.5h-0.5zM92.3 248.5h0.5v0.5h-0.5zM93.2 264.5h0.5v0.5h-0.5zM97.1 257.0h0.5v0.5h-0.5zM106.2 262.4h0.5v0.5h-0.5zM105.6 250.5h0.5v0.5h-0.5zM91.0 248.6h0.5v0.5h-0.5zM96.1 255.0h0.5v0.5h-0.5zM99.3 264.0h0.5v0.5h-0.5zM99.2 269.7h0.5v0.5h-0.5zM108.4 251.1h0.5v0.5h-0.5zM107.0 231.5h0.5v0.5h-0.5zM111.3 258.4h0.5v0.5h-0.5zM103.3 241.2h0.5v0.5h-0.5zM120.6 252.9h0.5v0.5h-0.5zM98.8 264.2h0.5v0.5h-0.5zM98.4 248.0h0.5v0.5h-0.5zM105.4 246.7h0.5v0.5h-0.5zM106.1 256.1h0.5v0.5h-0.5zM109.2 245.1h0.5v0.5h-0.5zM110.2 257.4h0.5v0.5h-0.5zM116.2 249.7h0.5v0.5h-0.5zM115.2 260.8h0.5v0.5h-0.5zM106.5 249.0h0.5v0.5h-0.5zM104.6 260.5h0.5v0.5h-0.5zM93.2 245.5h0.5v0.5h-0.5zM93.7 267.0h0.5v0.5h-0.5zM101.3 262.7h0.5v0.5h-0.5zM102.4 256.0h0.5v0.5h-0.5zM101.8 251.6h0.5v0.5h-0.5z" fill="#333" fill-opacity="0.4" clip-path="url(#cp17)"/>
<path d="M110.5 255.1h0.56v0.56h-0.56zM104.4 245.5h0.56v0.56h-0.56zM104.9 249.9h0.56v0.56h-0.56zM99.9 260.4h0.56v0.56h-0.56zM96.3 252.8h0.56v0.56h-0.56zM106.9 261.1h0.56v0.56h-0.56zM99.8 256.0h0.56v0.56h-0.56zM104.8 247.1h0.56v0.56h-0.56zM89.9 242.2h0.56v0.56h-0.56zM106.7 254.6h0.56v0.56h-0.56zM94.8 250.1h0.56v0.56h-0.56zM100.5 251.8h0.56v0.56h-0.56zM102.8 267.5h0.56v0.56h-0.56zM98.2 254.9h0.56v0.56h-0.56zM98.3 250.1h0.56v0.56h-0.56zM97.6 252.6h0.56v0.56h-0.56zM99.6 256.1h0.56v0.56h-0.56zM104.3 248.5h0.56v0.56h-0.56zM114.8 246.8h0.56v0.56h-0.56zM105.2 267.3h0.56v0.56h-0.56zM98.6 262.1h0.56v0.56h-0.56zM111.7 256.1h0.56v0.56h-0.56zM91.7 262.7h0.56v0.56h-0.56zM103.6 250.6h0.56v0.56h-0.56zM110.8 249.6h0.56v0.56h-0.56zM109.5 250.6h0.56v0.56h-0.56zM106.3 247.4h0.56v0.56h-0.56zM100.6 248.4h0.56v0.56h-0.56zM98.6 255.1h0.56v0.56h-0.56zM101.9 255.1h0.56v0.56h-0.56zM110.9 253.3h0.56v0.56h-0.56zM91.6 252.2h0.56v0.56h-0.56zM103.5 260.2h0.56v0.56h-0.56zM109.3 259.8h0.56v0.56h-0.56zM101.6 257.9h0.56v0.56h-0.56zM94.2 261.9h0.56v0.56h-0.56zM105.7 257.1h0.56v0.56h-0.56zM100.7 254.3h0.56v0.56h-0.56zM98.9 257.5h0.56v0.56h-0.56zM94.9 259.9h0.56v0.56h-0.56zM106.3 266.4h0.56v0.56h-0.56zM102.8 253.4h0.56v0.56h-0.56zM104.2 254.2h0.56v0.56h-0.56zM102.3 247.2h0.56v0.56h-0.56zM96.2 250.5h0.56v0.56h-0.56zM101.2 246.7h0.56v0.56h-0.56zM95.9 252.3h0.56v0.56h-0.56zM107.5 252.8h0.56v0.56h-0.56zM107.2 260.0h0.56v0.56h-0.56zM107.7 251.4h0.56v0.56h-0.56zM100.5 242.6h0.56v0.56h-0.56zM98.8 256.9h0.56v0.56h-0.56zM96.3 262.3h0.56v0.56h-0.56zM111.8 251.7h0.56v0.56h-0.56zM108.6 245.3h0.56v0.56h-0.56zM96.6 251.7h0.56v0.56h-0.56zM103.1 252.9h0.56v0.56h-0.56zM97.7 266.0h0.56v0.56h-0.56zM104.8 255.8h0.56v0.56h-0.56zM107.2 255.1h0.56v0.56h-0.56zM101.6 250.6h0.56v0.56h-0.56zM93.0 263.2h0.56v0.56h-0.56zM97.4 243.8h0.56v0.56h-0.56zM98.1 244.2h0.56v0.56h-0.56zM115.2 256.2h0.56v0.56h-0.56zM111.6 262.9h0.56v0.56h-0.56zM106.5 257.5h0.56v0.56h-0.56zM98.6 253.5h0.56v0.56h-0.56zM99.3 254.3h0.56v0.56h-0.56zM98.7 261.8h0.56v0.56h-0.56zM107.7 253.3h0.56v0.56h-0.56zM92.8 258.2h0.56v0.56h-0.56zM108.4 253.6h0.56v0.56h-0.56zM95.3 256.6h0.56v0.56h-0.56zM109.4 242.3h0.56v0.56h-0.56zM106.5 242.9h0.56v0.56h-0.56zM103.5 264.7h0.56v0.56h-0.56zM103.6 256.9h0.56v0.56h-0.56zM101.0 254.0h0.56v0.56h-0.56zM117.4 262.2h0.56v0.56h-0.56zM101.1 251.7h0.56v0.56h-0.56zM103.1 267.4h0.56v0.56h-0.56zM104.3 260.8h0.56v0.56h-0.56zM100.8 246.2h0.56v0.56h-0.56zM111.1 253.5h0.56v0.56h-0.56zM98.2 249.8h0.56v0.56h-0.56zM98.9 250.3h0.56v0.56h-0.56zM93.6 261.3h0.56v0.56h-0.56zM105.3 260.0h0.56v0.56h-0.56zM100.9 256.1h0.56v0.56h-0.56zM104.0 261.2h0.56v0.56h-0.56zM108.0 256.2h0.56v0.56h-0.56zM99.0 246.7h0.56v0.56h-0.56zM98.1 250.1h0.56v0.56h-0.56zM99.7 246.4h0.56v0.56h-0.56zM113.1 255.6h0.56v0.56h-0.56zM90.7 247.3h0.56v0.56h-0.56zM94.8 255.5h0.56v0.56h-0.56zM109.5 248.0h0.56v0.56h-0.56zM106.8 252.3h0.56v0.56h-0.56zM110.0 262.3h0.56v0.56h-0.56zM104.9 258.4h0.56v0.56h-0.56zM103.0 251.7h0.56v0.56h-0.56zM95.9 256.0h0.56v0.56h-0.56zM102.6 251.7h0.56v0.56h-0.56zM102.5 252.9h0.56v0.56h-0.56zM96.7 250.8h0.56v0.56h-0.56zM110.0 252.6h0.56v0.56h-0.56zM111.5 247.0h0.56v0.56h-0.56zM94.8 254.8h0.56v0.56h-0.56zM107.7 250.0h0.56v0.56h-0.56zM106.8 259.7h0.56v0.56h-0.56zM109.5 253.3h0.56v0.56h-0.56zM102.7 244.0h0.56v0.56h-0.56zM103.1 255.7h0.56v0.56h-0.56zM111.6 246.3h0.56v0.56h-0.56zM97.9 247.9h0.56v0.56h-0.56zM108.5 238.6h0.56v0.56h-0.56zM96.4 266.5h0.56v0.56h-0.56zM107.0 245.9h0.56v0.56h-0.56zM102.6 259.1h0.56v0.56h-0.56zM106.3 252.7h0.56v0.56h-0.56zM98.2 259.1h0.56v0.56h-0.56zM103.0 258.9h0.56v0.56h-0.56zM105.4 251.2h0.56v0.56h-0.56zM111.7 251.0h0.56v0.56h-0.56zM105.6 250.2h0.56v0.56h-0.56zM101.6 252.5h0.56v0.56h-0.56zM99.0 255.4h0.56v0.56h-0.56zM110.9 265.3h0.56v0.56h-0.56zM111.7 253.0h0.56v0.56h-0.56zM111.8 256.5h0.56v0.56h-0.56zM113.9 246.4h0.56v0.56h-0.56zM112.0 250.4h0.56v0.56h-0.56zM110.0 251.2h0.56v0.56h-0.56zM108.5 252.3h0.56v0.56h-0.56zM91.6 248.1h0.56v0.56h-0.56zM101.5 254.1h0.56v0.56h-0.56zM89.5 246.8h0.56v0.56h-0.56zM98.6 252.7h0.56v0.56h-0.56zM104.3 249.0h0.56v0.56h-0.56zM93.8 255.8h0.56v0.56h-0.56zM101.0 259.4h0.56v0.56h-0.56zM99.8 257.9h0.56v0.56h-0.56zM97.6 255.6h0.56v0.56h-0.56zM103.5 256.7h0.56v0.56h-0.56zM97.4 253.3h0.56v0.56h-0.56zM97.9 253.0h0.56v0.56h-0.56zM106.8 272.0h0.56v0.56h-0.56zM103.2 258.3h0.56v0.56h-0.56zM103.7 260.9h0.56v0.56h-0.56zM105.8 260.3h0.56v0.56h-0.56zM105.2 268.5h0.56v0.56h-0.56zM111.3 243.7h0.56v0.56h-0.56zM104.8 254.5h0.56v0.56h-0.56zM89.7 248.8h0.56v0.56h-0.56zM100.2 249.6h0.56v0.56h-0.56zM103.8 243.2h0.56v0.56h-0.56zM107.5 258.7h0.56v0.56h-0.56zM105.1 252.0h0.56v0.56h-0.56zM103.1 251.2h0.56v0.56h-0.56zM109.9 257.1h0.56v0.56h-0.56zM115.0 251.8h0.56v0.56h-0.56zM111.8 250.6h0.56v0.56h-0.56zM102.0 247.7h0.56v0.56h-0.56zM106.2 253.7h0.56v0.56h-0.56zM106.8 263.0h0.56v0.56h-0.56zM102.7 256.3h0.56v0.56h-0.56zM108.5 253.7h0.56v0.56h-0.56zM99.7 256.2h0.56v0.56h-0.56zM106.1 258.7h0.56v0.56h-0.56zM108.1 250.0h0.56v0.56h-0.56zM105.7 261.5h0.56v0.56h-0.56zM100.2 256.2h0.56v0.56h-0.56zM99.3 255.0h0.56v0.56h-0.56zM113.5 255.1h0.56v0.56h-0.56zM97.2 256.1h0.56v0.56h-0.56zM104.3 260.8h0.56v0.56h-0.56zM94.8 248.5h0.56v0.56h-0.56zM102.6 244.7h0.56v0.56h-0.56zM109.9 241.9h0.56v0.56h-0.56zM98.0 245.2h0.56v0.56h-0.56zM99.1 258.9h0.56v0.56h-0.56zM106.7 259.6h0.56v0.56h-0.56zM106.7 241.8h0.56v0.56h-0.56zM104.9 242.9h0.56v0.56h-0.56zM100.0 251.7h0.56v0.56h-0.56zM99.8 257.0h0.56v0.56h-0.56zM98.2 264.5h0.56v0.56h-0.56zM106.6 261.1h0.56v0.56h-0.56zM107.6 259.4h0.56v0.56h-0.56zM102.8 265.9h0.56v0.56h-0.56zM96.7 256.8h0.56v0.56h-0.56zM103.1 252.7h0.56v0.56h-0.56zM105.0 249.5h0.56v0.56h-0.56zM108.3 258.8h0.56v0.56h-0.56zM103.6 258.5h0.56v0.56h-0.56zM96.8 243.2h0.56v0.56h-0.56zM99.6 252.6h0.56v0.56h-0.56zM118.0 252.7h0.56v0.56h-0.56zM109.3 259.1h0.56v0.56h-0.56zM115.7 254.8h0.56v0.56h-0.56zM107.0 252.9h0.56v0.56h-0.56zM97.9 248.0h0.56v0.56h-0.56zM98.3 262.6h0.56v0.56h-0.56zM104.8 253.1h0.56v0.56h-0.56zM103.2 250.7h0.56v0.56h-0.56zM102.9 253.8h0.56v0.56h-0.56zM107.0 259.5h0.56v0.56h-0.56zM93.2 255.5h0.56v0.56h-0.56zM111.3 247.9h0.56v0.56h-0.56zM101.6 255.1h0.56v0.56h-0.56zM109.7 257.6h0.56v0.56h-0.56zM101.7 257.1h0.56v0.56h-0.56zM109.3 256.4h0.56v0.56h-0.56zM114.2 256.6h0.56v0.56h-0.56zM96.8 249.4h0.56v0.56h-0.56zM102.3 252.8h0.56v0.56h-0.56zM106.8 256.2h0.56v0.56h-0.56zM113.4 258.9h0.56v0.56h-0.56zM112.0 249.5h0.56v0.56h-0.56zM100.5 258.2h0.56v0.56h-0.56zM103.6 257.8h0.56v0.56h-0.56zM104.6 250.4h0.56v0.56h-0.56zM113.3 260.9h0.56v0.56h-0.56zM93.7 250.4h0.56v0.56h-0.56zM103.2 258.2h0.56v0.56h-0.56zM102.7 245.9h0.56v0.56h-0.56zM108.1 252.8h0.56v0.56h-0.56zM110.3 255.9h0.56v0.56h-0.56zM109.1 259.1h0.56v0.56h-0.56zM108.4 251.1h0.56v0.56h-0.56zM109.3 255.3h0.56v0.56h-0.56zM95.6 251.7h0.56v0.56h-0.56zM101.1 256.9h0.56v0.56h-0.56zM107.2 247.4h0.56v0.56h-0.56zM107.5 253.7h0.56v0.56h-0.56zM96.8 259.1h0.56v0.56h-0.56zM98.6 247.0h0.56v0.56h-0.56zM107.7 259.5h0.56v0.56h-0.56zM99.2 260.5h0.56v0.56h-0.56zM109.1 251.0h0.56v0.56h-0.56zM115.1 253.8h0.56v0.56h-0.56zM104.5 239.9h0.56v0.56h-0.56zM107.0 250.4h0.56v0.56h-0.56zM105.8 243.9h0.56v0.56h-0.56zM110.1 262.9h0.56v0.56h-0.56zM114.5 236.5h0.56v0.56h-0.56zM106.7 256.2h0.56v0.56h-0.56zM85.1 249.8h0.56v0.56h-0.56zM102.7 262.7h0.56v0.56h-0.56zM98.2 255.4h0.56v0.56h-0.56zM102.9 256.4h0.56v0.56h-0.56zM100.8 259.6h0.56v0.56h-0.56zM109.0 246.1h0.56v0.56h-0.56zM109.9 249.7h0.56v0.56h-0.56zM101.6 261.0h0.56v0.56h-0.56zM103.8 257.7h0.56v0.56h-0.56zM108.0 257.8h0.56v0.56h-0.56zM100.0 248.6h0.56v0.56h-0.56zM107.3 258.8h0.56v0.56h-0.56zM105.4 253.1h0.56v0.56h-0.56zM108.4 254.1h0.56v0.56h-0.56zM95.1 256.0h0.56v0.56h-0.56zM106.3 258.9h0.56v0.56h-0.56zM97.9 249.8h0.56v0.56h-0.56zM105.3 251.6h0.56v0.56h-0.56zM102.9 259.9h0.56v0.56h-0.56zM105.7 265.2h0.56v0.56h-0.56zM105.1 264.6h0.56v0.56h-0.56zM109.7 269.6h0.56v0.56h-0.56zM103.5 253.9h0.56v0.56h-0.56zM111.2 251.3h0.56v0.56h-0.56zM100.6 255.9h0.56v0.56h-0.56zM105.7 246.1h0.56v0.56h-0.56zM105.0 252.6h0.56v0.56h-0.56zM103.3 255.5h0.56v0.56h-0.56zM102.3 260.9h0.56v0.56h-0.56zM106.4 253.4h0.56v0.56h-0.56zM104.0 260.7h0.56v0.56h-0.56zM108.2 262.1h0.56v0.56h-0.56zM102.7 255.4h0.56v0.56h-0.56zM115.6 254.3h0.56v0.56h-0.56zM113.6 259.6h0.56v0.56h-0.56zM101.0 246.2h0.56v0.56h-0.56zM107.4 250.4h0.56v0.56h-0.56zM99.4 244.3h0.56v0.56h-0.56zM110.7 255.2h0.56v0.56h-0.56zM103.8 257.0h0.56v0.56h-0.56zM105.1 255.2h0.56v0.56h-0.56zM106.7 253.0h0.56v0.56h-0.56zM88.2 259.0h0.56v0.56h-0.56zM106.2 254.8h0.56v0.56h-0.56zM113.1 246.3h0.56v0.56h-0.56zM86.4 263.5h0.56v0.56h-0.56zM106.1 244.8h0.56v0.56h-0.56zM101.2 258.3h0.56v0.56h-0.56zM96.4 257.9h0.56v0.56h-0.56zM116.2 262.9h0.56v0.56h-0.56zM103.4 256.6h0.56v0.56h-0.56zM98.0 255.4h0.56v0.56h-0.56zM101.6 248.7h0.56v0.56h-0.56zM95.6 266.1h0.56v0.56h-0.56zM104.1 248.5h0.56v0.56h-0.56zM101.1 263.5h0.56v0.56h-0.56zM113.3 251.0h0.56v0.56h-0.56zM104.8 259.9h0.56v0.56h-0.56zM101.6 247.6h0.56v0.56h-0.56zM97.8 254.7h0.56v0.56h-0.56zM99.0 246.9h0.56v0.56h-0.56zM102.2 260.2h0.56v0.56h-0.56zM107.7 253.3h0.56v0.56h-0.56zM115.0 249.9h0.56v0.56h-0.56zM103.2 246.5h0.56v0.56h-0.56zM108.2 253.9h0.56v0.56h-0.56zM93.6 249.7h0.56v0.56h-0.56zM114.3 258.9h0.56v0.56h-0.56zM104.3 259.8h0.56v0.56h-0.56zM94.1 249.7h0.56v0.56h-0.56zM95.7 249.7h0.56v0.56h-0.56zM101.3 257.7h0.56v0.56h-0.56zM109.6 260.4h0.56v0.56h-0.56zM119.6 251.6h0.56v0.56h-0.56zM103.5 257.6h0.56v0.56h-0.56zM98.6 252.9h0.56v0.56h-0.56zM106.0 249.3h0.56v0.56h-0.56zM106.4 261.9h0.56v0.56h-0.56zM96.9 241.0h0.56v0.56h-0.56zM104.1 248.4h0.56v0.56h-0.56zM104.6 251.9h0.56v0.56h-0.56zM105.4 261.3h0.56v0.56h-0.56zM108.4 252.4h0.56v0.56h-0.56zM96.6 239.7h0.56v0.56h-0.56zM90.6 249.8h0.56v0.56h-0.56zM104.1 250.5h0.56v0.56h-0.56zM99.9 244.9h0.56v0.56h-0.56zM93.6 244.2h0.56v0.56h-0.56zM107.1 242.6h0.56v0.56h-0.56zM107.4 249.0h0.56v0.56h-0.56zM106.5 255.7h0.56v0.56h-0.56zM107.8 261.4h0.56v0.56h-0.56zM98.6 248.4h0.56v0.56h-0.56zM100.6 249.6h0.56v0.56h-0.56zM107.1 253.5h0.56v0.56h-0.56zM103.2 256.6h0.56v0.56h-0.56zM100.3 260.7h0.56v0.56h-0.56zM92.1 255.5h0.56v0.56h-0.56zM106.1 249.5h0.56v0.56h-0.56zM98.9 259.4h0.56v0.56h-0.56zM101.1 242.6h0.56v0.56h-0.56zM95.0 260.0h0.56v0.56h-0.56zM97.8 261.8h0.56v0.56h-0.56zM111.2 252.8h0.56v0.56h-0.56zM106.3 249.1h0.56v0.56h-0.56zM100.6 249.8h0.56v0.56h-0.56zM106.5 246.3h0.56v0.56h-0.56zM102.2 254.3h0.56v0.56h-0.56zM106.1 241.3h0.56v0.56h-0.56zM92.3 248.7h0.56v0.56h-0.56zM101.6 254.8h0.56v0.56h-0.56zM104.1 266.0h0.56v0.56h-0.56zM106.9 257.5h0.56v0.56h-0.56zM100.0 258.6h0.56v0.56h-0.56zM107.1 257.9h0.56v0.56h-0.56zM102.3 257.7h0.56v0.56h-0.56zM112.0 249.2h0.56v0.56h-0.56zM90.1 258.8h0.56v0.56h-0.56zM107.3 252.5h0.56v0.56h-0.56zM100.3 270.4h0.56v0.56h-0.56zM100.2 246.7h0.56v0.56h-0.56zM100.1 256.9h0.56v0.56h-0.56zM99.3 251.6h0.56v0.56h-0.56zM104.7 251.4h0.56v0.56h-0.56zM103.7 253.7h0.56v0.56h-0.56zM96.6 254.3h0.56v0.56h-0.56zM96.0 259.5h0.56v0.56h-0.56zM97.3 252.5h0.56v0.56h-0.56zM92.1 251.2h0.56v0.56h-0.56zM95.5 262.8h0.56v0.56h-0.56zM102.2 257.0h0.56v0.56h-0.56zM92.5 246.5h0.56v0.56h-0.56zM101.9 245.8h0.56v0.56h-0.56zM109.7 251.5h0.56v0.56h-0.56zM103.8 255.7h0.56v0.56h-0.56zM102.0 258.5h0.56v0.56h-0.56zM98.9 256.0h0.56v0.56h-0.56zM110.0 255.1h0.56v0.56h-0.56zM103.6 251.9h0.56v0.56h-0.56zM103.2 257.9h0.56v0.56h-0.56zM101.4 243.9h0.56v0.56h-0.56zM103.8 253.0h0.56v0.56h-0.56zM105.6 254.1h0.56v0.56h-0.56zM112.2 246.7h0.56v0.56h-0.56zM97.1 257.7h0.56v0.56h-0.56zM96.8 255.8h0.56v0.56h-0.56zM102.7 242.2h0.56v0.56h-0.56zM106.8 261.9h0.56v0.56h-0.56zM104.1 245.6h0.56v0.56h-0.56zM107.5 247.7h0.56v0.56h-0.56zM102.1 256.3h0.56v0.56h-0.56zM98.2 243.8h0.56v0.56h-0.56zM102.0 253.6h0.56v0.56h-0.56zM97.8 249.2h0.56v0.56h-0.56zM107.2 253.3h0.56v0.56h-0.56zM100.1 250.3h0.56v0.56h-0.56zM103.8 254.4h0.56v0.56h-0.56zM101.8 245.6h0.56v0.56h-0.56zM100.6 250.1h0.56v0.56h-0.56zM103.2 260.6h0.56v0.56h-0.56zM108.4 257.6h0.56v0.56h-0.56zM103.5 251.9h0.56v0.56h-0.56zM104.8 251.0h0.56v0.56h-0.56zM100.8 248.9h0.56v0.56h-0.56zM102.5 253.3h0.56v0.56h-0.56zM113.6 257.0h0.56v0.56h-0.56zM100.6 258.3h0.56v0.56h-0.56zM100.0 259.7h0.56v0.56h-0.56zM107.3 270.7h0.56v0.56h-0.56zM96.5 253.4h0.56v0.56h-0.56zM102.1 255.5h0.56v0.56h-0.56zM106.9 248.1h0.56v0.56h-0.56zM98.6 255.6h0.56v0.56h-0.56zM108.4 247.3h0.56v0.56h-0.56zM93.8 260.5h0.56v0.56h-0.56zM107.7 260.1h0.56v0.56h-0.56zM97.1 252.6h0.56v0.56h-0.56zM104.1 256.4h0.56v0.56h-0.56zM102.1 253.5h0.56v0.56h-0.56zM108.7 251.3h0.56v0.56h-0.56zM99.6 251.3h0.56v0.56h-0.56zM99.8 254.6h0.56v0.56h-0.56zM101.6 251.3h0.56v0.56h-0.56zM111.0 255.5h0.56v0.56h-0.56zM100.8 261.1h0.56v0.56h-0.56zM99.6 253.8h0.56v0.56h-0.56zM102.3 250.5h0.56v0.56h-0.56zM100.6 254.3h0.56v0.56h-0.56zM94.5 251.5h0.56v0.56h-0.56zM104.2 255.4h0.56v0.56h-0.56zM104.5 267.3h0.56v0.56h-0.56zM106.6 253.0h0.56v0.56h-0.56zM102.1 253.8h0.56v0.56h-0.56zM105.3 252.1h0.56v0.56h-0.56zM111.4 247.5h0.56v0.56h-0.56zM106.4 256.7h0.56v0.56h-0.56zM96.2 257.4h0.56v0.56h-0.56zM106.0 250.1h0.56v0.56h-0.56zM116.0 257.9h0.56v0.56h-0.56zM100.9 251.1h0.56v0.56h-0.56zM98.5 255.3h0.56v0.56h-0.56zM103.1 245.7h0.56v0.56h-0.56zM96.8 249.7h0.56v0.56h-0.56zM100.5 251.7h0.56v0.56h-0.56zM99.0 257.4h0.56v0.56h-0.56zM108.2 254.2h0.56v0.56h-0.56zM90.2 252.9h0.56v0.56h-0.56zM106.0 253.3h0.56v0.56h-0.56zM104.3 254.4h0.56v0.56h-0.56zM94.3 239.3h0.56v0.56h-0.56zM106.3 250.8h0.56v0.56h-0.56zM105.1 252.0h0.56v0.56h-0.56zM101.8 261.6h0.56v0.56h-0.56zM95.9 253.7h0.56v0.56h-0.56zM96.5 254.2h0.56v0.56h-0.56zM105.5 257.5h0.56v0.56h-0.56zM103.6 245.9h0.56v0.56h-0.56zM104.2 258.9h0.56v0.56h-0.56zM108.4 266.0h0.56v0.56h-0.56zM106.0 248.0h0.56v0.56h-0.56zM99.8 254.3h0.56v0.56h-0.56zM108.7 247.3h0.56v0.56h-0.56zM108.0 257.5h0.56v0.56h-0.56zM97.8 257.2h0.56v0.56h-0.56zM98.4 253.7h0.56v0.56h-0.56zM101.0 255.1h0.56v0.56h-0.56zM96.0 256.8h0.56v0.56h-0.56zM90.4 251.5h0.56v0.56h-0.56zM99.5 262.7h0.56v0.56h-0.56zM105.8 251.0h0.56v0.56h-0.56zM97.7 254.0h0.56v0.56h-0.56zM99.2 266.5h0.56v0.56h-0.56zM87.0 254.1h0.56v0.56h-0.56zM88.8 259.7h0.56v0.56h-0.56zM98.2 262.9h0.56v0.56h-0.56zM99.7 259.9h0.56v0.56h-0.56zM103.9 260.5h0.56v0.56h-0.56zM102.9 236.8h0.56v0.56h-0.56zM98.6 244.9h0.56v0.56h-0.56zM108.2 256.8h0.56v0.56h-0.56zM102.8 256.4h0.56v0.56h-0.56zM103.9 250.5h0.56v0.56h-0.56zM113.9 255.1h0.56v0.56h-0.56zM101.7 245.4h0.56v0.56h-0.56zM99.2 253.8h0.56v0.56h-0.56zM101.8 251.1h0.56v0.56h-0.56zM102.5 247.4h0.56v0.56h-0.56zM102.8 245.0h0.56v0.56h-0.56zM97.9 249.6h0.56v0.56h-0.56zM107.7 256.6h0.56v0.56h-0.56zM103.2 247.2h0.56v0.56h-0.56zM100.5 258.3h0.56v0.56h-0.56zM109.9 245.4h0.56v0.56h-0.56zM100.3 254.4h0.56v0.56h-0.56zM104.8 253.8h0.56v0.56h-0.56zM106.6 245.5h0.56v0.56h-0.56zM111.7 247.3h0.56v0.56h-0.56zM103.1 256.8h0.56v0.56h-0.56zM109.4 259.0h0.56v0.56h-0.56zM107.8 261.1h0.56v0.56h-0.56zM101.9 258.1h0.56v0.56h-0.56zM111.6 249.5h0.56v0.56h-0.56zM94.8 248.1h0.56v0.56h-0.56zM110.9 260.9h0.56v0.56h-0.56zM100.8 255.2h0.56v0.56h-0.56zM105.5 259.8h0.56v0.56h-0.56zM92.1 250.7h0.56v0.56h-0.56zM101.4 255.7h0.56v0.56h-0.56zM103.3 252.0h0.56v0.56h-0.56zM104.5 239.2h0.56v0.56h-0.56zM120.4 258.6h0.56v0.56h-0.56zM107.9 250.1h0.56v0.56h-0.56zM105.2 265.6h0.56v0.56h-0.56zM113.3 254.3h0.56v0.56h-0.56zM95.8 254.8h0.56v0.56h-0.56zM101.2 258.8h0.56v0.56h-0.56zM95.6 252.8h0.56v0.56h-0.56zM104.4 251.2h0.56v0.56h-0.56zM108.9 247.4h0.56v0.56h-0.56zM95.8 251.9h0.56v0.56h-0.56zM107.7 252.2h0.56v0.56h-0.56zM99.5 258.5h0.56v0.56h-0.56zM104.2 250.9h0.56v0.56h-0.56zM103.6 252.5h0.56v0.56h-0.56zM106.4 254.7h0.56v0.56h-0.56zM98.3 251.2h0.56v0.56h-0.56zM100.5 256.0h0.56v0.56h-0.56zM105.1 249.1h0.56v0.56h-0.56zM101.8 255.7h0.56v0.56h-0.56zM109.2 255.3h0.56v0.56h-0.56zM114.1 254.0h0.56v0.56h-0.56zM107.1 252.0h0.56v0.56h-0.56zM97.2 254.5h0.56v0.56h-0.56zM105.7 255.8h0.56v0.56h-0.56zM103.7 252.0h0.56v0.56h-0.56zM98.2 252.2h0.56v0.56h-0.56zM105.6 259.4h0.56v0.56h-0.56zM84.0 257.4h0.56v0.56h-0.56zM109.1 261.1h0.56v0.56h-0.56zM105.1 257.7h0.56v0.56h-0.56zM100.3 253.4h0.56v0.56h-0.56zM105.9 247.6h0.56v0.56h-0.56zM98.3 255.0h0.56v0.56h-0.56zM95.2 254.2h0.56v0.56h-0.56zM94.4 255.0h0.56v0.56h-0.56zM103.0 250.7h0.56v0.56h-0.56zM97.5 251.0h0.56v0.56h-0.56zM90.0 251.6h0.56v0.56h-0.56zM103.6 260.8h0.56v0.56h-0.56zM100.0 252.9h0.56v0.56h-0.56zM110.9 263.9h0.56v0.56h-0.56zM100.1 259.9h0.56v0.56h-0.56zM109.7 256.9h0.56v0.56h-0.56zM97.2 248.5h0.56v0.56h-0.56zM106.2 267.3h0.56v0.56h-0.56zM101.9 262.9h0.56v0.56h-0.56zM113.8 246.7h0.56v0.56h-0.56zM99.4 262.6h0.56v0.56h-0.56zM108.5 257.0h0.56v0.56h-0.56zM102.8 257.5h0.56v0.56h-0.56zM99.3 268.3h0.56v0.56h-0.56zM96.3 243.5h0.56v0.56h-0.56zM103.7 262.2h0.56v0.56h-0.56zM100.1 253.6h0.56v0.56h-0.56zM97.0 253.5h0.56v0.56h-0.56zM97.0 248.1h0.56v0.56h-0.56zM94.4 250.7h0.56v0.56h-0.56zM113.6 253.6h0.56v0.56h-0.56zM104.0 266.8h0.56v0.56h-0.56zM99.2 248.1h0.56v0.56h-0.56zM105.9 246.8h0.56v0.56h-0.56zM104.8 260.5h0.56v0.56h-0.56zM96.7 250.9h0.56v0.56h-0.56zM112.7 247.8h0.56v0.56h-0.56zM99.0 255.3h0.56v0.56h-0.56zM101.1 249.0h0.56v0.56h-0.56zM112.1 250.5h0.56v0.56h-0.56zM104.8 251.5h0.56v0.56h-0.56zM101.6 246.0h0.56v0.56h-0.56zM108.2 251.4h0.56v0.56h-0.56zM110.2 247.2h0.56v0.56h-0.56zM100.1 256.6h0.56v0.56h-0.56zM103.5 250.1h0.56v0.56h-0.56zM102.1 246.4h0.56v0.56h-0.56zM103.2 238.6h0.56v0.56h-0.56zM103.9 261.7h0.56v0.56h-0.56zM108.0 258.8h0.56v0.56h-0.56zM100.5 256.7h0.56v0.56h-0.56zM100.6 253.4h0.56v0.56h-0.56zM102.3 234.4h0.56v0.56h-0.56zM108.2 256.5h0.56v0.56h-0.56zM107.7 248.4h0.56v0.56h-0.56zM106.9 256.7h0.56v0.56h-0.56zM90.0 243.7h0.56v0.56h-0.56zM103.2 250.0h0.56v0.56h-0.56zM102.8 250.2h0.56v0.56h-0.56zM111.5 242.9h0.56v0.56h-0.56zM95.0 248.2h0.56v0.56h-0.56zM95.0 250.5h0.56v0.56h-0.56zM102.7 246.1h0.56v0.56h-0.56zM105.0 261.5h0.56v0.56h-0.56zM109.2 265.5h0.56v0.56h-0.56zM109.4 253.7h0.56v0.56h-0.56zM113.2 258.0h0.56v0.56h-0.56zM113.7 252.8h0.56v0.56h-0.56zM90.8 247.2h0.56v0.56h-0.56zM103.9 257.1h0.56v0.56h-0.56zM101.7 259.7h0.56v0.56h-0.56zM96.3 249.9h0.56v0.56h-0.56zM108.6 254.2h0.56v0.56h-0.56zM103.5 262.1h0.56v0.56h-0.56zM109.3 249.4h0.56v0.56h-0.56zM104.1 244.1h0.56v0.56h-0.56zM102.9 256.2h0.56v0.56h-0.56zM92.9 263.0h0.56v0.56h-0.56zM114.5 256.8h0.56v0.56h-0.56zM108.3 262.6h0.56v0.56h-0.56zM102.0 260.0h0.56v0.56h-0.56zM105.2 245.1h0.56v0.56h-0.56zM97.8 250.7h0.56v0.56h-0.56zM109.2 254.6h0.56v0.56h-0.56zM108.7 251.3h0.56v0.56h-0.56zM95.6 265.9h0.56v0.56h-0.56zM118.7 256.2h0.56v0.56h-0.56zM101.9 260.9h0.56v0.56h-0.56zM96.6 252.8h0.56v0.56h-0.56zM94.7 256.8h0.56v0.56h-0.56zM104.4 251.7h0.56v0.56h-0.56zM99.3 245.2h0.56v0.56h-0.56zM98.2 261.1h0.56v0.56h-0.56zM101.0 261.3h0.56v0.56h-0.56zM98.0 253.5h0.56v0.56h-0.56zM100.4 252.5h0.56v0.56h-0.56zM107.5 242.1h0.56v0.56h-0.56zM107.3 258.0h0.56v0.56h-0.56zM103.0 254.5h0.56v0.56h-0.56zM101.7 258.0h0.56v0.56h-0.56zM103.3 249.1h0.56v0.56h-0.56zM103.9 259.5h0.56v0.56h-0.56zM105.2 254.2h0.56v0.56h-0.56zM104.2 251.2h0.56v0.56h-0.56zM100.4 243.1h0.56v0.56h-0.56zM102.0 259.7h0.56v0.56h-0.56zM100.8 248.8h0.56v0.56h-0.56zM108.2 255.0h0.56v0.56h-0.56zM103.8 256.7h0.56v0.56h-0.56zM107.0 253.8h0.56v0.56h-0.56zM98.2 264.0h0.56v0.56h-0.56zM103.3 249.6h0.56v0.56h-0.56zM104.1 260.9h0.56v0.56h-0.56zM94.9 261.5h0.56v0.56h-0.56zM102.2 265.5h0.56v0.56h-0.56zM106.9 253.4h0.56v0.56h-0.56zM110.2 261.3h0.56v0.56h-0.56zM101.0 255.4h0.56v0.56h-0.56zM100.1 259.3h0.56v0.56h-0.56zM95.0 253.0h0.56v0.56h-0.56zM90.8 257.4h0.56v0.56h-0.56zM90.2 248.0h0.56v0.56h-0.56zM104.5 252.0h0.56v0.56h-0.56zM100.5 248.5h0.56v0.56h-0.56zM100.3 244.0h0.56v0.56h-0.56zM104.9 258.6h0.56v0.56h-0.56zM107.4 253.8h0.56v0.56h-0.56zM110.0 256.7h0.56v0.56h-0.56zM108.5 256.3h0.56v0.56h-0.56zM103.2 249.7h0.56v0.56h-0.56zM88.0 257.7h0.56v0.56h-0.56zM102.4 265.4h0.56v0.56h-0.56zM91.7 258.8h0.56v0.56h-0.56zM97.6 254.0h0.56v0.56h-0.56zM98.0 256.0h0.56v0.56h-0.56zM102.9 259.0h0.56v0.56h-0.56zM103.9 256.8h0.56v0.56h-0.56zM110.3 257.0h0.56v0.56h-0.56zM102.3 261.1h0.56v0.56h-0.56zM102.4 256.4h0.56v0.56h-0.56zM101.2 250.2h0.56v0.56h-0.56zM85.9 258.0h0.56v0.56h-0.56zM96.4 258.2h0.56v0.56h-0.56zM113.3 246.5h0.56v0.56h-0.56zM108.1 253.5h0.56v0.56h-0.56zM105.6 247.2h0.56v0.56h-0.56zM103.2 254.9h0.56v0.56h-0.56zM111.2 266.3h0.56v0.56h-0.56zM104.8 252.0h0.56v0.56h-0.56zM115.7 253.4h0.56v0.56h-0.56zM102.7 254.6h0.56v0.56h-0.56zM105.7 258.1h0.56v0.56h-0.56zM99.8 253.4h0.56v0.56h-0.56zM113.8 263.2h0.56v0.56h-0.56z" fill="#222" fill-opacity="0.4" clip-path="url(#cp17)"/>
<g clip-path="url(#cp17)"><ellipse cx="101.6" cy="256.2" rx="5.0" ry="4.3" fill="#000" fill-opacity="0.85" filter="url(#b1p5)"/></g>
<path d="M102.9 256.9h0.7v0.7h-0.7zM101.0 258.8h0.7v0.7h-0.7zM100.2 256.5h0.7v0.7h-0.7zM100.3 254.7h0.7v0.7h-0.7zM101.8 256.2h0.7v0.7h-0.7zM100.0 256.1h0.7v0.7h-0.7zM101.8 255.1h0.7v0.7h-0.7zM99.8 255.9h0.7v0.7h-0.7zM103.6 259.0h0.7v0.7h-0.7zM102.2 255.6h0.7v0.7h-0.7zM101.6 261.0h0.7v0.7h-0.7zM104.3 253.9h0.7v0.7h-0.7zM101.5 254.9h0.7v0.7h-0.7zM100.6 252.1h0.7v0.7h-0.7zM101.7 252.9h0.7v0.7h-0.7zM100.0 260.0h0.7v0.7h-0.7zM104.5 254.1h0.7v0.7h-0.7zM98.7 254.0h0.7v0.7h-0.7zM96.3 253.8h0.7v0.7h-0.7zM100.9 253.7h0.7v0.7h-0.7zM103.8 256.1h0.7v0.7h-0.7zM100.1 260.6h0.7v0.7h-0.7zM103.7 256.4h0.7v0.7h-0.7zM106.9 259.5h0.7v0.7h-0.7zM99.6 257.0h0.7v0.7h-0.7zM100.4 252.7h0.7v0.7h-0.7zM107.1 260.0h0.7v0.7h-0.7zM98.0 257.5h0.7v0.7h-0.7zM97.0 258.9h0.7v0.7h-0.7zM101.5 255.5h0.7v0.7h-0.7zM105.3 256.3h0.7v0.7h-0.7zM100.9 258.5h0.7v0.7h-0.7zM100.8 258.4h0.7v0.7h-0.7zM101.7 258.3h0.7v0.7h-0.7zM103.5 258.2h0.7v0.7h-0.7zM98.8 260.9h0.7v0.7h-0.7zM101.2 260.6h0.7v0.7h-0.7zM99.9 255.6h0.7v0.7h-0.7zM100.9 259.1h0.7v0.7h-0.7zM100.4 257.3h0.7v0.7h-0.7zM97.2 255.1h0.7v0.7h-0.7zM102.3 256.0h0.7v0.7h-0.7zM96.3 257.5h0.7v0.7h-0.7zM98.9 261.1h0.7v0.7h-0.7zM101.1 261.9h0.7v0.7h-0.7zM103.6 257.4h0.7v0.7h-0.7zM100.3 256.0h0.7v0.7h-0.7zM103.0 251.4h0.7v0.7h-0.7zM104.5 253.3h0.7v0.7h-0.7zM100.9 249.4h0.7v0.7h-0.7zM103.0 258.1h0.7v0.7h-0.7zM102.5 257.1h0.7v0.7h-0.7zM100.6 256.6h0.7v0.7h-0.7zM105.2 255.2h0.7v0.7h-0.7zM103.1 258.1h0.7v0.7h-0.7zM101.0 256.8h0.7v0.7h-0.7zM102.3 255.0h0.7v0.7h-0.7zM108.7 255.2h0.7v0.7h-0.7zM106.6 258.9h0.7v0.7h-0.7zM95.8 256.9h0.7v0.7h-0.7zM104.6 258.3h0.7v0.7h-0.7zM99.0 256.9h0.7v0.7h-0.7zM98.2 253.6h0.7v0.7h-0.7zM101.0 256.7h0.7v0.7h-0.7zM106.3 257.1h0.7v0.7h-0.7zM104.7 253.2h0.7v0.7h-0.7zM98.3 255.0h0.7v0.7h-0.7zM106.7 252.9h0.7v0.7h-0.7zM97.1 256.1h0.7v0.7h-0.7zM105.1 252.1h0.7v0.7h-0.7zM100.9 252.8h0.7v0.7h-0.7zM105.9 258.0h0.7v0.7h-0.7zM102.4 256.1h0.7v0.7h-0.7zM101.0 256.6h0.7v0.7h-0.7zM99.8 254.0h0.7v0.7h-0.7zM98.4 256.3h0.7v0.7h-0.7zM99.3 258.4h0.7v0.7h-0.7zM95.5 257.7h0.7v0.7h-0.7zM103.2 259.3h0.7v0.7h-0.7zM100.9 252.4h0.7v0.7h-0.7zM98.9 259.1h0.7v0.7h-0.7zM100.7 255.2h0.7v0.7h-0.7zM99.9 256.1h0.7v0.7h-0.7zM101.0 252.3h0.7v0.7h-0.7zM99.9 258.8h0.7v0.7h-0.7zM105.9 255.9h0.7v0.7h-0.7zM100.1 259.7h0.7v0.7h-0.7zM101.1 253.3h0.7v0.7h-0.7zM101.3 258.0h0.7v0.7h-0.7zM106.2 255.0h0.7v0.7h-0.7zM103.2 255.4h0.7v0.7h-0.7zM105.0 256.9h0.7v0.7h-0.7zM102.4 253.7h0.7v0.7h-0.7zM100.7 255.4h0.7v0.7h-0.7zM91.1 258.4h0.7v0.7h-0.7zM101.6 255.7h0.7v0.7h-0.7zM100.6 256.3h0.7v0.7h-0.7zM102.3 252.9h0.7v0.7h-0.7zM102.0 256.5h0.7v0.7h-0.7zM101.7 252.5h0.7v0.7h-0.7zM101.2 253.0h0.7v0.7h-0.7zM102.6 259.6h0.7v0.7h-0.7zM104.2 255.4h0.7v0.7h-0.7zM100.0 254.8h0.7v0.7h-0.7zM102.6 254.5h0.7v0.7h-0.7zM100.1 249.9h0.7v0.7h-0.7zM99.1 254.2h0.7v0.7h-0.7zM100.0 259.3h0.7v0.7h-0.7zM97.7 252.9h0.7v0.7h-0.7zM103.4 253.7h0.7v0.7h-0.7zM101.1 256.7h0.7v0.7h-0.7zM101.7 254.3h0.7v0.7h-0.7zM104.3 260.0h0.7v0.7h-0.7zM98.7 255.5h0.7v0.7h-0.7zM104.4 255.7h0.7v0.7h-0.7zM98.7 255.1h0.7v0.7h-0.7zM104.0 253.7h0.7v0.7h-0.7zM102.4 257.2h0.7v0.7h-0.7zM99.7 257.6h0.7v0.7h-0.7zM103.6 258.7h0.7v0.7h-0.7zM104.3 252.4h0.7v0.7h-0.7zM104.2 257.7h0.7v0.7h-0.7zM104.5 254.1h0.7v0.7h-0.7zM104.3 257.2h0.7v0.7h-0.7zM98.2 259.4h0.7v0.7h-0.7zM99.3 253.7h0.7v0.7h-0.7zM102.8 254.7h0.7v0.7h-0.7zM102.7 255.6h0.7v0.7h-0.7zM102.4 258.3h0.7v0.7h-0.7zM101.5 258.4h0.7v0.7h-0.7zM104.1 254.1h0.7v0.7h-0.7zM104.1 257.8h0.7v0.7h-0.7zM102.0 259.0h0.7v0.7h-0.7zM106.4 258.1h0.7v0.7h-0.7zM97.4 257.3h0.7v0.7h-0.7zM101.2 255.5h0.7v0.7h-0.7zM102.6 255.4h0.7v0.7h-0.7zM106.4 256.9h0.7v0.7h-0.7zM101.7 258.2h0.7v0.7h-0.7zM104.0 259.2h0.7v0.7h-0.7zM103.5 256.1h0.7v0.7h-0.7zM102.0 250.8h0.7v0.7h-0.7zM97.4 258.9h0.7v0.7h-0.7zM100.7 260.8h0.7v0.7h-0.7zM106.9 253.1h0.7v0.7h-0.7zM102.5 263.5h0.7v0.7h-0.7zM99.4 257.2h0.7v0.7h-0.7zM101.0 255.6h0.7v0.7h-0.7zM100.8 256.2h0.7v0.7h-0.7zM103.9 254.2h0.7v0.7h-0.7zM103.1 254.5h0.7v0.7h-0.7zM103.2 257.0h0.7v0.7h-0.7zM99.4 256.6h0.7v0.7h-0.7zM99.5 254.1h0.7v0.7h-0.7zM105.0 251.7h0.7v0.7h-0.7zM103.3 258.0h0.7v0.7h-0.7zM99.9 259.0h0.7v0.7h-0.7zM104.3 253.0h0.7v0.7h-0.7zM103.2 257.4h0.7v0.7h-0.7zM99.5 257.7h0.7v0.7h-0.7zM103.8 254.4h0.7v0.7h-0.7zM95.9 257.3h0.7v0.7h-0.7zM99.5 251.9h0.7v0.7h-0.7zM100.5 250.2h0.7v0.7h-0.7zM100.7 260.0h0.7v0.7h-0.7zM93.4 257.4h0.7v0.7h-0.7zM99.0 255.2h0.7v0.7h-0.7zM99.0 257.9h0.7v0.7h-0.7zM101.6 254.3h0.7v0.7h-0.7zM97.8 255.2h0.7v0.7h-0.7zM105.0 253.2h0.7v0.7h-0.7zM102.9 257.1h0.7v0.7h-0.7zM95.8 259.0h0.7v0.7h-0.7zM101.5 261.9h0.7v0.7h-0.7zM106.7 255.6h0.7v0.7h-0.7zM101.2 253.7h0.7v0.7h-0.7zM97.6 258.3h0.7v0.7h-0.7zM100.9 255.2h0.7v0.7h-0.7zM101.2 258.0h0.7v0.7h-0.7zM104.4 256.2h0.7v0.7h-0.7zM101.1 256.5h0.7v0.7h-0.7zM107.7 251.0h0.7v0.7h-0.7zM98.3 257.5h0.7v0.7h-0.7zM102.1 259.4h0.7v0.7h-0.7zM105.5 261.3h0.7v0.7h-0.7zM99.3 257.8h0.7v0.7h-0.7zM101.0 258.7h0.7v0.7h-0.7zM102.2 258.5h0.7v0.7h-0.7zM99.5 256.7h0.7v0.7h-0.7zM100.2 255.6h0.7v0.7h-0.7zM100.3 253.6h0.7v0.7h-0.7zM104.9 257.0h0.7v0.7h-0.7zM104.9 253.7h0.7v0.7h-0.7zM95.9 254.6h0.7v0.7h-0.7zM101.2 258.3h0.7v0.7h-0.7zM104.8 259.4h0.7v0.7h-0.7zM106.2 258.1h0.7v0.7h-0.7zM102.0 254.3h0.7v0.7h-0.7zM103.7 255.0h0.7v0.7h-0.7zM99.3 257.8h0.7v0.7h-0.7zM102.3 258.4h0.7v0.7h-0.7zM99.6 259.3h0.7v0.7h-0.7zM102.7 255.8h0.7v0.7h-0.7zM99.4 253.5h0.7v0.7h-0.7zM97.7 259.8h0.7v0.7h-0.7zM97.5 257.9h0.7v0.7h-0.7zM100.9 254.8h0.7v0.7h-0.7zM100.3 256.0h0.7v0.7h-0.7zM104.3 257.7h0.7v0.7h-0.7zM101.7 252.8h0.7v0.7h-0.7zM96.4 261.0h0.7v0.7h-0.7zM98.7 252.3h0.7v0.7h-0.7zM105.0 252.4h0.7v0.7h-0.7zM103.9 258.6h0.7v0.7h-0.7zM102.4 258.7h0.7v0.7h-0.7zM97.6 253.1h0.7v0.7h-0.7zM101.1 256.3h0.7v0.7h-0.7zM101.4 257.5h0.7v0.7h-0.7zM99.5 250.8h0.7v0.7h-0.7zM102.9 255.7h0.7v0.7h-0.7zM104.1 261.6h0.7v0.7h-0.7zM101.9 257.7h0.7v0.7h-0.7zM99.0 258.6h0.7v0.7h-0.7zM102.7 256.9h0.7v0.7h-0.7zM104.4 253.4h0.7v0.7h-0.7zM103.3 257.4h0.7v0.7h-0.7zM106.3 251.6h0.7v0.7h-0.7zM101.4 261.9h0.7v0.7h-0.7zM100.5 255.1h0.7v0.7h-0.7zM106.9 262.7h0.7v0.7h-0.7zM102.0 254.4h0.7v0.7h-0.7zM99.9 255.2h0.7v0.7h-0.7zM99.2 254.2h0.7v0.7h-0.7zM102.2 256.4h0.7v0.7h-0.7zM103.1 256.3h0.7v0.7h-0.7zM98.1 258.1h0.7v0.7h-0.7zM102.4 254.8h0.7v0.7h-0.7zM100.9 257.1h0.7v0.7h-0.7zM101.9 255.9h0.7v0.7h-0.7zM103.9 259.0h0.7v0.7h-0.7zM100.7 256.2h0.7v0.7h-0.7zM98.4 255.8h0.7v0.7h-0.7zM103.1 258.5h0.7v0.7h-0.7zM102.2 256.0h0.7v0.7h-0.7zM99.5 256.8h0.7v0.7h-0.7zM98.4 256.6h0.7v0.7h-0.7zM101.7 253.9h0.7v0.7h-0.7zM102.6 255.7h0.7v0.7h-0.7zM103.4 255.0h0.7v0.7h-0.7zM103.1 260.2h0.7v0.7h-0.7zM102.2 258.3h0.7v0.7h-0.7zM99.8 255.3h0.7v0.7h-0.7zM96.1 255.9h0.7v0.7h-0.7zM98.3 256.5h0.7v0.7h-0.7zM95.6 254.0h0.7v0.7h-0.7zM101.9 257.2h0.7v0.7h-0.7zM96.8 255.2h0.7v0.7h-0.7zM109.2 258.3h0.7v0.7h-0.7zM102.1 249.2h0.7v0.7h-0.7zM98.9 257.6h0.7v0.7h-0.7zM102.3 257.4h0.7v0.7h-0.7zM104.5 256.5h0.7v0.7h-0.7zM104.1 251.7h0.7v0.7h-0.7zM109.0 255.5h0.7v0.7h-0.7zM99.7 260.1h0.7v0.7h-0.7zM103.4 258.7h0.7v0.7h-0.7zM99.8 257.0h0.7v0.7h-0.7zM103.7 253.3h0.7v0.7h-0.7zM101.0 255.6h0.7v0.7h-0.7zM100.8 254.4h0.7v0.7h-0.7zM97.9 257.3h0.7v0.7h-0.7zM102.4 259.2h0.7v0.7h-0.7zM101.4 254.5h0.7v0.7h-0.7zM97.4 256.4h0.7v0.7h-0.7zM100.7 261.4h0.7v0.7h-0.7zM108.4 260.2h0.7v0.7h-0.7zM99.0 252.7h0.7v0.7h-0.7zM100.9 254.0h0.7v0.7h-0.7zM105.8 256.5h0.7v0.7h-0.7zM100.4 256.2h0.7v0.7h-0.7zM105.3 253.8h0.7v0.7h-0.7zM103.1 252.9h0.7v0.7h-0.7zM101.0 254.5h0.7v0.7h-0.7zM102.6 256.6h0.7v0.7h-0.7zM105.1 258.0h0.7v0.7h-0.7zM99.9 252.9h0.7v0.7h-0.7zM99.2 255.1h0.7v0.7h-0.7zM101.0 254.3h0.7v0.7h-0.7zM104.8 258.6h0.7v0.7h-0.7zM100.8 255.0h0.7v0.7h-0.7zM100.9 256.1h0.7v0.7h-0.7zM101.6 252.1h0.7v0.7h-0.7zM100.4 251.4h0.7v0.7h-0.7zM101.7 257.9h0.7v0.7h-0.7zM98.5 256.6h0.7v0.7h-0.7zM99.8 254.4h0.7v0.7h-0.7zM107.4 258.5h0.7v0.7h-0.7zM103.0 255.1h0.7v0.7h-0.7zM102.8 255.7h0.7v0.7h-0.7zM103.0 253.9h0.7v0.7h-0.7zM101.4 255.2h0.7v0.7h-0.7zM97.5 260.5h0.7v0.7h-0.7zM104.0 254.2h0.7v0.7h-0.7zM97.3 254.4h0.7v0.7h-0.7zM99.2 254.7h0.7v0.7h-0.7zM97.2 254.1h0.7v0.7h-0.7zM101.8 257.3h0.7v0.7h-0.7zM95.8 256.2h0.7v0.7h-0.7zM98.7 253.6h0.7v0.7h-0.7zM100.7 254.5h0.7v0.7h-0.7zM103.7 258.0h0.7v0.7h-0.7zM100.7 254.6h0.7v0.7h-0.7zM106.9 261.0h0.7v0.7h-0.7zM102.7 255.8h0.7v0.7h-0.7zM104.6 259.9h0.7v0.7h-0.7zM100.1 260.8h0.7v0.7h-0.7zM101.1 259.0h0.7v0.7h-0.7zM100.1 256.4h0.7v0.7h-0.7zM100.3 256.3h0.7v0.7h-0.7zM104.6 253.9h0.7v0.7h-0.7zM100.7 257.6h0.7v0.7h-0.7zM100.2 261.4h0.7v0.7h-0.7zM97.3 262.7h0.7v0.7h-0.7zM99.7 258.7h0.7v0.7h-0.7zM106.4 257.6h0.7v0.7h-0.7zM97.4 255.3h0.7v0.7h-0.7zM101.8 257.7h0.7v0.7h-0.7zM104.5 259.1h0.7v0.7h-0.7zM106.0 253.8h0.7v0.7h-0.7zM104.5 251.7h0.7v0.7h-0.7zM102.0 253.5h0.7v0.7h-0.7zM96.3 258.6h0.7v0.7h-0.7zM101.5 258.8h0.7v0.7h-0.7zM96.9 253.1h0.7v0.7h-0.7zM101.3 254.5h0.7v0.7h-0.7zM101.8 254.6h0.7v0.7h-0.7zM100.6 253.3h0.7v0.7h-0.7zM105.4 255.4h0.7v0.7h-0.7zM98.1 258.0h0.7v0.7h-0.7zM103.0 256.8h0.7v0.7h-0.7zM102.3 255.2h0.7v0.7h-0.7zM101.2 250.5h0.7v0.7h-0.7zM97.0 253.0h0.7v0.7h-0.7zM102.5 259.4h0.7v0.7h-0.7zM101.1 255.5h0.7v0.7h-0.7zM105.0 255.3h0.7v0.7h-0.7zM103.6 257.3h0.7v0.7h-0.7zM97.7 257.0h0.7v0.7h-0.7zM102.2 253.2h0.7v0.7h-0.7zM98.5 252.9h0.7v0.7h-0.7zM105.7 261.7h0.7v0.7h-0.7zM103.7 260.3h0.7v0.7h-0.7zM97.6 259.8h0.7v0.7h-0.7zM107.5 260.4h0.7v0.7h-0.7zM98.8 259.0h0.7v0.7h-0.7zM101.3 259.0h0.7v0.7h-0.7zM99.7 256.2h0.7v0.7h-0.7zM99.9 257.4h0.7v0.7h-0.7zM101.3 259.1h0.7v0.7h-0.7zM104.1 257.3h0.7v0.7h-0.7zM101.5 255.4h0.7v0.7h-0.7zM101.6 258.1h0.7v0.7h-0.7zM102.0 257.0h0.7v0.7h-0.7zM101.5 256.0h0.7v0.7h-0.7zM99.6 251.3h0.7v0.7h-0.7zM103.3 257.7h0.7v0.7h-0.7zM98.7 261.2h0.7v0.7h-0.7zM98.1 258.8h0.7v0.7h-0.7zM102.4 257.0h0.7v0.7h-0.7zM105.0 258.6h0.7v0.7h-0.7zM101.7 253.5h0.7v0.7h-0.7zM98.0 256.7h0.7v0.7h-0.7zM106.3 258.5h0.7v0.7h-0.7zM101.5 257.1h0.7v0.7h-0.7zM103.7 260.7h0.7v0.7h-0.7zM99.3 258.1h0.7v0.7h-0.7zM102.4 254.2h0.7v0.7h-0.7zM98.6 259.5h0.7v0.7h-0.7zM102.6 255.7h0.7v0.7h-0.7zM101.9 258.8h0.7v0.7h-0.7zM101.9 260.4h0.7v0.7h-0.7zM100.8 254.2h0.7v0.7h-0.7zM101.3 253.8h0.7v0.7h-0.7zM100.6 259.4h0.7v0.7h-0.7zM106.7 257.9h0.7v0.7h-0.7zM102.2 253.9h0.7v0.7h-0.7zM98.6 257.2h0.7v0.7h-0.7zM102.1 254.7h0.7v0.7h-0.7zM100.3 260.3h0.7v0.7h-0.7zM104.6 256.4h0.7v0.7h-0.7zM102.3 259.5h0.7v0.7h-0.7zM102.7 256.8h0.7v0.7h-0.7zM96.9 251.8h0.7v0.7h-0.7zM95.9 250.4h0.7v0.7h-0.7zM101.6 257.1h0.7v0.7h-0.7zM99.0 257.4h0.7v0.7h-0.7zM102.9 256.0h0.7v0.7h-0.7zM97.2 260.0h0.7v0.7h-0.7zM105.7 254.7h0.7v0.7h-0.7zM107.4 256.3h0.7v0.7h-0.7zM99.3 255.2h0.7v0.7h-0.7zM96.1 255.3h0.7v0.7h-0.7zM96.8 259.2h0.7v0.7h-0.7zM102.6 252.6h0.7v0.7h-0.7zM103.3 251.8h0.7v0.7h-0.7zM102.1 257.5h0.7v0.7h-0.7zM101.8 253.3h0.7v0.7h-0.7zM101.3 255.7h0.7v0.7h-0.7zM101.8 260.1h0.7v0.7h-0.7zM106.7 260.3h0.7v0.7h-0.7zM99.7 254.3h0.7v0.7h-0.7zM101.7 257.3h0.7v0.7h-0.7zM95.4 254.6h0.7v0.7h-0.7zM107.0 253.0h0.7v0.7h-0.7zM99.4 254.4h0.7v0.7h-0.7zM103.1 256.0h0.7v0.7h-0.7zM100.6 252.3h0.7v0.7h-0.7zM103.4 256.2h0.7v0.7h-0.7zM99.6 256.3h0.7v0.7h-0.7zM104.0 252.4h0.7v0.7h-0.7zM97.0 253.5h0.7v0.7h-0.7zM99.0 248.3h0.7v0.7h-0.7zM99.8 259.1h0.7v0.7h-0.7zM100.6 258.8h0.7v0.7h-0.7zM93.0 255.9h0.7v0.7h-0.7zM105.8 260.3h0.7v0.7h-0.7zM100.1 254.1h0.7v0.7h-0.7zM102.8 253.0h0.7v0.7h-0.7zM100.5 251.9h0.7v0.7h-0.7zM101.8 256.2h0.7v0.7h-0.7zM106.5 257.1h0.7v0.7h-0.7zM99.6 256.0h0.7v0.7h-0.7zM97.7 256.3h0.7v0.7h-0.7zM101.0 257.3h0.7v0.7h-0.7zM104.4 251.0h0.7v0.7h-0.7zM102.6 258.1h0.7v0.7h-0.7zM98.0 261.1h0.7v0.7h-0.7zM99.4 262.6h0.7v0.7h-0.7zM104.0 258.7h0.7v0.7h-0.7zM102.4 258.8h0.7v0.7h-0.7zM98.5 254.1h0.7v0.7h-0.7zM95.7 257.6h0.7v0.7h-0.7zM99.5 258.2h0.7v0.7h-0.7zM103.4 252.7h0.7v0.7h-0.7zM103.7 256.9h0.7v0.7h-0.7zM102.2 257.4h0.7v0.7h-0.7zM101.5 256.2h0.7v0.7h-0.7zM104.8 253.6h0.7v0.7h-0.7zM98.0 254.2h0.7v0.7h-0.7zM104.7 255.4h0.7v0.7h-0.7zM107.4 248.2h0.7v0.7h-0.7zM99.5 255.0h0.7v0.7h-0.7zM102.4 259.7h0.7v0.7h-0.7zM101.0 253.5h0.7v0.7h-0.7zM104.1 260.2h0.7v0.7h-0.7zM93.9 257.7h0.7v0.7h-0.7zM102.5 254.0h0.7v0.7h-0.7zM100.2 257.0h0.7v0.7h-0.7zM101.7 255.6h0.7v0.7h-0.7zM98.1 256.9h0.7v0.7h-0.7zM99.6 256.4h0.7v0.7h-0.7zM99.8 256.7h0.7v0.7h-0.7zM103.8 256.8h0.7v0.7h-0.7zM103.6 252.6h0.7v0.7h-0.7zM103.0 257.0h0.7v0.7h-0.7zM99.7 255.8h0.7v0.7h-0.7zM93.2 256.4h0.7v0.7h-0.7zM100.4 250.3h0.7v0.7h-0.7zM103.1 254.5h0.7v0.7h-0.7zM102.4 255.6h0.7v0.7h-0.7zM103.0 256.4h0.7v0.7h-0.7zM100.7 257.5h0.7v0.7h-0.7zM104.1 250.3h0.7v0.7h-0.7zM101.7 254.6h0.7v0.7h-0.7zM98.3 259.6h0.7v0.7h-0.7zM104.5 253.5h0.7v0.7h-0.7zM98.2 258.3h0.7v0.7h-0.7zM99.7 255.3h0.7v0.7h-0.7zM95.7 255.8h0.7v0.7h-0.7zM105.0 255.0h0.7v0.7h-0.7zM101.2 260.7h0.7v0.7h-0.7zM104.2 259.9h0.7v0.7h-0.7zM103.5 259.3h0.7v0.7h-0.7zM96.6 254.0h0.7v0.7h-0.7zM96.6 262.0h0.7v0.7h-0.7zM102.1 255.9h0.7v0.7h-0.7zM99.3 253.5h0.7v0.7h-0.7zM93.2 262.0h0.7v0.7h-0.7zM101.3 256.3h0.7v0.7h-0.7zM97.4 256.0h0.7v0.7h-0.7zM102.7 256.0h0.7v0.7h-0.7zM103.4 254.0h0.7v0.7h-0.7zM102.5 258.5h0.7v0.7h-0.7zM103.3 257.2h0.7v0.7h-0.7zM101.3 253.6h0.7v0.7h-0.7zM103.2 255.2h0.7v0.7h-0.7zM98.7 258.2h0.7v0.7h-0.7zM96.7 254.7h0.7v0.7h-0.7zM103.9 258.6h0.7v0.7h-0.7zM100.5 256.3h0.7v0.7h-0.7z" fill="#000" fill-opacity="0.7" clip-path="url(#cp17)"/>
<g clip-path="url(#cp17)"><ellipse cx="100.8" cy="240.8" rx="3.8" ry="3.8" fill="#e03030" fill-opacity="0.6" filter="url(#b1p2)"/></g>
<path d="M102.1 240.6h0.7v0.7h-0.7zM98.9 241.8h0.7v0.7h-0.7zM101.2 241.0h0.7v0.7h-0.7zM103.5 241.5h0.7v0.7h-0.7zM99.7 241.2h0.7v0.7h-0.7zM105.4 239.1h0.7v0.7h-0.7zM100.1 238.9h0.7v0.7h-0.7zM101.6 237.8h0.7v0.7h-0.7zM101.9 242.6h0.7v0.7h-0.7zM98.9 238.7h0.7v0.7h-0.7zM97.2 240.9h0.7v0.7h-0.7zM98.1 239.3h0.7v0.7h-0.7zM99.8 239.1h0.7v0.7h-0.7zM102.8 244.6h0.7v0.7h-0.7zM95.7 238.8h0.7v0.7h-0.7zM101.4 238.3h0.7v0.7h-0.7zM99.5 241.3h0.7v0.7h-0.7zM104.1 243.6h0.7v0.7h-0.7zM100.1 241.1h0.7v0.7h-0.7zM99.9 240.4h0.7v0.7h-0.7zM98.0 236.5h0.7v0.7h-0.7zM99.9 243.1h0.7v0.7h-0.7zM102.6 236.3h0.7v0.7h-0.7zM100.3 239.3h0.7v0.7h-0.7zM101.5 238.2h0.7v0.7h-0.7zM103.0 240.3h0.7v0.7h-0.7zM102.2 242.9h0.7v0.7h-0.7zM96.1 240.3h0.7v0.7h-0.7zM104.4 240.8h0.7v0.7h-0.7zM103.3 241.8h0.7v0.7h-0.7zM99.6 241.5h0.7v0.7h-0.7zM103.3 243.9h0.7v0.7h-0.7zM104.3 238.1h0.7v0.7h-0.7zM102.8 237.5h0.7v0.7h-0.7zM100.5 240.3h0.7v0.7h-0.7zM102.3 241.5h0.7v0.7h-0.7zM103.8 239.3h0.7v0.7h-0.7zM102.8 241.7h0.7v0.7h-0.7zM100.8 237.9h0.7v0.7h-0.7zM102.2 241.5h0.7v0.7h-0.7zM102.7 240.7h0.7v0.7h-0.7zM100.2 241.7h0.7v0.7h-0.7zM101.9 242.4h0.7v0.7h-0.7zM105.3 239.3h0.7v0.7h-0.7zM105.6 233.7h0.7v0.7h-0.7zM103.1 238.8h0.7v0.7h-0.7zM105.6 238.7h0.7v0.7h-0.7zM103.3 238.4h0.7v0.7h-0.7zM98.1 242.7h0.7v0.7h-0.7zM102.9 239.1h0.7v0.7h-0.7zM106.6 240.0h0.7v0.7h-0.7zM104.5 238.4h0.7v0.7h-0.7zM98.5 241.0h0.7v0.7h-0.7zM98.4 241.9h0.7v0.7h-0.7zM95.7 241.2h0.7v0.7h-0.7zM99.4 238.5h0.7v0.7h-0.7zM101.3 240.3h0.7v0.7h-0.7zM99.7 242.7h0.7v0.7h-0.7zM101.5 241.7h0.7v0.7h-0.7zM104.0 240.6h0.7v0.7h-0.7zM102.8 239.8h0.7v0.7h-0.7zM102.2 242.1h0.7v0.7h-0.7zM99.5 237.2h0.7v0.7h-0.7zM97.7 238.5h0.7v0.7h-0.7zM102.1 240.5h0.7v0.7h-0.7zM100.1 241.9h0.7v0.7h-0.7zM102.5 244.1h0.7v0.7h-0.7zM99.4 242.1h0.7v0.7h-0.7zM102.5 238.5h0.7v0.7h-0.7zM101.1 238.6h0.7v0.7h-0.7zM100.3 241.8h0.7v0.7h-0.7zM96.7 238.7h0.7v0.7h-0.7zM98.9 241.0h0.7v0.7h-0.7zM99.0 241.7h0.7v0.7h-0.7zM98.7 239.6h0.7v0.7h-0.7zM102.2 241.6h0.7v0.7h-0.7zM101.2 240.7h0.7v0.7h-0.7zM103.2 244.1h0.7v0.7h-0.7zM99.9 239.1h0.7v0.7h-0.7zM98.3 244.9h0.7v0.7h-0.7zM98.7 237.6h0.7v0.7h-0.7zM101.4 243.3h0.7v0.7h-0.7zM97.8 240.5h0.7v0.7h-0.7zM97.4 239.1h0.7v0.7h-0.7zM104.7 241.2h0.7v0.7h-0.7zM100.2 241.0h0.7v0.7h-0.7zM101.5 240.5h0.7v0.7h-0.7zM98.0 238.0h0.7v0.7h-0.7zM105.6 239.0h0.7v0.7h-0.7zM103.7 239.1h0.7v0.7h-0.7zM103.9 242.5h0.7v0.7h-0.7zM100.3 245.6h0.7v0.7h-0.7zM98.6 240.2h0.7v0.7h-0.7zM98.7 238.9h0.7v0.7h-0.7zM99.9 238.5h0.7v0.7h-0.7zM100.0 244.6h0.7v0.7h-0.7zM96.6 237.8h0.7v0.7h-0.7zM98.5 239.7h0.7v0.7h-0.7zM103.2 242.5h0.7v0.7h-0.7zM101.9 241.3h0.7v0.7h-0.7zM106.5 238.1h0.7v0.7h-0.7zM98.0 240.7h0.7v0.7h-0.7zM101.3 240.2h0.7v0.7h-0.7zM98.8 237.7h0.7v0.7h-0.7zM100.1 239.1h0.7v0.7h-0.7zM99.6 238.2h0.7v0.7h-0.7zM104.0 241.9h0.7v0.7h-0.7zM105.2 239.6h0.7v0.7h-0.7zM100.9 240.2h0.7v0.7h-0.7zM100.8 240.2h0.7v0.7h-0.7zM100.4 236.1h0.7v0.7h-0.7zM100.1 242.4h0.7v0.7h-0.7zM96.2 240.0h0.7v0.7h-0.7zM102.2 243.8h0.7v0.7h-0.7zM100.6 241.9h0.7v0.7h-0.7zM105.0 243.9h0.7v0.7h-0.7zM99.7 239.4h0.7v0.7h-0.7zM103.2 241.3h0.7v0.7h-0.7zM99.5 240.2h0.7v0.7h-0.7zM101.6 240.3h0.7v0.7h-0.7zM100.2 240.2h0.7v0.7h-0.7zM97.2 244.9h0.7v0.7h-0.7zM103.7 244.4h0.7v0.7h-0.7zM100.5 241.1h0.7v0.7h-0.7zM102.2 242.8h0.7v0.7h-0.7zM96.4 241.6h0.7v0.7h-0.7zM98.4 240.6h0.7v0.7h-0.7zM99.2 244.9h0.7v0.7h-0.7zM102.1 240.7h0.7v0.7h-0.7zM104.1 240.6h0.7v0.7h-0.7zM99.1 240.4h0.7v0.7h-0.7zM99.9 240.9h0.7v0.7h-0.7zM102.8 240.5h0.7v0.7h-0.7zM100.6 243.2h0.7v0.7h-0.7zM101.5 243.1h0.7v0.7h-0.7zM101.1 237.7h0.7v0.7h-0.7zM98.1 236.8h0.7v0.7h-0.7zM103.5 241.8h0.7v0.7h-0.7zM99.7 238.4h0.7v0.7h-0.7zM101.7 240.5h0.7v0.7h-0.7zM101.6 238.8h0.7v0.7h-0.7zM98.2 244.5h0.7v0.7h-0.7zM98.5 240.7h0.7v0.7h-0.7zM104.0 236.4h0.7v0.7h-0.7zM102.5 241.0h0.7v0.7h-0.7zM100.5 241.4h0.7v0.7h-0.7zM98.0 235.5h0.7v0.7h-0.7zM105.3 240.1h0.7v0.7h-0.7zM102.9 243.4h0.7v0.7h-0.7zM101.5 241.9h0.7v0.7h-0.7zM102.5 244.5h0.7v0.7h-0.7zM102.0 243.8h0.7v0.7h-0.7zM100.1 239.8h0.7v0.7h-0.7zM101.0 241.8h0.7v0.7h-0.7zM102.1 245.4h0.7v0.7h-0.7zM102.8 241.0h0.7v0.7h-0.7zM105.5 241.6h0.7v0.7h-0.7zM101.7 242.0h0.7v0.7h-0.7zM100.0 238.2h0.7v0.7h-0.7zM101.1 240.1h0.7v0.7h-0.7zM98.8 241.1h0.7v0.7h-0.7zM100.3 239.4h0.7v0.7h-0.7zM96.6 240.4h0.7v0.7h-0.7zM105.0 242.9h0.7v0.7h-0.7zM103.4 240.8h0.7v0.7h-0.7zM103.3 239.2h0.7v0.7h-0.7zM99.7 242.0h0.7v0.7h-0.7zM97.4 240.9h0.7v0.7h-0.7zM101.5 244.8h0.7v0.7h-0.7zM99.1 241.8h0.7v0.7h-0.7zM99.3 239.5h0.7v0.7h-0.7zM94.4 238.6h0.7v0.7h-0.7zM103.5 242.0h0.7v0.7h-0.7zM101.2 246.7h0.7v0.7h-0.7zM102.1 237.9h0.7v0.7h-0.7zM100.3 240.7h0.7v0.7h-0.7zM104.6 238.7h0.7v0.7h-0.7zM101.8 243.1h0.7v0.7h-0.7zM98.9 241.0h0.7v0.7h-0.7zM96.0 241.0h0.7v0.7h-0.7zM95.6 239.9h0.7v0.7h-0.7zM104.9 241.8h0.7v0.7h-0.7zM100.9 241.2h0.7v0.7h-0.7zM105.9 242.1h0.7v0.7h-0.7zM103.3 239.8h0.7v0.7h-0.7zM99.8 238.3h0.7v0.7h-0.7zM100.4 239.2h0.7v0.7h-0.7zM103.2 242.3h0.7v0.7h-0.7zM100.5 239.5h0.7v0.7h-0.7zM93.9 239.4h0.7v0.7h-0.7zM101.5 242.4h0.7v0.7h-0.7zM93.5 235.1h0.7v0.7h-0.7zM101.2 238.4h0.7v0.7h-0.7zM100.3 239.7h0.7v0.7h-0.7zM102.2 236.4h0.7v0.7h-0.7zM99.5 243.0h0.7v0.7h-0.7zM101.3 238.8h0.7v0.7h-0.7zM101.9 241.5h0.7v0.7h-0.7zM98.7 242.5h0.7v0.7h-0.7zM102.4 240.5h0.7v0.7h-0.7zM103.0 238.0h0.7v0.7h-0.7zM102.6 240.4h0.7v0.7h-0.7zM98.6 239.4h0.7v0.7h-0.7zM103.6 239.5h0.7v0.7h-0.7zM100.0 239.3h0.7v0.7h-0.7zM98.9 243.1h0.7v0.7h-0.7zM106.1 244.0h0.7v0.7h-0.7zM102.0 242.6h0.7v0.7h-0.7zM100.0 239.6h0.7v0.7h-0.7zM98.0 244.2h0.7v0.7h-0.7zM100.0 239.1h0.7v0.7h-0.7zM99.3 241.3h0.7v0.7h-0.7zM99.5 240.9h0.7v0.7h-0.7zM101.2 244.0h0.7v0.7h-0.7zM97.9 241.5h0.7v0.7h-0.7zM99.2 239.8h0.7v0.7h-0.7zM104.7 242.3h0.7v0.7h-0.7zM99.9 242.0h0.7v0.7h-0.7zM100.8 243.5h0.7v0.7h-0.7zM99.7 242.0h0.7v0.7h-0.7zM100.3 240.8h0.7v0.7h-0.7zM100.5 239.3h0.7v0.7h-0.7zM101.1 243.1h0.7v0.7h-0.7zM99.4 239.9h0.7v0.7h-0.7zM101.7 239.0h0.7v0.7h-0.7zM102.9 242.5h0.7v0.7h-0.7zM95.4 239.3h0.7v0.7h-0.7zM98.3 242.8h0.7v0.7h-0.7zM103.0 238.0h0.7v0.7h-0.7zM99.2 240.6h0.7v0.7h-0.7zM99.9 242.5h0.7v0.7h-0.7zM103.1 242.2h0.7v0.7h-0.7zM103.4 243.0h0.7v0.7h-0.7zM100.7 239.8h0.7v0.7h-0.7zM99.1 242.8h0.7v0.7h-0.7zM102.9 243.2h0.7v0.7h-0.7zM100.1 239.9h0.7v0.7h-0.7zM101.5 243.8h0.7v0.7h-0.7zM101.7 241.4h0.7v0.7h-0.7zM98.9 241.9h0.7v0.7h-0.7zM102.1 238.6h0.7v0.7h-0.7zM105.0 238.7h0.7v0.7h-0.7zM103.0 240.3h0.7v0.7h-0.7zM101.2 239.0h0.7v0.7h-0.7zM99.5 242.5h0.7v0.7h-0.7zM100.4 240.0h0.7v0.7h-0.7zM102.9 242.5h0.7v0.7h-0.7zM101.2 241.4h0.7v0.7h-0.7zM104.9 240.4h0.7v0.7h-0.7zM101.8 241.8h0.7v0.7h-0.7z" fill="#dd1111" fill-opacity="0.7" clip-path="url(#cp17)"/>
<g clip-path="url(#cp17)"><ellipse cx="111.5" cy="246.3" rx="3.8" ry="3.8" fill="#1020ff" fill-opacity="0.8" filter="url(#b1p2)"/></g>
<path d="M108.2 242.1h0.7v0.7h-0.7zM111.8 248.2h0.7v0.7h-0.7zM112.0 245.2h0.7v0.7h-0.7zM110.0 248.1h0.7v0.7h-0.7zM110.8 242.8h0.7v0.7h-0.7zM113.1 246.8h0.7v0.7h-0.7zM112.4 248.6h0.7v0.7h-0.7zM114.7 247.5h0.7v0.7h-0.7zM111.1 241.7h0.7v0.7h-0.7zM112.2 246.0h0.7v0.7h-0.7zM114.7 249.1h0.7v0.7h-0.7zM112.7 249.3h0.7v0.7h-0.7zM111.4 246.2h0.7v0.7h-0.7zM109.5 245.7h0.7v0.7h-0.7zM112.0 248.6h0.7v0.7h-0.7zM109.8 248.1h0.7v0.7h-0.7zM117.1 243.4h0.7v0.7h-0.7zM110.9 246.4h0.7v0.7h-0.7zM113.9 250.6h0.7v0.7h-0.7zM114.4 246.3h0.7v0.7h-0.7zM109.5 246.2h0.7v0.7h-0.7zM111.4 246.9h0.7v0.7h-0.7zM109.4 249.6h0.7v0.7h-0.7zM109.8 247.8h0.7v0.7h-0.7zM112.0 244.0h0.7v0.7h-0.7zM111.7 246.4h0.7v0.7h-0.7zM111.1 248.1h0.7v0.7h-0.7zM110.4 251.8h0.7v0.7h-0.7zM114.2 244.3h0.7v0.7h-0.7zM105.6 249.0h0.7v0.7h-0.7zM112.1 246.5h0.7v0.7h-0.7zM109.2 243.2h0.7v0.7h-0.7zM107.1 251.9h0.7v0.7h-0.7zM115.3 245.1h0.7v0.7h-0.7zM116.0 242.3h0.7v0.7h-0.7zM113.2 247.9h0.7v0.7h-0.7zM109.5 245.3h0.7v0.7h-0.7zM109.0 246.4h0.7v0.7h-0.7zM114.6 248.5h0.7v0.7h-0.7zM112.5 248.7h0.7v0.7h-0.7zM107.3 250.7h0.7v0.7h-0.7zM111.4 243.4h0.7v0.7h-0.7zM110.6 244.9h0.7v0.7h-0.7zM111.7 247.0h0.7v0.7h-0.7zM106.0 249.1h0.7v0.7h-0.7zM115.6 244.1h0.7v0.7h-0.7zM115.0 249.1h0.7v0.7h-0.7zM113.9 249.9h0.7v0.7h-0.7zM108.2 247.9h0.7v0.7h-0.7zM109.1 251.5h0.7v0.7h-0.7zM109.2 243.6h0.7v0.7h-0.7zM114.2 247.7h0.7v0.7h-0.7zM111.6 246.6h0.7v0.7h-0.7zM113.0 250.1h0.7v0.7h-0.7zM109.8 245.1h0.7v0.7h-0.7zM110.1 246.1h0.7v0.7h-0.7zM111.5 243.5h0.7v0.7h-0.7zM112.2 243.5h0.7v0.7h-0.7zM110.8 245.8h0.7v0.7h-0.7zM110.9 249.6h0.7v0.7h-0.7zM115.4 248.7h0.7v0.7h-0.7zM115.3 245.7h0.7v0.7h-0.7zM114.9 246.2h0.7v0.7h-0.7zM112.1 246.9h0.7v0.7h-0.7zM108.3 245.0h0.7v0.7h-0.7zM111.1 247.1h0.7v0.7h-0.7zM111.2 244.4h0.7v0.7h-0.7zM108.7 246.3h0.7v0.7h-0.7zM108.7 243.7h0.7v0.7h-0.7zM111.3 246.7h0.7v0.7h-0.7zM109.5 242.4h0.7v0.7h-0.7zM112.2 248.1h0.7v0.7h-0.7zM110.5 245.5h0.7v0.7h-0.7zM105.9 248.3h0.7v0.7h-0.7zM108.9 247.9h0.7v0.7h-0.7zM110.1 246.0h0.7v0.7h-0.7zM111.1 242.3h0.7v0.7h-0.7zM118.1 242.9h0.7v0.7h-0.7zM111.8 244.5h0.7v0.7h-0.7zM110.9 249.3h0.7v0.7h-0.7zM107.0 246.0h0.7v0.7h-0.7zM112.7 246.6h0.7v0.7h-0.7zM112.5 244.7h0.7v0.7h-0.7zM107.6 243.4h0.7v0.7h-0.7zM110.5 247.9h0.7v0.7h-0.7zM111.7 249.8h0.7v0.7h-0.7zM111.7 246.7h0.7v0.7h-0.7zM112.0 242.5h0.7v0.7h-0.7zM112.9 243.9h0.7v0.7h-0.7zM110.6 251.5h0.7v0.7h-0.7zM108.5 246.6h0.7v0.7h-0.7zM112.2 246.6h0.7v0.7h-0.7zM111.5 245.1h0.7v0.7h-0.7zM116.3 241.9h0.7v0.7h-0.7zM109.0 249.6h0.7v0.7h-0.7zM112.8 244.6h0.7v0.7h-0.7zM109.3 245.8h0.7v0.7h-0.7zM117.8 247.4h0.7v0.7h-0.7zM109.0 246.8h0.7v0.7h-0.7zM110.0 249.6h0.7v0.7h-0.7zM112.2 249.1h0.7v0.7h-0.7zM111.9 250.8h0.7v0.7h-0.7zM112.5 246.9h0.7v0.7h-0.7zM109.1 245.4h0.7v0.7h-0.7zM112.4 245.2h0.7v0.7h-0.7zM117.5 246.3h0.7v0.7h-0.7zM109.7 248.5h0.7v0.7h-0.7zM110.2 247.2h0.7v0.7h-0.7zM111.3 244.7h0.7v0.7h-0.7zM114.8 246.5h0.7v0.7h-0.7zM114.1 245.6h0.7v0.7h-0.7zM108.1 243.6h0.7v0.7h-0.7zM110.3 245.9h0.7v0.7h-0.7zM111.6 247.4h0.7v0.7h-0.7zM108.5 246.8h0.7v0.7h-0.7zM108.6 244.8h0.7v0.7h-0.7zM117.7 249.1h0.7v0.7h-0.7zM110.6 250.2h0.7v0.7h-0.7zM114.9 248.3h0.7v0.7h-0.7zM115.0 245.8h0.7v0.7h-0.7zM111.2 244.4h0.7v0.7h-0.7zM112.9 243.5h0.7v0.7h-0.7zM110.3 247.3h0.7v0.7h-0.7zM110.3 247.1h0.7v0.7h-0.7zM115.9 244.1h0.7v0.7h-0.7zM114.9 244.8h0.7v0.7h-0.7zM109.3 246.8h0.7v0.7h-0.7zM114.0 244.7h0.7v0.7h-0.7zM109.8 245.3h0.7v0.7h-0.7zM109.8 246.7h0.7v0.7h-0.7zM109.8 245.7h0.7v0.7h-0.7zM112.3 245.4h0.7v0.7h-0.7zM114.3 244.8h0.7v0.7h-0.7zM109.6 250.8h0.7v0.7h-0.7zM115.1 246.5h0.7v0.7h-0.7zM113.5 247.0h0.7v0.7h-0.7zM110.3 247.8h0.7v0.7h-0.7zM112.2 249.1h0.7v0.7h-0.7zM107.1 248.1h0.7v0.7h-0.7zM111.9 244.8h0.7v0.7h-0.7zM110.5 245.4h0.7v0.7h-0.7zM108.3 245.0h0.7v0.7h-0.7zM113.4 243.0h0.7v0.7h-0.7zM110.6 241.1h0.7v0.7h-0.7zM110.1 247.2h0.7v0.7h-0.7zM111.4 246.4h0.7v0.7h-0.7zM108.8 247.6h0.7v0.7h-0.7zM109.3 248.3h0.7v0.7h-0.7zM112.0 245.5h0.7v0.7h-0.7zM115.1 245.4h0.7v0.7h-0.7zM114.0 246.5h0.7v0.7h-0.7zM111.5 248.5h0.7v0.7h-0.7zM112.6 246.3h0.7v0.7h-0.7zM111.2 246.8h0.7v0.7h-0.7zM111.7 245.6h0.7v0.7h-0.7zM109.0 240.6h0.7v0.7h-0.7zM111.2 245.8h0.7v0.7h-0.7zM114.4 247.3h0.7v0.7h-0.7zM114.2 250.1h0.7v0.7h-0.7zM111.2 244.5h0.7v0.7h-0.7zM113.5 245.0h0.7v0.7h-0.7zM110.9 249.5h0.7v0.7h-0.7zM112.8 248.7h0.7v0.7h-0.7zM108.3 246.4h0.7v0.7h-0.7zM114.2 243.5h0.7v0.7h-0.7zM112.0 247.2h0.7v0.7h-0.7zM106.0 249.8h0.7v0.7h-0.7zM109.8 246.0h0.7v0.7h-0.7zM115.5 242.4h0.7v0.7h-0.7zM112.6 245.3h0.7v0.7h-0.7zM111.6 244.5h0.7v0.7h-0.7zM114.8 243.8h0.7v0.7h-0.7zM112.4 247.5h0.7v0.7h-0.7zM111.3 245.7h0.7v0.7h-0.7zM110.9 248.6h0.7v0.7h-0.7zM112.6 246.1h0.7v0.7h-0.7zM108.9 246.7h0.7v0.7h-0.7zM112.8 246.2h0.7v0.7h-0.7zM115.0 242.1h0.7v0.7h-0.7zM117.5 245.9h0.7v0.7h-0.7zM108.8 242.5h0.7v0.7h-0.7zM113.6 247.6h0.7v0.7h-0.7zM111.0 246.2h0.7v0.7h-0.7zM111.9 245.4h0.7v0.7h-0.7zM114.3 247.7h0.7v0.7h-0.7zM111.2 242.7h0.7v0.7h-0.7zM114.8 245.3h0.7v0.7h-0.7zM109.0 249.1h0.7v0.7h-0.7zM112.7 241.9h0.7v0.7h-0.7zM107.5 245.4h0.7v0.7h-0.7zM108.5 246.0h0.7v0.7h-0.7zM117.8 252.9h0.7v0.7h-0.7zM111.4 248.1h0.7v0.7h-0.7zM113.7 246.1h0.7v0.7h-0.7zM108.0 248.7h0.7v0.7h-0.7zM111.1 247.3h0.7v0.7h-0.7zM113.2 244.5h0.7v0.7h-0.7zM115.6 246.5h0.7v0.7h-0.7zM112.1 245.4h0.7v0.7h-0.7zM113.2 248.5h0.7v0.7h-0.7zM110.2 247.6h0.7v0.7h-0.7zM110.5 243.6h0.7v0.7h-0.7zM110.7 247.7h0.7v0.7h-0.7zM112.9 248.7h0.7v0.7h-0.7zM109.9 245.7h0.7v0.7h-0.7zM111.7 247.7h0.7v0.7h-0.7zM111.2 244.2h0.7v0.7h-0.7zM107.8 248.9h0.7v0.7h-0.7zM114.1 244.9h0.7v0.7h-0.7zM115.1 246.2h0.7v0.7h-0.7zM112.6 249.1h0.7v0.7h-0.7zM110.4 244.6h0.7v0.7h-0.7zM107.4 247.0h0.7v0.7h-0.7zM112.6 248.2h0.7v0.7h-0.7zM113.0 246.6h0.7v0.7h-0.7zM114.3 244.1h0.7v0.7h-0.7zM112.5 247.5h0.7v0.7h-0.7zM111.2 250.1h0.7v0.7h-0.7zM112.6 249.3h0.7v0.7h-0.7zM113.7 245.9h0.7v0.7h-0.7zM116.2 248.8h0.7v0.7h-0.7zM111.6 246.1h0.7v0.7h-0.7zM109.0 246.0h0.7v0.7h-0.7zM111.0 246.8h0.7v0.7h-0.7zM110.5 247.6h0.7v0.7h-0.7zM111.3 242.8h0.7v0.7h-0.7zM110.3 244.4h0.7v0.7h-0.7zM108.5 245.8h0.7v0.7h-0.7zM113.7 243.9h0.7v0.7h-0.7zM106.7 246.0h0.7v0.7h-0.7zM118.7 245.0h0.7v0.7h-0.7zM112.2 245.4h0.7v0.7h-0.7zM113.6 249.5h0.7v0.7h-0.7zM111.2 249.0h0.7v0.7h-0.7zM108.9 246.8h0.7v0.7h-0.7zM108.5 246.8h0.7v0.7h-0.7zM110.1 246.9h0.7v0.7h-0.7zM108.8 246.9h0.7v0.7h-0.7zM111.8 245.1h0.7v0.7h-0.7zM109.6 243.7h0.7v0.7h-0.7zM110.6 247.2h0.7v0.7h-0.7zM111.2 246.7h0.7v0.7h-0.7zM114.6 245.6h0.7v0.7h-0.7zM112.3 248.2h0.7v0.7h-0.7zM112.8 247.2h0.7v0.7h-0.7zM111.7 250.6h0.7v0.7h-0.7zM111.4 245.5h0.7v0.7h-0.7zM113.0 250.0h0.7v0.7h-0.7zM115.0 246.4h0.7v0.7h-0.7zM113.6 247.5h0.7v0.7h-0.7z" fill="#0010ee" fill-opacity="0.8" clip-path="url(#cp17)"/>
<g clip-path="url(#cp17)"><ellipse cx="113" cy="253.3" rx="3.2" ry="2.6" fill="#30b030" fill-opacity="0.6" filter="url(#b1p2)"/></g>
<path d="M113.2 254.4h0.7v0.7h-0.7zM114.3 253.6h0.7v0.7h-0.7zM116.5 252.7h0.7v0.7h-0.7zM115.9 256.7h0.7v0.7h-0.7zM117.3 253.8h0.7v0.7h-0.7zM112.7 250.8h0.7v0.7h-0.7zM112.9 257.3h0.7v0.7h-0.7zM109.9 250.9h0.7v0.7h-0.7zM114.7 254.3h0.7v0.7h-0.7zM109.4 253.2h0.7v0.7h-0.7zM113.7 250.9h0.7v0.7h-0.7zM115.0 251.2h0.7v0.7h-0.7zM115.3 253.7h0.7v0.7h-0.7zM111.7 250.8h0.7v0.7h-0.7zM112.4 253.2h0.7v0.7h-0.7zM112.8 252.4h0.7v0.7h-0.7zM112.6 254.7h0.7v0.7h-0.7zM111.2 253.0h0.7v0.7h-0.7zM114.0 253.3h0.7v0.7h-0.7zM114.8 255.8h0.7v0.7h-0.7zM112.3 253.7h0.7v0.7h-0.7zM107.2 252.8h0.7v0.7h-0.7zM114.4 251.5h0.7v0.7h-0.7zM115.7 250.3h0.7v0.7h-0.7zM115.8 252.5h0.7v0.7h-0.7zM111.0 252.6h0.7v0.7h-0.7zM112.5 251.7h0.7v0.7h-0.7zM110.3 252.5h0.7v0.7h-0.7zM114.9 254.0h0.7v0.7h-0.7zM115.7 252.4h0.7v0.7h-0.7zM112.3 252.8h0.7v0.7h-0.7zM113.3 254.1h0.7v0.7h-0.7zM116.6 254.5h0.7v0.7h-0.7zM113.4 255.5h0.7v0.7h-0.7zM111.5 251.2h0.7v0.7h-0.7zM114.4 253.6h0.7v0.7h-0.7zM113.3 254.8h0.7v0.7h-0.7zM112.4 253.1h0.7v0.7h-0.7zM113.8 254.4h0.7v0.7h-0.7zM115.0 253.5h0.7v0.7h-0.7zM113.6 249.4h0.7v0.7h-0.7zM115.5 250.8h0.7v0.7h-0.7zM112.9 257.4h0.7v0.7h-0.7zM112.4 250.8h0.7v0.7h-0.7zM116.3 252.4h0.7v0.7h-0.7zM112.7 253.1h0.7v0.7h-0.7zM114.5 254.6h0.7v0.7h-0.7zM112.8 255.1h0.7v0.7h-0.7zM111.2 254.4h0.7v0.7h-0.7zM111.8 254.4h0.7v0.7h-0.7zM111.7 252.6h0.7v0.7h-0.7zM116.0 251.5h0.7v0.7h-0.7zM110.7 254.2h0.7v0.7h-0.7zM112.5 252.6h0.7v0.7h-0.7zM112.7 256.7h0.7v0.7h-0.7zM110.9 252.9h0.7v0.7h-0.7zM113.3 251.8h0.7v0.7h-0.7zM112.9 254.1h0.7v0.7h-0.7zM111.2 255.1h0.7v0.7h-0.7zM110.7 253.1h0.7v0.7h-0.7zM113.7 258.4h0.7v0.7h-0.7zM109.5 253.8h0.7v0.7h-0.7zM118.1 252.4h0.7v0.7h-0.7zM115.2 253.7h0.7v0.7h-0.7zM110.1 253.9h0.7v0.7h-0.7zM111.2 253.4h0.7v0.7h-0.7zM110.0 254.5h0.7v0.7h-0.7zM108.2 253.0h0.7v0.7h-0.7zM115.6 254.1h0.7v0.7h-0.7zM112.3 252.9h0.7v0.7h-0.7zM112.2 257.7h0.7v0.7h-0.7zM112.9 253.3h0.7v0.7h-0.7zM111.5 252.5h0.7v0.7h-0.7zM114.2 252.3h0.7v0.7h-0.7zM111.4 252.4h0.7v0.7h-0.7zM112.3 253.6h0.7v0.7h-0.7zM112.0 253.0h0.7v0.7h-0.7zM111.5 255.3h0.7v0.7h-0.7zM113.2 252.8h0.7v0.7h-0.7zM113.6 253.2h0.7v0.7h-0.7zM109.9 253.0h0.7v0.7h-0.7zM116.3 254.1h0.7v0.7h-0.7zM115.4 252.2h0.7v0.7h-0.7zM110.0 252.2h0.7v0.7h-0.7zM115.7 251.7h0.7v0.7h-0.7zM111.4 255.1h0.7v0.7h-0.7zM112.5 253.0h0.7v0.7h-0.7zM113.8 253.4h0.7v0.7h-0.7zM112.4 253.7h0.7v0.7h-0.7zM111.6 253.2h0.7v0.7h-0.7zM114.3 251.6h0.7v0.7h-0.7zM112.6 251.5h0.7v0.7h-0.7zM114.5 254.3h0.7v0.7h-0.7zM114.9 255.0h0.7v0.7h-0.7zM115.0 254.4h0.7v0.7h-0.7zM111.4 254.8h0.7v0.7h-0.7zM111.2 257.0h0.7v0.7h-0.7zM113.6 254.2h0.7v0.7h-0.7zM110.5 255.0h0.7v0.7h-0.7zM115.3 250.8h0.7v0.7h-0.7zM111.9 252.5h0.7v0.7h-0.7zM111.7 255.5h0.7v0.7h-0.7zM117.3 251.6h0.7v0.7h-0.7zM115.1 252.9h0.7v0.7h-0.7zM115.7 249.4h0.7v0.7h-0.7zM112.1 255.2h0.7v0.7h-0.7zM111.5 255.2h0.7v0.7h-0.7zM112.0 255.1h0.7v0.7h-0.7zM114.2 252.6h0.7v0.7h-0.7zM111.5 253.0h0.7v0.7h-0.7zM115.3 253.3h0.7v0.7h-0.7zM111.7 258.6h0.7v0.7h-0.7zM109.8 252.9h0.7v0.7h-0.7zM114.1 251.6h0.7v0.7h-0.7zM113.0 252.6h0.7v0.7h-0.7zM110.0 254.0h0.7v0.7h-0.7zM110.7 252.1h0.7v0.7h-0.7zM115.5 251.5h0.7v0.7h-0.7zM114.2 255.2h0.7v0.7h-0.7zM115.0 254.0h0.7v0.7h-0.7z" fill="#20a020" fill-opacity="0.7" clip-path="url(#cp17)"/>
<text x="110.20" y="239.70" font-size="6.6" text-anchor="start" fill="#2a2ad0" stroke="#2a2ad0">Stage IV</text>
<text x="111.90" y="266.20" font-size="6.6" text-anchor="start" fill="#2a9a2a" stroke="#2a9a2a">Stage V</text>
<text x="15.80" y="249.20" font-size="6.9" text-anchor="middle" fill="#1a1a1a" stroke="#1a1a1a" transform="rotate(-90 15.80 249.20)">CD117</text>
<path d="M13.7 280.5 L13.7 268 M13.2 280.5 L26.5 280.5" stroke="#111" stroke-width="1.1" fill="none"/>
<path d="M13.7 264.8 L11.6 269.2 L15.8 269.2 Z M30.2 280.5 L25.8 278.4 L25.8 282.6 Z" fill="#111"/>
<text x="31.30" y="282.70" font-size="7.0" text-anchor="start" fill="#1a1a1a" stroke="#1a1a1a">CD94</text>
<line x1="54.50" y1="278.00" x2="54.50" y2="291.50" stroke="#111" stroke-width="0.9"/>
<path d="M54.8 295.7 L52.699999999999996 291 L56.9 291 Z" fill="#111"/>
<line x1="124.50" y1="278.00" x2="124.50" y2="291.50" stroke="#111" stroke-width="0.9"/>
<path d="M124.9 295.7 L122.80000000000001 291 L127.0 291 Z" fill="#111"/>
<path d="M30.7 341.3 L30.7 302" stroke="#111" stroke-width="1.0" fill="none"/>
<path d="M30.2 341.3 L61.5 341.3" stroke="#111" stroke-width="1.0" fill="none"/>
<path d="M30.7 298.9 L28.7 303.2 L32.7 303.2 Z M65.0 341.3 L60.6 339.2 L60.6 343.40000000000003 Z" fill="#111"/>
<text x="34.30" y="302.30" font-size="7.0" text-anchor="start" fill="#1a1a1a" stroke="#1a1a1a">Day 7</text>
<text x="26.70" y="325.50" font-size="6.8" text-anchor="middle" fill="#1a1a1a" stroke="#1a1a1a" transform="rotate(-90 26.70 325.50)">Count</text>
<text x="46.30" y="350.20" font-size="7.0" text-anchor="middle" fill="#1a1a1a" stroke="#1a1a1a">CD56</text>
<path d="M94.0 341.3 L94.0 302" stroke="#111" stroke-width="1.0" fill="none"/>
<path d="M93.5 341.3 L124.69999999999999 341.3" stroke="#111" stroke-width="1.0" fill="none"/>
<path d="M94.0 298.9 L92.0 303.2 L96.0 303.2 Z M128.2 341.3 L123.79999999999998 339.2 L123.79999999999998 343.40000000000003 Z" fill="#111"/>
<text x="97.60" y="302.30" font-size="7.0" text-anchor="start" fill="#1a1a1a" stroke="#1a1a1a">Day 17</text>
<text x="90.00" y="325.50" font-size="6.8" text-anchor="middle" fill="#1a1a1a" stroke="#1a1a1a" transform="rotate(-90 90.00 325.50)">Count</text>
<text x="109.60" y="350.20" font-size="7.0" text-anchor="middle" fill="#1a1a1a" stroke="#1a1a1a">CD56</text>
<line x1="31.00" y1="333.50" x2="64.00" y2="333.50" stroke="#aab" stroke-width="0.7"/>
<path d="M32.5 334 C34 333 35 326 36.3 319 C37 315 37.5 314.6 38 315 C38.6 316 39.5 324 41 330 C42 333 43.5 333.8 45 334 Z" fill="#7b2be0" fill-opacity="0.95"/>
<path d="M31 341.3 L31.3 338 C33 336 34.5 331 36.5 328.5 C37.5 327.6 38.3 327.6 39 329 C40.5 332 42 336 44 338.5 C45 340 46 340.8 47 341.3 Z" fill="#000"/>
<text x="42.80" y="321.20" font-size="6.6" text-anchor="start" fill="#e02020" stroke="#e02020">Stage III</text>
<line x1="94.00" y1="317.70" x2="128.40" y2="317.70" stroke="#aab" stroke-width="0.7"/>
<path d="M106.1 317.7 C108.125 316.7 109.25 302.2 110.6 302.2 C111.85 302.2 112.85 316.7 115.6 317.7 Z" fill="#30a030"/>
<line x1="94.00" y1="322.00" x2="128.40" y2="322.00" stroke="#aab" stroke-width="0.7"/>
<path d="M101.3 322 C104.225 321 105.85 305.8 107.8 305.8 C109.2 305.8 110.32 321 113.39999999999999 322 Z" fill="#2030e0"/>
<line x1="94.00" y1="326.20" x2="128.40" y2="326.20" stroke="#aab" stroke-width="0.7"/>
<path d="M99.1 326.2 C101.89 325.2 103.44 311.2 105.3 311.2 C107.14999999999999 311.2 108.63 325.2 112.7 326.2 Z" fill="#e01010"/>
<path d="M94.2 341.3 L94.5 338 C96 335 98.5 328.5 100.4 327.3 C101.2 327 101.8 328 102.5 329.5 C104 332.5 106 336.5 108 339 C109 340.5 109.8 341 110.5 341.3 Z" fill="#000"/>
<text x="129.40" y="317.60" font-size="6.6" text-anchor="start" fill="#2a9a2a" stroke="#2a9a2a">V</text>
<text x="129.20" y="322.90" font-size="6.6" text-anchor="start" fill="#2a2ad0" stroke="#2a2ad0">IV</text>
<text x="129.20" y="329.00" font-size="6.6" text-anchor="start" fill="#e02020" stroke="#e02020">III</text>
</svg></body></html>
